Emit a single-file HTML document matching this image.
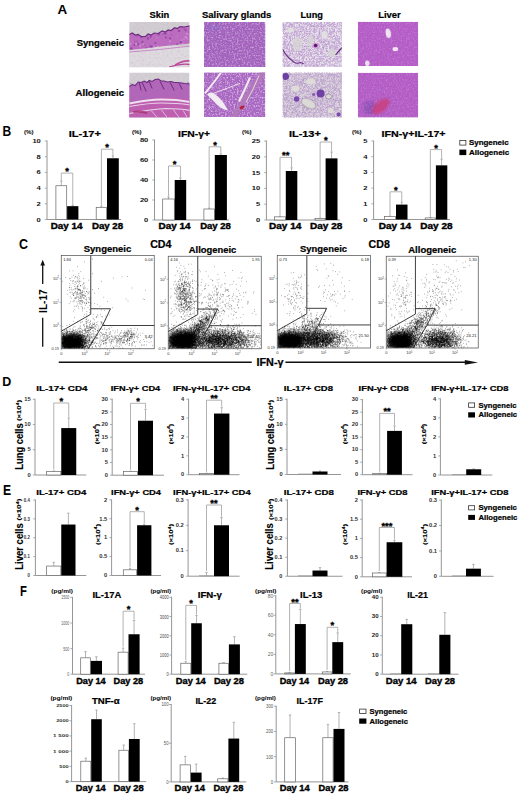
<!DOCTYPE html><html><head><meta charset="utf-8"><style>html,body{margin:0;padding:0;background:#fff;width:520px;height:796px;overflow:hidden}body{position:relative;font-family:"Liberation Sans",sans-serif}</style></head><body><svg width="520" height="796" viewBox="0 0 520 796" style="position:absolute;left:0;top:0">
<g font-family='"Liberation Sans", sans-serif' font-weight="bold">
<defs>
<filter id="blur2" x="-50%" y="-50%" width="200%" height="200%"><feGaussianBlur stdDeviation="2.2"/></filter>
<filter id="blur1" x="-50%" y="-50%" width="200%" height="200%"><feGaussianBlur stdDeviation="1"/></filter>
<filter id="blur05" x="-50%" y="-50%" width="200%" height="200%"><feGaussianBlur stdDeviation="0.5"/></filter>
<filter id="spD" x="0" y="0" width="100%" height="100%"><feTurbulence type="fractalNoise" baseFrequency="0.32" numOctaves="2" seed="4"/><feColorMatrix type="matrix" values="0 0 0 0 0.35  0 0 0 0 0.12  0 0 0 0 0.5  3 0 0 0 -1.2"/><feGaussianBlur stdDeviation="0.3"/></filter>
<filter id="spL" x="0" y="0" width="100%" height="100%"><feTurbulence type="fractalNoise" baseFrequency="0.32" numOctaves="2" seed="9"/><feColorMatrix type="matrix" values="0 0 0 0 0.9  0 0 0 0 0.75  0 0 0 0 0.92  3 0 0 0 -1.3"/><feGaussianBlur stdDeviation="0.3"/></filter>
<filter id="spG" x="0" y="0" width="100%" height="100%"><feTurbulence type="fractalNoise" baseFrequency="0.45" numOctaves="2" seed="21"/><feColorMatrix type="matrix" values="0 0 0 0 0.55  0 0 0 0 0.45  0 0 0 0 0.6  3.0 0 0 0 -1.4"/><feGaussianBlur stdDeviation="0.3"/></filter>
<filter id="net" x="0" y="0" width="100%" height="100%"><feTurbulence type="turbulence" baseFrequency="0.4" numOctaves="3" seed="8"/><feColorMatrix type="matrix" values="0 0 0 0 0.6  0 0 0 0 0.47  0 0 0 0 0.7  -4.5 0 0 0 1.75"/><feGaussianBlur stdDeviation="0.4"/></filter>
<filter id="net2" x="0" y="0" width="100%" height="100%"><feTurbulence type="turbulence" baseFrequency="0.42" numOctaves="3" seed="15"/><feColorMatrix type="matrix" values="0 0 0 0 0.55  0 0 0 0 0.45  0 0 0 0 0.64  -4.5 0 0 0 1.7"/><feGaussianBlur stdDeviation="0.4"/></filter>
<filter id="spL2" x="0" y="0" width="100%" height="100%"><feTurbulence type="fractalNoise" baseFrequency="0.6" numOctaves="2" seed="13"/><feColorMatrix type="matrix" values="0 0 0 0 0.88  0 0 0 0 0.72  0 0 0 0 0.92  3.2 0 0 0 -1.45"/><feGaussianBlur stdDeviation="0.3"/></filter>
<filter id="spD2" x="0" y="0" width="100%" height="100%"><feTurbulence type="fractalNoise" baseFrequency="0.55" numOctaves="2" seed="17"/><feColorMatrix type="matrix" values="0 0 0 0 0.38  0 0 0 0 0.14  0 0 0 0 0.52  3.2 0 0 0 -1.35"/><feGaussianBlur stdDeviation="0.3"/></filter>
</defs>
<text x="57.50" y="13.90" font-size="13.70" textLength="9.70" lengthAdjust="spacingAndGlyphs" stroke="#000" stroke-width="0.01">A</text>
<text x="149.50" y="17.50" font-size="9.80" textLength="19.80" lengthAdjust="spacingAndGlyphs" stroke="#000" stroke-width="0.22">Skin</text>
<text x="202.00" y="17.50" font-size="9.80" textLength="69.30" lengthAdjust="spacingAndGlyphs" stroke="#000" stroke-width="0.22">Salivary glands</text>
<text x="300.50" y="17.50" font-size="9.80" textLength="22.50" lengthAdjust="spacingAndGlyphs" stroke="#000" stroke-width="0.22">Lung</text>
<text x="378.20" y="17.50" font-size="9.80" textLength="22.60" lengthAdjust="spacingAndGlyphs" stroke="#000" stroke-width="0.22">Liver</text>
<text x="76.70" y="46.20" font-size="8.90" textLength="47.30" lengthAdjust="spacingAndGlyphs" stroke="#000" stroke-width="0.22">Syngeneic</text>
<text x="75.60" y="96.20" font-size="8.90" textLength="48.40" lengthAdjust="spacingAndGlyphs" stroke="#000" stroke-width="0.22">Allogeneic</text>
<clipPath id="c1"><rect x="129.2" y="22" width="60.3" height="45.3"/></clipPath>
<g clip-path="url(#c1)"><g transform="translate(129.2,22)">
<rect width="60.3" height="45.3" fill="#d1cdd1"/>
<rect y="24" width="60.3" height="45.3" fill="#dedade"/>
<rect width="60.3" height="45.3" filter="url(#spG)" opacity="0.35"/>
<polygon points="0,12.5 3,11 6,13 9,12.5 12,14.5 16,14.6 19,12 22,13 25,11 29,11.5 33,9 36,10 39,8 42,8.5 45.4,5.7 48,6.5 51,4.5 55,5 61,3.8 61,21.5 50,22.5 40,23.5 29,24.8 20,26 10,27 0,28" fill="#bb6cbf"/>
<clipPath id="skb"><polygon points="0,12.5 3,11 6,13 9,12.5 12,14.5 16,14.6 19,12 22,13 25,11 29,11.5 33,9 36,10 39,8 42,8.5 45.4,5.7 48,6.5 51,4.5 55,5 61,3.8 61,21.5 50,22.5 40,23.5 29,24.8 20,26 10,27 0,28"/></clipPath>
<g clip-path="url(#skb)"><g fill="#7a3290" opacity="0.6"><circle cx="7.8" cy="3.7" r="0.58"/><circle cx="30.5" cy="25.7" r="0.64"/><circle cx="36.7" cy="15.6" r="0.98"/><circle cx="1.8" cy="6.4" r="1.04"/><circle cx="9.0" cy="23.0" r="0.80"/><circle cx="56.6" cy="8.3" r="1.05"/><circle cx="4.3" cy="4.7" r="0.82"/><circle cx="7.9" cy="19.2" r="0.65"/><circle cx="57.8" cy="27.2" r="0.79"/><circle cx="37.9" cy="3.7" r="0.85"/><circle cx="22.5" cy="24.7" r="1.25"/><circle cx="31.2" cy="8.1" r="0.64"/><circle cx="40.4" cy="5.5" r="0.62"/><circle cx="16.8" cy="3.5" r="0.98"/><circle cx="8.4" cy="10.9" r="1.29"/><circle cx="48.1" cy="22.6" r="1.25"/><circle cx="40.9" cy="16.3" r="1.09"/><circle cx="31.3" cy="26.0" r="0.60"/><circle cx="49.8" cy="8.9" r="1.17"/><circle cx="33.5" cy="11.5" r="1.08"/><circle cx="59.8" cy="10.0" r="0.66"/><circle cx="12.5" cy="29.4" r="0.91"/><circle cx="33.8" cy="28.4" r="0.59"/><circle cx="29.5" cy="12.2" r="1.17"/><circle cx="21.5" cy="14.8" r="1.10"/><circle cx="36.1" cy="11.5" r="1.17"/><circle cx="14.4" cy="23.2" r="1.14"/><circle cx="48.9" cy="4.1" r="0.76"/><circle cx="52.9" cy="4.8" r="1.16"/><circle cx="7.9" cy="13.9" r="0.74"/><circle cx="28.5" cy="9.6" r="0.66"/><circle cx="16.9" cy="25.8" r="0.85"/><circle cx="5.1" cy="23.0" r="0.93"/><circle cx="54.7" cy="17.7" r="0.77"/><circle cx="26.2" cy="20.9" r="1.02"/><circle cx="9.0" cy="21.7" r="1.01"/><circle cx="41.1" cy="24.1" r="0.73"/><circle cx="12.3" cy="28.0" r="1.03"/><circle cx="55.0" cy="7.0" r="0.83"/><circle cx="13.2" cy="19.9" r="1.12"/><circle cx="2.0" cy="6.9" r="0.77"/><circle cx="12.2" cy="15.0" r="1.17"/><circle cx="21.1" cy="24.2" r="0.87"/><circle cx="28.6" cy="27.2" r="0.98"/><circle cx="55.3" cy="23.5" r="1.07"/><circle cx="42.5" cy="4.0" r="0.95"/><circle cx="20.7" cy="12.7" r="0.75"/><circle cx="1.0" cy="7.4" r="1.30"/><circle cx="9.7" cy="30.0" r="0.62"/><circle cx="60.8" cy="6.9" r="0.80"/><circle cx="28.0" cy="9.6" r="0.97"/><circle cx="42.2" cy="12.6" r="0.57"/><circle cx="3.3" cy="4.6" r="0.67"/><circle cx="2.1" cy="26.5" r="1.17"/><circle cx="51.6" cy="20.2" r="1.15"/><circle cx="35.9" cy="7.3" r="1.04"/><circle cx="18.8" cy="16.5" r="1.24"/><circle cx="19.4" cy="5.1" r="1.13"/><circle cx="5.4" cy="19.5" r="0.78"/><circle cx="10.5" cy="9.3" r="1.05"/></g><g fill="#d9a0d9" opacity="0.7"><circle cx="15.3" cy="14.3" r="0.55"/><circle cx="57.8" cy="11.7" r="0.98"/><circle cx="11.5" cy="7.6" r="0.72"/><circle cx="10.9" cy="24.1" r="0.98"/><circle cx="21.3" cy="27.7" r="0.56"/><circle cx="14.1" cy="22.7" r="1.11"/><circle cx="40.9" cy="19.2" r="0.99"/><circle cx="7.0" cy="22.2" r="1.05"/><circle cx="54.7" cy="17.5" r="0.92"/><circle cx="52.3" cy="18.1" r="0.82"/><circle cx="0.2" cy="27.5" r="0.64"/><circle cx="33.0" cy="10.6" r="1.16"/><circle cx="6.5" cy="9.0" r="0.60"/><circle cx="15.7" cy="28.6" r="0.86"/><circle cx="25.4" cy="28.5" r="0.59"/><circle cx="27.7" cy="15.9" r="0.58"/><circle cx="28.6" cy="24.6" r="0.99"/><circle cx="56.6" cy="23.1" r="1.12"/><circle cx="15.8" cy="28.6" r="0.82"/><circle cx="11.5" cy="5.2" r="1.06"/><circle cx="40.9" cy="27.3" r="1.10"/><circle cx="57.7" cy="16.5" r="0.87"/><circle cx="56.3" cy="15.1" r="1.04"/><circle cx="53.7" cy="21.5" r="0.71"/><circle cx="3.9" cy="19.6" r="0.61"/><circle cx="57.1" cy="14.8" r="0.63"/><circle cx="39.6" cy="10.9" r="0.50"/><circle cx="53.2" cy="27.8" r="0.55"/><circle cx="24.9" cy="25.1" r="1.03"/><circle cx="13.4" cy="5.8" r="1.13"/><circle cx="48.4" cy="13.9" r="0.54"/><circle cx="40.4" cy="23.6" r="1.00"/><circle cx="47.5" cy="26.7" r="1.04"/><circle cx="12.3" cy="29.0" r="0.98"/><circle cx="8.2" cy="9.5" r="0.85"/><circle cx="46.6" cy="27.1" r="0.84"/><circle cx="1.2" cy="21.8" r="0.99"/><circle cx="57.7" cy="4.8" r="0.67"/><circle cx="8.2" cy="8.7" r="1.03"/><circle cx="36.6" cy="8.1" r="0.63"/></g></g>
<polyline points="0,12.5 3,11 6,13 9,12.5 12,14.5 16,14.6 19,12 22,13 25,11 29,11.5 33,9 36,10 39,8 42,8.5 45.4,5.7 48,6.5 51,4.5 55,5 61,3.8" fill="none" stroke="#6e2c80" stroke-width="1.2"/>
<path d="M46 43 Q54 38 61 39" stroke="#c34c9d" stroke-width="1.6" fill="none"/>
<path d="M40 45 Q52 41 61 42.5" stroke="#b9459a" stroke-width="1.3" fill="none"/>
<path d="M0 30 Q30 28 61 24" stroke="#c88ac8" stroke-width="1" fill="none"/>
</g></g>
<clipPath id="c2"><rect x="129.2" y="72.5" width="60.3" height="45"/></clipPath>
<g clip-path="url(#c2)"><g transform="translate(129.2,72.5)">
<rect width="60.3" height="45" fill="#d3cfd3"/>
<rect width="60.3" height="45" filter="url(#spG)" opacity="0.3"/>
<polygon points="0,14 3,12 6,13 9,9.5 12,10 15,8.5 18,10 20,8 23,9 26,7 29,6.5 32,8.5 35,8.5 38,9.5 42,9 45,10 48,10 52,10.5 55,11 61,11.4 61,45 0,45" fill="#b466b8"/>
<path d="M0 30 Q25 25 40 25 Q52 25 61 28 L61 45 L0 45Z" fill="#c35fae"/>
<rect y="10" width="60.3" height="45" filter="url(#spD2)" opacity="0.5"/>
<polyline points="0,14 3,12 6,13 9,9.5 12,10 15,8.5 18,10 20,8 23,9 26,7 29,6.5 32,8.5 35,8.5 38,9.5 42,9 45,10 48,10 52,10.5 55,11 61,11.4" fill="none" stroke="#6b2a80" stroke-width="1.1"/>
<path d="M10 10 L12 18 M13 10 L17 19 M20 9 L23 16 M31 9 L35 17 M41 10 L45 18 M50 11 L53 17" stroke="#5c2275" stroke-width="1" fill="none" opacity="0.85"/>
<path d="M0 31 Q20 27 32 27 Q48 27 61 29.5" stroke="#efe0ef" stroke-width="1.8" fill="none"/>
<path d="M0 34 Q20 30.5 32 30.5 Q48 30.5 61 32.5" stroke="#e8d4e8" stroke-width="1.1" fill="none"/>
<path d="M0 41 Q20 37 36 36 Q50 36 61 38" stroke="#ead6ea" stroke-width="1.2" fill="none"/>
<path d="M4 39.5 Q10 38.5 18 40.5" stroke="#a8306e" stroke-width="2.2" fill="none" opacity="0.8"/>
<path d="M22 38 L28 45 M32 37 L38 45 M44 37 L50 45 M54 38 L58 45" stroke="#e6cce6" stroke-width="0.8" fill="none"/>
</g></g>
<clipPath id="c3"><rect x="204" y="22" width="61.4" height="45"/></clipPath>
<g clip-path="url(#c3)"><g transform="translate(204,22)">
<rect width="61.4" height="45" fill="#a160bc"/>
<rect x="3" y="3" width="14" height="5" fill="#8062c6" opacity="0.6" filter="url(#blur1)"/>
<rect width="61.4" height="45" filter="url(#spD2)" opacity="0.9"/>
<rect width="61.4" height="45" filter="url(#spL2)" opacity="0.45"/>
</g></g>
<clipPath id="c4"><rect x="204" y="72.4" width="61.3" height="44.7"/></clipPath>
<g clip-path="url(#c4)"><g transform="translate(204,72.4)">
<rect width="61.3" height="44.7" fill="#a866c2"/>
<rect width="61.3" height="44.7" filter="url(#spD2)" opacity="0.7"/>
<rect width="61.3" height="44.7" filter="url(#spL2)" opacity="0.6"/>
<path d="M60 -2 L28 47" stroke="#b27ab8" stroke-width="6" fill="none" opacity="0.8"/>
<path d="M18 -1 Q10 10 1 21" stroke="#f4eef4" stroke-width="1.8" fill="none"/>
<path d="M3 22 Q6 19 10 21 Q16 25 20 31 Q23 36 24 38 Q18 37 13 32 Q8 27 3 22Z" fill="#f2ecf2"/>
<path d="M8 21.5 L36 11" stroke="#eee4ee" stroke-width="0.9" fill="none"/>
<path d="M46 5 Q42 15 35 29" stroke="#f0e6f0" stroke-width="2.2" fill="none"/>
<path d="M55 3 Q50 16 42 30" stroke="#e4d4e4" stroke-width="1" fill="none"/>
<ellipse cx="38" cy="35" rx="2.6" ry="1.6" transform="rotate(-30 38 35)" fill="#b8203c"/>
</g></g>
<clipPath id="c5"><rect x="282.6" y="22" width="59.2" height="44.8"/></clipPath>
<g clip-path="url(#c5)"><g transform="translate(282.6,22)">
<rect width="59.2" height="44.8" fill="#e8e4ec"/>
<rect width="59.2" height="44.8" filter="url(#net)"/>
<rect width="59.2" height="44.8" filter="url(#spD2)" opacity="0.4"/>
<ellipse cx="15" cy="22" rx="5" ry="7" fill="#d8d6d6" opacity="0.8" filter="url(#blur05)"/>
<ellipse cx="28" cy="19" rx="3.5" ry="6" fill="#d8d6d6" opacity="0.8" filter="url(#blur05)"/>
<ellipse cx="50" cy="31" rx="5" ry="4" fill="#d8d6d6" opacity="0.8" filter="url(#blur05)"/>
<ellipse cx="42" cy="13" rx="3" ry="4" fill="#e2dfe2" filter="url(#blur05)"/>
<ellipse cx="8" cy="8" rx="3" ry="2.5" fill="#e2dfe2" filter="url(#blur05)"/>
<circle cx="33" cy="23.5" r="3" fill="#d07ad0" opacity="0.6"/>
<circle cx="33" cy="23.5" r="1.8" fill="#5a1a70"/>
<path d="M0 27 Q4 35 9 38 Q12 42 16 41 Q19 40 21 42" stroke="#6a2e88" stroke-width="1.1" fill="none"/>
<path d="M53 33 Q56 29 60 25" stroke="#5e2680" stroke-width="1.2" fill="none"/>
</g></g>
<clipPath id="c6"><rect x="282.6" y="72.5" width="59.2" height="45"/></clipPath>
<g clip-path="url(#c6)"><g transform="translate(282.6,72.5)">
<rect width="59.2" height="45" fill="#dcd6de"/>
<rect width="59.2" height="45" filter="url(#net2)"/>
<rect width="59.2" height="45" filter="url(#spD2)" opacity="0.35"/>
<ellipse cx="26" cy="31" rx="8" ry="4.4" transform="rotate(28 26 31)" fill="#dcdad8" stroke="#6a4a7a" stroke-width="0.4" filter="url(#blur05)"/>
<ellipse cx="46" cy="24" rx="3" ry="2.6" fill="#dcdad8" stroke="#6a4a7a" stroke-width="0.4"/>
<ellipse cx="48" cy="38" rx="3" ry="2.6" fill="#dedbd9" filter="url(#blur05)"/>
<ellipse cx="28" cy="9" rx="5" ry="3" fill="#dedbd9" filter="url(#blur05)"/>
<ellipse cx="13" cy="16" rx="4" ry="3" fill="#dedbd9" filter="url(#blur05)"/>
<circle cx="3" cy="4" r="3.4" fill="#6a40a0" filter="url(#blur05)"/>
<circle cx="38" cy="21" r="4" fill="#7040a4" filter="url(#blur05)"/>
<circle cx="14" cy="26.5" r="2.8" fill="#7a4aaa" filter="url(#blur05)"/>
<circle cx="31" cy="22" r="1.5" fill="#8456b0"/>
<circle cx="56" cy="42" r="2" fill="#7a4aaa" filter="url(#blur05)"/>
</g></g>
<clipPath id="c7"><rect x="357.8" y="21.8" width="60.4" height="44.2"/></clipPath>
<g clip-path="url(#c7)"><g transform="translate(357.8,21.8)">
<rect width="60.4" height="44.2" fill="#b65bc8"/>
<rect width="60.4" height="44.2" filter="url(#spD2)" opacity="0.4"/>
<rect width="60.4" height="44.2" filter="url(#spL2)" opacity="0.2"/>
<ellipse cx="30.5" cy="11.5" rx="2.6" ry="4.8" transform="rotate(-10 30.5 11.5)" fill="#f0e4f2" filter="url(#blur05)"/>
<ellipse cx="37.5" cy="27.3" rx="2.8" ry="2.2" fill="#f0e4f2" filter="url(#blur05)"/>
<ellipse cx="9.5" cy="41.5" rx="2.2" ry="2.8" fill="#ecdeee" filter="url(#blur05)"/>
</g></g>
<clipPath id="c8"><rect x="357.8" y="72.8" width="60.4" height="44.8"/></clipPath>
<g clip-path="url(#c8)"><g transform="translate(357.8,72.8)">
<rect width="60.4" height="44.8" fill="#b55bc6"/>
<ellipse cx="12" cy="35" rx="7" ry="7" fill="#8a4cb4" opacity="0.8" filter="url(#blur1)"/>
<rect width="60.4" height="44.8" filter="url(#spD2)" opacity="0.4"/>
<rect width="60.4" height="44.8" filter="url(#spL2)" opacity="0.2"/>
<ellipse cx="23" cy="33.5" rx="10.5" ry="5.4" transform="rotate(-40 23 33.5)" fill="#c9417f" opacity="0.85" filter="url(#blur1)"/>
</g></g>
<text x="2.60" y="135.60" font-size="14.00" textLength="8.70" lengthAdjust="spacingAndGlyphs" stroke="#000" stroke-width="0.01">B</text>
<line x1="47.00" y1="140.50" x2="47.00" y2="219.50" stroke="#8a8a8a" stroke-width="0.9"/>
<line x1="47.00" y1="219.50" x2="121.00" y2="219.50" stroke="#8a8a8a" stroke-width="0.9"/>
<line x1="44.80" y1="219.50" x2="47.00" y2="219.50" stroke="#8a8a8a" stroke-width="0.7"/>
<text x="36.60" y="221.55" font-size="5.70" fill="#111" textLength="4.20" lengthAdjust="spacingAndGlyphs">0</text>
<line x1="44.80" y1="203.80" x2="47.00" y2="203.80" stroke="#8a8a8a" stroke-width="0.7"/>
<text x="36.60" y="205.85" font-size="5.70" fill="#111" textLength="4.20" lengthAdjust="spacingAndGlyphs">2</text>
<line x1="44.80" y1="188.10" x2="47.00" y2="188.10" stroke="#8a8a8a" stroke-width="0.7"/>
<text x="36.60" y="190.15" font-size="5.70" fill="#111" textLength="4.20" lengthAdjust="spacingAndGlyphs">4</text>
<line x1="44.80" y1="172.40" x2="47.00" y2="172.40" stroke="#8a8a8a" stroke-width="0.7"/>
<text x="36.60" y="174.45" font-size="5.70" fill="#111" textLength="4.20" lengthAdjust="spacingAndGlyphs">6</text>
<line x1="44.80" y1="156.70" x2="47.00" y2="156.70" stroke="#8a8a8a" stroke-width="0.7"/>
<text x="36.60" y="158.75" font-size="5.70" fill="#111" textLength="4.20" lengthAdjust="spacingAndGlyphs">8</text>
<line x1="44.80" y1="141.00" x2="47.00" y2="141.00" stroke="#8a8a8a" stroke-width="0.7"/>
<text x="32.40" y="143.05" font-size="5.70" fill="#111" textLength="8.40" lengthAdjust="spacingAndGlyphs">10</text>
<line x1="61.30" y1="181.03" x2="61.30" y2="185.75" stroke="#999" stroke-width="0.75"/>
<line x1="60.10" y1="181.03" x2="62.50" y2="181.03" stroke="#999" stroke-width="0.75"/>
<rect x="55.90" y="185.75" width="10.80" height="33.75" fill="#fff" stroke="#666" stroke-width="0.7"/>
<line x1="72.75" y1="205.37" x2="72.75" y2="206.16" stroke="#999" stroke-width="0.75"/>
<line x1="71.55" y1="205.37" x2="73.95" y2="205.37" stroke="#999" stroke-width="0.75"/>
<rect x="67.10" y="206.16" width="11.30" height="13.34" fill="#000"/>
<line x1="101.40" y1="206.16" x2="101.40" y2="207.33" stroke="#999" stroke-width="0.75"/>
<line x1="100.20" y1="206.16" x2="102.60" y2="206.16" stroke="#999" stroke-width="0.75"/>
<rect x="96.20" y="207.33" width="10.40" height="12.17" fill="#fff" stroke="#666" stroke-width="0.7"/>
<line x1="112.90" y1="155.92" x2="112.90" y2="158.27" stroke="#999" stroke-width="0.75"/>
<line x1="111.70" y1="155.92" x2="114.10" y2="155.92" stroke="#999" stroke-width="0.75"/>
<rect x="107.00" y="158.27" width="11.80" height="61.23" fill="#000"/>
<polyline points="61.30,180.44 61.30,173.10 72.75,173.10 72.75,204.77" fill="none" stroke="#999" stroke-width="0.75"/>
<text x="67.03" y="174.10" font-size="9.40" text-anchor="middle" stroke="#000" stroke-width="0.35">*</text>
<polyline points="101.40,205.56 101.40,149.20 112.90,149.20 112.90,155.32" fill="none" stroke="#999" stroke-width="0.75"/>
<text x="107.15" y="150.20" font-size="9.40" text-anchor="middle" stroke="#000" stroke-width="0.35">*</text>
<text x="68.70" y="136.60" font-size="8.80" textLength="32.30" lengthAdjust="spacingAndGlyphs" stroke="#000" stroke-width="0.22">IL-17+</text>
<text x="24.00" y="134.20" font-size="4.80" textLength="9.60" lengthAdjust="spacingAndGlyphs">(%)</text>
<text x="50.70" y="228.60" font-size="8.20" textLength="31.70" lengthAdjust="spacingAndGlyphs" stroke="#000" stroke-width="0.35">Day 14</text>
<text x="91.90" y="228.60" font-size="8.20" textLength="31.20" lengthAdjust="spacingAndGlyphs" stroke="#000" stroke-width="0.35">Day 28</text>
<line x1="154.50" y1="139.50" x2="154.50" y2="220.00" stroke="#8a8a8a" stroke-width="0.9"/>
<line x1="154.50" y1="220.00" x2="229.00" y2="220.00" stroke="#8a8a8a" stroke-width="0.9"/>
<line x1="152.30" y1="220.00" x2="154.50" y2="220.00" stroke="#8a8a8a" stroke-width="0.7"/>
<text x="144.10" y="222.05" font-size="5.70" fill="#111" textLength="4.20" lengthAdjust="spacingAndGlyphs">0</text>
<line x1="152.30" y1="200.00" x2="154.50" y2="200.00" stroke="#8a8a8a" stroke-width="0.7"/>
<text x="139.90" y="202.05" font-size="5.70" fill="#111" textLength="8.40" lengthAdjust="spacingAndGlyphs">20</text>
<line x1="152.30" y1="180.00" x2="154.50" y2="180.00" stroke="#8a8a8a" stroke-width="0.7"/>
<text x="139.90" y="182.05" font-size="5.70" fill="#111" textLength="8.40" lengthAdjust="spacingAndGlyphs">40</text>
<line x1="152.30" y1="160.00" x2="154.50" y2="160.00" stroke="#8a8a8a" stroke-width="0.7"/>
<text x="139.90" y="162.05" font-size="5.70" fill="#111" textLength="8.40" lengthAdjust="spacingAndGlyphs">60</text>
<line x1="152.30" y1="140.00" x2="154.50" y2="140.00" stroke="#8a8a8a" stroke-width="0.7"/>
<text x="139.90" y="142.05" font-size="5.70" fill="#111" textLength="8.40" lengthAdjust="spacingAndGlyphs">80</text>
<line x1="168.50" y1="197.00" x2="168.50" y2="199.00" stroke="#999" stroke-width="0.75"/>
<line x1="167.30" y1="197.00" x2="169.70" y2="197.00" stroke="#999" stroke-width="0.75"/>
<rect x="162.70" y="199.00" width="11.60" height="21.00" fill="#fff" stroke="#666" stroke-width="0.7"/>
<line x1="180.45" y1="178.00" x2="180.45" y2="180.00" stroke="#999" stroke-width="0.75"/>
<line x1="179.25" y1="178.00" x2="181.65" y2="178.00" stroke="#999" stroke-width="0.75"/>
<rect x="174.70" y="180.00" width="11.50" height="40.00" fill="#000"/>
<line x1="209.15" y1="208.00" x2="209.15" y2="209.00" stroke="#999" stroke-width="0.75"/>
<line x1="207.95" y1="208.00" x2="210.35" y2="208.00" stroke="#999" stroke-width="0.75"/>
<rect x="203.90" y="209.00" width="10.50" height="11.00" fill="#fff" stroke="#666" stroke-width="0.7"/>
<line x1="220.85" y1="154.00" x2="220.85" y2="155.00" stroke="#999" stroke-width="0.75"/>
<line x1="219.65" y1="154.00" x2="222.05" y2="154.00" stroke="#999" stroke-width="0.75"/>
<rect x="214.80" y="155.00" width="12.10" height="65.00" fill="#000"/>
<polyline points="168.50,196.40 168.50,166.00 180.45,166.00 180.45,177.40" fill="none" stroke="#999" stroke-width="0.75"/>
<text x="174.47" y="167.00" font-size="9.40" text-anchor="middle" stroke="#000" stroke-width="0.35">*</text>
<polyline points="209.15,207.40 209.15,146.80 220.85,146.80 220.85,153.40" fill="none" stroke="#999" stroke-width="0.75"/>
<text x="215.00" y="147.80" font-size="9.40" text-anchor="middle" stroke="#000" stroke-width="0.35">*</text>
<text x="178.00" y="136.60" font-size="8.80" textLength="32.00" lengthAdjust="spacingAndGlyphs" stroke="#000" stroke-width="0.22">IFN-&#947;+</text>
<text x="132.00" y="134.20" font-size="4.80" textLength="9.60" lengthAdjust="spacingAndGlyphs">(%)</text>
<text x="158.50" y="228.60" font-size="8.20" textLength="32.00" lengthAdjust="spacingAndGlyphs" stroke="#000" stroke-width="0.35">Day 14</text>
<text x="200.20" y="228.60" font-size="8.20" textLength="30.70" lengthAdjust="spacingAndGlyphs" stroke="#000" stroke-width="0.35">Day 28</text>
<line x1="266.40" y1="140.50" x2="266.40" y2="220.00" stroke="#8a8a8a" stroke-width="0.9"/>
<line x1="266.40" y1="220.00" x2="340.00" y2="220.00" stroke="#8a8a8a" stroke-width="0.9"/>
<line x1="264.20" y1="220.00" x2="266.40" y2="220.00" stroke="#8a8a8a" stroke-width="0.7"/>
<text x="256.00" y="222.05" font-size="5.70" fill="#111" textLength="4.20" lengthAdjust="spacingAndGlyphs">0</text>
<line x1="264.20" y1="204.20" x2="266.40" y2="204.20" stroke="#8a8a8a" stroke-width="0.7"/>
<text x="256.00" y="206.25" font-size="5.70" fill="#111" textLength="4.20" lengthAdjust="spacingAndGlyphs">5</text>
<line x1="264.20" y1="188.40" x2="266.40" y2="188.40" stroke="#8a8a8a" stroke-width="0.7"/>
<text x="251.80" y="190.45" font-size="5.70" fill="#111" textLength="8.40" lengthAdjust="spacingAndGlyphs">10</text>
<line x1="264.20" y1="172.60" x2="266.40" y2="172.60" stroke="#8a8a8a" stroke-width="0.7"/>
<text x="251.80" y="174.65" font-size="5.70" fill="#111" textLength="8.40" lengthAdjust="spacingAndGlyphs">15</text>
<line x1="264.20" y1="156.80" x2="266.40" y2="156.80" stroke="#8a8a8a" stroke-width="0.7"/>
<text x="251.80" y="158.85" font-size="5.70" fill="#111" textLength="8.40" lengthAdjust="spacingAndGlyphs">20</text>
<line x1="264.20" y1="141.00" x2="266.40" y2="141.00" stroke="#8a8a8a" stroke-width="0.7"/>
<text x="251.80" y="143.05" font-size="5.70" fill="#111" textLength="8.40" lengthAdjust="spacingAndGlyphs">25</text>
<line x1="280.00" y1="216.37" x2="280.00" y2="216.84" stroke="#999" stroke-width="0.75"/>
<line x1="278.80" y1="216.37" x2="281.20" y2="216.37" stroke="#999" stroke-width="0.75"/>
<rect x="274.60" y="216.84" width="10.80" height="3.16" fill="#fff" stroke="#666" stroke-width="0.7"/>
<line x1="291.55" y1="167.86" x2="291.55" y2="171.02" stroke="#999" stroke-width="0.75"/>
<line x1="290.35" y1="167.86" x2="292.75" y2="167.86" stroke="#999" stroke-width="0.75"/>
<rect x="285.80" y="171.02" width="11.50" height="48.98" fill="#000"/>
<line x1="320.10" y1="218.10" x2="320.10" y2="218.42" stroke="#999" stroke-width="0.75"/>
<line x1="318.90" y1="218.10" x2="321.30" y2="218.10" stroke="#999" stroke-width="0.75"/>
<rect x="315.00" y="218.42" width="10.20" height="1.58" fill="#fff" stroke="#666" stroke-width="0.7"/>
<line x1="331.55" y1="152.06" x2="331.55" y2="158.38" stroke="#999" stroke-width="0.75"/>
<line x1="330.35" y1="152.06" x2="332.75" y2="152.06" stroke="#999" stroke-width="0.75"/>
<rect x="325.60" y="158.38" width="11.90" height="61.62" fill="#000"/>
<polyline points="280.00,215.77 280.00,157.30 291.55,157.30 291.55,167.26" fill="none" stroke="#999" stroke-width="0.75"/>
<text x="285.77" y="158.30" font-size="9.40" text-anchor="middle" stroke="#000" stroke-width="0.35">**</text>
<polyline points="320.10,217.50 320.10,142.00 331.55,142.00 331.55,151.46" fill="none" stroke="#999" stroke-width="0.75"/>
<text x="325.83" y="143.00" font-size="9.40" text-anchor="middle" stroke="#000" stroke-width="0.35">*</text>
<text x="289.00" y="136.60" font-size="8.80" textLength="31.80" lengthAdjust="spacingAndGlyphs" stroke="#000" stroke-width="0.22">IL-13+</text>
<text x="242.00" y="134.20" font-size="4.80" textLength="9.60" lengthAdjust="spacingAndGlyphs">(%)</text>
<text x="269.00" y="228.60" font-size="8.20" textLength="32.40" lengthAdjust="spacingAndGlyphs" stroke="#000" stroke-width="0.35">Day 14</text>
<text x="310.00" y="228.60" font-size="8.20" textLength="32.30" lengthAdjust="spacingAndGlyphs" stroke="#000" stroke-width="0.35">Day 28</text>
<line x1="373.60" y1="140.50" x2="373.60" y2="219.50" stroke="#8a8a8a" stroke-width="0.9"/>
<line x1="373.60" y1="219.50" x2="450.00" y2="219.50" stroke="#8a8a8a" stroke-width="0.9"/>
<line x1="371.40" y1="219.50" x2="373.60" y2="219.50" stroke="#8a8a8a" stroke-width="0.7"/>
<text x="363.20" y="221.55" font-size="5.70" fill="#111" textLength="4.20" lengthAdjust="spacingAndGlyphs">0</text>
<line x1="371.40" y1="203.80" x2="373.60" y2="203.80" stroke="#8a8a8a" stroke-width="0.7"/>
<text x="363.20" y="205.85" font-size="5.70" fill="#111" textLength="4.20" lengthAdjust="spacingAndGlyphs">1</text>
<line x1="371.40" y1="188.10" x2="373.60" y2="188.10" stroke="#8a8a8a" stroke-width="0.7"/>
<text x="363.20" y="190.15" font-size="5.70" fill="#111" textLength="4.20" lengthAdjust="spacingAndGlyphs">2</text>
<line x1="371.40" y1="172.40" x2="373.60" y2="172.40" stroke="#8a8a8a" stroke-width="0.7"/>
<text x="363.20" y="174.45" font-size="5.70" fill="#111" textLength="4.20" lengthAdjust="spacingAndGlyphs">3</text>
<line x1="371.40" y1="156.70" x2="373.60" y2="156.70" stroke="#8a8a8a" stroke-width="0.7"/>
<text x="363.20" y="158.75" font-size="5.70" fill="#111" textLength="4.20" lengthAdjust="spacingAndGlyphs">4</text>
<line x1="371.40" y1="141.00" x2="373.60" y2="141.00" stroke="#8a8a8a" stroke-width="0.7"/>
<text x="363.20" y="143.05" font-size="5.70" fill="#111" textLength="4.20" lengthAdjust="spacingAndGlyphs">5</text>
<line x1="390.00" y1="216.05" x2="390.00" y2="216.36" stroke="#999" stroke-width="0.75"/>
<line x1="388.80" y1="216.05" x2="391.20" y2="216.05" stroke="#999" stroke-width="0.75"/>
<rect x="384.40" y="216.36" width="11.20" height="3.14" fill="#fff" stroke="#666" stroke-width="0.7"/>
<line x1="401.75" y1="202.23" x2="401.75" y2="204.59" stroke="#999" stroke-width="0.75"/>
<line x1="400.55" y1="202.23" x2="402.95" y2="202.23" stroke="#999" stroke-width="0.75"/>
<rect x="396.00" y="204.59" width="11.50" height="14.91" fill="#000"/>
<line x1="430.35" y1="217.62" x2="430.35" y2="217.93" stroke="#999" stroke-width="0.75"/>
<line x1="429.15" y1="217.62" x2="431.55" y2="217.62" stroke="#999" stroke-width="0.75"/>
<rect x="425.20" y="217.93" width="10.30" height="1.57" fill="#fff" stroke="#666" stroke-width="0.7"/>
<line x1="441.60" y1="159.06" x2="441.60" y2="165.34" stroke="#999" stroke-width="0.75"/>
<line x1="440.40" y1="159.06" x2="442.80" y2="159.06" stroke="#999" stroke-width="0.75"/>
<rect x="435.90" y="165.34" width="11.40" height="54.16" fill="#000"/>
<polyline points="390.00,215.45 390.00,191.80 401.75,191.80 401.75,201.63" fill="none" stroke="#999" stroke-width="0.75"/>
<text x="395.88" y="192.80" font-size="9.40" text-anchor="middle" stroke="#000" stroke-width="0.35">*</text>
<polyline points="430.35,217.02 430.35,149.60 441.60,149.60 441.60,158.46" fill="none" stroke="#999" stroke-width="0.75"/>
<text x="435.98" y="150.60" font-size="9.40" text-anchor="middle" stroke="#000" stroke-width="0.35">*</text>
<text x="381.50" y="136.60" font-size="8.80" textLength="64.10" lengthAdjust="spacingAndGlyphs" stroke="#000" stroke-width="0.22">IFN-&#947;+IL-17+</text>
<text x="352.00" y="134.20" font-size="4.80" textLength="9.60" lengthAdjust="spacingAndGlyphs">(%)</text>
<text x="378.80" y="228.60" font-size="8.20" textLength="32.20" lengthAdjust="spacingAndGlyphs" stroke="#000" stroke-width="0.35">Day 14</text>
<text x="420.30" y="228.60" font-size="8.20" textLength="32.20" lengthAdjust="spacingAndGlyphs" stroke="#000" stroke-width="0.35">Day 28</text>
<rect x="459.80" y="140.40" width="6.10" height="4.70" fill="#fff" stroke="#333" stroke-width="0.8"/>
<rect x="459.40" y="149.60" width="6.90" height="5.50" fill="#000"/>
<text x="469.00" y="145.40" font-size="7.20" textLength="39.60" lengthAdjust="spacingAndGlyphs" stroke="#000" stroke-width="0.22">Syngeneic</text>
<text x="469.00" y="155.00" font-size="7.20" textLength="40.20" lengthAdjust="spacingAndGlyphs" stroke="#000" stroke-width="0.22">Allogeneic</text>
<text x="18.90" y="249.20" font-size="13.80" textLength="9.00" lengthAdjust="spacingAndGlyphs" stroke="#000" stroke-width="0.01">C</text>
<g transform="translate(61.25,255.50)">
<clipPath id="fc61"><rect x="0" y="0" width="93" height="93.25"/></clipPath><g clip-path="url(#fc61)">
<rect x="0" y="79.5" width="22" height="14" rx="4.2" fill="#000" opacity="0.9" filter="url(#blur2)"/>
</g>
<path transform="scale(0.1)" d="M110 896h7M135 897h7M87 804h7M34 849h7M71 872h7M26 905h7M115 833h7M224 807h7M68 915h7M57 920h7M152 884h7M140 835h7M119 885h7M31 870h7M108 907h7M169 803h7M71 857h7M90 844h7M133 794h7M123 862h7M94 887h7M64 919h7M106 805h7M120 790h7M69 888h7M41 896h7M200 821h7M41 905h7M107 823h7M185 791h7M101 881h7M119 901h7M115 893h7M116 879h7M225 926h7M183 795h7M280 891h7M175 876h7M8 873h7M116 831h7M94 898h7M168 890h7M104 884h7M167 917h7M232 890h7M53 902h7M127 807h7M71 891h7M9 839h7M61 859h7M93 910h7M186 913h7M207 896h7M42 890h7M165 806h7M71 892h7M102 850h7M217 905h7M82 904h7M79 901h7M89 820h7M239 833h7M74 812h7M84 838h7M140 810h7M100 832h7M93 855h7M15 815h7M109 794h7M72 797h7M209 888h7M166 868h7M108 916h7M167 917h7M81 848h7M199 899h7M110 793h7M139 854h7M84 771h7M34 826h7M124 902h7M301 869h7M39 840h7M57 913h7M127 813h7M152 879h7M95 840h7M92 823h7M170 888h7M154 815h7M103 836h7M20 810h7M132 895h7M37 805h7M193 798h7M126 873h7M118 899h7M60 801h7M100 924h7M14 872h7M141 884h7M182 775h7M174 893h7M38 844h7M176 814h7M121 780h7M216 892h7M233 848h7M104 808h7M87 839h7M27 848h7M203 836h7M106 888h7M43 867h7M57 835h7M217 806h7M97 841h7M192 854h7M111 883h7M51 893h7M82 876h7M62 876h7M111 815h7M78 757h7M85 839h7M41 832h7M251 851h7M53 803h7M20 809h7M139 860h7M230 871h7M92 890h7M56 854h7M172 867h7M116 831h7M46 923h7M98 824h7M7 871h7M224 852h7M67 853h7M135 895h7M107 868h7M73 856h7M67 929h7M164 829h7M84 813h7M97 905h7M112 900h7M210 920h7M168 811h7M143 919h7M62 889h7M191 803h7M192 876h7M98 851h7M156 786h7M176 829h7M181 921h7M188 842h7M71 829h7M239 908h7M4 914h7M183 914h7M152 826h7M184 862h7M270 917h7M236 832h7M13 828h7M24 807h7M109 735h7M181 792h7M132 896h7M114 858h7M89 830h7M113 873h7M37 817h7M96 833h7M153 823h7M105 815h7M145 843h7M26 783h7M54 828h7M25 828h7M35 909h7M127 844h7M43 825h7M140 798h7M139 806h7M282 862h7M185 922h7M102 834h7M109 918h7M71 865h7M173 765h7M103 800h7M117 902h7M208 875h7M108 903h7M51 846h7M65 882h7M223 853h7M114 849h7M10 893h7M30 881h7M206 823h7M114 878h7M105 866h7M178 916h7M157 861h7M128 892h7M21 812h7M153 833h7M52 752h7M203 926h7M98 899h7M109 823h7M256 855h7M234 878h7M71 896h7M142 883h7M131 835h7M105 901h7M117 873h7M18 842h7M87 860h7M95 862h7M211 875h7M138 885h7M110 840h7M240 828h7M63 902h7M77 780h7M192 730h7M188 830h7M167 899h7M119 782h7M89 736h7M239 911h7M157 854h7M105 883h7M61 820h7M56 905h7M246 809h7M153 851h7M116 915h7M81 809h7M16 847h7M104 873h7M184 798h7M77 923h7M91 882h7M91 789h7M119 863h7M90 832h7M37 869h7M185 830h7M44 913h7M159 830h7M240 914h7M83 863h7M59 908h7M126 838h7M110 840h7M26 807h7M149 894h7M281 912h7M21 877h7M137 854h7M4 884h7M16 864h7M33 912h7M202 823h7M240 831h7M157 880h7M276 853h7M93 924h7M60 846h7M114 842h7M236 767h7M192 908h7M30 805h7M37 837h7M67 828h7M135 901h7M93 862h7M128 866h7M135 781h7M85 861h7M107 791h7M128 880h7M103 883h7M153 864h7M160 891h7M115 895h7M143 855h7M183 800h7M170 918h7M97 891h7M78 888h7M52 803h7M164 806h7M128 878h7M44 794h7M11 882h7M105 847h7M95 773h7M12 750h7M120 785h7M12 879h7M205 863h7M200 853h7M202 879h7M70 895h7M154 760h7M99 850h7M77 824h7M81 803h7M178 852h7M94 792h7M128 841h7M43 781h7M125 879h7M143 895h7M78 888h7M197 809h7M128 915h7M7 826h7M31 808h7M178 835h7M149 860h7M225 896h7M161 864h7M224 912h7M77 869h7M85 910h7M14 795h7M326 786h7M95 904h7M245 795h7M55 850h7M124 860h7M77 842h7M4 739h7M201 909h7M21 866h7M67 864h7M71 901h7M64 806h7M40 869h7M84 856h7M23 893h7M106 898h7M185 844h7M110 831h7M55 832h7M27 858h7M183 858h7M66 806h7M44 858h7M143 796h7M91 920h7M46 828h7M160 890h7M97 864h7M161 878h7M106 874h7M18 836h7M101 867h7M191 753h7M33 868h7M107 887h7M165 796h7M204 892h7M18 889h7M47 897h7M14 924h7M142 887h7M41 872h7M49 874h7M46 906h7M147 815h7M27 833h7M7 882h7M268 846h7M83 817h7M131 852h7M107 886h7M124 915h7M114 865h7M22 861h7M24 915h7M173 840h7M180 724h7M28 857h7M228 796h7M155 852h7M19 901h7M198 738h7M18 872h7M86 848h7M27 870h7M228 808h7M180 912h7M76 900h7M36 895h7M77 920h7M107 864h7M103 797h7M102 796h7M104 901h7M107 870h7M220 843h7M269 867h7M98 866h7M45 848h7M104 830h7M47 876h7M105 835h7M21 800h7M162 829h7M101 901h7M131 903h7M94 854h7M48 868h7M29 850h7M90 810h7M130 884h7M116 858h7M58 853h7M85 796h7M118 870h7M123 882h7M97 860h7M74 915h7M78 915h7M27 881h7M87 866h7M63 852h7M118 893h7M8 911h7M130 868h7M122 887h7M98 849h7M73 794h7M157 815h7M149 887h7M134 868h7M143 908h7M88 915h7M164 835h7M147 856h7M128 871h7M156 889h7M209 916h7M196 841h7M190 855h7M97 853h7M142 886h7M56 895h7M218 892h7M78 854h7M133 794h7M259 861h7M245 822h7M101 913h7M89 863h7M51 902h7M146 907h7M144 877h7M119 875h7M195 898h7M44 911h7M105 829h7M172 890h7M201 861h7M144 852h7M84 830h7M141 793h7M25 924h7M159 880h7M79 918h7M59 896h7M37 885h7M82 864h7M142 896h7M59 882h7M109 927h7M174 910h7M99 881h7M168 891h7M255 861h7M206 822h7M137 848h7M136 813h7M177 871h7M64 878h7M107 763h7M187 866h7M276 898h7M96 873h7M106 817h7M127 929h7M224 830h7M107 804h7M235 811h7M28 864h7M94 914h7M93 923h7M177 876h7M199 805h7M32 820h7M139 856h7M54 776h7M198 897h7M152 858h7M152 888h7M70 818h7M197 792h7M90 833h7M203 923h7M33 917h7M37 842h7M127 925h7M50 849h7M132 889h7M32 842h7M116 905h7M80 826h7M188 818h7M56 792h7M73 878h7M213 862h7M300 861h7M280 845h7M129 844h7M240 829h7M99 927h7M120 882h7M148 778h7M40 835h7M46 797h7M98 899h7M128 834h7M82 861h7M152 917h7M34 833h7M79 795h7M23 809h7M206 835h7M108 814h7M47 925h7M91 879h7M170 813h7M22 831h7M325 881h7M191 889h7M101 845h7M171 764h7M285 826h7M90 809h7M79 884h7M213 870h7M152 825h7M167 846h7M274 817h7M255 819h7M158 854h7M168 830h7M164 892h7M147 776h7M168 864h7M81 867h7M141 856h7M47 848h7M82 915h7M59 842h7M81 859h7M213 870h7M132 856h7M204 915h7M278 865h7M112 874h7M34 815h7M7 824h7M67 812h7M117 875h7M139 812h7M135 891h7M101 777h7M104 867h7M64 860h7M58 918h7M107 835h7M278 811h7M222 860h7M170 907h7M52 812h7M233 860h7M105 884h7M85 820h7M118 863h7M73 898h7M103 869h7M18 805h7M78 885h7M304 870h7M104 887h7M90 922h7M155 916h7M170 885h7M15 881h7M92 810h7M188 858h7M133 876h7M120 845h7M242 870h7M52 824h7M237 846h7M53 853h7M65 928h7M166 887h7M162 869h7M229 854h7M174 815h7M85 899h7M53 829h7M156 892h7M32 871h7M79 864h7M55 819h7M142 895h7M137 854h7M245 875h7M93 869h7M46 764h7M32 881h7M6 790h7M147 925h7M55 766h7M169 781h7M140 801h7M119 871h7M164 838h7M113 775h7M215 848h7M146 898h7M143 856h7M145 912h7M96 865h7M88 846h7M128 882h7M249 883h7M119 875h7M7 834h7M102 809h7M49 819h7M118 860h7M56 844h7M48 747h7M107 883h7M193 901h7M329 809h7M24 833h7M71 887h7M177 819h7M12 786h7M69 914h7M27 848h7M29 754h7M75 863h7M123 846h7M94 842h7M178 758h7M157 818h7M35 847h7M164 797h7M61 865h7M11 860h7M42 860h7M233 841h7M129 849h7M209 842h7M69 882h7M190 824h7M59 851h7M97 858h7M175 884h7M67 860h7M103 892h7M138 885h7M213 919h7M68 890h7M111 863h7M119 844h7M222 909h7M137 891h7M179 860h7M16 791h7M184 773h7M288 882h7M176 904h7M132 905h7M123 801h7M262 917h7M31 838h7M101 884h7M149 886h7M173 825h7M73 835h7M136 761h7M86 819h7M120 775h7M99 887h7M13 868h7M108 911h7M185 883h7M28 833h7M90 882h7M167 845h7M19 895h7M126 881h7M20 816h7M206 865h7M307 868h7M282 850h7M91 910h7M120 847h7M119 847h7M242 753h7M200 843h7M106 757h7M230 879h7M126 895h7M53 828h7M134 846h7M173 817h7M113 903h7M151 789h7M66 849h7M187 868h7M169 888h7M123 858h7M116 806h7M198 863h7M71 885h7M50 814h7M94 882h7M211 927h7M211 786h7M56 816h7M16 784h7M217 919h7M102 896h7M80 821h7M189 807h7M211 869h7M74 870h7M145 822h7M171 872h7M55 897h7M140 876h7M107 813h7M64 759h7M68 852h7M116 873h7M113 852h7M62 844h7M74 830h7M205 901h7M128 862h7M185 871h7M212 816h7M160 834h7M303 873h7M40 815h7M179 802h7M83 849h7M268 925h7M255 875h7M28 858h7M166 849h7M177 795h7M173 836h7M149 881h7M166 902h7M103 900h7M197 865h7M164 871h7M22 899h7M191 888h7M91 890h7M34 873h7M142 827h7M33 852h7M32 818h7M108 760h7M152 854h7M98 848h7M199 808h7M112 864h7M102 929h7M159 857h7M200 896h7M81 870h7M89 846h7M117 869h7M33 838h7M197 841h7M76 884h7M149 885h7M40 904h7M140 872h7M143 793h7M74 892h7M282 850h7M142 851h7M261 791h7M192 836h7M54 829h7M78 863h7M147 792h7M115 868h7M114 871h7M86 809h7M91 822h7M142 739h7M48 848h7M49 782h7M91 843h7M133 907h7M19 823h7M28 911h7M245 921h7M20 799h7M165 810h7M135 855h7M83 852h7M105 882h7M158 802h7M259 904h7M127 866h7M121 889h7M27 831h7M160 891h7M89 830h7M181 913h7M106 921h7M258 911h7M85 897h7M185 730h7M80 907h7M43 851h7M87 870h7M120 795h7M317 838h7M207 898h7M36 834h7M76 820h7M40 821h7M185 868h7M183 821h7M78 914h7M56 846h7M151 786h7M269 890h7M210 911h7M208 900h7M47 853h7M29 839h7M101 850h7M235 851h7M16 874h7M87 864h7M124 903h7M133 841h7M92 893h7M207 804h7M110 772h7M121 895h7M129 806h7M32 862h7M56 912h7M177 890h7M140 884h7M52 822h7M283 833h7M306 870h7M136 824h7M323 809h7M177 922h7M129 818h7M92 919h7M64 877h7M92 909h7M173 899h7M76 904h7M73 819h7M8 830h7M106 897h7M141 881h7M153 875h7M140 915h7M115 866h7M99 862h7M84 813h7M175 915h7M18 811h7M224 891h7M113 794h7M46 920h7M68 814h7M52 907h7M124 786h7M49 843h7M207 924h7M44 825h7M48 841h7M107 880h7M200 887h7M165 810h7M45 825h7M261 815h7M137 865h7M110 831h7M318 787h7M220 902h7M122 914h7M140 766h7M162 778h7M58 893h7M20 841h7M114 884h7M29 922h7M105 846h7M118 812h7M309 729h7M38 875h7M100 819h7M96 881h7M147 877h7M199 796h7M40 919h7M31 806h7M156 845h7M114 838h7M24 844h7M78 809h7M113 887h7M153 876h7M60 883h7M89 840h7M12 874h7M248 728h7M81 862h7M129 913h7M78 850h7M41 852h7M105 832h7M110 898h7M103 843h7M97 828h7M37 893h7M63 838h7M129 781h7M164 896h7M186 830h7M68 883h7M189 884h7M210 925h7M207 917h7M228 836h7M98 857h7M95 800h7M65 849h7M79 763h7M34 870h7M108 872h7M186 868h7M194 897h7M103 892h7M94 785h7M39 919h7M144 839h7M89 842h7M259 911h7M107 848h7M37 873h7M8 861h7M221 803h7M129 825h7M166 876h7M217 906h7M79 916h7M53 828h7M81 877h7M134 893h7M164 839h7M210 858h7M211 875h7M226 909h7M166 843h7M99 779h7M137 864h7M77 925h7M79 925h7M31 899h7M233 868h7M167 835h7M129 857h7M189 896h7M200 826h7M139 912h7M53 776h7M71 814h7M26 782h7M127 796h7M211 922h7M69 855h7M14 876h7M282 923h7M72 928h7M5 840h7M146 884h7M50 865h7M177 887h7M69 794h7M32 826h7M125 860h7M176 895h7M56 846h7M138 859h7M102 913h7M50 903h7M228 928h7M106 845h7M99 850h7M171 881h7M186 850h7M218 840h7M59 855h7M64 817h7M153 889h7M229 869h7M146 927h7M200 843h7M239 840h7M124 831h7M38 815h7M215 853h7M160 907h7M256 897h7M195 879h7M101 783h7M93 883h7M117 814h7M65 854h7M107 874h7M247 808h7M132 800h7M33 914h7M126 852h7M181 893h7M105 831h7M176 840h7M204 816h7M59 775h7M163 885h7M126 808h7M46 911h7M129 824h7M242 909h7M134 831h7M232 841h7M264 854h7M112 823h7M91 875h7M185 793h7M340 911h7M171 799h7M217 822h7M156 776h7M224 868h7M5 877h7M92 831h7M134 918h7M185 760h7M145 866h7M45 846h7M115 899h7M50 824h7M68 875h7M125 868h7M281 901h7M52 743h7M188 901h7M92 903h7M82 819h7M255 765h7M81 808h7M12 911h7M139 842h7M136 876h7M26 864h7M155 860h7M159 838h7M163 918h7M159 860h7M83 825h7M145 894h7M61 829h7M86 883h7M174 880h7M244 898h7M332 822h7M14 849h7M215 805h7M194 841h7M123 918h7M11 857h7M163 824h7M49 799h7M350 916h7M265 868h7M33 917h7M235 813h7M245 873h7M242 831h7M108 874h7M8 903h7M95 918h7M118 841h7M26 814h7M96 856h7M101 792h7M274 865h7M220 879h7M106 855h7M213 892h7M44 849h7M81 865h7M187 793h7M4 867h7M86 822h7M120 860h7M249 875h7M46 783h7M129 787h7M34 850h7M12 889h7M5 883h7M234 910h7M151 890h7M49 864h7M170 813h7M82 818h7M178 842h7M135 878h7M134 876h7M162 865h7M61 857h7M76 897h7M72 880h7M98 838h7M29 813h7M119 890h7M149 886h7M41 844h7M173 827h7M255 854h7M182 878h7M80 807h7M235 871h7M237 912h7M54 897h7M335 871h7M244 913h7M22 857h7M124 844h7M92 870h7M119 910h7M52 899h7M150 764h7M129 925h7M310 849h7M49 823h7M132 879h7M3 901h7M223 839h7M30 913h7M105 763h7M21 880h7M80 830h7M66 795h7M69 834h7M174 854h7M165 917h7M61 789h7M33 918h7M101 895h7M197 892h7M336 864h7M182 806h7M107 892h7M95 884h7M37 902h7M25 901h7M76 886h7M173 798h7M76 808h7M93 846h7M6 832h7M250 900h7M153 849h7M237 904h7M89 846h7M171 896h7M340 906h7M6 812h7M210 882h7M254 900h7M146 876h7M219 926h7M53 824h7M145 871h7M35 823h7M51 894h7M56 822h7M98 911h7M123 884h7M149 914h7M282 792h7M173 856h7M102 887h7M158 899h7M364 791h7M197 853h7M142 858h7M100 865h7M230 882h7M124 772h7M238 867h7M93 829h7M74 923h7M120 844h7M71 888h7M245 845h7M31 898h7M186 916h7M168 867h7M101 794h7M109 908h7M17 837h7M71 921h7M244 761h7M12 772h7M17 796h7M236 841h7M120 866h7M245 861h7M138 862h7M33 901h7M104 841h7M217 802h7M192 803h7M114 747h7M100 856h7M279 889h7M111 824h7M11 865h7M68 908h7M173 925h7M166 820h7M98 903h7M52 878h7M112 920h7M180 793h7M68 885h7M216 899h7M167 877h7M296 813h7M168 910h7M79 836h7M174 867h7M146 869h7M116 818h7M96 838h7M95 889h7M85 842h7M72 886h7M79 847h7M107 917h7M119 856h7M11 896h7M165 891h7M4 847h7M90 787h7M224 914h7M50 874h7M65 914h7M204 764h7M76 782h7M84 758h7M129 821h7M202 917h7M38 863h7M22 872h7M15 903h7M35 850h7M37 885h7M136 872h7M32 756h7M121 846h7M46 845h7M121 858h7M253 835h7M138 841h7M54 921h7M104 852h7M30 814h7M134 709h7M185 836h7M39 767h7M92 774h7M207 905h7M67 900h7M126 769h7M21 908h7M39 888h7M66 826h7M295 902h7M75 784h7M65 805h7M62 793h7M96 809h7M166 909h7M126 798h7M285 807h7M128 817h7M233 875h7M134 848h7M161 908h7M99 801h7M104 840h7M89 867h7M185 879h7M73 836h7M88 867h7M145 832h7M31 810h7M135 884h7M122 890h7M78 857h7M61 866h7M39 928h7M105 907h7M210 794h7M20 864h7M239 869h7M182 900h7M71 853h7M177 832h7M75 834h7M82 887h7M66 812h7M118 842h7M152 810h7M54 840h7M75 886h7M12 807h7M24 779h7M109 839h7M160 838h7M158 892h7M25 872h7M43 854h7M32 905h7M148 872h7M215 901h7M69 860h7M43 848h7M139 879h7M198 842h7M139 882h7M199 918h7M121 905h7M215 844h7M216 799h7M102 860h7M232 856h7M124 918h7M117 844h7M32 852h7M85 899h7M176 839h7M134 894h7M101 814h7M165 891h7M45 866h7M118 874h7M167 862h7M54 853h7M184 878h7M169 881h7M90 780h7M179 814h7M31 784h7M57 823h7M301 891h7M39 883h7M50 833h7M86 876h7M23 825h7M211 792h7M257 792h7M50 820h7M210 796h7M204 925h7M180 929h7M208 853h7M36 860h7M96 832h7M193 863h7M53 912h7M304 922h7M116 880h7M56 879h7M178 859h7M263 880h7M151 807h7M7 883h7M142 873h7M227 819h7M44 814h7M196 819h7M122 876h7M16 766h7M78 823h7M46 786h7M135 814h7M119 856h7M208 878h7M170 917h7M145 921h7M186 892h7M149 839h7M198 918h7M63 838h7M29 832h7M19 902h7M197 900h7M48 906h7M84 794h7M12 868h7M79 829h7M174 822h7M10 861h7M19 802h7M168 864h7M104 890h7M267 766h7M37 845h7M131 888h7M127 877h7M230 920h7M71 798h7M196 888h7M47 830h7M205 872h7M45 882h7M79 896h7M271 833h7M137 871h7M119 804h7M301 792h7M141 890h7M41 859h7M172 781h7M10 820h7M206 863h7M61 914h7M57 902h7M125 773h7M111 857h7M27 886h7M158 882h7M73 850h7M136 857h7M6 813h7M95 834h7M55 922h7M9 815h7M141 877h7M28 845h7M115 888h7M200 878h7M243 892h7M85 862h7M18 918h7M197 848h7M136 844h7M111 821h7M212 838h7M182 864h7M171 809h7M153 757h7M144 915h7M130 823h7M129 835h7M194 843h7M66 813h7M258 808h7M101 870h7M102 899h7M89 899h7M283 787h7M84 861h7M49 901h7M83 851h7M293 864h7M128 858h7M189 833h7M25 786h7M140 891h7M167 793h7M263 803h7M51 847h7M161 827h7M136 875h7M23 913h7M108 874h7M88 872h7M161 905h7M156 770h7M73 880h7M236 800h7M133 862h7M196 843h7M230 891h7M66 917h7M179 746h7M90 858h7M103 905h7M205 867h7M121 790h7M97 806h7M86 898h7M139 910h7M34 825h7M67 849h7M106 875h7M62 775h7M100 845h7M223 857h7M105 836h7M296 822h7M137 750h7M103 910h7M136 843h7M230 879h7M108 871h7M288 772h7M169 844h7M25 854h7M264 752h7M82 908h7M105 912h7M189 832h7M217 867h7M15 882h7M81 910h7M101 850h7M80 832h7M52 839h7M77 735h7M47 822h7M155 913h7M239 875h7M100 880h7M74 761h7M152 848h7M29 888h7M98 897h7M22 824h7M169 908h7M96 841h7M141 899h7M89 784h7M161 893h7M135 864h7M97 872h7M194 833h7M214 848h7M17 903h7M242 852h7M231 780h7M47 926h7M10 893h7M56 897h7M68 872h7M113 866h7M7 770h7M188 833h7M52 828h7M104 861h7M163 880h7M179 825h7M114 809h7M40 840h7M259 874h7M165 800h7M16 891h7M110 894h7M171 848h7M265 867h7M227 877h7M64 814h7M102 779h7M131 846h7M123 840h7M340 901h7M118 743h7M53 771h7M3 834h7M36 837h7M79 807h7M139 907h7M96 842h7M34 874h7M177 761h7M64 921h7M68 882h7M43 924h7M165 853h7M104 898h7M171 884h7M78 850h7M130 865h7M15 837h7M221 898h7M204 909h7M130 863h7M21 786h7M193 851h7M135 841h7M216 782h7M94 890h7M110 803h7M146 901h7M190 795h7M222 855h7M12 839h7M140 844h7M54 812h7M179 861h7M123 900h7M69 840h7M290 796h7M122 796h7M46 850h7M22 905h7M45 830h7M143 910h7M63 804h7M72 913h7M252 843h7M183 901h7M178 894h7M155 849h7M151 879h7M234 809h7M108 859h7M268 917h7M88 898h7M81 812h7M154 916h7M233 780h7M54 822h7M110 881h7M79 802h7M9 917h7M115 834h7M119 797h7M112 792h7M54 885h7M24 894h7M269 876h7M242 881h7M161 789h7M79 863h7M199 929h7M257 839h7M31 846h7M139 788h7M280 841h7M62 874h7M156 924h7M4 821h7M288 895h7M48 848h7M99 884h7M98 856h7M273 846h7M81 916h7M109 897h7M160 808h7M245 874h7M105 796h7M198 825h7M154 798h7M85 796h7M117 828h7M112 814h7M32 889h7M213 903h7M210 807h7M191 903h7M102 761h7M45 766h7M91 899h7M150 896h7M173 912h7M134 852h7M194 799h7M63 837h7M130 891h7M175 828h7M123 793h7M75 804h7M209 905h7M169 886h7M113 809h7M201 890h7M322 804h7M66 854h7M116 755h7M89 800h7M140 884h7M165 908h7M219 805h7M26 824h7M244 903h7M31 843h7M134 836h7M208 889h7M171 873h7M30 919h7M50 903h7M71 834h7M106 857h7M207 860h7M150 814h7M162 912h7M157 783h7M150 913h7M239 877h7M151 856h7M183 890h7M158 887h7M262 924h7M219 851h7M88 851h7M28 910h7M78 846h7M52 827h7M152 864h7M133 771h7M89 915h7M50 885h7M43 828h7M14 855h7M64 838h7M111 866h7M95 914h7M87 929h7M34 844h7M268 884h7M163 925h7M83 891h7M172 897h7M45 899h7M57 763h7M118 853h7M229 916h7M52 800h7M81 852h7M23 819h7M150 882h7M328 875h7M25 820h7M191 838h7M131 900h7M16 870h7M90 847h7M51 743h7M274 847h7M142 883h7M138 867h7M61 822h7M185 830h7M123 899h7M145 849h7M169 804h7M236 738h7M304 821h7M193 885h7M196 846h7M100 859h7M41 841h7M192 853h7M42 856h7M99 810h7M97 896h7M118 892h7M50 864h7M49 829h7M270 898h7M7 779h7M21 847h7M41 851h7M212 822h7M289 872h7M138 831h7M49 824h7M201 901h7M33 924h7M234 867h7M230 913h7M116 903h7M165 925h7M242 853h7M21 877h7M210 862h7M78 689h7M45 795h7M119 865h7M92 896h7M26 836h7M30 929h7M233 844h7M211 888h7M66 816h7M134 857h7M18 846h7M26 871h7M118 838h7M83 919h7M20 904h7M143 926h7M88 894h7M197 825h7M110 857h7M84 909h7M121 845h7M53 853h7M76 836h7M174 922h7M165 902h7M219 864h7M77 886h7M75 907h7M125 903h7M72 850h7M66 887h7M177 907h7M125 903h7M11 711h7M223 820h7M195 826h7M61 853h7M181 874h7M48 911h7M206 896h7M91 859h7M42 866h7M45 834h7M126 880h7M113 882h7M63 763h7M118 846h7M131 918h7M206 888h7M133 852h7M77 910h7M95 887h7M99 870h7M63 880h7M60 878h7M31 848h7M211 842h7M109 866h7M191 817h7M89 802h7M96 853h7M149 864h7M180 858h7M130 866h7M53 866h7M44 868h7M251 825h7M86 912h7M85 830h7M235 917h7M202 769h7M155 812h7M76 915h7M310 858h7M143 831h7M156 884h7M95 813h7M145 842h7M143 833h7M90 892h7M10 909h7M186 762h7M208 746h7M185 861h7M60 833h7M36 828h7M95 861h7M162 855h7M160 747h7M128 907h7M166 847h7M233 853h7M71 852h7M248 865h7M220 827h7M174 890h7M8 835h7M125 926h7M90 913h7M117 868h7M94 895h7M154 893h7M76 851h7M183 910h7M131 854h7M85 896h7M100 817h7M73 870h7M179 886h7M87 826h7M135 844h7M77 838h7M187 829h7M20 887h7M146 883h7M30 872h7M66 917h7M40 851h7M10 921h7M173 896h7M90 886h7M143 852h7M73 840h7M136 853h7M46 869h7M108 892h7M159 886h7M114 850h7M71 869h7M18 885h7M124 784h7M139 827h7M88 826h7M45 855h7M156 852h7M321 853h7M84 822h7M139 899h7M142 880h7M121 866h7M50 809h7M88 843h7M44 846h7M91 870h7M124 856h7M62 863h7M91 908h7M176 922h7M277 817h7M133 900h7M211 914h7M197 823h7M251 907h7M202 887h7M100 839h7M125 894h7M136 854h7M127 876h7M43 911h7M53 895h7M110 804h7M168 819h7M184 871h7M252 899h7M269 814h7M7 851h7M198 917h7M147 839h7M146 861h7M189 881h7M49 775h7M60 905h7M40 883h7M46 894h7M102 817h7M21 836h7M159 879h7M104 870h7M143 872h7M63 830h7M113 833h7M189 850h7M111 839h7M170 853h7M70 870h7M205 823h7M149 817h7M123 846h7M114 909h7M154 844h7M196 856h7M190 843h7M142 798h7M120 749h7M216 833h7M108 894h7M224 896h7M119 929h7M10 823h7M93 876h7M35 810h7M289 891h7M152 870h7M76 890h7M21 898h7M116 879h7M80 890h7M75 794h7M146 869h7M252 884h7M210 870h7M62 881h7M310 850h7M147 870h7M94 760h7M155 810h7M60 757h7M170 818h7M67 824h7M283 820h7M80 880h7M58 818h7M68 815h7M66 899h7M116 818h7M205 895h7M70 900h7M152 786h7M161 809h7M18 808h7M129 791h7M30 829h7M200 818h7M149 794h7M111 871h7M120 800h7M45 838h7M170 866h7M100 854h7M41 831h7M189 906h7M171 908h7M60 900h7M209 855h7M121 846h7M46 860h7M72 925h7M96 826h7M240 885h7M237 868h7M88 830h7M247 854h7M106 787h7M142 838h7M185 766h7M131 927h7M8 881h7M221 915h7M75 929h7M84 916h7M195 820h7M180 887h7M178 839h7M193 806h7M254 808h7M106 887h7M190 918h7M47 797h7M143 846h7M141 862h7M94 914h7M40 846h7M147 810h7M76 882h7M16 872h7M260 923h7M129 904h7M207 470h7M220 274h7M188 344h7M134 290h7M168 342h7M176 451h7M249 360h7M269 472h7M203 451h7M139 213h7M140 260h7M170 342h7M256 367h7M198 415h7M177 213h7M138 421h7M229 468h7M196 373h7M177 260h7M186 383h7M273 379h7M171 424h7M273 418h7M248 476h7M183 344h7M229 528h7M173 179h7M134 270h7M165 415h7M130 226h7M208 457h7M181 276h7M211 403h7M225 324h7M8 258h7M197 403h7M81 322h7M189 352h7M132 541h7M186 384h7M255 334h7M86 414h7M190 456h7M176 483h7M76 482h7M216 317h7M182 472h7M152 464h7M140 361h7M357 488h7M158 112h7M81 282h7M129 508h7M160 217h7M159 324h7M176 403h7M122 401h7M210 535h7M153 216h7M105 347h7M135 432h7M159 257h7M227 400h7M207 555h7M161 484h7M181 427h7M192 161h7M292 424h7M146 397h7M206 366h7M220 394h7M128 619h7M190 367h7M189 301h7M154 388h7M211 368h7M237 381h7M242 403h7M169 441h7M190 406h7M309 340h7M119 339h7M192 427h7M229 364h7M188 483h7M216 464h7M189 300h7M221 428h7M251 585h7M168 508h7M191 381h7M177 456h7M158 311h7M179 255h7M118 397h7M221 421h7M274 470h7M274 424h7M250 442h7M127 310h7M264 462h7M141 432h7M177 374h7M282 500h7M121 199h7M226 335h7M195 512h7M172 527h7M132 378h7M203 383h7M154 259h7M237 439h7M247 480h7M104 216h7M152 414h7M162 414h7M115 386h7M119 253h7M185 429h7M169 246h7M89 463h7M150 377h7M209 294h7M114 463h7M129 454h7M267 367h7M252 605h7M91 250h7M106 370h7M201 492h7M114 153h7M166 459h7M155 362h7M211 394h7M41 219h7M59 349h7M113 252h7M236 324h7M172 337h7M86 229h7M207 528h7M219 285h7M166 309h7M162 344h7M204 392h7M247 481h7M188 454h7M209 368h7M177 346h7M159 373h7M130 426h7M194 447h7M163 328h7M167 197h7M231 589h7M207 475h7M228 426h7M93 367h7M211 350h7M148 278h7M136 330h7M133 338h7M247 359h7M226 277h7M141 334h7M117 399h7M181 338h7M155 369h7M271 247h7M100 323h7M79 320h7M166 268h7M181 232h7M187 419h7M221 331h7M294 478h7M161 335h7M150 419h7M83 303h7M193 257h7M227 396h7M166 345h7M245 468h7M182 342h7M263 387h7M198 463h7M122 452h7M145 428h7M96 428h7M84 372h7M195 453h7M228 479h7M287 467h7M177 384h7M167 386h7M119 557h7M234 408h7M201 370h7M147 333h7M218 396h7M211 416h7M77 232h7M221 230h7M187 409h7M158 232h7M157 391h7M276 439h7M264 520h7M280 573h7M117 381h7M144 315h7M230 304h7M114 279h7M140 364h7M81 154h7M282 436h7M238 408h7M205 448h7M192 357h7M157 377h7M158 306h7M214 357h7M141 209h7M248 424h7M153 500h7M132 370h7M251 446h7M172 292h7M211 518h7M157 303h7M56 388h7M210 404h7M106 261h7M240 497h7M95 339h7M77 345h7M197 427h7M203 390h7M186 350h7M113 387h7M252 560h7M285 738h7M233 796h7M176 866h7M233 740h7M245 639h7M281 754h7M363 661h7M162 664h7M289 685h7M125 833h7M207 813h7M245 774h7M122 718h7M150 905h7M291 654h7M285 716h7M272 645h7M224 814h7M431 695h7M269 775h7M220 748h7M397 678h7M323 717h7M254 627h7M363 748h7M291 769h7M325 685h7M296 716h7M208 763h7M348 785h7M291 742h7M209 749h7M227 713h7M347 617h7M254 698h7M283 725h7M326 693h7M289 723h7M173 800h7M325 731h7M346 715h7M341 738h7M393 694h7M305 712h7M334 730h7M391 589h7M260 798h7M402 610h7M401 727h7M335 704h7M409 739h7M340 704h7M218 692h7M360 754h7M303 725h7M309 719h7M291 723h7M375 745h7M319 754h7M231 752h7M314 626h7M331 683h7M229 746h7M250 832h7M253 753h7M237 732h7M304 780h7M351 692h7M412 676h7M364 703h7M352 616h7M360 748h7M373 714h7M254 716h7M329 644h7M303 727h7M271 803h7M248 699h7M245 677h7M261 753h7M194 665h7M317 588h7M278 699h7M287 683h7M304 700h7M331 675h7M239 756h7M273 714h7M167 729h7M125 751h7M144 804h7M388 739h7M152 817h7M313 750h7M383 506h7M248 679h7M394 667h7M409 690h7M346 612h7M446 744h7M324 725h7M229 707h7M317 720h7M249 715h7M189 713h7M191 782h7M442 643h7M242 659h7M279 689h7M234 733h7M290 660h7M264 798h7M252 673h7M196 849h7M182 806h7M229 689h7M301 723h7M426 738h7M355 687h7M409 614h7M315 718h7M275 835h7M188 673h7M281 754h7M131 775h7M260 724h7M395 663h7M304 698h7M360 753h7M255 765h7M185 701h7M248 820h7M254 661h7M366 731h7M420 686h7M230 807h7M256 751h7M271 785h7M257 730h7M195 807h7M288 740h7M307 833h7M309 676h7M197 818h7M274 752h7M160 775h7M346 670h7M210 772h7M263 649h7M250 659h7M241 776h7M208 663h7M158 845h7M403 667h7M300 731h7M301 721h7M429 696h7M275 710h7M321 690h7M284 716h7M365 753h7M317 774h7M304 786h7M264 750h7M302 706h7M364 603h7M137 809h7M273 773h7M253 711h7M261 775h7M144 842h7M333 711h7M223 802h7M266 746h7M247 640h7M165 738h7M251 712h7M153 797h7M216 699h7M260 707h7M282 671h7M286 720h7M273 731h7M432 726h7M313 757h7M197 762h7M239 751h7M236 745h7M270 734h7M240 823h7M222 607h7M398 674h7M285 740h7M259 794h7M265 669h7M267 748h7M380 737h7M316 687h7M361 592h7M508 814h7M381 914h7M659 873h7M434 924h7M829 895h7M583 876h7M441 844h7M486 784h7M398 873h7M620 841h7M785 871h7M529 837h7M700 803h7M420 788h7M608 873h7M907 902h7M351 823h7M746 860h7M738 907h7M280 796h7M346 821h7M415 782h7M707 896h7M497 851h7M536 815h7M668 756h7M579 829h7M595 887h7M513 823h7M730 817h7M445 870h7M813 777h7M511 841h7M442 868h7M658 799h7M629 797h7M264 850h7M594 833h7M359 826h7M437 848h7M679 849h7M432 792h7M614 805h7M504 860h7M851 894h7M547 905h7M385 796h7M395 892h7M425 876h7M580 837h7M560 862h7M706 879h7M586 927h7M580 786h7M609 868h7M541 831h7M604 828h7M678 895h7M678 879h7M478 788h7M295 824h7M439 850h7M602 768h7M186 881h7M488 835h7M627 846h7M475 855h7M392 928h7M822 840h7M767 821h7M521 925h7M758 814h7M754 812h7M390 770h7M418 852h7M519 862h7M394 847h7M570 832h7M361 800h7M558 800h7M721 860h7M590 845h7M519 919h7M790 801h7M424 814h7M703 788h7M513 907h7M590 778h7M563 877h7M577 910h7M550 832h7M440 874h7M472 733h7M624 819h7M541 757h7M383 847h7M451 839h7M453 801h7M549 885h7M584 856h7M570 813h7M459 813h7M559 766h7M351 830h7M548 804h7M308 859h7M414 812h7M375 878h7M650 860h7M374 827h7M597 751h7M482 813h7M370 898h7M319 827h7M624 870h7M612 815h7M670 747h7M829 860h7M595 855h7M596 810h7M535 820h7M569 853h7M501 809h7M419 856h7M852 829h7M274 722h7M591 832h7M619 809h7M575 797h7M408 859h7M523 815h7M483 865h7M391 893h7M545 846h7M490 762h7M468 803h7M654 884h7M392 826h7M617 799h7M459 834h7M615 864h7M561 852h7M586 871h7M403 798h7M434 825h7M422 826h7M576 838h7M662 735h7M711 827h7M474 773h7M562 908h7M307 916h7M217 922h7M419 879h7M449 815h7M316 886h7M282 829h7M628 869h7M428 794h7M297 810h7M896 862h7M574 927h7M500 838h7M785 776h7M317 838h7M352 792h7M527 832h7M433 813h7M758 836h7M307 887h7M437 886h7M582 852h7M630 839h7M696 845h7M597 845h7M875 868h7M475 839h7M572 864h7M674 774h7M498 878h7M501 926h7M476 848h7M449 769h7M376 906h7M462 823h7M313 691h7M601 828h7M306 869h7M853 858h7M798 901h7M709 870h7M512 845h7M456 742h7M727 784h7M571 848h7M627 873h7M436 789h7M703 809h7M424 863h7M559 745h7M285 743h7M445 828h7M618 852h7M476 816h7M476 726h7M661 841h7M532 774h7M728 872h7M181 834h7M627 852h7M618 871h7M312 813h7M348 880h7M674 901h7M383 859h7M447 905h7M632 808h7M493 885h7M613 853h7M413 791h7M587 836h7M704 813h7M591 812h7M214 844h7M639 892h7M551 824h7M407 846h7M750 767h7M282 845h7M822 897h7M447 880h7M777 863h7M535 813h7M343 791h7M556 835h7M591 773h7M623 778h7M700 886h7M408 794h7M615 928h7M652 769h7M501 861h7M402 781h7M399 848h7M654 788h7M661 841h7M418 832h7M342 817h7M727 865h7M310 914h7M566 810h7M421 883h7M280 844h7M560 838h7M757 732h7M881 806h7M514 750h7M695 824h7M698 828h7M412 857h7M782 928h7M487 904h7M538 818h7M498 863h7M522 922h7M451 848h7M653 850h7M729 864h7M486 765h7M336 799h7M549 856h7M320 866h7M446 794h7M725 823h7M888 833h7M598 832h7M383 874h7M658 845h7M206 848h7M438 769h7M769 787h7M653 855h7M336 760h7M293 853h7M669 807h7M534 799h7M453 871h7M603 806h7M456 797h7M255 806h7M662 842h7M392 734h7M343 838h7M579 827h7M421 886h7M635 821h7M502 716h7M703 905h7M484 785h7M444 836h7M248 771h7M378 785h7M649 814h7M355 881h7M387 809h7M592 864h7M613 820h7M441 844h7M553 846h7M302 870h7M497 808h7M676 832h7M786 850h7M517 843h7M503 799h7M609 924h7M707 816h7M614 876h7M430 849h7M595 899h7M686 730h7M342 828h7M618 777h7M596 845h7M555 864h7M446 777h7M477 816h7M388 905h7M401 769h7M458 830h7M470 824h7M359 824h7M535 904h7M454 805h7M764 799h7M581 888h7M487 869h7M664 753h7M552 870h7M701 767h7M658 772h7M687 808h7M688 790h7M662 789h7M659 810h7M656 807h7M669 850h7M633 792h7M677 764h7M627 798h7M681 849h7M676 780h7M643 800h7M708 786h7M746 813h7M725 808h7M631 771h7M723 791h7M686 831h7M677 837h7M658 831h7M679 829h7M727 787h7M698 786h7M664 831h7M656 758h7M664 797h7M699 735h7M744 786h7M642 775h7M679 757h7M665 819h7M653 774h7M693 786h7M698 790h7M630 774h7M643 848h7M720 782h7M690 806h7M697 754h7M661 783h7M666 788h7M695 788h7M662 779h7M640 804h7M679 852h7M710 794h7M643 794h7M715 785h7M703 886h7M649 854h7M679 818h7M677 823h7M701 774h7M702 794h7M634 806h7M632 803h7M714 769h7M683 772h7M693 817h7M690 810h7M732 727h7M637 802h7M717 843h7M650 777h7M704 807h7M725 749h7M631 827h7M693 761h7M669 756h7M669 788h7M680 880h7M642 778h7M645 756h7M702 815h7M708 807h7M659 856h7M628 755h7M759 744h7M717 788h7M691 812h7M643 811h7M659 836h7M687 748h7M646 771h7M734 794h7M684 828h7M692 815h7M643 784h7M192 306h7M659 210h7M399 544h7M840 348h7M146 510h7M309 182h7M277 364h7M329 376h7M228 64h7M309 36h7M429 551h7M332 479h7M604 214h7M422 418h7M442 605h7M804 891h7M520 225h7M481 594h7M458 459h7M583 802h7M723 798h7M828 440h7M322 634h7M53 700h7M336 739h7M480 737h7M645 435h7M398 259h7M368 330h7M815 434h7M279 542h7M704 325h7M664 455h7M117 658h7M511 522h7" stroke="#000" stroke-width="7" fill="none" opacity="0.6"/>
<rect x="0" y="0" width="93" height="93.25" fill="none" stroke="#555" stroke-width="0.75"/>
<line x1="29.50" y1="0.00" x2="29.50" y2="58.75" stroke="#1e1e1e" stroke-width="0.85"/>
<line x1="29.50" y1="53.25" x2="49.25" y2="53.25" stroke="#1e1e1e" stroke-width="0.85"/>
<line x1="49.25" y1="53.25" x2="41.25" y2="70.00" stroke="#1e1e1e" stroke-width="0.85"/>
<line x1="29.50" y1="58.75" x2="0.00" y2="75.75" stroke="#1e1e1e" stroke-width="0.85"/>
<line x1="41.25" y1="70.00" x2="93.00" y2="70.00" stroke="#1e1e1e" stroke-width="0.85"/>
<line x1="41.25" y1="70.00" x2="27.00" y2="93.25" stroke="#1e1e1e" stroke-width="0.85"/>
<text x="2.00" y="5.00" font-size="4.00" font-weight="normal" fill="#222">1.84</text>
<text x="91.40" y="5.00" font-size="4.00" font-weight="normal" fill="#222" text-anchor="end">0.04</text>
<text x="91.40" y="82.20" font-size="4.20" font-weight="normal" fill="#222" text-anchor="end">3.42</text>
<text x="-2.3" y="24.45" font-size="4.0" font-weight="normal" fill="#333" text-anchor="end">10<tspan font-size="2.6" dy="-1.6">2</tspan></text>
<line x1="-1.6" y1="23.25" x2="0" y2="23.25" stroke="#777" stroke-width="0.5"/>
<text x="-2.3" y="48.20" font-size="4.0" font-weight="normal" fill="#333" text-anchor="end">10<tspan font-size="2.6" dy="-1.6">1</tspan></text>
<line x1="-1.6" y1="47.00" x2="0" y2="47.00" stroke="#777" stroke-width="0.5"/>
<text x="-2.3" y="71.45" font-size="4.0" font-weight="normal" fill="#333" text-anchor="end">10<tspan font-size="2.6" dy="-1.6">0</tspan></text>
<line x1="-1.6" y1="70.25" x2="0" y2="70.25" stroke="#777" stroke-width="0.5"/>
<text x="-2.3" y="94.45" font-size="3.8" font-weight="normal" fill="#333" text-anchor="end">0.19</text>
<text x="0.00" y="99.45" font-size="4.0" font-weight="normal" fill="#333" text-anchor="middle">0</text>
<line x1="0.00" y1="93.25" x2="0.00" y2="94.85" stroke="#777" stroke-width="0.5"/>
<text x="23.25" y="99.45" font-size="4.0" font-weight="normal" fill="#333" text-anchor="middle">10<tspan font-size="2.6" dy="-1.6">0</tspan></text>
<line x1="23.25" y1="93.25" x2="23.25" y2="94.85" stroke="#777" stroke-width="0.5"/>
<text x="46.25" y="99.45" font-size="4.0" font-weight="normal" fill="#333" text-anchor="middle">10<tspan font-size="2.6" dy="-1.6">1</tspan></text>
<line x1="46.25" y1="93.25" x2="46.25" y2="94.85" stroke="#777" stroke-width="0.5"/>
<text x="69.50" y="99.45" font-size="4.0" font-weight="normal" fill="#333" text-anchor="middle">10<tspan font-size="2.6" dy="-1.6">2</tspan></text>
<line x1="69.50" y1="93.25" x2="69.50" y2="94.85" stroke="#777" stroke-width="0.5"/>
</g>
<g transform="translate(168.25,256.25)">
<clipPath id="fc168"><rect x="0" y="0" width="93" height="92.5"/></clipPath><g clip-path="url(#fc168)">
<rect x="1" y="76.5" width="26" height="16" rx="4.8" fill="#000" opacity="0.9" filter="url(#blur2)"/>
</g>
<path transform="scale(0.1)" d="M339 799h7M327 873h7M52 841h7M100 855h7M38 812h7M50 878h7M193 850h7M65 723h7M60 833h7M125 865h7M214 914h7M118 813h7M118 800h7M224 912h7M187 811h7M186 852h7M227 873h7M63 888h7M165 847h7M95 783h7M233 904h7M216 821h7M60 816h7M50 896h7M245 786h7M165 819h7M75 832h7M54 803h7M122 737h7M145 892h7M88 891h7M195 860h7M30 823h7M147 858h7M148 883h7M173 827h7M42 814h7M96 861h7M128 772h7M223 811h7M271 791h7M268 855h7M239 810h7M258 917h7M177 842h7M101 821h7M202 779h7M228 832h7M167 893h7M127 884h7M16 770h7M177 832h7M38 786h7M156 853h7M208 810h7M138 813h7M213 810h7M211 841h7M24 817h7M122 748h7M188 876h7M224 816h7M266 914h7M142 881h7M207 856h7M250 919h7M289 827h7M69 789h7M116 865h7M59 691h7M216 825h7M36 858h7M247 822h7M226 917h7M188 885h7M91 823h7M210 908h7M28 807h7M127 822h7M139 888h7M222 879h7M170 833h7M110 739h7M148 883h7M136 917h7M209 836h7M5 808h7M248 818h7M133 774h7M242 876h7M154 886h7M219 880h7M273 775h7M101 802h7M154 764h7M133 754h7M165 769h7M11 756h7M133 835h7M126 869h7M81 881h7M131 844h7M18 807h7M265 845h7M185 878h7M305 828h7M74 848h7M49 828h7M171 815h7M7 847h7M166 782h7M88 905h7M119 757h7M168 871h7M151 768h7M200 894h7M39 799h7M229 820h7M35 781h7M154 842h7M42 868h7M257 768h7M100 915h7M93 812h7M100 861h7M121 895h7M268 876h7M48 869h7M43 834h7M196 845h7M13 854h7M116 913h7M242 762h7M147 817h7M106 774h7M87 790h7M70 800h7M97 907h7M251 922h7M228 778h7M99 849h7M85 781h7M205 870h7M109 878h7M119 894h7M53 837h7M62 734h7M175 733h7M7 839h7M69 877h7M91 917h7M153 825h7M30 849h7M237 859h7M120 905h7M124 841h7M115 783h7M89 906h7M63 868h7M241 867h7M162 773h7M136 845h7M228 748h7M85 732h7M198 832h7M147 820h7M70 877h7M19 843h7M70 812h7M179 888h7M260 773h7M192 852h7M94 827h7M142 833h7M113 878h7M46 738h7M51 852h7M147 799h7M189 852h7M138 824h7M186 824h7M153 780h7M59 876h7M230 807h7M41 870h7M197 764h7M164 910h7M169 820h7M162 876h7M79 837h7M117 883h7M26 845h7M154 917h7M187 883h7M87 883h7M103 806h7M142 918h7M147 849h7M134 762h7M148 872h7M33 833h7M194 817h7M261 848h7M24 858h7M86 737h7M167 874h7M222 789h7M137 845h7M176 756h7M176 855h7M106 855h7M242 886h7M194 828h7M223 778h7M109 837h7M228 793h7M175 805h7M58 842h7M203 775h7M104 820h7M156 837h7M7 817h7M270 831h7M191 915h7M139 869h7M176 770h7M169 821h7M259 887h7M159 808h7M19 850h7M120 843h7M248 875h7M189 835h7M107 837h7M192 797h7M151 865h7M192 793h7M67 844h7M197 832h7M123 889h7M171 840h7M304 850h7M116 842h7M162 804h7M95 793h7M90 806h7M135 909h7M21 810h7M255 820h7M133 884h7M152 793h7M154 876h7M197 852h7M201 828h7M42 873h7M242 773h7M61 892h7M158 857h7M354 789h7M280 893h7M113 910h7M193 763h7M146 830h7M176 816h7M71 880h7M65 921h7M169 738h7M12 846h7M72 838h7M195 901h7M91 843h7M68 773h7M50 834h7M154 787h7M111 801h7M154 847h7M126 818h7M295 861h7M105 760h7M151 916h7M142 885h7M155 772h7M8 724h7M236 796h7M139 832h7M10 918h7M181 815h7M136 913h7M254 914h7M107 846h7M39 913h7M152 864h7M66 808h7M176 779h7M52 838h7M131 901h7M123 769h7M139 754h7M99 876h7M75 692h7M94 820h7M154 886h7M137 786h7M167 829h7M191 838h7M179 858h7M103 904h7M32 920h7M208 851h7M229 826h7M188 843h7M177 862h7M174 919h7M139 853h7M143 797h7M169 875h7M90 917h7M188 864h7M114 795h7M152 836h7M299 831h7M201 763h7M197 803h7M87 874h7M49 892h7M124 766h7M144 825h7M79 751h7M155 813h7M191 849h7M57 826h7M142 777h7M88 740h7M179 843h7M276 829h7M166 753h7M233 869h7M276 920h7M146 735h7M165 882h7M212 754h7M140 874h7M81 845h7M143 861h7M92 806h7M208 861h7M116 909h7M262 835h7M241 837h7M42 867h7M231 891h7M110 753h7M254 848h7M185 806h7M139 873h7M198 903h7M98 863h7M170 918h7M175 789h7M132 822h7M175 789h7M62 848h7M189 850h7M45 834h7M194 777h7M182 841h7M201 820h7M99 879h7M390 830h7M126 910h7M156 858h7M83 741h7M260 835h7M106 765h7M225 900h7M170 844h7M115 870h7M220 764h7M121 719h7M75 814h7M182 831h7M49 760h7M68 850h7M207 863h7M113 891h7M72 824h7M165 851h7M197 879h7M99 786h7M132 920h7M210 896h7M207 832h7M142 809h7M70 892h7M98 898h7M193 900h7M171 857h7M258 885h7M122 794h7M116 885h7M116 759h7M300 869h7M170 757h7M152 781h7M335 904h7M241 816h7M209 863h7M75 808h7M118 904h7M164 890h7M109 885h7M198 854h7M278 832h7M231 880h7M165 855h7M235 768h7M234 829h7M133 880h7M110 820h7M201 866h7M84 838h7M212 788h7M62 795h7M75 804h7M150 830h7M32 831h7M149 909h7M191 785h7M44 731h7M223 885h7M104 821h7M193 840h7M107 880h7M13 900h7M94 853h7M88 900h7M280 812h7M230 806h7M40 820h7M119 812h7M186 912h7M212 838h7M104 907h7M128 829h7M163 901h7M71 840h7M164 831h7M143 845h7M95 856h7M83 814h7M174 770h7M176 825h7M82 744h7M209 719h7M163 689h7M197 812h7M78 755h7M139 829h7M102 743h7M80 909h7M309 868h7M224 865h7M106 905h7M241 814h7M156 772h7M136 788h7M161 748h7M152 836h7M132 854h7M139 858h7M60 815h7M150 914h7M140 864h7M111 839h7M208 739h7M47 899h7M121 805h7M82 821h7M193 860h7M113 853h7M154 911h7M180 809h7M23 857h7M186 863h7M91 849h7M130 886h7M141 833h7M214 916h7M209 807h7M290 766h7M164 845h7M112 914h7M110 818h7M202 812h7M277 828h7M177 857h7M104 837h7M172 865h7M170 750h7M91 880h7M234 873h7M3 850h7M308 731h7M165 890h7M54 830h7M213 790h7M88 835h7M195 737h7M152 880h7M56 835h7M203 832h7M256 849h7M155 810h7M68 793h7M6 844h7M278 908h7M265 814h7M50 789h7M281 900h7M163 851h7M132 846h7M129 779h7M264 859h7M162 747h7M4 830h7M316 881h7M220 911h7M64 775h7M122 895h7M78 892h7M154 840h7M169 847h7M103 797h7M86 871h7M217 742h7M329 903h7M86 825h7M213 882h7M154 878h7M258 812h7M160 774h7M79 732h7M125 831h7M231 758h7M53 837h7M259 871h7M204 822h7M128 794h7M258 915h7M289 836h7M198 860h7M164 901h7M297 773h7M269 795h7M134 838h7M133 788h7M117 833h7M31 815h7M222 778h7M157 824h7M158 846h7M262 846h7M105 878h7M145 749h7M172 763h7M116 892h7M141 822h7M211 916h7M149 864h7M256 767h7M90 878h7M166 790h7M36 862h7M141 917h7M259 843h7M209 887h7M191 864h7M297 892h7M265 703h7M207 825h7M95 864h7M34 874h7M148 805h7M122 894h7M98 910h7M127 851h7M18 834h7M269 827h7M59 855h7M96 914h7M20 821h7M224 795h7M225 802h7M125 903h7M64 860h7M112 864h7M261 869h7M154 840h7M91 789h7M77 812h7M196 854h7M271 869h7M48 826h7M104 824h7M204 821h7M163 860h7M331 829h7M140 799h7M115 762h7M93 817h7M219 801h7M19 895h7M210 783h7M170 824h7M109 884h7M77 841h7M235 875h7M300 894h7M114 754h7M193 824h7M290 793h7M130 841h7M52 875h7M143 827h7M116 851h7M90 870h7M22 832h7M42 918h7M71 893h7M202 904h7M109 850h7M81 828h7M203 827h7M195 827h7M89 755h7M99 868h7M203 893h7M179 847h7M82 819h7M169 849h7M148 860h7M240 866h7M221 799h7M185 868h7M68 886h7M235 852h7M224 834h7M43 790h7M311 814h7M57 887h7M124 810h7M212 874h7M197 876h7M142 903h7M261 861h7M183 872h7M263 897h7M379 782h7M166 850h7M113 737h7M62 801h7M158 761h7M158 875h7M50 902h7M56 830h7M128 839h7M134 834h7M229 855h7M153 867h7M149 821h7M174 803h7M66 818h7M146 892h7M235 824h7M188 834h7M83 781h7M258 808h7M193 873h7M115 874h7M253 863h7M166 815h7M127 894h7M365 870h7M251 756h7M39 867h7M139 821h7M48 869h7M7 897h7M164 805h7M350 859h7M280 895h7M154 856h7M119 829h7M167 788h7M236 810h7M28 777h7M307 853h7M173 780h7M284 847h7M170 775h7M273 665h7M99 914h7M192 912h7M280 765h7M235 807h7M111 858h7M225 826h7M94 800h7M30 818h7M194 833h7M267 816h7M221 858h7M44 834h7M223 805h7M207 848h7M111 755h7M235 751h7M225 842h7M192 865h7M4 869h7M25 861h7M235 916h7M218 785h7M192 843h7M129 855h7M183 819h7M104 814h7M124 917h7M77 807h7M172 820h7M115 831h7M230 835h7M211 855h7M81 835h7M305 867h7M55 854h7M188 873h7M242 922h7M258 800h7M235 822h7M253 883h7M272 855h7M93 739h7M112 805h7M264 803h7M92 905h7M254 850h7M66 885h7M110 860h7M158 888h7M234 774h7M134 856h7M227 854h7M16 820h7M121 766h7M189 896h7M119 917h7M64 775h7M186 854h7M141 869h7M88 790h7M78 792h7M317 893h7M202 787h7M254 848h7M242 804h7M72 831h7M231 863h7M222 844h7M192 809h7M102 837h7M144 836h7M105 907h7M214 847h7M94 835h7M183 898h7M57 790h7M140 887h7M119 902h7M140 882h7M161 836h7M134 846h7M131 752h7M244 862h7M97 893h7M129 854h7M80 825h7M235 800h7M73 844h7M193 853h7M250 912h7M290 847h7M251 819h7M203 840h7M48 820h7M260 833h7M251 726h7M221 759h7M218 781h7M157 871h7M107 842h7M242 854h7M258 909h7M62 789h7M228 908h7M171 867h7M226 807h7M245 768h7M238 785h7M226 835h7M34 868h7M221 836h7M155 730h7M56 830h7M211 841h7M227 921h7M295 853h7M109 787h7M229 865h7M190 783h7M206 857h7M37 866h7M203 824h7M163 859h7M214 828h7M152 815h7M175 877h7M209 829h7M267 804h7M167 856h7M236 877h7M171 892h7M108 871h7M218 785h7M145 909h7M219 891h7M188 918h7M60 765h7M182 826h7M263 818h7M112 910h7M3 782h7M170 828h7M312 881h7M149 825h7M100 774h7M174 870h7M106 833h7M77 873h7M148 831h7M85 800h7M263 857h7M55 774h7M147 875h7M95 828h7M38 896h7M292 821h7M274 867h7M35 913h7M161 733h7M342 852h7M39 769h7M262 798h7M167 881h7M107 801h7M150 811h7M163 795h7M278 799h7M121 720h7M165 786h7M253 779h7M104 912h7M178 777h7M99 887h7M120 836h7M100 889h7M9 866h7M92 750h7M164 796h7M254 845h7M109 826h7M139 805h7M208 898h7M215 788h7M143 894h7M149 819h7M309 851h7M125 785h7M112 845h7M18 803h7M189 751h7M131 844h7M312 843h7M125 890h7M221 861h7M231 790h7M290 812h7M44 711h7M283 785h7M154 916h7M127 887h7M120 862h7M124 877h7M195 751h7M158 798h7M74 910h7M148 909h7M344 858h7M185 829h7M121 824h7M295 816h7M87 795h7M140 741h7M107 853h7M133 821h7M214 834h7M92 877h7M142 807h7M160 877h7M119 764h7M150 902h7M93 860h7M92 835h7M157 876h7M187 820h7M137 792h7M102 846h7M139 809h7M162 866h7M135 810h7M81 880h7M271 830h7M228 809h7M231 864h7M180 735h7M131 832h7M160 795h7M373 779h7M235 813h7M239 819h7M120 847h7M202 802h7M339 744h7M188 816h7M241 893h7M256 771h7M206 879h7M283 870h7M172 821h7M194 862h7M101 804h7M370 823h7M178 789h7M162 871h7M267 920h7M112 808h7M152 910h7M88 729h7M154 797h7M120 790h7M142 813h7M103 888h7M128 733h7M143 851h7M110 876h7M230 843h7M208 696h7M164 855h7M54 889h7M195 917h7M47 867h7M168 753h7M156 834h7M104 895h7M84 800h7M95 876h7M321 819h7M130 850h7M135 887h7M231 806h7M239 853h7M52 864h7M63 804h7M426 848h7M149 830h7M129 765h7M165 761h7M234 861h7M55 840h7M176 701h7M150 727h7M207 828h7M166 841h7M109 878h7M81 777h7M233 828h7M32 817h7M119 837h7M288 899h7M118 876h7M202 894h7M135 807h7M209 829h7M155 781h7M111 815h7M263 823h7M130 819h7M43 884h7M125 868h7M196 887h7M61 852h7M217 904h7M215 851h7M326 898h7M100 873h7M206 885h7M16 841h7M118 777h7M161 766h7M148 866h7M145 869h7M102 836h7M116 820h7M198 783h7M204 842h7M233 842h7M249 783h7M5 775h7M110 806h7M139 826h7M100 818h7M238 890h7M213 780h7M143 867h7M255 894h7M124 782h7M127 683h7M226 891h7M190 872h7M268 813h7M182 915h7M213 823h7M108 851h7M76 788h7M151 863h7M185 817h7M231 904h7M158 857h7M134 763h7M241 883h7M149 891h7M232 799h7M331 823h7M211 848h7M229 831h7M192 852h7M173 881h7M175 818h7M240 806h7M21 815h7M84 847h7M144 835h7M96 786h7M188 908h7M223 855h7M270 798h7M193 867h7M94 920h7M173 883h7M267 909h7M182 843h7M4 875h7M210 912h7M188 892h7M193 903h7M224 857h7M184 887h7M100 912h7M181 836h7M250 774h7M155 877h7M54 821h7M246 858h7M111 831h7M92 751h7M116 835h7M82 767h7M132 856h7M256 839h7M217 907h7M268 838h7M273 866h7M80 829h7M191 824h7M274 768h7M339 899h7M37 854h7M37 813h7M190 856h7M125 822h7M72 805h7M183 859h7M88 912h7M150 767h7M162 811h7M228 800h7M167 910h7M133 832h7M98 886h7M18 839h7M116 758h7M233 822h7M318 838h7M140 876h7M7 827h7M219 838h7M236 863h7M57 871h7M164 844h7M210 835h7M61 809h7M124 773h7M89 757h7M56 882h7M45 743h7M121 892h7M97 829h7M293 847h7M75 846h7M140 907h7M59 804h7M182 824h7M29 842h7M159 830h7M136 811h7M226 751h7M62 755h7M99 808h7M132 833h7M321 900h7M98 867h7M204 839h7M163 816h7M174 787h7M103 822h7M133 831h7M122 813h7M89 888h7M130 823h7M211 778h7M182 858h7M189 854h7M240 782h7M186 802h7M149 898h7M143 871h7M45 858h7M195 872h7M244 819h7M234 872h7M144 812h7M202 772h7M225 807h7M298 857h7M250 850h7M162 903h7M158 752h7M164 833h7M169 867h7M110 792h7M213 859h7M94 823h7M85 783h7M179 907h7M104 769h7M131 900h7M215 794h7M150 797h7M140 805h7M188 799h7M167 860h7M94 743h7M313 914h7M114 891h7M229 922h7M299 791h7M100 718h7M158 811h7M84 836h7M235 862h7M123 817h7M61 841h7M257 854h7M225 760h7M246 784h7M166 860h7M370 905h7M289 802h7M105 846h7M79 830h7M161 903h7M154 862h7M210 858h7M157 885h7M31 833h7M84 834h7M265 898h7M244 860h7M137 873h7M139 780h7M136 847h7M152 912h7M14 895h7M223 865h7M97 817h7M162 812h7M259 848h7M273 829h7M188 912h7M91 791h7M21 856h7M244 787h7M171 882h7M198 877h7M128 794h7M85 805h7M221 822h7M73 764h7M223 795h7M14 798h7M75 889h7M32 922h7M256 821h7M8 830h7M57 858h7M204 817h7M169 831h7M328 892h7M300 858h7M200 841h7M206 814h7M78 812h7M123 852h7M136 789h7M38 813h7M74 851h7M81 824h7M236 875h7M185 850h7M123 770h7M128 719h7M174 901h7M93 814h7M10 847h7M204 804h7M228 876h7M179 831h7M189 846h7M180 795h7M316 881h7M167 906h7M42 817h7M208 815h7M237 859h7M213 756h7M218 740h7M92 909h7M118 858h7M39 869h7M158 850h7M136 862h7M209 837h7M212 783h7M36 827h7M161 866h7M208 803h7M126 830h7M219 822h7M165 847h7M237 896h7M165 859h7M136 867h7M191 767h7M213 826h7M170 891h7M113 798h7M85 822h7M119 792h7M102 919h7M166 821h7M163 806h7M142 880h7M149 906h7M163 873h7M277 899h7M247 857h7M102 838h7M183 821h7M122 818h7M141 813h7M129 866h7M98 839h7M37 850h7M165 842h7M246 770h7M75 802h7M190 784h7M117 741h7M171 851h7M83 780h7M130 775h7M139 786h7M166 828h7M137 900h7M202 821h7M146 876h7M165 878h7M178 852h7M114 788h7M60 820h7M112 780h7M113 831h7M330 850h7M114 882h7M175 898h7M194 858h7M235 866h7M20 868h7M80 856h7M166 862h7M193 791h7M120 897h7M15 853h7M166 890h7M197 833h7M148 748h7M107 873h7M195 909h7M143 775h7M55 792h7M155 829h7M41 831h7M227 752h7M65 901h7M165 811h7M251 745h7M284 891h7M19 909h7M134 793h7M30 858h7M142 763h7M13 876h7M103 729h7M159 743h7M179 871h7M183 853h7M243 828h7M205 879h7M66 865h7M134 746h7M412 836h7M336 773h7M216 801h7M209 863h7M230 836h7M114 786h7M310 843h7M116 800h7M141 874h7M329 831h7M178 830h7M4 886h7M93 837h7M140 844h7M118 814h7M162 852h7M83 747h7M48 807h7M115 850h7M32 818h7M202 818h7M39 867h7M205 816h7M113 821h7M122 769h7M246 794h7M157 780h7M189 771h7M170 855h7M30 751h7M154 759h7M122 851h7M316 863h7M111 766h7M311 745h7M264 791h7M96 885h7M79 842h7M258 885h7M136 838h7M161 842h7M126 878h7M46 838h7M116 857h7M67 794h7M19 811h7M123 870h7M298 831h7M284 803h7M142 880h7M159 874h7M191 844h7M262 802h7M174 893h7M114 799h7M243 759h7M367 801h7M95 793h7M216 779h7M141 890h7M159 891h7M153 885h7M35 817h7M143 810h7M50 825h7M172 779h7M40 911h7M118 899h7M23 818h7M117 827h7M110 846h7M198 855h7M261 890h7M132 847h7M75 866h7M313 761h7M178 827h7M199 745h7M271 920h7M233 883h7M205 905h7M75 895h7M96 756h7M139 832h7M156 714h7M149 799h7M174 775h7M150 843h7M112 865h7M10 792h7M219 828h7M198 859h7M73 835h7M190 833h7M181 711h7M154 819h7M46 857h7M97 762h7M285 828h7M75 858h7M118 790h7M54 880h7M106 799h7M177 825h7M204 825h7M151 812h7M96 882h7M230 817h7M230 854h7M134 859h7M242 842h7M91 772h7M121 918h7M229 830h7M125 832h7M46 771h7M90 754h7M35 812h7M195 759h7M233 891h7M8 808h7M152 754h7M23 821h7M121 785h7M235 852h7M243 853h7M259 819h7M140 847h7M157 900h7M200 814h7M114 883h7M241 830h7M175 785h7M245 913h7M188 864h7M205 851h7M86 862h7M112 834h7M38 785h7M133 892h7M219 857h7M41 896h7M423 913h7M137 832h7M255 875h7M236 825h7M125 829h7M213 871h7M70 868h7M108 824h7M167 894h7M164 820h7M93 843h7M84 801h7M207 909h7M446 877h7M177 897h7M195 768h7M143 858h7M86 800h7M170 847h7M277 913h7M164 857h7M223 833h7M128 904h7M362 898h7M197 740h7M194 861h7M170 820h7M53 795h7M51 849h7M127 779h7M156 720h7M44 793h7M57 828h7M235 803h7M100 778h7M88 734h7M85 823h7M358 830h7M189 851h7M141 763h7M233 801h7M342 718h7M247 852h7M26 756h7M140 692h7M113 907h7M118 871h7M43 862h7M114 862h7M55 786h7M176 902h7M151 785h7M106 741h7M202 891h7M141 829h7M105 831h7M84 808h7M118 701h7M43 911h7M110 818h7M90 864h7M378 780h7M207 793h7M130 904h7M143 822h7M136 821h7M163 773h7M112 854h7M145 886h7M234 818h7M217 833h7M173 776h7M260 920h7M166 809h7M63 834h7M87 830h7M141 757h7M181 792h7M238 823h7M78 855h7M212 831h7M247 889h7M106 915h7M175 801h7M174 891h7M142 868h7M260 854h7M201 920h7M157 828h7M40 847h7M138 787h7M137 876h7M240 860h7M43 889h7M269 831h7M150 915h7M248 813h7M64 851h7M176 774h7M251 799h7M156 855h7M21 807h7M118 819h7M192 832h7M27 858h7M24 886h7M167 886h7M66 900h7M205 855h7M46 813h7M80 824h7M274 799h7M73 743h7M168 742h7M66 863h7M240 875h7M162 831h7M3 845h7M131 799h7M127 764h7M208 788h7M273 808h7M125 846h7M124 863h7M185 759h7M277 863h7M200 804h7M126 836h7M118 883h7M216 911h7M80 807h7M56 790h7M203 788h7M145 905h7M124 894h7M136 723h7M189 724h7M115 775h7M212 760h7M182 867h7M273 856h7M220 888h7M130 851h7M157 910h7M97 794h7M390 766h7M128 846h7M194 896h7M263 753h7M31 894h7M77 892h7M113 816h7M62 853h7M39 828h7M103 848h7M257 889h7M209 799h7M150 902h7M150 892h7M6 894h7M206 734h7M183 740h7M55 882h7M165 811h7M131 805h7M103 801h7M63 769h7M90 828h7M67 803h7M187 807h7M178 871h7M175 778h7M132 907h7M113 720h7M249 876h7M177 895h7M153 844h7M104 885h7M129 838h7M47 745h7M29 863h7M138 908h7M7 813h7M219 749h7M242 810h7M15 861h7M171 906h7M166 875h7M157 872h7M183 732h7M221 847h7M300 892h7M150 824h7M221 835h7M10 847h7M266 878h7M194 822h7M37 873h7M138 818h7M150 917h7M165 846h7M240 899h7M106 862h7M100 826h7M268 737h7M125 827h7M31 715h7M35 849h7M153 835h7M276 826h7M133 904h7M108 910h7M109 830h7M272 887h7M168 759h7M168 782h7M128 829h7M173 843h7M109 776h7M90 821h7M137 884h7M93 819h7M174 836h7M155 794h7M129 856h7M296 838h7M98 872h7M123 807h7M204 769h7M131 811h7M126 811h7M181 845h7M186 832h7M9 919h7M57 831h7M216 786h7M242 775h7M258 803h7M160 857h7M246 807h7M145 734h7M138 872h7M17 835h7M81 829h7M98 810h7M226 718h7M108 818h7M180 875h7M82 909h7M84 845h7M26 862h7M121 896h7M136 878h7M133 820h7M134 870h7M189 866h7M69 884h7M223 856h7M153 856h7M181 895h7M81 847h7M12 812h7M202 792h7M91 836h7M214 875h7M213 916h7M147 840h7M148 816h7M231 816h7M180 918h7M69 851h7M162 817h7M195 887h7M165 770h7M164 852h7M135 843h7M138 837h7M68 780h7M26 900h7M94 770h7M166 852h7M21 881h7M78 821h7M399 791h7M61 845h7M227 849h7M244 860h7M169 725h7M222 723h7M44 896h7M205 889h7M103 767h7M63 874h7M118 847h7M109 857h7M30 800h7M337 819h7M109 796h7M84 848h7M220 832h7M260 880h7M125 756h7M177 868h7M162 861h7M130 906h7M139 843h7M289 885h7M90 792h7M101 889h7M119 767h7M196 918h7M181 760h7M226 726h7M34 875h7M169 835h7M133 851h7M123 869h7M161 843h7M171 857h7M160 865h7M27 873h7M278 804h7M115 849h7M198 877h7M129 820h7M79 777h7M70 813h7M114 905h7M257 830h7M216 880h7M88 804h7M232 870h7M137 807h7M89 797h7M184 851h7M71 848h7M257 753h7M19 922h7M145 823h7M131 807h7M111 817h7M138 856h7M145 865h7M72 879h7M142 785h7M231 781h7M87 776h7M169 769h7M51 839h7M180 863h7M356 875h7M224 846h7M266 804h7M64 864h7M238 900h7M102 889h7M96 868h7M240 825h7M168 775h7M259 836h7M26 811h7M171 884h7M104 837h7M125 877h7M227 900h7M166 797h7M66 757h7M35 767h7M75 810h7M265 908h7M140 885h7M120 779h7M190 850h7M149 839h7M168 757h7M211 789h7M176 730h7M222 796h7M49 696h7M154 800h7M119 792h7M158 800h7M145 799h7M96 910h7M120 825h7M228 859h7M103 888h7M45 896h7M199 883h7M230 814h7M127 783h7M160 801h7M79 818h7M132 845h7M242 840h7M216 907h7M162 839h7M14 903h7M176 818h7M188 893h7M237 683h7M181 868h7M229 867h7M57 750h7M222 831h7M263 837h7M206 908h7M188 834h7M273 797h7M95 882h7M204 788h7M240 887h7M85 853h7M54 908h7M186 777h7M161 915h7M201 862h7M87 808h7M244 885h7M121 889h7M127 804h7M57 876h7M219 883h7M313 798h7M37 780h7M214 802h7M105 854h7M120 898h7M64 861h7M86 852h7M165 857h7M205 822h7M161 914h7M222 855h7M168 858h7M54 767h7M272 862h7M250 807h7M93 817h7M298 903h7M190 784h7M162 834h7M310 880h7M19 816h7M211 863h7M131 861h7M73 782h7M277 725h7M192 737h7M46 879h7M97 851h7M222 770h7M300 809h7M173 825h7M120 843h7M138 801h7M19 853h7M108 802h7M286 810h7M195 795h7M217 832h7M202 814h7M182 865h7M233 857h7M56 795h7M223 779h7M92 865h7M253 805h7M280 919h7M85 864h7M201 741h7M97 850h7M203 814h7M199 917h7M160 804h7M397 905h7M266 814h7M221 875h7M238 784h7M399 823h7M244 793h7M94 805h7M180 855h7M159 835h7M106 856h7M175 917h7M174 839h7M149 740h7M113 829h7M222 849h7M21 902h7M222 903h7M154 898h7M176 832h7M293 764h7M10 918h7M82 870h7M207 873h7M103 824h7M120 848h7M117 877h7M171 770h7M210 900h7M130 876h7M190 843h7M98 840h7M91 856h7M317 847h7M83 839h7M256 783h7M160 783h7M276 813h7M101 829h7M197 778h7M181 780h7M135 829h7M180 887h7M90 834h7M147 883h7M121 900h7M217 888h7M146 821h7M38 822h7M123 740h7M146 807h7M79 871h7M265 784h7M188 921h7M90 824h7M121 897h7M238 765h7M34 786h7M184 824h7M161 845h7M112 835h7M161 797h7M173 861h7M52 861h7M47 883h7M270 855h7M95 832h7M235 753h7M149 752h7M231 800h7M183 755h7M143 866h7M168 877h7M282 877h7M196 804h7M167 840h7M122 847h7M46 806h7M219 916h7M92 888h7M184 839h7M70 751h7M312 883h7M56 895h7M165 841h7M374 774h7M172 869h7M81 904h7M205 737h7M237 877h7M227 743h7M313 872h7M160 827h7M115 845h7M195 920h7M55 827h7M290 824h7M134 846h7M271 857h7M283 907h7M259 825h7M200 774h7M79 919h7M233 841h7M310 801h7M223 806h7M289 807h7M89 811h7M240 759h7M233 912h7M29 866h7M18 900h7M94 826h7M161 864h7M192 854h7M135 911h7M149 891h7M145 865h7M162 809h7M204 778h7M196 800h7M150 810h7M176 815h7M116 776h7M112 860h7M293 732h7M152 784h7M178 770h7M90 858h7M125 905h7M168 790h7M156 880h7M102 830h7M57 909h7M158 921h7M167 862h7M201 885h7M260 845h7M128 824h7M142 863h7M46 824h7M242 841h7M202 835h7M100 787h7M101 816h7M147 909h7M6 832h7M125 781h7M310 769h7M65 852h7M239 888h7M97 808h7M241 880h7M72 897h7M217 905h7M117 839h7M85 842h7M142 753h7M195 846h7M189 861h7M224 774h7M121 789h7M122 704h7M208 785h7M55 882h7M167 771h7M130 842h7M289 892h7M182 876h7M200 833h7M303 801h7M112 891h7M155 845h7M71 890h7M177 867h7M243 819h7M152 817h7M95 869h7M90 810h7M37 832h7M165 831h7M270 808h7M183 835h7M221 868h7M170 775h7M160 812h7M203 909h7M310 819h7M249 896h7M100 829h7M87 741h7M135 791h7M136 832h7M162 846h7M104 721h7M211 779h7M159 804h7M186 833h7M156 857h7M208 799h7M54 761h7M290 862h7M185 827h7M194 894h7M208 816h7M248 881h7M218 796h7M176 860h7M141 850h7M16 870h7M174 793h7M130 838h7M130 798h7M360 836h7M259 847h7M238 885h7M262 851h7M49 908h7M75 871h7M209 903h7M131 865h7M176 921h7M173 751h7M194 862h7M134 849h7M167 723h7M99 797h7M154 820h7M116 804h7M179 852h7M37 746h7M30 886h7M196 888h7M176 865h7M75 827h7M138 845h7M68 819h7M331 909h7M24 873h7M87 825h7M135 813h7M125 836h7M237 788h7M227 874h7M133 842h7M80 880h7M277 842h7M169 866h7M132 895h7M182 842h7M164 815h7M259 865h7M75 873h7M159 888h7M91 891h7M269 808h7M311 870h7M150 913h7M203 820h7M277 865h7M132 811h7M78 855h7M201 855h7M140 792h7M282 864h7M178 857h7M6 907h7M187 770h7M153 795h7M318 841h7M156 760h7M140 908h7M195 734h7M179 800h7M38 764h7M168 809h7M130 890h7M277 879h7M362 896h7M63 879h7M76 733h7M86 862h7M102 744h7M99 818h7M162 824h7M250 815h7M47 873h7M27 801h7M252 878h7M271 911h7M27 887h7M19 895h7M169 843h7M244 787h7M174 871h7M216 846h7M186 833h7M111 863h7M320 804h7M158 893h7M63 889h7M118 851h7M27 886h7M159 788h7M251 746h7M50 813h7M254 832h7M190 833h7M60 902h7M86 892h7M49 852h7M52 882h7M136 835h7M143 798h7M210 790h7M56 802h7M248 861h7M234 837h7M103 846h7M306 814h7M129 844h7M312 843h7M249 881h7M82 896h7M119 755h7M317 858h7M243 921h7M145 789h7M175 832h7M175 855h7M92 906h7M141 878h7M102 833h7M122 873h7M198 903h7M77 867h7M167 869h7M223 788h7M234 802h7M264 838h7M212 834h7M218 880h7M143 865h7M81 890h7M222 804h7M154 822h7M196 883h7M68 851h7M275 880h7M109 859h7M192 812h7M238 909h7M126 760h7M73 812h7M132 883h7M56 842h7M204 771h7M281 892h7M48 912h7M184 863h7M263 901h7M184 892h7M186 895h7M201 818h7M207 903h7M298 857h7M210 777h7M52 824h7M118 827h7M176 872h7M89 884h7M136 785h7M113 886h7M98 843h7M217 788h7M125 892h7M65 804h7M97 781h7M161 888h7M338 896h7M180 810h7M285 904h7M200 901h7M85 843h7M42 859h7M66 715h7M311 881h7M23 812h7M105 871h7M257 753h7M215 910h7M114 684h7M141 879h7M222 865h7M109 681h7M131 806h7M283 842h7M126 801h7M198 858h7M51 844h7M104 867h7M45 825h7M171 896h7M104 900h7M225 772h7M245 909h7M162 806h7M125 832h7M180 909h7M163 853h7M54 879h7M249 891h7M177 880h7M225 818h7M41 795h7M233 885h7M338 889h7M210 867h7M33 837h7M161 895h7M153 846h7M176 772h7M138 863h7M200 875h7M118 890h7M177 799h7M99 807h7M166 866h7M243 823h7M115 844h7M215 899h7M81 870h7M137 864h7M92 907h7M32 849h7M144 844h7M236 920h7M217 820h7M71 823h7M52 862h7M233 870h7M49 772h7M207 863h7M113 832h7M156 848h7M356 859h7M290 839h7M229 908h7M39 876h7M185 839h7M162 854h7M149 907h7M272 893h7M10 919h7M184 842h7M168 858h7M305 848h7M159 896h7M164 827h7M34 885h7M74 812h7M225 812h7M238 756h7M208 915h7M178 856h7M175 872h7M113 864h7M258 856h7M273 879h7M349 836h7M218 710h7M227 891h7M68 874h7M164 852h7M234 774h7M54 693h7M86 873h7M116 761h7M196 828h7M108 885h7M176 784h7M70 881h7M244 849h7M341 868h7M71 858h7M139 833h7M257 796h7M115 777h7M93 855h7M205 795h7M52 828h7M313 861h7M171 899h7M79 832h7M347 787h7M247 797h7M254 851h7M120 809h7M210 780h7M200 838h7M13 902h7M207 888h7M140 838h7M269 808h7M100 847h7M104 776h7M173 893h7M213 844h7M120 759h7M146 805h7M193 890h7M257 857h7M177 898h7M79 763h7M226 778h7M127 805h7M126 830h7M131 879h7M19 905h7M122 904h7M121 823h7M78 849h7M316 878h7M195 805h7M137 835h7M170 873h7M219 802h7M90 876h7M136 917h7M125 789h7M372 725h7M162 855h7M225 860h7M381 826h7M72 867h7M459 912h7M150 895h7M243 830h7M106 786h7M132 714h7M48 731h7M63 806h7M255 813h7M55 817h7M188 762h7M184 759h7M99 755h7M160 883h7M147 741h7M112 885h7M160 799h7M160 877h7M66 861h7M42 889h7M81 912h7M166 805h7M276 794h7M284 823h7M183 805h7M238 883h7M166 840h7M252 847h7M166 869h7M190 820h7M130 906h7M155 745h7M321 859h7M50 873h7M155 804h7M103 808h7M239 895h7M314 828h7M128 740h7M209 900h7M209 797h7M7 917h7M134 920h7M149 834h7M214 800h7M193 823h7M176 807h7M62 877h7M92 775h7M99 838h7M197 848h7M68 873h7M283 729h7M188 747h7M303 833h7M168 852h7M106 855h7M171 877h7M64 887h7M274 882h7M266 881h7M124 838h7M69 879h7M150 801h7M173 726h7M209 889h7M59 884h7M224 832h7M15 819h7M98 778h7M95 818h7M218 872h7M220 811h7M186 823h7M202 861h7M195 821h7M147 851h7M149 781h7M133 895h7M141 793h7M173 831h7M133 745h7M65 820h7M20 776h7M261 837h7M234 872h7M33 748h7M129 776h7M192 835h7M295 770h7M100 906h7M169 822h7M256 852h7M88 836h7M149 886h7M89 807h7M340 864h7M230 909h7M170 855h7M68 851h7M230 826h7M209 847h7M107 880h7M114 830h7M23 752h7M146 853h7M230 836h7M242 869h7M204 846h7M100 778h7M111 791h7M259 879h7M193 788h7M82 861h7M197 843h7M226 737h7M215 880h7M162 918h7M107 855h7M188 768h7M303 886h7M165 787h7M93 837h7M182 866h7M43 801h7M173 752h7M126 836h7M237 841h7M161 797h7M245 801h7M356 883h7M133 838h7M256 812h7M245 684h7M312 736h7M306 749h7M282 709h7M175 877h7M264 793h7M242 711h7M303 742h7M399 658h7M381 618h7M354 702h7M307 749h7M269 714h7M327 607h7M255 777h7M267 715h7M223 707h7M292 710h7M290 620h7M459 570h7M345 751h7M264 620h7M365 687h7M255 716h7M385 629h7M365 624h7M550 537h7M202 804h7M290 693h7M287 672h7M323 682h7M359 724h7M212 740h7M233 797h7M323 717h7M382 559h7M199 858h7M161 837h7M397 741h7M370 741h7M392 631h7M212 788h7M279 692h7M317 643h7M335 728h7M287 721h7M293 709h7M385 641h7M259 787h7M249 807h7M259 755h7M253 752h7M308 719h7M279 835h7M259 660h7M420 565h7M323 723h7M268 755h7M407 687h7M249 825h7M297 815h7M289 693h7M247 794h7M264 741h7M304 762h7M173 838h7M263 793h7M319 671h7M321 711h7M323 678h7M499 540h7M354 654h7M285 686h7M286 784h7M297 738h7M334 742h7M271 699h7M427 523h7M202 775h7M351 671h7M340 724h7M199 856h7M351 735h7M345 755h7M242 804h7M496 560h7M358 636h7M269 780h7M256 735h7M233 741h7M319 732h7M302 730h7M176 867h7M208 766h7M235 830h7M262 770h7M266 742h7M240 737h7M352 627h7M378 591h7M303 784h7M109 818h7M283 765h7M345 672h7M290 703h7M320 682h7M305 712h7M169 875h7M350 679h7M252 698h7M332 611h7M271 833h7M282 690h7M414 552h7M194 863h7M296 655h7M203 838h7M303 762h7M337 701h7M352 722h7M309 648h7M179 767h7M317 697h7M373 659h7M382 648h7M480 590h7M345 649h7M209 699h7M252 781h7M304 707h7M386 686h7M199 904h7M375 661h7M352 704h7M222 746h7M348 722h7M231 795h7M296 736h7M271 789h7M317 654h7M196 836h7M341 707h7M262 669h7M248 761h7M431 712h7M342 666h7M255 739h7M220 872h7M299 838h7M243 775h7M487 528h7M60 898h7M302 701h7M87 863h7M385 611h7M228 790h7M434 609h7M250 786h7M389 647h7M314 653h7M398 672h7M299 734h7M43 913h7M235 764h7M163 852h7M377 659h7M343 679h7M297 759h7M335 740h7M313 695h7M248 764h7M464 530h7M317 699h7M280 760h7M171 871h7M244 777h7M298 719h7M281 703h7M256 768h7M292 677h7M201 811h7M297 724h7M164 794h7M223 802h7M234 767h7M371 689h7M338 666h7M303 741h7M198 880h7M262 761h7M365 702h7M404 603h7M171 814h7M260 667h7M306 709h7M327 646h7M297 728h7M354 579h7M173 789h7M430 614h7M199 825h7M302 642h7M342 666h7M397 758h7M374 694h7M372 667h7M406 502h7M284 692h7M361 693h7M429 622h7M232 799h7M177 869h7M211 801h7M418 660h7M404 549h7M267 865h7M318 691h7M338 658h7M388 716h7M136 888h7M250 809h7M275 713h7M325 712h7M304 750h7M271 693h7M323 691h7M77 899h7M562 485h7M369 630h7M374 599h7M242 790h7M334 703h7M474 626h7M454 586h7M305 685h7M192 745h7M312 714h7M272 730h7M372 753h7M188 922h7M282 809h7M322 660h7M258 691h7M389 634h7M201 763h7M192 878h7M268 753h7M370 642h7M272 743h7M248 823h7M368 619h7M318 728h7M253 699h7M309 703h7M278 709h7M351 692h7M311 718h7M230 836h7M257 789h7M263 724h7M330 633h7M331 656h7M227 763h7M282 725h7M325 664h7M393 691h7M320 747h7M466 566h7M301 697h7M362 657h7M270 744h7M213 793h7M308 639h7M340 666h7M326 611h7M311 713h7M270 777h7M228 732h7M272 751h7M339 659h7M381 619h7M351 718h7M392 665h7M407 609h7M331 713h7M356 664h7M260 775h7M291 686h7M344 680h7M204 784h7M230 714h7M315 786h7M183 857h7M303 681h7M170 762h7M315 674h7M301 681h7M250 735h7M217 721h7M255 720h7M105 889h7M264 770h7M309 621h7M402 633h7M254 713h7M283 686h7M418 605h7M448 562h7M256 790h7M389 677h7M400 621h7M343 654h7M213 877h7M217 878h7M348 697h7M500 543h7M283 782h7M434 674h7M462 558h7M191 897h7M247 758h7M429 662h7M383 626h7M346 684h7M297 701h7M353 677h7M244 815h7M514 496h7M199 792h7M143 879h7M311 689h7M423 711h7M256 689h7M294 844h7M210 766h7M292 773h7M210 872h7M212 820h7M171 764h7M251 746h7M459 588h7M293 752h7M315 753h7M491 610h7M244 837h7M212 750h7M343 730h7M192 730h7M327 704h7M398 586h7M205 717h7M253 803h7M445 595h7M207 846h7M239 697h7M319 647h7M271 740h7M225 753h7M437 607h7M248 735h7M327 681h7M263 698h7M278 799h7M179 808h7M378 598h7M261 785h7M409 650h7M197 817h7M256 768h7M340 668h7M308 707h7M241 666h7M286 658h7M186 759h7M303 731h7M313 701h7M416 609h7M376 709h7M372 642h7M262 783h7M341 706h7M263 689h7M290 743h7M290 739h7M7 915h7M378 605h7M338 628h7M371 724h7M216 891h7M358 704h7M340 760h7M105 822h7M145 918h7M303 811h7M241 847h7M297 679h7M243 820h7M428 606h7M134 912h7M180 792h7M214 794h7M180 795h7M248 787h7M296 719h7M182 873h7M330 734h7M412 645h7M393 639h7M472 560h7M397 638h7M296 759h7M453 596h7M360 683h7M461 582h7M282 732h7M116 845h7M197 719h7M314 735h7M346 707h7M281 691h7M386 738h7M199 751h7M238 820h7M385 660h7M304 732h7M307 768h7M421 661h7M394 641h7M230 729h7M317 648h7M152 855h7M298 796h7M333 733h7M149 847h7M435 621h7M473 606h7M342 765h7M380 617h7M430 644h7M285 746h7M390 608h7M333 644h7M167 893h7M222 802h7M251 752h7M393 646h7M308 759h7M385 652h7M259 831h7M189 802h7M479 531h7M536 514h7M333 648h7M283 718h7M403 691h7M204 882h7M282 765h7M176 835h7M342 642h7M322 654h7M265 767h7M244 776h7M169 805h7M229 760h7M407 703h7M270 793h7M409 630h7M225 795h7M293 786h7M260 771h7M278 751h7M367 589h7M122 792h7M364 575h7M360 562h7M300 719h7M307 730h7M281 695h7M360 690h7M305 737h7M227 779h7M313 639h7M383 718h7M332 758h7M303 691h7M318 797h7M257 759h7M260 717h7M137 839h7M284 646h7M385 631h7M267 673h7M222 840h7M378 669h7M314 642h7M312 737h7M341 604h7M361 676h7M297 746h7M228 784h7M451 539h7M305 711h7M234 768h7M316 709h7M403 703h7M178 904h7M413 699h7M289 700h7M472 538h7M358 672h7M291 748h7M408 531h7M410 598h7M270 830h7M320 644h7M256 723h7M379 619h7M179 846h7M285 730h7M117 860h7M351 605h7M109 912h7M209 797h7M323 669h7M270 747h7M262 790h7M217 720h7M260 680h7M150 799h7M328 655h7M370 516h7M366 635h7M297 775h7M405 615h7M340 734h7M383 513h7M334 686h7M303 783h7M235 850h7M74 888h7M356 634h7M291 746h7M471 517h7M130 847h7M373 579h7M219 793h7M300 720h7M224 861h7M330 711h7M298 691h7M376 651h7M313 648h7M341 686h7M410 616h7M345 702h7M289 774h7M407 534h7M291 743h7M335 725h7M273 686h7M244 858h7M43 904h7M360 786h7M202 841h7M363 712h7M455 601h7M188 863h7M376 606h7M292 688h7M340 593h7M198 832h7M303 684h7M314 744h7M423 644h7M484 500h7M328 730h7M269 758h7M491 567h7M292 749h7M296 722h7M310 712h7M341 736h7M362 620h7M252 704h7M292 691h7M462 632h7M438 587h7M339 778h7M324 553h7M281 702h7M389 623h7M257 769h7M312 774h7M262 743h7M248 716h7M305 756h7M302 792h7M252 640h7M296 751h7M307 728h7M261 713h7M245 744h7M290 743h7M361 669h7M396 626h7M317 650h7M278 752h7M299 689h7M465 584h7M380 624h7M220 797h7M297 758h7M256 768h7M270 776h7M157 775h7M304 739h7M185 831h7M251 732h7M431 601h7M387 513h7M227 786h7M213 774h7M224 677h7M140 880h7M218 760h7M278 751h7M212 783h7M366 686h7M297 726h7M256 744h7M451 615h7M362 706h7M308 606h7M460 585h7M414 595h7M241 717h7M329 757h7M264 796h7M179 774h7M464 527h7M430 648h7M193 781h7M344 667h7M161 744h7M394 634h7M297 776h7M277 718h7M410 621h7M302 800h7M279 779h7M380 719h7M276 770h7M377 711h7M302 639h7M373 619h7M356 594h7M370 766h7M215 800h7M464 575h7M288 694h7M453 541h7M250 629h7M278 845h7M279 733h7M401 636h7M265 683h7M338 685h7M167 851h7M260 749h7M321 731h7M292 686h7M140 871h7M345 724h7M218 816h7M469 594h7M285 727h7M497 505h7M359 696h7M342 666h7M260 709h7M292 763h7M341 609h7M133 835h7M388 682h7M200 849h7M279 719h7M341 710h7M366 660h7M326 661h7M330 715h7M269 753h7M315 712h7M407 682h7M265 764h7M345 659h7M365 672h7M281 828h7M322 667h7M321 690h7M259 717h7M513 555h7M264 690h7M450 613h7M395 675h7M125 832h7M324 659h7M391 571h7M373 660h7M223 732h7M324 669h7M197 787h7M211 762h7M281 776h7M318 780h7M441 498h7M333 653h7M394 652h7M197 757h7M201 779h7M259 764h7M454 654h7M185 873h7M164 822h7M295 730h7M405 613h7M159 831h7M279 682h7M183 735h7M428 594h7M362 713h7M325 734h7M297 634h7M281 727h7M313 679h7M245 780h7M224 732h7M204 844h7M302 708h7M232 805h7M378 695h7M117 783h7M351 666h7M348 751h7M408 629h7M279 787h7M170 850h7M220 764h7M400 648h7M274 791h7M265 811h7M250 831h7M295 671h7M281 775h7M165 770h7M249 757h7M389 634h7M428 641h7M290 743h7M256 817h7M420 589h7M285 772h7M198 825h7M290 728h7M362 610h7M437 630h7M258 770h7M348 716h7M272 742h7M401 622h7M324 718h7M324 721h7M215 825h7M273 833h7M273 714h7M376 515h7M300 765h7M283 696h7M269 841h7M303 675h7M322 751h7M186 770h7M312 656h7M311 749h7M303 758h7M171 797h7M289 843h7M188 800h7M331 767h7M416 573h7M377 609h7M271 749h7M253 712h7M251 783h7M331 592h7M242 777h7M254 732h7M81 860h7M226 793h7M232 767h7M253 738h7M407 667h7M182 834h7M184 836h7M353 737h7M215 789h7M286 771h7M316 687h7M302 747h7M233 802h7M381 625h7M432 536h7M213 734h7M277 695h7M383 676h7M282 729h7M213 780h7M263 774h7M373 692h7M213 859h7M323 672h7M334 717h7M243 801h7M350 632h7M359 676h7M388 602h7M382 639h7M170 850h7M379 573h7M351 635h7M386 609h7M226 787h7M380 617h7M333 709h7M199 765h7M412 600h7M232 806h7M212 810h7M335 697h7M248 762h7M332 740h7M279 802h7M325 681h7M372 625h7M298 673h7M377 737h7M375 614h7M228 719h7M375 668h7M355 723h7M312 651h7M398 630h7M445 529h7M367 630h7M173 905h7M340 694h7M289 717h7M277 742h7M331 707h7M272 738h7M443 542h7M325 643h7M303 812h7M369 625h7M371 716h7M404 597h7M356 733h7M298 754h7M313 699h7M173 784h7M392 631h7M273 703h7M459 548h7M459 568h7M192 767h7M328 680h7M553 579h7M233 695h7M336 630h7M281 691h7M280 715h7M277 787h7M300 754h7M368 685h7M231 788h7M345 794h7M240 718h7M347 626h7M329 694h7M234 786h7M314 697h7M237 734h7M228 720h7M476 823h7M407 803h7M443 848h7M348 851h7M733 916h7M592 834h7M814 859h7M529 857h7M480 864h7M479 844h7M494 861h7M206 881h7M477 833h7M630 778h7M210 759h7M464 828h7M611 901h7M721 894h7M592 889h7M799 804h7M726 759h7M448 811h7M424 825h7M682 798h7M555 890h7M434 796h7M483 871h7M570 882h7M488 743h7M479 816h7M482 908h7M283 886h7M796 846h7M714 778h7M760 801h7M499 844h7M540 908h7M611 866h7M650 834h7M229 852h7M576 882h7M361 743h7M508 785h7M415 841h7M791 906h7M605 898h7M515 796h7M741 840h7M509 798h7M405 818h7M490 847h7M462 819h7M527 808h7M653 775h7M501 752h7M510 828h7M681 850h7M566 873h7M671 794h7M541 799h7M313 908h7M342 862h7M257 888h7M701 808h7M586 800h7M445 776h7M363 893h7M577 777h7M499 744h7M571 798h7M386 908h7M344 840h7M769 852h7M369 845h7M516 836h7M732 830h7M229 762h7M531 831h7M497 905h7M563 753h7M332 869h7M167 774h7M820 768h7M475 854h7M661 895h7M696 914h7M566 912h7M592 824h7M633 882h7M770 806h7M598 809h7M720 852h7M474 832h7M453 885h7M533 738h7M584 901h7M605 807h7M829 920h7M653 902h7M530 776h7M835 836h7M572 876h7M577 796h7M598 798h7M468 822h7M348 880h7M541 889h7M471 816h7M383 884h7M539 920h7M489 889h7M427 799h7M239 793h7M494 855h7M799 884h7M661 863h7M692 818h7M517 788h7M687 909h7M414 831h7M602 776h7M295 821h7M529 804h7M787 907h7M410 812h7M587 734h7M417 902h7M434 847h7M94 778h7M372 757h7M703 861h7M602 828h7M545 847h7M911 861h7M606 819h7M325 825h7M488 876h7M511 834h7M775 824h7M378 875h7M588 731h7M675 908h7M393 864h7M535 798h7M203 830h7M536 907h7M172 870h7M460 743h7M793 784h7M586 850h7M545 882h7M862 829h7M608 871h7M685 841h7M452 823h7M452 861h7M356 723h7M493 895h7M410 869h7M677 816h7M622 793h7M502 774h7M435 855h7M63 848h7M427 850h7M625 720h7M33 801h7M141 798h7M546 892h7M358 826h7M486 789h7M446 851h7M614 862h7M431 854h7M670 816h7M554 813h7M390 796h7M593 867h7M566 885h7M380 828h7M630 833h7M628 915h7M500 846h7M670 867h7M336 781h7M642 807h7M490 723h7M373 765h7M427 860h7M705 908h7M433 825h7M466 775h7M417 845h7M396 902h7M673 831h7M871 890h7M733 837h7M601 773h7M640 791h7M466 826h7M335 872h7M749 827h7M467 856h7M408 852h7M420 816h7M551 834h7M434 826h7M524 881h7M733 913h7M325 823h7M568 870h7M411 801h7M453 780h7M777 844h7M620 873h7M460 837h7M599 885h7M518 885h7M697 881h7M444 832h7M598 766h7M523 814h7M497 880h7M423 867h7M538 821h7M426 877h7M460 839h7M580 817h7M402 787h7M659 771h7M633 871h7M159 816h7M418 815h7M351 868h7M652 821h7M670 876h7M332 805h7M413 812h7M509 890h7M463 803h7M635 873h7M676 868h7M615 841h7M694 750h7M669 769h7M510 781h7M453 770h7M405 887h7M651 793h7M662 773h7M682 813h7M470 835h7M460 749h7M564 873h7M719 879h7M578 808h7M557 884h7M392 756h7M592 810h7M607 831h7M372 844h7M799 902h7M377 822h7M669 785h7M490 852h7M547 848h7M398 864h7M433 822h7M633 849h7M491 809h7M468 870h7M662 804h7M634 806h7M548 903h7M559 799h7M794 840h7M496 871h7M584 823h7M589 889h7M302 808h7M218 895h7M542 756h7M659 767h7M554 844h7M438 917h7M650 793h7M475 838h7M269 813h7M630 724h7M560 879h7M582 820h7M686 914h7M731 855h7M611 811h7M495 802h7M189 830h7M569 864h7M499 813h7M723 851h7M597 778h7M738 844h7M510 902h7M515 863h7M389 822h7M473 804h7M556 797h7M689 776h7M407 812h7M648 854h7M891 809h7M481 860h7M525 816h7M680 838h7M835 919h7M716 748h7M516 853h7M513 894h7M516 791h7M560 847h7M381 827h7M408 804h7M629 825h7M556 822h7M349 763h7M532 661h7M525 827h7M492 868h7M649 816h7M447 867h7M923 881h7M700 878h7M378 748h7M129 922h7M720 886h7M561 883h7M535 840h7M368 840h7M294 811h7M228 863h7M927 890h7M775 809h7M434 884h7M818 815h7M229 872h7M632 832h7M633 886h7M449 852h7M356 813h7M528 817h7M729 874h7M679 813h7M587 893h7M698 856h7M239 889h7M841 810h7M513 788h7M313 800h7M460 862h7M418 797h7M536 878h7M570 729h7M151 804h7M721 831h7M795 741h7M356 807h7M755 759h7M720 836h7M682 827h7M780 880h7M300 794h7M636 752h7M360 811h7M897 847h7M366 845h7M326 849h7M699 906h7M619 821h7M525 829h7M542 794h7M618 808h7M796 897h7M407 860h7M431 699h7M429 906h7M509 732h7M522 818h7M315 893h7M569 847h7M319 871h7M471 887h7M481 856h7M482 772h7M757 860h7M782 803h7M692 709h7M773 824h7M475 870h7M745 847h7M512 841h7M564 855h7M307 890h7M423 858h7M579 820h7M500 904h7M335 820h7M522 897h7M331 767h7M332 858h7M504 880h7M549 796h7M388 743h7M235 843h7M566 823h7M651 851h7M455 857h7M460 886h7M664 864h7M345 758h7M635 877h7M426 862h7M497 849h7M232 855h7M270 866h7M538 754h7M390 893h7M482 845h7M222 878h7M497 862h7M599 852h7M539 777h7M584 837h7M400 858h7M258 895h7M310 865h7M455 879h7M639 879h7M533 813h7M777 858h7M536 830h7M551 774h7M552 760h7M243 887h7M612 920h7M342 919h7M459 796h7M539 801h7M567 868h7M521 847h7M431 906h7M839 808h7M199 824h7M356 890h7M757 833h7M608 849h7M398 847h7M376 787h7M599 824h7M355 818h7M558 846h7M420 792h7M760 889h7M567 824h7M722 885h7M546 795h7M846 787h7M586 792h7M565 854h7M357 770h7M453 888h7M582 824h7M441 891h7M918 821h7M518 886h7M398 786h7M678 782h7M435 874h7M585 812h7M505 899h7M405 804h7M742 869h7M535 797h7M694 747h7M466 919h7M292 830h7M321 894h7M437 851h7M491 749h7M529 863h7M602 900h7M321 912h7M325 863h7M411 836h7M724 778h7M462 881h7M807 881h7M747 860h7M662 800h7M755 876h7M480 812h7M500 909h7M382 808h7M613 813h7M319 824h7M439 785h7M593 793h7M439 826h7M576 708h7M362 861h7M745 857h7M411 793h7M371 852h7M556 841h7M685 846h7M406 761h7M403 835h7M450 738h7M405 830h7M550 793h7M406 808h7M479 823h7M577 887h7M453 907h7M705 842h7M412 782h7M397 922h7M846 764h7M761 811h7M531 829h7M653 801h7M574 913h7M438 863h7M628 899h7M569 824h7M725 888h7M225 832h7M649 833h7M547 857h7M410 862h7M451 872h7M455 829h7M308 759h7M428 823h7M645 694h7M277 825h7M460 796h7M142 885h7M428 693h7M512 822h7M527 753h7M341 863h7M611 867h7M375 863h7M554 795h7M459 856h7M758 848h7M457 803h7M684 856h7M537 909h7M520 794h7M680 865h7M590 895h7M519 876h7M501 753h7M554 855h7M534 819h7M468 907h7M354 833h7M502 773h7M481 867h7M714 792h7M798 790h7M503 881h7M386 838h7M651 752h7M425 783h7M479 845h7M750 868h7M609 820h7M696 856h7M304 857h7M526 856h7M699 776h7M315 848h7M552 869h7M585 759h7M776 920h7M406 849h7M789 796h7M234 789h7M595 806h7M449 801h7M389 843h7M739 837h7M341 860h7M607 849h7M506 820h7M477 855h7M478 909h7M684 829h7M593 917h7M507 857h7M346 831h7M546 867h7M515 827h7M751 915h7M215 871h7M920 849h7M491 843h7M338 885h7M241 874h7M659 861h7M612 876h7M486 793h7M513 805h7M548 786h7M453 822h7M705 829h7M621 820h7M501 869h7M258 789h7M740 827h7M444 887h7M727 843h7M601 906h7M198 915h7M255 785h7M457 853h7M320 783h7M496 819h7M514 869h7M649 833h7M664 827h7M502 869h7M285 796h7M693 748h7M493 842h7M594 801h7M635 829h7M392 781h7M791 789h7M533 784h7M557 771h7M452 796h7M635 798h7M684 841h7M615 806h7M452 754h7M324 871h7M469 773h7M619 792h7M610 821h7M695 842h7M414 843h7M473 853h7M533 833h7M621 899h7M503 885h7M369 810h7M273 828h7M711 766h7M693 875h7M415 828h7M512 803h7M595 921h7M724 790h7M445 749h7M398 793h7M243 858h7M571 894h7M594 792h7M661 891h7M619 811h7M539 812h7M707 823h7M585 849h7M605 856h7M503 758h7M800 848h7M593 854h7M666 792h7M494 801h7M833 790h7M701 804h7M526 875h7M503 796h7M356 908h7M498 841h7M485 790h7M556 804h7M455 765h7M614 761h7M509 901h7M269 886h7M441 786h7M378 814h7M482 800h7M670 851h7M343 866h7M201 828h7M497 828h7M428 845h7M567 754h7M457 841h7M661 848h7M754 767h7M497 863h7M713 788h7M349 697h7M557 734h7M319 843h7M553 868h7M425 815h7M562 760h7M343 829h7M560 887h7M541 836h7M432 759h7M394 863h7M333 827h7M460 829h7M588 841h7M502 868h7M549 832h7M727 786h7M472 832h7M571 845h7M657 901h7M606 772h7M586 830h7M537 791h7M834 852h7M512 808h7M462 672h7M619 889h7M787 802h7M751 779h7M529 757h7M658 780h7M604 768h7M536 830h7M629 845h7M624 833h7M547 857h7M801 793h7M464 870h7M748 832h7M861 862h7M864 871h7M568 818h7M495 904h7M268 881h7M515 816h7M276 755h7M659 717h7M623 804h7M231 863h7M515 888h7M579 874h7M281 837h7M678 890h7M311 876h7M706 814h7M557 848h7M412 895h7M266 804h7M469 804h7M509 793h7M503 917h7M429 874h7M490 884h7M664 818h7M378 837h7M490 904h7M598 823h7M520 902h7M663 837h7M773 837h7M467 868h7M558 885h7M468 820h7M344 798h7M737 793h7M221 719h7M740 884h7M441 918h7M360 774h7M445 821h7M481 825h7M360 755h7M302 843h7M439 855h7M675 812h7M588 784h7M739 846h7M425 871h7M466 763h7M469 833h7M546 869h7M597 689h7M805 856h7M549 770h7M740 909h7M397 823h7M312 871h7M630 830h7M549 778h7M542 747h7M469 767h7M504 824h7M583 916h7M627 855h7M680 848h7M541 731h7M565 806h7M134 768h7M719 743h7M270 859h7M515 884h7M470 804h7M268 862h7M781 886h7M433 782h7M496 902h7M495 890h7M640 839h7M647 779h7M502 870h7M700 876h7M630 807h7M634 820h7M414 868h7M451 833h7M758 844h7M341 918h7M333 802h7M613 884h7M478 825h7M452 837h7M499 801h7M861 850h7M355 732h7M478 825h7M548 894h7M370 885h7M515 752h7M599 779h7M375 817h7M338 816h7M498 839h7M575 826h7M241 790h7M566 853h7M925 865h7M425 896h7M695 792h7M555 888h7M584 882h7M378 877h7M534 707h7M280 912h7M134 906h7M493 867h7M727 885h7M465 801h7M483 818h7M452 899h7M512 723h7M518 852h7M403 859h7M444 789h7M618 860h7M423 853h7M391 742h7M432 868h7M442 778h7M489 768h7M400 843h7M718 855h7M535 767h7M470 799h7M567 914h7M513 853h7M269 896h7M491 838h7M784 896h7M601 811h7M708 811h7M413 788h7M282 735h7M408 818h7M736 766h7M360 814h7M393 847h7M697 849h7M480 861h7M488 818h7M581 836h7M534 903h7M471 831h7M560 841h7M406 706h7M513 779h7M625 899h7M350 792h7M486 781h7M337 892h7M639 772h7M618 893h7M671 834h7M685 805h7M684 727h7M635 912h7M396 740h7M670 772h7M374 882h7M893 771h7M566 867h7M615 837h7M323 824h7M692 781h7M708 803h7M269 854h7M431 785h7M445 873h7M416 852h7M741 869h7M866 852h7M349 870h7M688 860h7M478 884h7M739 860h7M128 857h7M450 789h7M715 744h7M398 842h7M710 891h7M438 788h7M702 752h7M613 809h7M452 859h7M398 886h7M493 821h7M705 774h7M519 835h7M413 876h7M267 894h7M483 811h7M606 886h7M518 784h7M452 791h7M282 874h7M337 867h7M399 837h7M717 910h7M340 833h7M616 750h7M709 787h7M678 913h7M594 747h7M482 761h7M295 884h7M542 847h7M590 905h7M437 781h7M361 799h7M658 820h7M350 771h7M590 826h7M442 829h7M249 886h7M777 834h7M616 817h7M605 866h7M292 899h7M498 896h7M563 854h7M398 818h7M782 813h7M194 767h7M630 843h7M214 837h7M312 851h7M608 880h7M402 910h7M408 736h7M370 803h7M278 826h7M371 845h7M357 777h7M463 886h7M453 888h7M129 866h7M410 876h7M707 779h7M437 901h7M500 805h7M396 735h7M401 846h7M499 862h7M294 801h7M483 748h7M242 776h7M562 831h7M256 700h7M613 895h7M670 894h7M247 829h7M615 897h7M441 830h7M693 777h7M421 873h7M460 870h7M459 788h7M707 761h7M195 785h7M628 903h7M520 822h7M466 803h7M654 872h7M636 856h7M776 827h7M401 885h7M201 792h7M415 836h7M473 774h7M434 719h7M699 843h7M869 776h7M564 767h7M218 871h7M670 830h7M400 860h7M638 849h7M562 864h7M492 773h7M549 885h7M625 886h7M604 781h7M835 875h7M24 856h7M378 827h7M409 844h7M538 803h7M639 821h7M275 844h7M468 829h7M606 739h7M495 875h7M439 890h7M767 808h7M165 770h7M757 875h7M547 783h7M366 839h7M608 817h7M509 849h7M696 814h7M374 877h7M658 788h7M554 882h7M614 805h7M490 786h7M605 829h7M407 813h7M673 794h7M422 916h7M390 892h7M484 780h7M495 870h7M369 840h7M630 881h7M483 803h7M264 843h7M460 813h7M344 913h7M482 833h7M681 829h7M738 781h7M629 780h7M390 804h7M591 873h7M419 860h7M590 846h7M334 898h7M569 784h7M457 895h7M548 805h7M419 808h7M543 862h7M389 852h7M416 810h7M603 836h7M301 890h7M472 795h7M566 746h7M479 779h7M433 849h7M850 796h7M369 793h7M561 879h7M425 824h7M488 819h7M138 851h7M646 919h7M470 857h7M349 878h7M770 844h7M406 772h7M368 778h7M674 812h7M292 779h7M359 815h7M559 870h7M500 844h7M182 889h7M364 813h7M540 749h7M383 909h7M148 755h7M626 737h7M427 815h7M292 737h7M594 864h7M467 776h7M350 881h7M294 821h7M484 847h7M518 876h7M219 829h7M661 784h7M301 890h7M728 759h7M557 917h7M474 806h7M558 811h7M409 862h7M493 863h7M767 868h7M412 759h7M635 792h7M360 859h7M501 860h7M658 835h7M312 911h7M558 830h7M160 892h7M320 900h7M437 859h7M645 829h7M619 881h7M358 865h7M483 874h7M534 793h7M254 866h7M720 825h7M703 848h7M409 827h7M439 889h7M354 727h7M464 868h7M613 828h7M517 855h7M355 902h7M635 861h7M645 877h7M406 906h7M464 850h7M488 881h7M241 921h7M526 871h7M612 807h7M816 883h7M458 823h7M480 866h7M602 864h7M632 889h7M367 818h7M535 840h7M183 879h7M724 807h7M470 884h7M644 844h7M465 753h7M492 846h7M551 895h7M644 772h7M462 800h7M325 867h7M393 843h7M349 824h7M626 858h7M352 765h7M748 795h7M491 806h7M714 865h7M447 838h7M458 888h7M630 859h7M624 863h7M346 905h7M899 859h7M597 748h7M305 805h7M478 919h7M654 899h7M541 828h7M643 754h7M885 802h7M828 906h7M615 908h7M400 753h7M749 767h7M395 809h7M660 767h7M612 847h7M372 782h7M395 867h7M480 829h7M573 810h7M722 876h7M521 865h7M814 848h7M650 821h7M408 838h7M411 736h7M524 734h7M428 804h7M497 848h7M554 862h7M668 787h7M402 814h7M374 772h7M289 838h7M228 836h7M441 839h7M524 855h7M481 897h7M515 878h7M841 778h7M339 887h7M471 786h7M436 861h7M369 846h7M509 835h7M715 836h7M334 826h7M815 887h7M877 858h7M376 826h7M514 886h7M590 812h7M632 836h7M420 850h7M154 749h7M453 763h7M638 863h7M417 774h7M332 848h7M615 886h7M576 869h7M634 795h7M524 806h7M686 892h7M599 838h7M231 848h7M548 892h7M640 705h7M523 855h7M751 910h7M629 878h7M320 802h7M517 894h7M357 807h7M308 802h7M553 833h7M586 819h7M416 731h7M319 714h7M377 771h7M639 807h7M325 865h7M699 813h7M250 851h7M562 915h7M713 889h7M449 789h7M395 895h7M290 841h7M663 860h7M497 893h7M444 883h7M451 770h7M558 780h7M523 856h7M706 879h7M653 874h7M433 821h7M505 815h7M468 803h7M504 771h7M639 771h7M554 811h7M287 846h7M507 800h7M503 842h7M578 826h7M525 829h7M506 817h7M683 857h7M344 842h7M867 698h7M428 855h7M353 847h7M644 808h7M691 850h7M719 803h7M752 847h7M595 794h7M529 878h7M579 860h7M519 763h7M432 803h7M776 879h7M810 863h7M521 848h7M483 780h7M441 804h7M250 850h7M411 857h7M437 840h7M517 796h7M360 828h7M215 814h7M624 778h7M795 781h7M179 797h7M498 760h7M657 866h7M333 882h7M290 888h7M526 799h7M483 800h7M418 854h7M783 815h7M760 824h7M626 824h7M510 754h7M469 909h7M663 763h7M484 756h7M760 884h7M721 781h7M425 898h7M644 859h7M773 859h7M628 820h7M372 764h7M481 776h7M469 846h7M543 834h7M529 775h7M468 779h7M662 794h7M742 837h7M435 864h7M290 889h7M585 820h7M527 917h7M594 879h7M417 919h7M574 793h7M382 871h7M702 898h7M797 745h7M379 889h7M113 862h7M450 889h7M445 849h7M560 901h7M533 817h7M609 812h7M441 879h7M470 768h7M600 904h7M234 903h7M657 895h7M431 801h7M301 907h7M396 868h7M612 890h7M666 837h7M731 817h7M602 802h7M416 807h7M621 888h7M520 799h7M907 807h7M203 858h7M791 826h7M656 731h7M599 805h7M519 821h7M379 876h7M284 787h7M860 781h7M684 816h7M642 852h7M593 799h7M228 863h7M490 765h7M555 858h7M721 903h7M375 698h7M579 838h7M498 854h7M541 864h7M411 845h7M594 837h7M549 855h7M237 846h7M731 845h7M396 895h7M721 889h7M380 806h7M452 814h7M819 896h7M569 784h7M780 894h7M585 768h7M512 906h7M768 811h7M825 815h7M647 731h7M448 837h7M480 903h7M388 872h7M636 826h7M428 869h7M687 862h7M448 824h7M831 871h7M795 864h7M426 751h7M381 852h7M644 903h7M361 813h7M756 859h7M564 762h7M664 874h7M336 793h7M447 812h7M571 810h7M660 802h7M597 919h7M410 825h7M672 845h7M495 825h7M612 816h7M727 795h7M738 849h7M383 840h7M588 818h7M364 792h7M576 891h7M397 799h7M548 812h7M642 750h7M388 781h7M262 812h7M514 814h7M625 759h7M579 807h7M397 832h7M675 700h7M496 871h7M664 825h7M401 768h7M612 825h7M729 863h7M436 839h7M495 842h7M640 840h7M625 874h7M598 767h7M522 808h7M292 860h7M540 841h7M335 783h7M554 824h7M168 802h7M769 840h7M843 751h7M611 753h7M405 762h7M492 832h7M645 891h7M429 904h7M731 840h7M625 858h7M484 843h7M539 897h7M427 774h7M569 722h7M435 776h7M726 914h7M546 887h7M573 849h7M592 826h7M590 830h7M313 860h7M743 793h7M555 880h7M452 787h7M385 911h7M431 821h7M442 790h7M541 824h7M402 789h7M556 832h7M562 743h7M429 813h7M889 843h7M520 859h7M592 818h7M556 903h7M513 749h7M645 827h7M757 813h7M526 838h7M402 825h7M624 912h7M196 838h7M562 789h7M588 841h7M297 830h7M467 886h7M374 807h7M450 827h7M629 885h7M504 775h7M440 814h7M722 889h7M214 834h7M369 833h7M598 897h7M602 760h7M568 801h7M574 796h7M390 729h7M517 683h7M344 817h7M399 887h7M387 874h7M398 906h7M476 692h7M494 831h7M402 910h7M699 792h7M456 769h7M771 857h7M686 839h7M336 873h7M667 838h7M306 905h7M755 876h7M578 852h7M369 818h7M179 876h7M462 803h7M311 890h7M697 900h7M327 889h7M487 770h7M600 862h7M524 859h7M563 886h7M483 755h7M635 807h7M374 835h7M611 914h7M331 807h7M549 887h7M341 847h7M613 856h7M715 752h7M236 824h7M399 853h7M366 907h7M711 875h7M383 824h7M631 771h7M438 841h7M292 833h7M537 911h7M339 889h7M634 764h7M650 714h7M729 817h7M359 854h7M767 787h7M671 811h7M236 903h7M868 879h7M784 746h7M355 858h7M570 848h7M307 828h7M497 870h7M548 871h7M388 852h7M514 800h7M371 812h7M579 878h7M530 872h7M700 868h7M637 854h7M577 815h7M702 843h7M322 774h7M512 880h7M238 865h7M515 849h7M444 793h7M649 825h7M448 809h7M417 856h7M503 824h7M497 859h7M599 890h7M380 908h7M281 784h7M266 822h7M700 781h7M319 907h7M445 794h7M343 912h7M657 813h7M429 895h7M712 810h7M407 828h7M565 846h7M638 845h7M671 832h7M330 876h7M460 904h7M506 886h7M229 814h7M631 740h7M580 846h7M599 687h7M298 876h7M548 873h7M588 774h7M682 871h7M436 804h7M626 908h7M830 799h7M450 795h7M454 805h7M468 853h7M283 784h7M776 820h7M489 824h7M709 823h7M609 802h7M555 799h7M466 863h7M501 904h7M521 846h7M628 792h7M532 851h7M668 797h7M224 696h7M649 847h7M436 746h7M522 806h7M453 843h7M621 818h7M501 826h7M393 891h7M550 922h7M714 851h7M696 852h7M543 806h7M462 858h7M501 847h7M523 856h7M712 872h7M612 846h7M751 883h7M763 794h7M320 867h7M569 784h7M450 898h7M265 892h7M350 829h7M441 812h7M784 838h7M534 869h7M491 758h7M516 786h7M402 890h7M548 828h7M506 770h7M264 720h7M437 816h7M620 846h7M505 835h7M368 772h7M535 873h7M659 775h7M268 784h7M405 828h7M458 793h7M440 836h7M564 798h7M575 796h7M682 818h7M685 827h7M427 797h7M564 871h7M462 902h7M624 769h7M466 812h7M492 818h7M788 763h7M493 767h7M277 818h7M540 789h7M568 854h7M442 881h7M532 847h7M681 853h7M440 788h7M492 805h7M411 858h7M573 868h7M502 833h7M377 866h7M497 824h7M808 775h7M255 854h7M305 815h7M575 746h7M305 882h7M827 858h7M289 876h7M318 812h7M442 916h7M691 863h7M647 889h7M611 802h7M569 821h7M725 905h7M238 836h7M565 838h7M746 916h7M355 899h7M572 849h7M718 758h7M501 834h7M813 808h7M601 915h7M690 921h7M355 812h7M404 845h7M404 887h7M798 865h7M158 852h7M236 890h7M545 844h7M60 779h7M460 832h7M475 836h7M711 818h7M224 875h7M440 877h7M688 886h7M641 863h7M379 852h7M478 784h7M292 820h7M735 793h7M456 855h7M721 832h7M647 836h7M385 866h7M500 823h7M624 894h7M592 893h7M760 788h7M697 907h7M574 820h7M631 800h7M413 821h7M431 771h7M617 856h7M576 901h7M351 758h7M511 860h7M400 869h7M437 873h7M725 872h7M377 861h7M422 814h7M612 885h7M536 855h7M550 880h7M300 854h7M520 824h7M467 836h7M399 870h7M437 892h7M479 738h7M655 771h7M816 753h7M542 810h7M755 803h7M543 848h7M295 822h7M534 908h7M724 806h7M742 801h7M389 795h7M872 822h7M411 846h7M412 812h7M445 789h7M750 766h7M588 847h7M667 809h7M182 786h7M518 824h7M509 855h7M711 791h7M420 814h7M310 735h7M272 735h7M722 741h7M644 885h7M405 829h7M697 761h7M500 802h7M508 811h7M300 803h7M442 914h7M544 736h7M558 813h7M440 850h7M681 862h7M750 723h7M402 847h7M589 771h7M291 807h7M591 754h7M378 878h7M554 890h7M490 822h7M689 745h7M407 883h7M455 900h7M578 780h7M522 887h7M567 743h7M495 770h7M403 845h7M630 764h7M540 877h7M667 912h7M734 841h7M474 863h7M414 922h7M458 865h7M428 906h7M221 913h7M782 783h7M888 900h7M442 847h7M620 882h7M571 855h7M518 851h7M680 787h7M529 818h7M517 822h7M554 896h7M184 864h7M418 861h7M415 833h7M783 905h7M619 711h7M650 792h7M626 889h7M499 818h7M784 873h7M311 881h7M626 762h7M711 828h7M545 779h7M585 864h7M677 894h7M765 827h7M619 866h7M789 829h7M852 847h7M317 852h7M675 869h7M574 895h7M548 876h7M333 838h7M695 843h7M500 866h7M377 871h7M433 820h7M494 810h7M546 828h7M390 864h7M388 817h7M594 783h7M519 822h7M833 814h7M465 872h7M644 813h7M798 819h7M682 863h7M576 792h7M538 903h7M777 821h7M377 798h7M437 874h7M257 766h7M511 837h7M681 869h7M491 879h7M656 813h7M413 814h7M706 836h7M512 903h7M456 746h7M782 883h7M528 856h7M618 912h7M548 782h7M638 900h7M548 795h7M345 856h7M573 820h7M603 712h7M589 837h7M495 861h7M808 885h7M418 807h7M549 779h7M562 877h7M363 822h7M347 895h7M632 915h7M633 828h7M551 831h7M283 803h7M485 735h7M566 840h7M625 878h7M712 896h7M599 839h7M785 813h7M171 839h7M682 812h7M462 818h7M603 826h7M562 805h7M373 819h7M391 855h7M596 846h7M502 786h7M641 867h7M470 798h7M859 865h7M490 844h7M847 740h7M413 787h7M615 890h7M702 807h7M328 806h7M381 818h7M591 847h7M705 871h7M738 825h7M690 811h7M350 817h7M464 831h7M750 850h7M444 917h7M262 823h7M499 832h7M285 874h7M584 835h7M754 886h7M576 785h7M554 886h7M467 727h7M613 868h7M358 876h7M859 793h7M328 877h7M441 875h7M314 791h7M716 854h7M491 796h7M333 780h7M335 761h7M697 829h7M631 785h7M649 732h7M517 856h7M665 750h7M728 877h7M629 853h7M281 797h7M225 757h7M302 792h7M567 769h7M297 820h7M360 821h7M391 730h7M329 809h7M672 870h7M600 895h7M645 911h7M666 788h7M746 883h7M518 687h7M495 828h7M254 885h7M486 878h7M431 765h7M683 796h7M626 725h7M749 800h7M690 767h7M704 855h7M603 800h7M543 872h7M463 834h7M519 822h7M581 902h7M509 769h7M209 914h7M106 881h7M409 911h7M449 864h7M474 744h7M719 820h7M424 710h7M325 765h7M579 803h7M674 908h7M773 842h7M364 851h7M481 879h7M454 791h7M751 899h7M627 852h7M523 788h7M631 809h7M465 827h7M488 872h7M514 916h7M442 823h7M480 828h7M651 850h7M507 820h7M183 876h7M292 856h7M441 797h7M459 913h7M460 794h7M535 797h7M421 812h7M496 772h7M503 883h7M410 762h7M385 875h7M497 861h7M558 880h7M357 760h7M204 848h7M370 854h7M594 887h7M270 860h7M658 808h7M426 901h7M535 914h7M398 913h7M605 800h7M523 868h7M572 790h7M218 831h7M626 880h7M259 762h7M594 906h7M486 798h7M591 809h7M541 836h7M529 832h7M392 774h7M668 832h7M686 756h7M433 806h7M546 836h7M400 819h7M639 857h7M616 874h7M739 809h7M585 899h7M356 822h7M385 887h7M596 875h7M461 894h7M376 839h7M726 782h7M495 823h7M620 802h7M365 816h7M460 715h7M430 861h7M594 884h7M613 790h7M439 879h7M599 768h7M244 853h7M567 831h7M566 857h7M514 863h7M295 803h7M499 884h7M352 812h7M733 846h7M470 917h7M483 790h7M497 844h7M526 908h7M595 803h7M374 806h7M680 870h7M440 804h7M628 844h7M550 765h7M675 874h7M503 752h7M292 847h7M341 878h7M480 803h7M722 754h7M451 770h7M522 735h7M429 734h7M560 769h7M556 858h7M424 842h7M549 896h7M671 912h7M672 864h7M463 836h7M566 830h7M472 891h7M405 873h7M366 874h7M637 748h7M81 798h7M491 802h7M307 810h7M488 782h7M509 877h7M317 898h7M705 811h7M431 834h7M513 845h7M467 839h7M639 794h7M697 884h7M652 729h7M597 813h7M598 735h7M336 874h7M710 763h7M430 776h7M380 839h7M457 782h7M395 853h7M576 818h7M706 773h7M500 795h7M424 871h7M472 846h7M338 864h7M403 824h7M814 892h7M398 859h7M445 912h7M608 765h7M552 854h7M629 828h7M384 862h7M354 788h7M712 884h7M412 766h7M499 889h7M546 870h7M236 741h7M485 862h7M416 733h7M593 871h7M467 752h7M176 836h7M632 825h7M130 750h7M452 738h7M410 867h7M422 813h7M512 900h7M657 837h7M422 850h7M590 859h7M621 845h7M564 870h7M477 799h7M440 805h7M650 830h7M738 777h7M812 869h7M357 794h7M478 845h7M515 903h7M489 912h7M842 906h7M741 877h7M489 871h7M446 858h7M513 839h7M463 837h7M763 835h7M648 909h7M709 685h7M355 850h7M26 807h7M502 808h7M766 838h7M369 894h7M370 859h7M402 848h7M758 897h7M657 771h7M765 868h7M516 684h7M579 793h7M397 839h7M580 844h7M714 761h7M363 920h7M620 866h7M528 844h7M480 903h7M391 824h7M408 839h7M337 901h7M414 870h7M510 899h7M603 825h7M357 767h7M421 770h7M265 874h7M470 829h7M474 857h7M485 848h7M577 838h7M657 788h7M636 863h7M556 919h7M604 800h7M612 800h7M600 891h7M848 786h7M480 840h7M364 787h7M558 817h7M446 745h7M378 838h7M722 789h7M807 798h7M571 738h7M415 849h7M506 827h7M303 839h7M641 784h7M567 821h7M705 800h7M430 761h7M512 798h7M497 818h7M252 864h7M897 828h7M196 862h7M340 918h7M460 897h7M276 823h7M579 749h7M444 836h7M526 851h7M551 901h7M527 854h7M492 828h7M581 882h7M639 795h7M477 790h7M448 829h7M455 857h7M563 883h7M460 672h7M458 907h7M811 920h7M328 892h7M774 838h7M639 876h7M674 916h7M557 792h7M593 882h7M562 873h7M608 837h7M751 807h7M366 791h7M593 842h7M766 810h7M733 918h7M361 753h7M567 772h7M562 862h7M557 886h7M173 779h7M652 916h7M272 739h7M856 901h7M621 795h7M505 818h7M542 841h7M438 808h7M506 857h7M397 847h7M631 801h7M693 855h7M687 775h7M703 806h7M722 812h7M631 879h7M724 817h7M532 870h7M585 907h7M822 750h7M468 840h7M298 780h7M854 878h7M702 857h7M805 842h7M663 814h7M560 790h7M424 750h7M374 896h7M748 832h7M676 845h7M572 861h7M350 886h7M427 833h7M476 879h7M76 753h7M558 821h7M766 804h7M439 808h7M527 906h7M566 849h7M368 846h7M590 847h7M397 831h7M455 831h7M563 807h7M515 813h7M538 819h7M380 833h7M637 740h7M354 846h7M655 841h7M448 866h7M339 782h7M510 792h7M359 887h7M441 803h7M500 869h7M645 806h7M647 777h7M598 763h7M479 809h7M286 817h7M488 776h7M473 920h7M503 844h7M441 794h7M649 888h7M315 801h7M525 787h7M720 833h7M403 882h7M369 766h7M488 905h7M470 822h7M564 888h7M735 835h7M504 869h7M610 878h7M433 913h7M447 804h7M419 774h7M711 860h7M460 880h7M498 844h7M360 891h7M455 755h7M367 841h7M447 897h7M245 844h7M521 783h7M796 852h7M230 854h7M795 790h7M504 915h7M662 814h7M365 788h7M841 849h7M354 808h7M511 833h7M767 856h7M323 821h7M156 876h7M511 859h7M402 909h7M370 789h7M379 847h7M292 858h7M743 859h7M714 730h7M308 786h7M506 861h7M450 875h7M696 845h7M390 854h7M778 910h7M523 825h7M398 802h7M430 877h7M878 835h7M545 805h7M537 829h7M755 800h7M370 913h7M256 764h7M729 836h7M619 878h7M451 828h7M509 816h7M697 868h7M90 778h7M723 832h7M494 883h7M629 784h7M513 919h7M423 840h7M696 818h7M108 875h7M528 818h7M646 856h7M276 912h7M198 912h7M536 762h7M682 917h7M710 817h7M412 860h7M576 849h7M296 859h7M799 811h7M430 875h7M724 899h7M478 813h7M468 843h7M779 888h7M382 902h7M727 862h7M464 858h7M381 870h7M387 826h7M701 862h7M508 829h7M464 825h7M280 716h7M708 746h7M688 864h7M572 884h7M645 868h7M435 827h7M546 874h7M537 822h7M429 843h7M403 768h7M415 811h7M321 830h7M542 739h7M405 779h7M440 901h7M742 871h7M513 836h7M514 914h7M274 790h7M677 839h7M608 810h7M529 902h7M492 871h7M531 854h7M584 836h7M468 745h7M122 730h7M834 843h7M702 895h7M495 800h7M746 847h7M311 758h7M726 761h7M551 839h7M662 880h7M465 882h7M544 907h7M613 799h7M688 833h7M602 885h7M591 787h7M425 825h7M795 842h7M553 841h7M484 890h7M468 865h7M327 818h7M402 716h7M276 885h7M553 896h7M507 869h7M555 861h7M320 866h7M452 907h7M417 814h7M678 838h7M281 788h7M277 830h7M725 797h7M578 797h7M269 734h7M736 836h7M759 896h7M703 679h7M190 910h7M539 839h7M381 804h7M477 858h7M267 828h7M797 837h7M409 918h7M564 850h7M648 861h7M618 826h7M586 831h7M457 791h7M555 834h7M484 799h7M156 903h7M680 828h7M419 881h7M436 911h7M454 896h7M297 804h7M231 738h7M595 918h7M709 704h7M531 791h7M336 836h7M729 802h7M468 726h7M264 759h7M218 854h7M548 748h7M750 875h7M458 902h7M418 913h7M475 854h7M383 838h7M432 819h7M403 905h7M668 875h7M363 858h7M633 899h7M574 737h7M457 887h7M471 809h7M467 715h7M788 900h7M389 799h7M709 864h7M681 800h7M465 819h7M138 858h7M558 862h7M540 755h7M522 889h7M653 805h7M455 866h7M489 785h7M703 860h7M500 870h7M354 761h7M610 857h7M506 792h7M429 908h7M607 860h7M396 843h7M477 886h7M488 820h7M527 888h7M326 856h7M794 914h7M627 786h7M556 813h7M119 820h7M667 801h7M355 824h7M328 851h7M677 783h7M433 832h7M485 854h7M763 893h7M677 823h7M299 851h7M550 833h7M481 847h7M648 776h7M409 892h7M219 816h7M489 906h7M607 885h7M638 813h7M718 822h7M557 820h7M486 845h7M636 822h7M503 812h7M444 846h7M444 839h7M667 820h7M757 890h7M729 898h7M263 811h7M340 862h7M464 907h7M305 764h7M323 868h7M399 891h7M789 906h7M691 884h7M375 896h7M541 759h7M541 789h7M569 872h7M405 730h7M750 811h7M458 831h7M650 861h7M250 890h7M582 854h7M542 796h7M736 789h7M103 863h7M608 873h7M649 861h7M477 849h7M730 847h7M856 765h7M660 840h7M649 882h7M735 780h7M589 864h7M716 879h7M410 838h7M351 827h7M707 775h7M615 782h7M412 753h7M524 744h7M754 879h7M245 841h7M375 858h7M631 754h7M651 731h7M332 744h7M546 902h7M744 768h7M521 847h7M148 850h7M684 788h7M516 806h7M446 893h7M333 880h7M711 890h7M562 859h7M584 848h7M575 869h7M589 833h7M794 854h7M349 871h7M507 837h7M447 805h7M789 839h7M473 824h7M261 798h7M515 886h7M401 858h7M448 836h7M310 803h7M210 762h7M832 875h7M499 873h7M369 799h7M619 847h7M733 796h7M239 919h7M448 849h7M564 866h7M591 721h7M321 865h7M412 857h7M500 827h7M588 844h7M525 910h7M410 807h7M460 808h7M861 898h7M454 869h7M472 887h7M562 848h7M611 827h7M574 835h7M410 861h7M253 818h7M491 757h7M391 835h7M430 859h7M519 836h7M557 880h7M726 860h7M495 896h7M242 851h7M613 835h7M667 875h7M255 892h7M616 820h7M549 797h7M432 916h7M546 816h7M581 864h7M613 819h7M703 856h7M517 919h7M906 773h7M347 766h7M475 663h7M462 876h7M696 858h7M307 828h7M716 888h7M328 793h7M411 917h7M696 911h7M476 882h7M632 817h7M399 826h7M540 794h7M534 911h7M646 840h7M448 840h7M467 857h7M308 808h7M497 872h7M440 871h7M660 867h7M626 846h7M403 708h7M590 833h7M729 768h7M485 753h7M913 817h7M608 833h7M632 827h7M920 797h7M568 743h7M215 869h7M598 811h7M582 911h7M394 888h7M382 847h7M491 762h7M482 885h7M773 895h7M480 878h7M494 827h7M491 877h7M263 801h7M441 856h7M302 862h7M539 830h7M167 789h7M339 830h7M560 795h7M182 778h7M269 899h7M678 834h7M305 814h7M517 814h7M568 866h7M349 825h7M248 804h7M763 857h7M429 850h7M601 793h7M397 784h7M577 912h7M308 827h7M298 907h7M351 874h7M418 838h7M418 829h7M588 807h7M433 821h7M668 797h7M412 833h7M625 791h7M729 848h7M797 774h7M200 870h7M795 860h7M236 853h7M746 809h7M517 911h7M367 835h7M669 800h7M629 877h7M430 830h7M420 849h7M656 877h7M684 768h7M642 881h7M458 785h7M519 774h7M669 821h7M653 921h7M700 807h7M542 867h7M406 791h7M565 875h7M592 859h7M434 904h7M591 851h7M385 842h7M560 740h7M422 859h7M858 884h7M710 852h7M561 851h7M309 872h7M322 889h7M631 793h7M495 837h7M568 865h7M267 855h7M278 789h7M537 734h7M486 859h7M306 880h7M645 864h7M449 794h7M611 865h7M783 835h7M573 804h7M540 763h7M424 742h7M714 803h7M288 819h7M343 845h7M516 842h7M283 854h7M419 838h7M604 915h7M469 799h7M479 802h7M521 813h7M205 744h7M443 855h7M874 880h7M635 866h7M662 713h7M718 910h7M639 857h7M303 900h7M347 843h7M477 803h7M363 735h7M602 699h7M517 845h7M584 876h7M643 807h7M413 826h7M412 808h7M710 854h7M464 837h7M385 771h7M564 761h7M462 903h7M538 771h7M508 779h7M665 795h7M386 768h7M324 787h7M774 882h7M409 799h7M270 833h7M215 714h7M512 806h7M415 842h7M225 843h7M367 920h7M349 867h7M677 682h7M556 751h7M516 791h7M315 823h7M489 842h7M624 874h7M543 747h7M687 717h7M530 882h7M628 784h7M591 710h7M427 786h7M732 814h7M575 772h7M649 774h7M347 894h7M344 778h7M489 855h7M389 850h7M617 819h7M714 764h7M337 786h7M669 824h7M414 855h7M400 899h7M527 877h7M516 819h7M683 819h7M750 809h7M484 906h7M571 870h7M435 853h7M450 778h7M732 770h7M590 863h7M589 686h7M389 812h7M791 862h7M489 747h7M625 781h7M637 833h7M752 832h7M348 809h7M449 812h7M767 866h7M417 844h7M502 845h7M271 847h7M386 802h7M377 874h7M501 812h7M328 785h7M666 875h7M509 737h7M477 812h7M665 818h7M475 832h7M320 755h7M522 788h7M865 832h7M534 873h7M602 833h7M487 828h7M483 794h7M599 841h7M96 687h7M320 875h7M423 893h7M475 839h7M750 786h7M910 913h7M619 803h7M582 914h7M627 825h7M758 798h7M361 828h7M439 802h7M543 831h7M566 867h7M215 826h7M587 815h7M264 839h7M640 861h7M653 840h7M157 870h7M598 872h7M549 856h7M419 879h7M670 841h7M837 902h7M597 862h7M343 886h7M288 829h7M331 763h7M355 816h7M697 842h7M564 860h7M513 838h7M657 920h7M521 769h7M523 744h7M383 830h7M418 803h7M522 842h7M331 876h7M537 769h7M430 782h7M673 837h7M349 760h7M686 799h7M531 910h7M818 837h7M430 839h7M454 900h7M383 747h7M319 847h7M557 837h7M349 855h7M568 786h7M415 817h7M686 835h7M110 880h7M584 801h7M525 873h7M517 725h7M416 863h7M796 882h7M452 791h7M585 824h7M475 840h7M460 856h7M531 905h7M625 850h7M339 828h7M442 829h7M292 855h7M581 882h7M381 854h7M398 811h7M621 822h7M515 798h7M581 793h7M494 814h7M582 809h7M531 881h7M339 776h7M551 844h7M462 777h7M479 883h7M561 856h7M429 908h7M348 869h7M705 785h7M810 842h7M462 806h7M700 812h7M578 785h7M414 824h7M383 845h7M472 851h7M464 831h7M497 845h7M336 835h7M655 827h7M336 824h7M346 843h7M664 830h7M638 879h7M749 863h7M538 793h7M414 840h7M700 856h7M502 826h7M497 828h7M381 835h7M581 873h7M139 850h7M601 811h7M197 838h7M656 906h7M268 790h7M625 875h7M911 827h7M330 873h7M827 843h7M446 834h7M339 760h7M717 813h7M280 859h7M307 825h7M406 840h7M193 843h7M648 790h7M680 846h7M508 867h7M451 762h7M267 828h7M592 696h7M405 751h7M615 884h7M680 905h7M179 772h7M367 836h7M735 823h7M561 896h7M744 857h7M159 845h7M499 872h7M489 816h7M257 891h7M414 823h7M673 898h7M604 850h7M431 853h7M569 781h7M708 759h7M344 758h7M564 866h7M684 728h7M407 912h7M725 823h7M503 770h7M695 858h7M665 775h7M560 842h7M146 479h7M223 422h7M207 393h7M209 287h7M136 363h7M226 464h7M157 525h7M166 500h7M183 561h7M175 447h7M90 299h7M194 378h7M77 527h7M185 422h7M157 546h7M164 238h7M103 327h7M212 339h7M152 425h7M205 337h7M122 248h7M123 378h7M164 164h7M214 361h7M91 418h7M130 269h7M134 385h7M146 303h7M136 355h7M216 448h7M197 464h7M161 447h7M204 340h7M214 582h7M128 422h7M122 318h7M196 555h7M271 404h7M36 556h7M128 477h7M201 407h7M118 334h7M206 333h7M172 324h7M95 346h7M136 534h7M180 429h7M113 375h7M191 459h7M177 376h7M144 264h7M181 255h7M141 544h7M172 378h7M108 550h7M234 632h7M146 427h7M221 508h7M272 410h7M243 422h7M159 411h7M168 406h7M158 561h7M177 400h7M117 481h7M65 378h7M177 476h7M163 598h7M241 272h7M255 565h7M89 309h7M112 405h7M201 383h7M222 378h7M167 262h7M163 122h7M63 591h7M280 543h7M124 363h7M190 218h7M178 482h7M113 552h7M205 468h7M237 252h7M158 347h7M168 435h7M195 410h7M212 542h7M206 318h7M114 316h7M111 118h7M131 512h7M19 415h7M91 329h7M150 207h7M125 482h7M116 234h7M207 285h7M178 203h7M203 267h7M151 297h7M138 276h7M115 501h7M173 483h7M65 372h7M114 322h7M191 409h7M205 277h7M157 443h7M100 276h7M190 358h7M122 422h7M154 304h7M109 231h7M256 549h7M239 246h7M116 245h7M99 250h7M157 321h7M193 398h7M226 79h7M157 345h7M95 526h7M176 535h7M174 501h7M77 358h7M146 418h7M145 334h7M109 198h7M172 444h7M215 539h7M213 454h7M113 378h7M129 482h7M196 449h7M143 515h7M142 347h7M276 251h7M25 399h7M126 483h7M116 298h7M157 425h7M250 514h7M153 100h7M145 661h7M168 488h7M144 372h7M180 282h7M294 281h7M124 749h7M149 360h7M156 475h7M50 284h7M192 377h7M157 470h7M57 256h7M146 386h7M169 381h7M113 433h7M217 516h7M129 368h7M82 521h7M202 365h7M153 355h7M167 412h7M75 338h7M87 456h7M107 67h7M152 203h7M153 159h7M232 583h7M241 522h7M167 327h7M155 440h7M260 246h7M163 367h7M213 583h7M134 461h7M155 632h7M145 340h7M124 512h7M180 420h7M117 418h7M154 426h7M182 494h7M271 590h7M60 368h7M164 444h7M194 403h7M142 425h7M206 331h7M188 522h7M186 489h7M138 428h7M149 395h7M148 324h7M108 277h7M169 283h7M105 293h7M111 483h7M87 419h7M218 268h7M130 284h7M113 530h7M202 602h7M138 486h7M178 641h7M151 323h7M179 458h7M170 337h7M46 601h7M237 482h7M213 471h7M83 414h7M207 348h7M148 394h7M166 157h7M227 383h7M212 316h7M211 512h7M265 595h7M217 459h7M128 281h7M93 259h7M204 505h7M70 341h7M142 371h7M141 281h7M123 419h7M231 458h7M177 502h7M148 300h7M207 423h7M139 244h7M223 458h7M267 451h7M153 364h7M151 503h7M220 293h7M57 538h7M94 427h7M106 450h7M75 405h7M160 331h7M175 353h7M158 513h7M158 406h7M208 463h7M216 393h7M225 527h7M152 477h7M161 267h7M237 654h7M181 532h7M229 528h7M135 435h7M158 402h7M126 490h7M159 692h7M182 408h7M136 280h7M263 447h7M82 386h7M205 532h7M103 252h7M175 367h7M120 358h7M164 517h7M164 532h7M118 414h7M96 500h7M123 405h7M161 420h7M202 176h7M244 344h7M70 249h7M184 466h7M135 406h7M160 289h7M176 418h7M201 409h7M181 457h7M159 345h7M241 360h7M174 544h7M159 376h7M219 540h7M100 285h7M111 361h7M236 400h7M149 295h7M66 445h7M201 275h7M223 455h7M119 156h7M91 452h7M157 407h7M178 534h7M128 611h7M112 310h7M187 416h7M187 275h7M77 321h7M101 387h7M142 401h7M127 476h7M170 462h7M186 520h7M256 368h7M178 426h7M207 309h7M78 352h7M123 92h7M214 413h7M83 378h7M229 380h7M188 370h7M166 220h7M153 329h7M98 313h7M103 403h7M131 440h7M137 345h7M223 412h7M106 419h7M126 292h7M68 475h7M167 625h7M159 443h7M216 372h7M259 465h7M187 539h7M114 521h7M171 261h7M174 442h7M156 322h7M103 331h7M177 438h7M96 434h7M154 369h7M143 304h7M24 326h7M190 303h7M270 633h7M140 226h7M127 453h7M207 432h7M91 375h7M160 289h7M171 353h7M130 353h7M155 341h7M115 357h7M129 400h7M193 367h7M113 430h7M129 467h7M123 328h7M185 490h7M139 399h7M114 322h7M176 457h7M54 478h7M60 326h7M174 210h7M256 522h7M133 497h7M176 287h7M87 356h7M165 452h7M169 149h7M189 495h7M120 462h7M259 527h7M109 540h7M238 318h7M103 478h7M200 660h7M229 184h7M272 404h7M153 472h7M73 287h7M203 219h7M122 417h7M103 394h7M128 308h7M112 405h7M199 512h7M169 510h7M195 457h7M204 282h7M139 356h7M196 167h7M222 308h7M256 453h7M168 459h7M146 389h7M111 376h7M139 178h7M160 259h7M172 278h7M89 304h7M138 323h7M149 627h7M129 492h7M128 273h7M178 331h7M109 316h7M184 342h7M103 317h7M171 180h7M102 498h7M221 493h7M198 480h7M229 434h7M116 428h7M91 329h7M91 154h7M148 403h7M215 420h7M196 267h7M195 167h7M95 492h7M216 307h7M198 388h7M131 308h7M27 523h7M118 217h7M153 505h7M242 154h7M171 498h7M156 339h7M242 184h7M241 433h7M179 394h7M192 232h7M225 458h7M122 376h7M181 454h7M137 233h7M109 292h7M186 299h7M217 430h7M257 375h7M200 301h7M219 567h7M150 332h7M81 481h7M126 471h7M181 324h7M129 182h7M260 456h7M224 493h7M150 517h7M251 472h7M194 455h7M246 360h7M151 312h7M201 759h7M148 513h7M161 250h7M220 451h7M260 484h7M167 203h7M176 370h7M114 437h7M149 570h7M186 581h7M95 330h7M138 351h7M102 321h7M171 424h7M207 507h7M178 289h7M146 370h7M107 310h7M76 277h7M161 340h7M240 626h7M146 579h7M157 553h7M137 206h7M101 405h7M216 679h7M198 456h7M83 287h7M95 434h7M231 396h7M114 333h7M158 422h7M106 426h7M177 384h7M119 377h7M129 272h7M102 367h7M260 513h7M297 460h7M172 381h7M196 253h7M190 530h7M161 269h7M156 468h7M141 349h7M202 500h7M96 484h7M116 344h7M198 80h7M87 144h7M246 324h7M146 290h7M170 432h7M230 640h7M158 467h7M167 384h7M130 531h7M188 386h7M197 504h7M114 418h7M195 200h7M212 522h7M185 598h7M121 343h7M210 500h7M233 482h7M135 357h7M64 317h7M123 490h7M161 327h7M229 366h7M224 514h7M197 512h7M127 553h7M201 350h7M160 252h7M106 494h7M66 192h7M213 374h7M75 339h7M227 611h7M280 448h7M162 267h7M116 377h7M127 529h7M125 187h7M181 262h7M213 530h7M121 395h7M143 280h7M126 361h7M221 430h7M212 293h7M116 317h7M144 549h7M169 436h7M66 481h7M132 382h7M168 340h7M86 401h7M172 303h7M163 438h7M131 352h7M215 388h7M111 348h7M183 303h7M147 541h7M218 257h7M119 405h7M192 273h7M193 509h7M221 398h7M246 452h7M80 417h7M157 435h7M103 395h7M212 458h7M233 464h7M145 341h7M173 371h7M230 399h7M171 324h7M153 336h7M73 506h7M123 227h7M213 602h7M83 310h7M176 471h7M172 403h7M160 378h7M203 475h7M121 566h7M234 414h7M137 385h7M214 361h7M130 605h7M174 530h7M143 512h7M249 437h7M105 171h7M127 436h7M238 236h7M396 474h7M652 388h7M403 525h7M387 401h7M156 264h7M611 393h7M563 554h7M418 493h7M555 543h7M238 377h7M347 525h7M528 648h7M638 401h7M491 378h7M299 620h7M418 462h7M675 283h7M401 389h7M537 632h7M566 499h7M408 710h7M500 538h7M209 485h7M403 596h7M501 363h7M597 598h7M704 437h7M419 414h7M571 504h7M476 384h7M370 291h7M371 323h7M486 522h7M497 491h7M376 461h7M491 325h7M601 392h7M453 677h7M138 629h7M439 412h7M525 523h7M686 483h7M487 414h7M337 466h7M746 584h7M601 352h7M454 317h7M455 570h7M455 395h7M520 426h7M221 424h7M516 391h7M397 198h7M572 437h7M547 386h7M327 262h7M710 372h7M615 483h7M350 692h7M326 375h7M385 637h7M549 387h7M696 515h7M350 415h7M370 555h7M577 470h7M486 396h7M485 235h7M475 588h7M442 241h7M772 366h7M649 697h7M441 484h7M694 463h7M794 468h7M569 485h7M543 403h7M416 498h7M513 428h7M529 405h7M701 516h7M343 539h7M234 500h7M413 583h7M552 711h7M174 691h7M461 466h7M364 300h7M314 611h7M515 468h7M678 560h7M277 403h7M529 571h7M466 298h7M596 476h7M494 266h7M392 733h7M634 418h7M561 163h7M329 631h7M174 589h7M379 644h7M524 298h7M615 507h7M401 637h7M430 429h7M204 509h7M419 425h7M509 412h7M398 646h7M475 348h7M335 460h7M347 535h7M535 462h7M244 572h7M493 182h7M680 614h7M400 292h7M412 426h7M358 408h7M283 521h7M397 430h7M287 397h7M453 551h7M401 741h7M309 372h7M493 365h7M647 375h7M613 287h7M443 288h7M483 390h7M321 554h7M448 385h7M591 342h7M607 440h7M700 345h7M246 828h7M733 667h7M546 459h7M731 222h7M486 377h7M680 329h7M481 333h7M317 155h7M535 382h7M405 372h7M479 361h7M567 276h7M608 504h7M588 335h7M638 142h7M239 311h7M668 563h7M353 617h7M499 296h7M420 429h7M301 528h7M625 578h7M323 388h7M397 492h7M715 392h7M127 203h7M217 577h7M636 442h7M419 509h7M609 422h7M483 330h7M408 384h7M595 497h7M373 276h7M397 662h7M521 764h7M311 138h7M257 577h7M222 391h7M633 535h7M790 477h7M672 426h7M384 575h7M403 464h7M328 655h7M485 496h7M650 254h7M473 429h7M482 452h7M534 284h7M295 721h7M445 442h7M543 448h7M505 229h7M604 529h7M730 436h7M124 603h7M239 685h7M750 364h7M564 354h7M373 612h7M445 601h7M489 496h7M656 553h7M437 410h7M488 450h7M275 453h7M723 161h7M561 555h7M414 560h7M276 327h7M486 379h7M630 494h7M858 552h7M796 455h7M430 391h7M424 511h7M335 470h7M565 317h7M370 409h7M584 403h7M543 544h7M559 274h7M336 343h7M676 400h7M461 457h7M298 778h7M487 429h7M521 597h7M503 560h7M644 630h7M686 690h7M858 532h7M478 321h7M688 405h7M79 658h7M795 747h7M490 628h7M698 782h7M457 548h7M581 340h7M595 467h7M397 494h7M403 580h7M31 571h7M584 333h7M470 615h7M459 377h7M691 492h7M551 543h7M533 550h7M192 525h7M520 379h7M448 435h7M653 582h7M416 391h7M299 293h7M458 105h7M792 455h7M356 330h7M702 453h7M468 306h7M170 393h7M595 402h7M874 583h7M569 332h7M324 289h7M461 467h7M354 565h7M585 522h7M115 454h7M628 521h7M568 196h7M331 465h7M397 417h7M484 480h7M773 358h7M411 435h7M374 151h7M650 449h7M393 639h7M328 478h7M474 461h7M628 498h7M519 645h7M436 358h7M727 249h7M720 298h7M238 358h7M309 464h7M347 564h7M461 349h7M523 311h7M483 573h7M507 598h7M568 344h7M289 555h7M145 425h7M543 383h7M696 432h7M537 822h7M565 790h7M703 217h7M214 889h7M20 576h7M156 603h7M752 404h7M407 505h7M649 592h7M307 396h7M836 571h7M742 511h7M546 839h7M137 433h7M333 235h7M439 246h7M10 718h7M655 521h7M737 210h7M155 736h7M372 888h7M28 680h7M749 844h7M181 728h7M108 727h7M635 280h7M79 110h7M179 482h7M423 232h7M478 447h7M128 176h7M849 369h7M636 897h7M661 679h7M512 435h7M361 324h7M99 538h7M597 335h7M291 737h7M854 355h7M778 256h7M722 612h7" stroke="#000" stroke-width="7" fill="none" opacity="0.6"/>
<rect x="0" y="0" width="93" height="92.5" fill="none" stroke="#555" stroke-width="0.75"/>
<line x1="29.50" y1="0.00" x2="29.50" y2="58.28" stroke="#1e1e1e" stroke-width="0.85"/>
<line x1="29.50" y1="52.82" x2="49.25" y2="52.82" stroke="#1e1e1e" stroke-width="0.85"/>
<line x1="49.25" y1="52.82" x2="41.25" y2="69.44" stroke="#1e1e1e" stroke-width="0.85"/>
<line x1="29.50" y1="58.28" x2="0.00" y2="75.14" stroke="#1e1e1e" stroke-width="0.85"/>
<line x1="41.25" y1="69.44" x2="93.00" y2="69.44" stroke="#1e1e1e" stroke-width="0.85"/>
<line x1="41.25" y1="69.44" x2="27.00" y2="92.50" stroke="#1e1e1e" stroke-width="0.85"/>
<text x="2.00" y="5.00" font-size="4.00" font-weight="normal" fill="#222">4.16</text>
<text x="91.40" y="5.00" font-size="4.00" font-weight="normal" fill="#222" text-anchor="end">1.95</text>
<text x="91.40" y="81.54" font-size="4.20" font-weight="normal" fill="#222" text-anchor="end">24.42</text>
<text x="-2.3" y="24.26" font-size="4.0" font-weight="normal" fill="#333" text-anchor="end">10<tspan font-size="2.6" dy="-1.6">2</tspan></text>
<line x1="-1.6" y1="23.06" x2="0" y2="23.06" stroke="#777" stroke-width="0.5"/>
<text x="-2.3" y="47.82" font-size="4.0" font-weight="normal" fill="#333" text-anchor="end">10<tspan font-size="2.6" dy="-1.6">1</tspan></text>
<line x1="-1.6" y1="46.62" x2="0" y2="46.62" stroke="#777" stroke-width="0.5"/>
<text x="-2.3" y="70.88" font-size="4.0" font-weight="normal" fill="#333" text-anchor="end">10<tspan font-size="2.6" dy="-1.6">0</tspan></text>
<line x1="-1.6" y1="69.68" x2="0" y2="69.68" stroke="#777" stroke-width="0.5"/>
<text x="-2.3" y="93.70" font-size="3.8" font-weight="normal" fill="#333" text-anchor="end">0.19</text>
<text x="0.00" y="98.70" font-size="4.0" font-weight="normal" fill="#333" text-anchor="middle">0</text>
<line x1="0.00" y1="92.50" x2="0.00" y2="94.10" stroke="#777" stroke-width="0.5"/>
<text x="23.25" y="98.70" font-size="4.0" font-weight="normal" fill="#333" text-anchor="middle">10<tspan font-size="2.6" dy="-1.6">0</tspan></text>
<line x1="23.25" y1="92.50" x2="23.25" y2="94.10" stroke="#777" stroke-width="0.5"/>
<text x="46.25" y="98.70" font-size="4.0" font-weight="normal" fill="#333" text-anchor="middle">10<tspan font-size="2.6" dy="-1.6">1</tspan></text>
<line x1="46.25" y1="92.50" x2="46.25" y2="94.10" stroke="#777" stroke-width="0.5"/>
<text x="69.50" y="98.70" font-size="4.0" font-weight="normal" fill="#333" text-anchor="middle">10<tspan font-size="2.6" dy="-1.6">2</tspan></text>
<line x1="69.50" y1="92.50" x2="69.50" y2="94.10" stroke="#777" stroke-width="0.5"/>
</g>
<g transform="translate(277.25,255.50)">
<clipPath id="fc277"><rect x="0" y="0" width="93.25" height="92.5"/></clipPath><g clip-path="url(#fc277)">
<rect x="0" y="78.0" width="24" height="15.0" rx="4.5" fill="#000" opacity="0.9" filter="url(#blur2)"/>
</g>
<path transform="scale(0.1)" d="M50 817h7M166 829h7M18 808h7M72 829h7M134 860h7M59 875h7M203 803h7M111 846h7M137 816h7M126 866h7M140 843h7M147 881h7M58 846h7M25 793h7M121 888h7M100 857h7M291 881h7M132 834h7M144 866h7M198 749h7M42 839h7M297 886h7M70 875h7M131 851h7M86 795h7M85 870h7M191 885h7M224 860h7M23 912h7M73 882h7M35 883h7M11 808h7M102 797h7M153 882h7M252 851h7M112 899h7M169 900h7M194 819h7M52 857h7M125 901h7M278 831h7M150 860h7M299 920h7M15 857h7M57 871h7M121 921h7M31 882h7M174 786h7M22 866h7M147 861h7M140 917h7M169 867h7M36 827h7M166 869h7M152 876h7M229 910h7M174 820h7M224 863h7M214 819h7M68 879h7M82 841h7M241 841h7M146 825h7M155 855h7M212 778h7M165 905h7M360 880h7M238 888h7M130 873h7M94 844h7M18 840h7M196 867h7M70 751h7M204 858h7M157 892h7M145 885h7M94 907h7M119 831h7M66 830h7M235 869h7M238 818h7M117 838h7M122 861h7M146 758h7M199 778h7M141 878h7M82 822h7M101 895h7M146 833h7M109 805h7M88 888h7M227 844h7M158 875h7M200 823h7M46 817h7M193 840h7M124 817h7M100 847h7M64 806h7M68 873h7M82 895h7M132 879h7M115 793h7M294 917h7M164 769h7M143 866h7M115 861h7M55 894h7M53 822h7M153 831h7M261 912h7M257 805h7M226 817h7M217 726h7M220 912h7M181 823h7M263 859h7M54 868h7M84 791h7M175 901h7M128 822h7M193 872h7M211 864h7M105 829h7M156 853h7M76 856h7M49 838h7M17 834h7M15 758h7M142 917h7M279 831h7M18 747h7M261 786h7M205 788h7M209 746h7M236 818h7M87 826h7M55 826h7M152 847h7M189 865h7M6 905h7M159 758h7M149 782h7M183 855h7M12 831h7M220 910h7M190 828h7M138 827h7M310 843h7M253 832h7M112 859h7M25 902h7M104 900h7M186 837h7M100 849h7M201 870h7M156 843h7M39 800h7M173 809h7M121 828h7M201 758h7M107 899h7M264 828h7M116 819h7M176 918h7M140 786h7M67 805h7M136 908h7M86 852h7M173 895h7M34 862h7M42 856h7M199 824h7M170 880h7M173 868h7M173 868h7M214 835h7M165 916h7M203 860h7M59 886h7M169 798h7M62 773h7M19 893h7M106 824h7M180 814h7M127 875h7M183 842h7M162 842h7M135 878h7M11 884h7M130 860h7M127 766h7M274 895h7M58 818h7M64 822h7M138 867h7M151 866h7M141 844h7M350 908h7M118 857h7M167 839h7M124 895h7M218 874h7M317 847h7M270 808h7M154 878h7M162 850h7M50 828h7M30 785h7M125 827h7M94 763h7M62 891h7M157 865h7M62 878h7M235 856h7M163 916h7M67 722h7M71 811h7M212 862h7M164 719h7M24 825h7M73 818h7M106 922h7M194 884h7M57 815h7M134 753h7M177 915h7M273 742h7M116 801h7M185 793h7M168 819h7M128 879h7M94 899h7M155 872h7M183 797h7M9 921h7M91 916h7M153 895h7M152 802h7M265 817h7M214 817h7M15 825h7M260 888h7M62 866h7M51 835h7M217 914h7M95 852h7M177 824h7M162 790h7M170 844h7M192 850h7M69 874h7M201 878h7M15 832h7M55 891h7M215 856h7M143 869h7M73 821h7M241 816h7M140 887h7M189 768h7M152 862h7M113 781h7M134 763h7M160 858h7M221 826h7M199 766h7M26 862h7M150 863h7M135 831h7M160 773h7M35 892h7M134 892h7M30 874h7M129 869h7M115 915h7M107 904h7M149 890h7M78 823h7M120 906h7M182 811h7M253 874h7M157 805h7M193 847h7M172 895h7M266 839h7M304 903h7M66 831h7M148 847h7M66 853h7M241 834h7M180 792h7M158 776h7M146 870h7M158 918h7M86 836h7M150 844h7M117 844h7M73 911h7M235 848h7M57 814h7M30 795h7M179 768h7M249 851h7M9 777h7M36 891h7M30 843h7M155 819h7M244 767h7M117 900h7M100 860h7M69 868h7M219 854h7M69 798h7M49 885h7M101 915h7M119 753h7M156 860h7M67 849h7M273 840h7M288 875h7M23 844h7M133 834h7M34 914h7M97 806h7M14 834h7M96 833h7M144 814h7M136 828h7M227 774h7M105 732h7M127 819h7M247 790h7M34 916h7M157 877h7M62 800h7M137 843h7M114 861h7M130 867h7M99 865h7M197 853h7M113 810h7M195 858h7M178 864h7M142 786h7M89 857h7M127 790h7M40 769h7M178 850h7M149 879h7M224 901h7M316 825h7M194 779h7M170 808h7M137 840h7M195 847h7M241 877h7M96 844h7M11 906h7M207 877h7M161 886h7M167 873h7M72 798h7M21 827h7M71 844h7M61 802h7M258 872h7M10 831h7M67 819h7M55 888h7M127 815h7M184 872h7M51 863h7M83 856h7M155 792h7M26 861h7M205 872h7M81 898h7M287 903h7M188 724h7M151 827h7M32 799h7M23 885h7M59 881h7M260 882h7M234 884h7M133 873h7M59 849h7M81 890h7M166 855h7M169 908h7M154 832h7M59 841h7M165 815h7M106 888h7M197 813h7M142 735h7M188 814h7M149 819h7M79 854h7M223 836h7M30 918h7M179 871h7M82 904h7M144 908h7M75 901h7M32 831h7M40 877h7M23 850h7M123 894h7M148 826h7M113 888h7M132 893h7M203 917h7M22 917h7M42 835h7M106 769h7M214 864h7M91 784h7M117 796h7M116 853h7M146 820h7M47 920h7M297 899h7M72 908h7M258 880h7M23 852h7M140 845h7M153 797h7M196 816h7M120 896h7M65 835h7M130 876h7M256 852h7M280 883h7M163 912h7M35 834h7M49 894h7M39 899h7M27 908h7M55 864h7M157 876h7M58 769h7M230 862h7M263 914h7M115 846h7M215 840h7M138 805h7M105 887h7M231 849h7M177 888h7M105 825h7M77 885h7M121 863h7M201 870h7M180 905h7M70 819h7M107 849h7M135 913h7M85 919h7M113 893h7M37 801h7M51 867h7M145 837h7M141 841h7M94 780h7M307 752h7M106 907h7M181 898h7M145 784h7M80 839h7M179 860h7M215 828h7M122 882h7M164 837h7M364 787h7M45 836h7M103 879h7M170 811h7M121 894h7M51 909h7M80 887h7M101 885h7M98 852h7M126 884h7M257 820h7M141 739h7M89 821h7M177 908h7M30 803h7M69 845h7M28 820h7M150 797h7M195 839h7M103 895h7M227 858h7M73 843h7M94 747h7M137 797h7M263 857h7M27 896h7M170 864h7M128 897h7M222 739h7M8 811h7M23 821h7M267 788h7M229 776h7M214 899h7M111 791h7M212 910h7M123 900h7M29 838h7M110 785h7M99 825h7M33 819h7M73 822h7M63 816h7M166 857h7M205 840h7M217 852h7M215 853h7M31 916h7M191 856h7M157 851h7M42 847h7M135 889h7M51 860h7M198 848h7M168 907h7M85 833h7M9 876h7M83 765h7M109 822h7M192 879h7M189 776h7M227 780h7M186 867h7M82 757h7M84 839h7M92 872h7M186 817h7M131 845h7M289 874h7M78 910h7M134 894h7M163 872h7M127 803h7M215 907h7M165 826h7M81 904h7M112 922h7M101 783h7M140 846h7M85 909h7M72 902h7M153 897h7M28 846h7M119 890h7M158 863h7M205 820h7M161 793h7M201 860h7M193 850h7M180 831h7M110 886h7M128 892h7M6 756h7M207 822h7M209 824h7M51 887h7M219 800h7M150 828h7M229 897h7M293 877h7M191 814h7M73 795h7M91 907h7M215 855h7M169 871h7M85 862h7M230 732h7M73 901h7M202 860h7M211 867h7M145 843h7M69 765h7M177 838h7M79 856h7M173 909h7M128 807h7M185 841h7M39 857h7M62 880h7M146 888h7M104 889h7M43 797h7M140 770h7M116 900h7M98 862h7M120 884h7M224 833h7M101 710h7M142 861h7M68 726h7M122 841h7M82 899h7M64 799h7M238 807h7M129 748h7M56 834h7M61 865h7M255 844h7M189 807h7M171 884h7M77 871h7M70 758h7M215 831h7M181 811h7M47 717h7M118 886h7M174 872h7M109 804h7M155 882h7M60 868h7M230 832h7M243 871h7M63 845h7M79 908h7M194 777h7M115 868h7M135 835h7M116 809h7M111 835h7M187 880h7M64 848h7M65 848h7M179 902h7M174 902h7M126 840h7M139 915h7M153 855h7M148 854h7M36 894h7M191 819h7M292 778h7M153 849h7M97 900h7M220 841h7M173 900h7M56 917h7M112 839h7M71 857h7M207 849h7M8 889h7M227 881h7M62 866h7M83 876h7M153 871h7M219 820h7M174 860h7M98 892h7M131 863h7M281 852h7M76 810h7M86 821h7M54 908h7M115 858h7M176 862h7M35 921h7M240 836h7M228 833h7M173 889h7M329 778h7M30 857h7M73 818h7M304 832h7M15 846h7M147 776h7M105 821h7M39 847h7M102 834h7M143 905h7M162 789h7M171 846h7M126 922h7M123 858h7M172 874h7M66 847h7M6 875h7M192 893h7M168 863h7M229 870h7M13 763h7M146 899h7M37 870h7M208 840h7M175 876h7M139 824h7M233 826h7M187 851h7M248 890h7M395 908h7M44 874h7M254 790h7M164 864h7M223 892h7M23 755h7M82 847h7M71 761h7M129 880h7M92 831h7M20 875h7M139 909h7M60 849h7M147 890h7M118 835h7M176 888h7M247 835h7M223 901h7M196 820h7M162 889h7M12 786h7M46 869h7M73 803h7M108 831h7M37 905h7M82 805h7M215 744h7M81 778h7M95 914h7M107 864h7M88 863h7M303 914h7M199 858h7M184 844h7M111 895h7M47 854h7M137 859h7M201 798h7M358 781h7M246 918h7M135 874h7M54 911h7M66 778h7M95 794h7M219 832h7M181 842h7M46 867h7M166 836h7M132 856h7M293 850h7M108 913h7M37 903h7M38 836h7M108 765h7M67 775h7M42 899h7M107 883h7M69 861h7M38 843h7M97 797h7M120 749h7M145 829h7M82 730h7M128 880h7M222 843h7M140 907h7M74 904h7M72 874h7M45 814h7M120 871h7M249 825h7M279 847h7M143 863h7M128 905h7M106 846h7M143 845h7M100 837h7M54 837h7M128 882h7M65 782h7M198 860h7M271 798h7M174 830h7M135 895h7M167 867h7M79 889h7M259 867h7M268 836h7M204 862h7M188 907h7M85 868h7M274 839h7M58 882h7M299 841h7M85 905h7M51 787h7M208 817h7M221 854h7M113 832h7M54 839h7M197 903h7M245 905h7M158 857h7M157 896h7M252 837h7M265 720h7M21 913h7M160 833h7M23 888h7M57 849h7M218 844h7M28 813h7M108 897h7M227 900h7M161 922h7M114 880h7M103 832h7M47 861h7M295 880h7M128 733h7M128 800h7M210 849h7M137 899h7M160 820h7M138 862h7M213 832h7M198 817h7M168 840h7M111 864h7M128 899h7M288 783h7M220 808h7M125 834h7M177 822h7M8 889h7M140 906h7M174 808h7M51 836h7M137 871h7M243 804h7M54 860h7M209 919h7M109 789h7M118 821h7M108 827h7M64 850h7M273 785h7M184 818h7M251 887h7M26 855h7M177 863h7M181 906h7M31 880h7M53 908h7M58 858h7M212 812h7M67 771h7M185 788h7M71 799h7M120 861h7M55 911h7M206 778h7M131 801h7M111 834h7M252 863h7M202 862h7M146 861h7M24 868h7M125 847h7M31 873h7M159 810h7M150 871h7M81 848h7M129 853h7M217 914h7M180 841h7M47 823h7M155 843h7M136 901h7M160 686h7M90 860h7M207 918h7M186 860h7M255 874h7M215 846h7M13 774h7M79 905h7M162 843h7M210 882h7M68 859h7M152 882h7M117 880h7M210 853h7M43 817h7M169 878h7M60 912h7M162 858h7M49 749h7M102 819h7M46 830h7M132 867h7M180 762h7M117 829h7M103 815h7M127 898h7M52 889h7M189 885h7M186 909h7M271 834h7M217 846h7M85 904h7M50 832h7M146 877h7M100 852h7M206 864h7M112 854h7M101 859h7M181 893h7M67 791h7M91 821h7M231 833h7M74 789h7M94 875h7M221 835h7M160 789h7M155 813h7M148 880h7M8 904h7M57 889h7M55 872h7M182 773h7M89 819h7M244 910h7M124 839h7M177 819h7M71 821h7M77 877h7M162 765h7M199 909h7M71 869h7M233 806h7M106 888h7M256 721h7M24 796h7M97 873h7M120 798h7M78 786h7M180 854h7M205 862h7M93 819h7M190 817h7M61 810h7M233 776h7M80 836h7M189 891h7M45 855h7M48 792h7M105 852h7M203 887h7M111 909h7M72 777h7M20 836h7M99 829h7M218 842h7M106 914h7M162 761h7M259 827h7M138 826h7M74 833h7M259 831h7M251 796h7M123 841h7M214 883h7M155 835h7M72 830h7M100 895h7M116 869h7M23 811h7M169 879h7M252 784h7M150 897h7M171 875h7M23 873h7M59 856h7M76 867h7M288 812h7M90 859h7M148 886h7M83 809h7M135 885h7M113 796h7M100 819h7M161 813h7M165 825h7M24 850h7M13 890h7M171 909h7M192 878h7M11 819h7M181 893h7M8 905h7M110 817h7M230 796h7M106 840h7M29 847h7M187 891h7M45 796h7M68 801h7M32 850h7M160 898h7M170 840h7M237 823h7M103 771h7M248 792h7M72 921h7M180 819h7M258 913h7M35 885h7M57 892h7M193 918h7M57 840h7M187 917h7M141 861h7M136 805h7M121 906h7M59 919h7M237 855h7M133 849h7M248 894h7M239 909h7M131 811h7M90 884h7M108 858h7M93 873h7M29 918h7M20 775h7M139 830h7M61 786h7M265 839h7M238 803h7M80 832h7M187 825h7M70 875h7M41 839h7M100 816h7M103 817h7M338 847h7M8 793h7M65 734h7M180 914h7M106 862h7M132 825h7M185 847h7M108 892h7M59 812h7M5 857h7M114 828h7M165 917h7M137 733h7M218 785h7M143 795h7M49 815h7M168 738h7M79 850h7M173 889h7M67 870h7M42 828h7M61 845h7M95 808h7M165 899h7M117 840h7M158 760h7M105 812h7M60 901h7M35 846h7M167 887h7M211 815h7M34 779h7M38 854h7M46 823h7M146 854h7M126 818h7M98 817h7M113 783h7M101 792h7M158 913h7M57 889h7M73 822h7M135 804h7M343 882h7M67 837h7M289 840h7M40 832h7M39 774h7M233 877h7M135 863h7M228 855h7M63 864h7M139 895h7M77 819h7M216 857h7M302 822h7M99 879h7M142 797h7M48 849h7M121 876h7M129 819h7M209 907h7M152 827h7M216 868h7M9 824h7M182 850h7M187 880h7M73 848h7M132 834h7M79 916h7M251 903h7M99 825h7M178 884h7M135 833h7M128 846h7M112 897h7M110 747h7M123 890h7M179 899h7M127 867h7M151 906h7M75 913h7M191 843h7M192 849h7M174 859h7M51 846h7M212 816h7M127 793h7M133 852h7M63 811h7M78 839h7M66 793h7M150 789h7M61 836h7M117 845h7M11 853h7M124 910h7M130 882h7M125 872h7M206 890h7M118 884h7M38 787h7M280 891h7M121 847h7M181 777h7M130 818h7M220 904h7M23 851h7M210 919h7M108 897h7M47 779h7M79 875h7M34 812h7M122 826h7M26 872h7M179 842h7M74 822h7M81 786h7M185 787h7M64 835h7M150 912h7M56 809h7M104 799h7M56 915h7M34 896h7M172 758h7M68 787h7M51 889h7M63 829h7M185 905h7M143 776h7M230 793h7M209 882h7M94 867h7M35 893h7M120 767h7M161 836h7M224 869h7M67 854h7M142 813h7M83 868h7M22 920h7M278 816h7M103 817h7M176 864h7M53 860h7M79 809h7M112 883h7M255 916h7M232 838h7M291 831h7M245 831h7M242 883h7M100 850h7M60 878h7M227 912h7M58 840h7M163 842h7M67 841h7M123 850h7M44 859h7M93 840h7M191 901h7M102 876h7M201 797h7M81 904h7M147 876h7M34 917h7M228 882h7M142 804h7M164 906h7M111 879h7M96 849h7M90 875h7M169 836h7M307 823h7M33 917h7M148 769h7M121 888h7M208 815h7M28 863h7M27 824h7M138 869h7M78 783h7M55 848h7M54 812h7M52 836h7M219 895h7M305 762h7M159 804h7M236 795h7M291 774h7M102 833h7M149 811h7M134 851h7M222 869h7M163 748h7M96 798h7M60 800h7M226 816h7M101 787h7M184 802h7M124 774h7M204 869h7M252 898h7M131 805h7M68 913h7M19 863h7M264 812h7M149 883h7M67 920h7M109 920h7M23 882h7M142 855h7M87 871h7M293 849h7M127 814h7M69 829h7M114 760h7M129 807h7M26 797h7M213 846h7M165 785h7M120 849h7M62 855h7M79 908h7M18 842h7M141 785h7M183 895h7M77 876h7M83 833h7M115 897h7M235 875h7M75 866h7M329 809h7M263 794h7M159 804h7M222 908h7M87 846h7M124 793h7M162 904h7M116 915h7M112 773h7M236 889h7M104 907h7M67 881h7M91 895h7M178 862h7M160 893h7M121 893h7M115 825h7M78 853h7M83 793h7M204 826h7M112 823h7M221 812h7M41 835h7M146 853h7M71 885h7M211 888h7M88 798h7M75 783h7M90 915h7M71 844h7M273 865h7M99 856h7M105 781h7M8 799h7M17 836h7M160 882h7M69 805h7M106 861h7M42 776h7M13 831h7M62 873h7M134 907h7M109 838h7M47 890h7M249 871h7M148 867h7M173 835h7M244 875h7M42 912h7M197 856h7M139 839h7M51 889h7M118 782h7M114 911h7M245 775h7M87 916h7M138 873h7M92 831h7M10 821h7M89 864h7M126 836h7M261 769h7M220 910h7M74 779h7M44 847h7M116 831h7M321 778h7M188 906h7M114 879h7M74 709h7M30 784h7M111 820h7M87 866h7M81 884h7M244 908h7M193 882h7M91 843h7M183 881h7M58 852h7M152 854h7M188 838h7M329 881h7M53 861h7M108 806h7M110 750h7M70 906h7M111 894h7M121 851h7M91 915h7M141 849h7M112 920h7M14 845h7M108 824h7M135 910h7M115 901h7M81 888h7M121 783h7M175 871h7M36 866h7M106 841h7M178 879h7M70 848h7M21 876h7M182 856h7M176 842h7M118 854h7M66 887h7M244 904h7M221 809h7M185 847h7M79 813h7M129 848h7M47 797h7M34 900h7M127 857h7M146 794h7M166 880h7M128 806h7M287 784h7M40 878h7M227 859h7M87 820h7M197 892h7M45 879h7M300 865h7M238 908h7M227 919h7M136 874h7M195 874h7M121 715h7M110 839h7M83 828h7M119 850h7M41 766h7M122 887h7M236 845h7M79 812h7M173 829h7M229 882h7M58 837h7M217 896h7M111 871h7M53 795h7M254 799h7M257 899h7M97 899h7M211 857h7M121 854h7M303 842h7M114 855h7M69 884h7M126 742h7M115 864h7M88 864h7M101 814h7M14 814h7M174 919h7M12 833h7M215 842h7M181 903h7M92 795h7M70 819h7M125 825h7M268 784h7M151 826h7M89 808h7M269 833h7M92 801h7M95 736h7M301 915h7M180 894h7M223 889h7M176 883h7M169 886h7M181 821h7M307 826h7M29 795h7M102 836h7M138 805h7M27 843h7M128 880h7M216 872h7M83 795h7M64 894h7M190 817h7M63 777h7M118 901h7M113 872h7M19 844h7M202 817h7M35 894h7M199 842h7M156 821h7M37 884h7M96 870h7M195 795h7M101 919h7M306 772h7M43 815h7M223 874h7M103 896h7M207 885h7M33 831h7M15 856h7M63 818h7M79 802h7M83 888h7M74 880h7M52 869h7M298 875h7M161 886h7M100 860h7M42 871h7M146 914h7M147 909h7M49 912h7M108 862h7M185 863h7M147 798h7M119 847h7M133 828h7M63 815h7M118 857h7M129 860h7M62 821h7M113 771h7M198 843h7M209 857h7M4 812h7M206 791h7M158 764h7M159 855h7M7 826h7M129 885h7M171 784h7M158 922h7M63 846h7M75 845h7M149 863h7M138 891h7M231 895h7M74 827h7M225 878h7M28 884h7M132 866h7M242 811h7M39 876h7M150 846h7M282 856h7M17 917h7M210 878h7M118 906h7M129 793h7M225 802h7M99 756h7M205 908h7M186 847h7M122 828h7M210 851h7M148 797h7M115 884h7M374 811h7M26 868h7M37 852h7M87 883h7M137 843h7M104 854h7M311 916h7M32 883h7M86 777h7M81 863h7M199 855h7M148 832h7M216 883h7M173 882h7M123 912h7M115 860h7M25 826h7M182 914h7M160 900h7M161 834h7M227 816h7M171 854h7M139 792h7M139 850h7M80 854h7M198 829h7M10 795h7M173 745h7M137 898h7M198 903h7M89 900h7M76 837h7M186 880h7M135 841h7M200 799h7M30 872h7M195 834h7M137 892h7M169 861h7M206 769h7M36 841h7M176 809h7M116 880h7M100 900h7M121 798h7M79 878h7M124 807h7M141 832h7M67 865h7M212 917h7M129 880h7M29 889h7M159 833h7M164 850h7M145 865h7M89 865h7M142 877h7M127 820h7M167 800h7M181 865h7M224 809h7M149 762h7M231 843h7M81 859h7M63 865h7M228 855h7M180 866h7M33 871h7M218 897h7M134 871h7M158 860h7M204 894h7M176 802h7M117 761h7M104 834h7M76 857h7M78 888h7M144 822h7M332 867h7M338 856h7M107 894h7M113 889h7M97 895h7M100 845h7M115 836h7M66 823h7M125 827h7M124 893h7M19 878h7M51 852h7M66 863h7M75 860h7M73 901h7M69 842h7M62 892h7M72 777h7M91 834h7M279 820h7M198 873h7M70 831h7M6 819h7M216 822h7M119 787h7M150 793h7M218 809h7M69 870h7M136 894h7M114 902h7M127 768h7M118 826h7M133 865h7M73 875h7M61 867h7M89 789h7M173 877h7M219 849h7M132 808h7M98 875h7M168 848h7M183 794h7M110 850h7M86 813h7M162 738h7M108 832h7M219 875h7M47 810h7M148 851h7M122 849h7M36 834h7M91 836h7M33 840h7M91 842h7M98 849h7M343 881h7M34 832h7M175 815h7M82 879h7M151 823h7M54 843h7M215 868h7M109 899h7M91 876h7M135 839h7M163 811h7M125 809h7M160 897h7M269 738h7M226 901h7M304 840h7M235 910h7M150 737h7M70 757h7M241 887h7M196 797h7M190 834h7M106 873h7M138 838h7M23 854h7M167 771h7M135 852h7M43 810h7M93 904h7M241 821h7M250 875h7M164 846h7M97 812h7M79 860h7M143 846h7M249 891h7M168 807h7M42 796h7M127 886h7M160 864h7M215 910h7M117 918h7M134 762h7M142 864h7M177 859h7M239 898h7M123 843h7M31 845h7M145 884h7M288 888h7M73 846h7M159 918h7M125 826h7M119 913h7M158 914h7M176 808h7M136 784h7M187 836h7M47 848h7M130 832h7M303 838h7M153 826h7M312 831h7M151 857h7M104 822h7M57 857h7M242 797h7M11 784h7M71 887h7M88 811h7M148 854h7M127 800h7M24 783h7M267 806h7M130 912h7M123 814h7M94 860h7M147 830h7M60 854h7M217 790h7M195 902h7M122 859h7M200 826h7M109 888h7M87 774h7M206 814h7M115 866h7M257 824h7M161 907h7M250 806h7M16 874h7M97 905h7M205 802h7M86 773h7M111 917h7M98 906h7M157 891h7M131 864h7M269 772h7M264 882h7M135 892h7M270 822h7M113 741h7M227 874h7M138 807h7M260 849h7M58 878h7M85 787h7M157 873h7M43 813h7M247 822h7M109 888h7M169 778h7M211 822h7M175 838h7M62 900h7M12 846h7M48 796h7M61 776h7M57 842h7M10 875h7M139 819h7M274 916h7M46 881h7M114 779h7M119 753h7M196 858h7M86 851h7M201 868h7M129 846h7M191 843h7M276 847h7M4 834h7M10 827h7M19 903h7M132 898h7M133 831h7M269 844h7M242 854h7M112 903h7M179 817h7M159 921h7M83 804h7M181 906h7M80 855h7M115 792h7M110 829h7M73 841h7M68 903h7M128 915h7M112 764h7M19 826h7M262 903h7M265 875h7M260 876h7M221 882h7M114 888h7M43 914h7M37 831h7M94 874h7M131 768h7M144 852h7M76 813h7M76 847h7M116 749h7M169 876h7M93 847h7M263 859h7M47 814h7M69 810h7M81 897h7M104 881h7M139 837h7M166 790h7M93 874h7M253 825h7M143 815h7M124 858h7M7 867h7M129 876h7M215 782h7M153 914h7M113 829h7M93 829h7M78 840h7M86 832h7M172 815h7M208 859h7M164 819h7M62 835h7M166 857h7M204 839h7M145 888h7M128 820h7M13 892h7M31 815h7M109 836h7M73 796h7M77 821h7M45 812h7M154 844h7M206 833h7M139 807h7M81 880h7M139 890h7M210 764h7M139 766h7M108 892h7M31 793h7M210 834h7M253 721h7M165 838h7M103 905h7M260 820h7M161 921h7M290 851h7M52 839h7M79 840h7M123 777h7M91 796h7M212 868h7M197 788h7M180 797h7M107 835h7M13 901h7M157 876h7M112 910h7M51 917h7M26 838h7M217 826h7M48 876h7M167 747h7M137 902h7M207 837h7M108 812h7M206 814h7M104 855h7M65 879h7M139 889h7M129 851h7M52 842h7M152 814h7M135 850h7M29 845h7M182 822h7M133 837h7M102 913h7M146 891h7M50 866h7M51 911h7M108 858h7M39 909h7M242 852h7M177 879h7M265 837h7M237 794h7M291 859h7M47 859h7M254 799h7M84 842h7M101 823h7M136 866h7M126 790h7M117 852h7M245 900h7M12 834h7M144 893h7M129 867h7M152 832h7M276 877h7M155 809h7M284 821h7M115 847h7M133 830h7M147 816h7M169 876h7M108 804h7M81 802h7M249 840h7M247 879h7M72 851h7M69 898h7M25 920h7M18 876h7M97 894h7M60 843h7M143 774h7M78 891h7M44 797h7M88 880h7M150 795h7M100 847h7M233 791h7M83 857h7M107 843h7M44 842h7M143 893h7M221 841h7M92 893h7M168 872h7M42 837h7M69 787h7M95 817h7M180 855h7M189 880h7M44 817h7M71 906h7M116 728h7M173 802h7M15 746h7M97 852h7M204 854h7M127 817h7M110 821h7M91 873h7M176 879h7M202 809h7M151 862h7M88 837h7M41 844h7M269 838h7M172 767h7M28 871h7M33 863h7M132 880h7M158 833h7M8 863h7M131 920h7M152 835h7M62 910h7M147 829h7M171 831h7M151 800h7M61 846h7M133 858h7M121 879h7M115 910h7M201 833h7M155 844h7M126 761h7M166 814h7M81 822h7M103 837h7M157 842h7M54 874h7M66 828h7M90 875h7M71 881h7M51 843h7M180 768h7M152 849h7M199 855h7M237 847h7M246 878h7M77 861h7M66 835h7M87 807h7M175 827h7M158 872h7M60 735h7M81 788h7M99 922h7M134 831h7M136 829h7M156 808h7M56 799h7M233 856h7M179 814h7M181 878h7M128 817h7M5 879h7M223 820h7M23 842h7M177 861h7M349 859h7M120 882h7M238 797h7M79 855h7M21 914h7M145 838h7M222 827h7M71 833h7M202 909h7M165 877h7M117 871h7M134 815h7M128 764h7M66 904h7M129 830h7M151 894h7M56 877h7M170 797h7M60 897h7M163 746h7M46 736h7M98 810h7M90 860h7M112 904h7M220 842h7M201 896h7M144 851h7M187 898h7M117 766h7M253 900h7M79 849h7M101 851h7M198 816h7M84 903h7M102 863h7M38 880h7M136 832h7M145 837h7M254 853h7M196 828h7M6 920h7M182 793h7M126 816h7M22 806h7M272 849h7M263 786h7M23 922h7M191 913h7M212 884h7M103 815h7M147 893h7M181 837h7M317 828h7M179 805h7M104 879h7M149 905h7M129 797h7M121 869h7M126 873h7M35 845h7M144 841h7M5 910h7M212 916h7M87 887h7M21 886h7M173 889h7M175 822h7M127 847h7M10 805h7M163 890h7M143 840h7M167 827h7M46 811h7M211 885h7M66 847h7M122 908h7M51 797h7M18 859h7M55 821h7M41 864h7M85 840h7M247 759h7M143 892h7M72 854h7M153 859h7M71 847h7M213 804h7M185 852h7M89 890h7M125 862h7M35 824h7M23 909h7M108 841h7M44 839h7M117 851h7M190 881h7M101 791h7M168 857h7M266 849h7M84 830h7M51 773h7M24 850h7M135 861h7M106 861h7M227 748h7M191 835h7M39 808h7M103 781h7M113 822h7M17 871h7M147 837h7M240 868h7M68 866h7M57 857h7M101 883h7M60 840h7M298 877h7M158 840h7M190 828h7M194 807h7M297 832h7M185 829h7M135 888h7M127 844h7M217 853h7M172 917h7M141 849h7M106 898h7M213 881h7M132 832h7M175 860h7M178 882h7M117 884h7M54 871h7M199 876h7M116 814h7M258 863h7M210 850h7M27 874h7M185 864h7M118 905h7M205 906h7M53 878h7M156 893h7M147 818h7M15 784h7M14 787h7M116 894h7M26 840h7M212 843h7M28 862h7M254 896h7M188 838h7M128 817h7M173 833h7M137 894h7M317 848h7M162 886h7M71 906h7M152 844h7M92 817h7M114 797h7M71 830h7M76 806h7M191 866h7M117 792h7M184 864h7M95 835h7M113 894h7M81 802h7M228 860h7M257 890h7M113 777h7M195 872h7M15 810h7M182 781h7M354 825h7M205 836h7M266 890h7M114 706h7M8 897h7M48 850h7M192 834h7M34 848h7M53 897h7M19 813h7M68 705h7M236 868h7M331 849h7M63 747h7M139 868h7M118 818h7M75 867h7M13 829h7M193 809h7M78 764h7M66 921h7M125 849h7M244 870h7M340 877h7M95 865h7M174 740h7M67 896h7M120 798h7M63 778h7M443 822h7M372 866h7M577 823h7M226 880h7M385 764h7M451 834h7M236 804h7M212 814h7M335 807h7M665 760h7M291 784h7M335 850h7M504 881h7M451 780h7M568 860h7M307 820h7M498 872h7M364 879h7M392 858h7M264 865h7M295 830h7M294 801h7M303 912h7M353 895h7M349 789h7M530 840h7M618 876h7M351 846h7M591 752h7M455 839h7M109 774h7M428 785h7M211 868h7M532 682h7M327 897h7M593 788h7M573 816h7M331 831h7M270 820h7M530 827h7M283 801h7M383 846h7M519 785h7M378 835h7M485 840h7M639 827h7M438 900h7M484 831h7M321 812h7M415 912h7M398 869h7M464 826h7M401 917h7M318 857h7M320 833h7M405 834h7M282 887h7M221 856h7M428 810h7M392 733h7M467 878h7M327 844h7M378 883h7M279 852h7M345 890h7M502 866h7M612 839h7M360 832h7M452 746h7M303 763h7M324 797h7M365 806h7M294 854h7M418 740h7M539 712h7M328 754h7M447 818h7M468 881h7M522 861h7M479 813h7M521 881h7M406 768h7M236 821h7M260 895h7M274 805h7M301 787h7M372 850h7M393 852h7M345 878h7M440 869h7M328 875h7M251 791h7M539 828h7M507 850h7M230 830h7M457 902h7M222 876h7M446 856h7M400 843h7M405 890h7M176 804h7M422 781h7M422 819h7M564 790h7M414 815h7M393 718h7M310 838h7M466 807h7M502 878h7M493 890h7M513 871h7M379 761h7M223 851h7M409 856h7M582 785h7M556 865h7M315 799h7M659 764h7M574 862h7M506 815h7M487 851h7M520 814h7M678 848h7M347 841h7M367 833h7M552 795h7M547 801h7M514 919h7M339 801h7M435 801h7M462 882h7M517 841h7M312 911h7M204 847h7M541 844h7M391 815h7M385 853h7M523 872h7M222 886h7M400 832h7M359 839h7M461 834h7M397 737h7M487 852h7M241 780h7M349 842h7M293 812h7M538 816h7M563 837h7M414 778h7M491 841h7M376 920h7M323 921h7M391 900h7M575 864h7M257 841h7M478 888h7M364 871h7M455 852h7M113 800h7M481 858h7M442 860h7M460 827h7M510 854h7M407 825h7M445 840h7M369 802h7M214 880h7M328 825h7M343 835h7M363 840h7M425 762h7M434 915h7M655 810h7M424 847h7M460 821h7M374 858h7M491 865h7M122 815h7M490 863h7M379 778h7M168 880h7M372 811h7M648 768h7M392 840h7M665 778h7M685 889h7M444 919h7M368 784h7M494 816h7M591 782h7M634 782h7M451 796h7M297 836h7M601 769h7M177 880h7M416 791h7M472 842h7M332 813h7M427 713h7M523 742h7M302 838h7M508 921h7M430 845h7M284 885h7M318 897h7M647 816h7M387 912h7M477 908h7M348 828h7M389 845h7M403 784h7M506 795h7M544 845h7M513 814h7M358 821h7M328 889h7M154 851h7M546 900h7M369 842h7M254 899h7M263 789h7M510 805h7M372 669h7M505 903h7M432 894h7M528 774h7M441 793h7M45 837h7M581 789h7M245 907h7M427 855h7M310 857h7M343 830h7M303 775h7M455 764h7M474 804h7M239 835h7M173 901h7M572 806h7M457 862h7M560 893h7M469 890h7M474 721h7M340 818h7M33 855h7M500 842h7M306 881h7M663 893h7M355 869h7M481 789h7M310 818h7M222 794h7M341 897h7M678 861h7M410 906h7M154 850h7M541 788h7M560 835h7M303 791h7M421 768h7M407 759h7M307 888h7M418 825h7M203 786h7M453 809h7M535 839h7M296 832h7M492 825h7M506 811h7M479 879h7M593 821h7M308 796h7M508 700h7M474 796h7M127 868h7M415 856h7M307 874h7M356 879h7M603 814h7M459 898h7M317 851h7M332 831h7M432 922h7M457 916h7M757 763h7M282 890h7M332 885h7M530 779h7M360 805h7M428 830h7M195 832h7M193 893h7M493 902h7M273 775h7M504 706h7M342 799h7M445 860h7M559 859h7M301 912h7M303 908h7M553 902h7M407 787h7M385 912h7M520 797h7M400 893h7M241 872h7M232 882h7M489 874h7M561 836h7M428 776h7M215 889h7M387 873h7M446 874h7M400 830h7M554 893h7M297 813h7M444 777h7M358 899h7M392 831h7M359 811h7M467 821h7M247 922h7M364 861h7M448 821h7M515 792h7M542 800h7M427 836h7M551 768h7M568 825h7M387 826h7M658 781h7M601 822h7M366 796h7M388 846h7M343 920h7M449 790h7M438 835h7M352 870h7M466 824h7M559 766h7M520 806h7M488 793h7M360 785h7M364 849h7M618 838h7M409 797h7M306 920h7M520 829h7M210 824h7M616 852h7M277 821h7M514 828h7M413 790h7M325 775h7M281 791h7M272 876h7M243 881h7M355 882h7M533 774h7M370 913h7M652 861h7M371 791h7M314 826h7M402 834h7M615 850h7M308 738h7M402 763h7M532 870h7M338 866h7M468 791h7M381 835h7M377 885h7M385 841h7M370 824h7M499 753h7M200 783h7M238 861h7M341 841h7M205 859h7M279 785h7M245 717h7M384 807h7M182 816h7M361 823h7M315 908h7M530 905h7M193 855h7M186 842h7M195 854h7M252 830h7M279 894h7M471 758h7M290 879h7M367 856h7M376 825h7M463 760h7M213 854h7M287 783h7M389 778h7M565 831h7M305 827h7M296 837h7M484 800h7M402 835h7M624 837h7M298 791h7M488 797h7M635 806h7M335 911h7M684 863h7M487 910h7M437 858h7M581 922h7M424 748h7M76 758h7M430 848h7M375 863h7M210 780h7M488 818h7M327 814h7M285 871h7M677 795h7M545 784h7M594 808h7M626 795h7M233 843h7M637 834h7M267 879h7M266 809h7M443 818h7M355 794h7M354 798h7M483 869h7M398 865h7M304 787h7M365 877h7M345 860h7M421 800h7M381 761h7M509 818h7M364 812h7M437 787h7M609 793h7M463 861h7M756 798h7M416 783h7M442 844h7M479 905h7M550 785h7M501 779h7M398 905h7M377 733h7M352 822h7M402 902h7M208 831h7M246 807h7M255 839h7M583 871h7M435 801h7M533 836h7M372 812h7M444 860h7M296 852h7M153 804h7M369 833h7M337 847h7M322 900h7M223 836h7M475 798h7M500 843h7M538 903h7M295 908h7M476 770h7M339 864h7M403 855h7M279 843h7M358 866h7M398 740h7M175 889h7M591 770h7M501 854h7M619 806h7M486 789h7M477 826h7M610 916h7M340 838h7M231 845h7M520 798h7M370 917h7M532 825h7M484 806h7M312 856h7M393 808h7M261 827h7M407 755h7M379 757h7M504 865h7M641 798h7M436 864h7M366 860h7M416 873h7M390 871h7M344 892h7M432 831h7M259 821h7M295 892h7M433 782h7M522 792h7M467 775h7M366 798h7M544 900h7M442 906h7M622 816h7M466 765h7M401 800h7M249 848h7M564 917h7M527 828h7M576 886h7M332 878h7M265 766h7M576 896h7M402 904h7M91 867h7M484 835h7M240 900h7M581 868h7M540 848h7M150 862h7M444 913h7M400 791h7M480 829h7M247 816h7M220 853h7M516 848h7M150 821h7M388 853h7M456 834h7M495 904h7M445 895h7M693 838h7M554 845h7M381 824h7M383 797h7M308 862h7M426 889h7M671 745h7M492 790h7M389 894h7M249 910h7M83 793h7M391 783h7M303 768h7M449 892h7M258 847h7M496 833h7M371 798h7M322 876h7M440 816h7M340 908h7M395 829h7M306 881h7M460 866h7M185 846h7M387 824h7M511 903h7M470 790h7M432 775h7M730 868h7M334 874h7M142 840h7M121 790h7M158 794h7M396 884h7M180 801h7M211 840h7M487 850h7M169 807h7M407 786h7M510 777h7M549 819h7M428 891h7M220 834h7M271 826h7M602 909h7M343 882h7M510 861h7M495 868h7M354 890h7M533 854h7M284 888h7M474 852h7M476 890h7M379 772h7M326 787h7M597 914h7M296 905h7M284 799h7M219 787h7M370 892h7M375 828h7M294 844h7M543 908h7M415 868h7M474 845h7M221 905h7M358 757h7M601 809h7M461 878h7M549 919h7M496 798h7M455 776h7M465 870h7M352 857h7M630 795h7M716 869h7M426 687h7M401 880h7M709 839h7M465 807h7M482 767h7M468 773h7M420 782h7M365 787h7M511 838h7M220 764h7M545 802h7M603 748h7M361 863h7M663 707h7M388 871h7M531 853h7M268 863h7M142 865h7M309 854h7M315 739h7M330 834h7M371 755h7M115 767h7M510 890h7M366 829h7M361 820h7M369 865h7M515 880h7M448 797h7M696 915h7M129 796h7M515 874h7M534 825h7M33 832h7M481 823h7M392 891h7M390 883h7M406 841h7M458 899h7M357 771h7M313 862h7M532 772h7M407 700h7M515 757h7M752 881h7M230 833h7M290 845h7M314 795h7M392 802h7M623 779h7M464 832h7M548 848h7M651 838h7M147 836h7M359 828h7M317 844h7M460 873h7M271 797h7M616 864h7M340 894h7M305 771h7M268 800h7M234 821h7M398 786h7M327 815h7M445 808h7M341 920h7M463 854h7M431 917h7M545 831h7M498 839h7M334 832h7M564 828h7M286 902h7M517 848h7M240 735h7M314 817h7M205 888h7M208 856h7M440 825h7M282 881h7M619 854h7M590 802h7M447 850h7M315 877h7M398 878h7M368 831h7M547 811h7M154 836h7M379 870h7M411 855h7M453 897h7M491 822h7M349 838h7M480 831h7M247 860h7M546 785h7M449 905h7M384 826h7M545 911h7M308 913h7M181 772h7M465 853h7M412 869h7M356 838h7M311 870h7M460 797h7M514 889h7M281 854h7M219 829h7M488 715h7M260 880h7M564 768h7M584 912h7M326 893h7M700 774h7M367 765h7M389 861h7M387 905h7M458 852h7M509 855h7M446 848h7M359 867h7M200 779h7M268 910h7M423 892h7M401 840h7M327 832h7M430 914h7M304 872h7M395 830h7M408 903h7M528 824h7M532 831h7M270 753h7M350 822h7M658 759h7M125 774h7M390 890h7M198 802h7M405 887h7M478 824h7M319 812h7M490 896h7M309 870h7M276 917h7M295 831h7M298 865h7M616 809h7M514 784h7M480 789h7M137 792h7M386 922h7M481 887h7M170 846h7M524 835h7M258 833h7M396 904h7M430 840h7M383 755h7M396 833h7M459 748h7M549 816h7M596 798h7M575 750h7M417 752h7M139 839h7M255 865h7M336 863h7M481 794h7M552 792h7M349 846h7M312 888h7M411 888h7M425 843h7M489 791h7M498 873h7M372 855h7M78 811h7M345 785h7M14 812h7M377 898h7M748 905h7M559 823h7M447 849h7M688 919h7M264 770h7M452 814h7M469 828h7M310 857h7M325 755h7M490 861h7M433 764h7M326 884h7M384 835h7M487 814h7M374 882h7M305 841h7M451 791h7M384 885h7M417 825h7M248 854h7M394 905h7M352 767h7M212 875h7M600 883h7M433 745h7M513 880h7M533 858h7M312 841h7M430 821h7M323 753h7M371 906h7M451 775h7M556 746h7M262 878h7M501 891h7M451 882h7M268 881h7M779 790h7M387 835h7M558 821h7M395 795h7M450 857h7M518 785h7M409 830h7M404 912h7M565 833h7M546 830h7M724 878h7M442 776h7M172 855h7M216 897h7M472 868h7M272 800h7M216 881h7M553 817h7M191 878h7M190 788h7M425 782h7M559 916h7M508 828h7M253 829h7M502 773h7M270 812h7M442 912h7M236 836h7M449 743h7M381 879h7M454 859h7M583 816h7M515 865h7M675 808h7M329 764h7M524 740h7M481 874h7M376 819h7M469 832h7M415 755h7M492 922h7M379 807h7M414 746h7M304 768h7M348 805h7M430 885h7M444 859h7M453 861h7M520 801h7M306 878h7M303 834h7M185 889h7M572 796h7M657 804h7M452 792h7M487 803h7M303 793h7M421 862h7M590 813h7M445 757h7M218 812h7M443 801h7M405 750h7M519 843h7M621 843h7M412 834h7M471 910h7M535 758h7M292 868h7M377 849h7M188 786h7M439 901h7M500 776h7M453 844h7M465 866h7M307 818h7M297 801h7M575 881h7M493 894h7M359 810h7M486 902h7M307 853h7M277 777h7M452 876h7M395 831h7M446 814h7M717 856h7M462 855h7M430 798h7M676 809h7M303 869h7M388 875h7M396 835h7M706 846h7M153 798h7M233 851h7M198 862h7M387 903h7M394 875h7M367 800h7M261 822h7M495 897h7M238 855h7M489 814h7M778 827h7M235 893h7M442 778h7M424 831h7M206 895h7M410 891h7M537 786h7M532 833h7M499 857h7M333 852h7M393 827h7M293 810h7M563 825h7M312 846h7M267 840h7M633 858h7M198 876h7M526 870h7M510 823h7M338 882h7M437 811h7M213 892h7M461 872h7M471 814h7M310 881h7M434 817h7M414 880h7M486 788h7M503 850h7M553 906h7M397 811h7M488 741h7M529 799h7M631 864h7M426 834h7M350 759h7M325 812h7M399 814h7M184 738h7M271 816h7M501 830h7M678 814h7M593 814h7M331 903h7M573 766h7M459 809h7M345 894h7M588 845h7M534 768h7M532 859h7M490 713h7M543 812h7M375 865h7M375 770h7M336 872h7M533 841h7M477 836h7M372 877h7M378 844h7M413 753h7M417 760h7M385 817h7M603 840h7M440 869h7M71 789h7M334 814h7M448 863h7M436 762h7M423 833h7M387 885h7M616 819h7M310 847h7M516 843h7M539 861h7M545 860h7M706 830h7M301 818h7M333 822h7M468 867h7M488 794h7M493 905h7M330 710h7M368 866h7M507 844h7M507 871h7M530 857h7M400 887h7M461 915h7M211 812h7M374 844h7M461 817h7M503 822h7M324 807h7M241 846h7M308 794h7M143 880h7M278 846h7M399 873h7M479 805h7M609 861h7M316 887h7M444 872h7M367 885h7M554 905h7M556 910h7M198 815h7M380 822h7M687 856h7M574 917h7M389 888h7M10 820h7M505 872h7M466 869h7M395 822h7M521 811h7M451 750h7M490 769h7M381 792h7M464 850h7M370 894h7M256 854h7M248 833h7M448 920h7M301 835h7M296 882h7M321 855h7M499 809h7M132 817h7M84 872h7M433 822h7M380 904h7M602 824h7M367 874h7M214 844h7M442 836h7M447 865h7M451 826h7M452 808h7M689 810h7M359 851h7M457 850h7M399 900h7M179 858h7M246 883h7M284 887h7M361 833h7M243 895h7M587 813h7M389 749h7M274 691h7M305 831h7M408 895h7M318 819h7M260 615h7M239 909h7M396 908h7M627 800h7M37 861h7M348 909h7M403 805h7M290 805h7M687 855h7M419 881h7M174 837h7M431 861h7M241 858h7M500 863h7M398 861h7M551 795h7M271 745h7M446 816h7M609 800h7M363 736h7M262 908h7M349 804h7M425 885h7M347 800h7M454 854h7M545 855h7M286 856h7M192 830h7M277 826h7M185 837h7M360 908h7M170 802h7M397 831h7M383 780h7M332 881h7M173 830h7M463 783h7M347 790h7M445 819h7M564 816h7M469 822h7M381 829h7M420 779h7M320 849h7M376 836h7M607 871h7M305 772h7M365 877h7M409 892h7M426 857h7M475 798h7M230 798h7M313 834h7M367 855h7M415 863h7M459 842h7M431 756h7M387 824h7M260 837h7M230 812h7M225 859h7M484 894h7M579 780h7M269 864h7M199 797h7M330 792h7M405 824h7M346 868h7M462 828h7M422 897h7M317 843h7M210 861h7M357 786h7M514 788h7M159 764h7M572 884h7M398 768h7M570 908h7M292 769h7M274 837h7M204 848h7M406 779h7M393 737h7M350 811h7M388 918h7M434 909h7M275 772h7M495 839h7M174 826h7M316 895h7M421 856h7M343 793h7M175 878h7M336 798h7M369 899h7M194 881h7M448 901h7M216 781h7M268 848h7M208 805h7M399 830h7M274 828h7M450 860h7M481 788h7M329 891h7M443 817h7M599 859h7M161 834h7M153 854h7M600 877h7M261 821h7M742 883h7M486 818h7M80 859h7M488 833h7M359 804h7M389 726h7M484 797h7M299 805h7M336 814h7M396 903h7M157 789h7M340 869h7M382 793h7M396 861h7M378 876h7M127 841h7M265 848h7M129 873h7M503 805h7M400 865h7M120 849h7M483 917h7M479 869h7M487 860h7M244 843h7M413 822h7M422 801h7M252 858h7M308 879h7M367 856h7M633 762h7M518 867h7M392 837h7M179 787h7M390 906h7M514 790h7M333 847h7M454 855h7M563 813h7M346 794h7M188 855h7M373 783h7M366 859h7M733 865h7M374 784h7M372 877h7M516 777h7M290 852h7M342 803h7M366 780h7M362 815h7M434 848h7M407 876h7M85 871h7M529 797h7M327 835h7M475 708h7M397 881h7M463 840h7M556 832h7M361 826h7M329 744h7M436 855h7M374 847h7M616 836h7M358 891h7M312 832h7M643 813h7M300 896h7M489 828h7M311 797h7M474 730h7M593 817h7M568 819h7M339 785h7M463 862h7M545 757h7M408 834h7M632 842h7M594 889h7M614 839h7M397 825h7M446 890h7M238 909h7M280 852h7M469 797h7M302 864h7M400 782h7M257 904h7M304 852h7M238 794h7M300 769h7M413 892h7M471 822h7M349 814h7M398 763h7M692 743h7M467 851h7M601 790h7M590 892h7M509 837h7M465 857h7M460 756h7M268 846h7M223 818h7M387 873h7M544 831h7M473 813h7M491 799h7M498 828h7M497 767h7M261 871h7M255 700h7M408 865h7M532 864h7M392 843h7M300 823h7M327 886h7M335 877h7M312 879h7M256 818h7M604 861h7M420 834h7M183 814h7M420 893h7M465 772h7M506 826h7M264 775h7M155 747h7M694 901h7M228 873h7M213 853h7M420 780h7M540 838h7M525 875h7M289 741h7M399 873h7M300 859h7M307 792h7M550 843h7M371 858h7M378 882h7M306 890h7M335 843h7M399 875h7M617 884h7M312 773h7M234 852h7M249 851h7M314 869h7M214 921h7M233 874h7M285 855h7M460 846h7M428 844h7M348 772h7M443 829h7M400 796h7M380 772h7M279 890h7M499 793h7M391 788h7M368 757h7M347 897h7M414 910h7M383 859h7M235 824h7M316 866h7M239 866h7M14 844h7M225 853h7M728 756h7M163 847h7M380 818h7M492 829h7M371 834h7M380 770h7M261 852h7M299 871h7M301 731h7M241 763h7M374 911h7M476 765h7M512 875h7M618 883h7M823 824h7M419 801h7M252 804h7M208 802h7M431 756h7M508 783h7M520 812h7M403 816h7M573 876h7M407 875h7M349 841h7M379 749h7M412 867h7M481 824h7M240 745h7M262 811h7M553 799h7M353 838h7M554 855h7M485 919h7M441 804h7M559 845h7M381 785h7M487 809h7M508 771h7M539 834h7M277 865h7M398 821h7M600 907h7M496 835h7M581 881h7M605 823h7M326 836h7M593 792h7M474 872h7M288 756h7M463 826h7M456 883h7M353 881h7M524 849h7M497 825h7M259 822h7M283 842h7M362 843h7M405 902h7M393 797h7M293 794h7M444 893h7M136 871h7M290 818h7M404 829h7M400 866h7M386 826h7M447 804h7M424 846h7M359 875h7M610 792h7M387 817h7M743 867h7M182 751h7M517 825h7M235 883h7M177 795h7M272 870h7M332 872h7M387 792h7M338 879h7M459 891h7M316 858h7M522 801h7M303 834h7M644 829h7M224 901h7M493 825h7M431 853h7M203 869h7M656 903h7M342 885h7M475 783h7M755 899h7M310 781h7M305 816h7M461 764h7M87 821h7M544 876h7M286 842h7M589 893h7M563 890h7M253 829h7M227 813h7M567 905h7M239 875h7M405 891h7M463 901h7M516 825h7M408 806h7M296 850h7M512 815h7M464 807h7M547 795h7M265 833h7M608 824h7M472 861h7M360 869h7M484 902h7M390 855h7M158 851h7M315 864h7M447 848h7M439 858h7M432 812h7M300 846h7M264 775h7M343 893h7M425 850h7M386 863h7M445 771h7M310 792h7M322 809h7M319 739h7M361 890h7M320 870h7M391 840h7M338 892h7M576 749h7M305 788h7M275 892h7M455 875h7M618 833h7M379 861h7M240 845h7M500 816h7M261 813h7M391 791h7M363 837h7M243 828h7M506 882h7M444 758h7M378 836h7M435 816h7M243 802h7M358 822h7M441 913h7M155 732h7M459 888h7M258 758h7M118 782h7M504 791h7M543 772h7M261 894h7M505 918h7M406 750h7M503 868h7M648 858h7M562 814h7M421 817h7M247 826h7M304 820h7M356 789h7M317 828h7M447 843h7M479 844h7M643 781h7M553 872h7M230 770h7M728 802h7M398 777h7M344 743h7M165 843h7M418 796h7M705 899h7M400 822h7M474 879h7M458 793h7M540 805h7M305 861h7M295 812h7M488 790h7M530 838h7M314 894h7M456 857h7M536 862h7M347 875h7M684 813h7M598 846h7M489 778h7M384 821h7M235 911h7M344 862h7M408 780h7M274 802h7M541 764h7M621 815h7M350 777h7M299 914h7M365 842h7M470 788h7M542 792h7M256 781h7M489 827h7M342 828h7M223 858h7M248 793h7M562 809h7M220 857h7M317 900h7M601 896h7M116 776h7M420 821h7M422 870h7M177 792h7M340 773h7M355 756h7M474 834h7M356 802h7M326 817h7M426 775h7M543 855h7M223 797h7M405 775h7M368 781h7M390 772h7M521 862h7M317 873h7M198 801h7M368 797h7M616 877h7M583 909h7M254 864h7M397 843h7M179 849h7M373 915h7M651 858h7M463 845h7M429 888h7M548 877h7M344 833h7M489 809h7M306 805h7M318 918h7M658 820h7M21 824h7M480 822h7M298 779h7M524 865h7M295 838h7M420 862h7M217 910h7M545 830h7M298 845h7M204 805h7M151 862h7M493 894h7M226 920h7M218 775h7M398 919h7M373 778h7M413 788h7M355 742h7M643 917h7M239 814h7M304 869h7M361 808h7M596 777h7M400 838h7M505 783h7M452 826h7M798 909h7M308 854h7M584 855h7M393 878h7M431 814h7M490 777h7M567 784h7M307 815h7M379 899h7M270 840h7M33 815h7M683 843h7M418 803h7M389 882h7M286 878h7M364 800h7M562 778h7M436 861h7M416 824h7M251 881h7M313 883h7M398 843h7M143 853h7M327 769h7M401 765h7M613 840h7M163 854h7M213 813h7M503 870h7M66 894h7M697 753h7M425 858h7M476 836h7M169 838h7M477 841h7M267 864h7M367 716h7M397 862h7M426 821h7M503 871h7M402 809h7M549 835h7M438 857h7M322 889h7M457 832h7M338 858h7M506 789h7M346 836h7M351 858h7M152 797h7M459 846h7M329 814h7M491 869h7M481 799h7M269 881h7M459 787h7M344 844h7M499 828h7M721 845h7M140 853h7M367 858h7M646 892h7M375 843h7M378 809h7M257 771h7M28 815h7M498 791h7M483 887h7M569 784h7M474 816h7M260 853h7M138 914h7M430 762h7M592 834h7M451 887h7M468 760h7M631 876h7M328 732h7M372 835h7M524 792h7M339 818h7M296 857h7M339 916h7M485 799h7M293 920h7M435 767h7M279 843h7M321 870h7M422 915h7M428 876h7M291 820h7M320 817h7M518 877h7M332 802h7M391 854h7M377 843h7M306 800h7M357 848h7M613 895h7M361 893h7M413 809h7M435 813h7M336 844h7M248 834h7M268 780h7M350 870h7M457 849h7M81 827h7M259 789h7M407 861h7M242 839h7M490 870h7M364 888h7M257 839h7M367 852h7M193 828h7M514 857h7M433 790h7M350 921h7M246 867h7M449 776h7M278 841h7M527 900h7M482 873h7M296 810h7M363 872h7M627 857h7M475 810h7M521 857h7M321 782h7M493 821h7M219 778h7M478 887h7M519 892h7M361 818h7M450 849h7M342 913h7M355 762h7M424 837h7M450 868h7M412 869h7M454 817h7M257 742h7M197 805h7M451 891h7M73 809h7M172 850h7M213 831h7M490 885h7M478 807h7M797 856h7M352 851h7M346 787h7M375 856h7M208 888h7M523 859h7M270 805h7M286 808h7M416 773h7M323 783h7M457 736h7M488 856h7M494 840h7M388 837h7M389 842h7M245 877h7M189 774h7M182 821h7M523 807h7M205 847h7M542 785h7M381 804h7M344 804h7M398 851h7M602 775h7M202 847h7M450 863h7M327 844h7M250 897h7M113 843h7M262 849h7M262 850h7M393 884h7M504 862h7M444 841h7M356 874h7M617 800h7M309 880h7M397 780h7M347 905h7M480 809h7M455 828h7M390 827h7M474 865h7M430 744h7M305 816h7M519 871h7M327 857h7M309 781h7M489 901h7M399 796h7M734 818h7M510 778h7M326 808h7M325 828h7M443 773h7M483 837h7M184 820h7M567 815h7M564 869h7M614 820h7M226 828h7M479 830h7M659 841h7M455 852h7M375 824h7M573 799h7M211 871h7M386 845h7M456 841h7M338 742h7M406 835h7M519 800h7M507 787h7M391 814h7M241 792h7M198 741h7M278 777h7M329 883h7M298 828h7M769 795h7M372 836h7M380 739h7M481 909h7M227 892h7M321 831h7M476 855h7M304 805h7M530 814h7M314 824h7M428 811h7M589 864h7M542 780h7M417 864h7M417 790h7M495 844h7M345 900h7M529 765h7M548 870h7M436 910h7M369 839h7M251 906h7M318 798h7M354 839h7M509 876h7M407 885h7M451 831h7M231 829h7M415 884h7M551 843h7M311 922h7M153 801h7M488 795h7M594 861h7M494 766h7M335 869h7M477 910h7M408 779h7M302 820h7M546 880h7M270 818h7M665 862h7M713 757h7M653 834h7M528 869h7M303 807h7M361 863h7M527 844h7M450 824h7M317 792h7M369 829h7M292 856h7M450 827h7M390 872h7M567 863h7M493 782h7M352 842h7M579 891h7M100 869h7M212 825h7M321 773h7M469 846h7M646 850h7M503 896h7M437 836h7M398 841h7M168 857h7M321 907h7M540 888h7M322 815h7M395 891h7M313 852h7M149 915h7M370 817h7M315 877h7M237 874h7M373 797h7M357 841h7M419 830h7M400 817h7M421 806h7M367 771h7M301 860h7M384 844h7M396 847h7M522 834h7M403 856h7M307 807h7M503 794h7M393 859h7M504 857h7M677 866h7M502 860h7M231 780h7M276 783h7M464 805h7M335 869h7M424 785h7M331 888h7M284 877h7M389 817h7M346 874h7M327 848h7M463 840h7M310 854h7M364 898h7M557 873h7M509 755h7M399 810h7M370 907h7M426 786h7M228 897h7M295 768h7M540 902h7M271 829h7M611 897h7M486 870h7M393 802h7M335 793h7M413 779h7M501 751h7M458 681h7M572 788h7M460 844h7M315 822h7M472 865h7M497 817h7M387 872h7M282 862h7M299 820h7M473 781h7M285 746h7M631 873h7M498 838h7M166 749h7M259 801h7M409 821h7M236 918h7M380 892h7M516 830h7M483 874h7M258 766h7M498 817h7M529 820h7M307 773h7M482 901h7M319 821h7M227 904h7M554 761h7M548 886h7M278 880h7M57 788h7M531 855h7M320 853h7M447 873h7M227 819h7M464 795h7M539 789h7M417 849h7M503 810h7M439 839h7M525 721h7M328 826h7M324 752h7M143 847h7M340 906h7M358 856h7M248 826h7M530 885h7M362 738h7M786 814h7M475 892h7M291 815h7M397 747h7M493 789h7M538 865h7M593 867h7M339 848h7M528 887h7M392 846h7M522 852h7M382 891h7M393 750h7M315 860h7M449 851h7M161 906h7M331 869h7M337 864h7M530 848h7M417 833h7M397 916h7M303 885h7M359 770h7M525 750h7M363 868h7M477 785h7M459 789h7M197 797h7M425 835h7M392 895h7M157 837h7M240 856h7M522 762h7M443 747h7M338 856h7M521 857h7M173 807h7M578 853h7M324 848h7M593 873h7M346 812h7M332 841h7M365 800h7M532 821h7M504 814h7M354 879h7M375 796h7M399 774h7M624 803h7M395 769h7M534 854h7M291 873h7M186 868h7M430 864h7M462 824h7M431 763h7M566 789h7M494 886h7M638 769h7M281 784h7M546 820h7M262 797h7M381 780h7M231 817h7M519 830h7M585 827h7M221 861h7M282 847h7M306 906h7M150 820h7M380 795h7M360 806h7M213 835h7M96 898h7M198 849h7M424 821h7M191 850h7M390 781h7M420 820h7M481 807h7M380 789h7M419 870h7M582 798h7M312 808h7M392 784h7M556 855h7M238 786h7M51 789h7M180 883h7M182 867h7M364 884h7M388 849h7M89 790h7M666 851h7M557 786h7M367 905h7M456 838h7M302 806h7M320 873h7M294 845h7M434 871h7M326 840h7M334 892h7M627 863h7M351 823h7M475 842h7M447 894h7M337 841h7M341 806h7M545 848h7M328 869h7M484 865h7M341 775h7M348 786h7M590 827h7M170 882h7M304 851h7M318 917h7M451 919h7M307 881h7M410 850h7M483 834h7M652 799h7M522 851h7M214 786h7M621 885h7M396 758h7M268 900h7M425 832h7M267 805h7M344 848h7M277 848h7M331 844h7M70 777h7M560 702h7M401 888h7M502 842h7M444 877h7M381 722h7M569 822h7M564 793h7M346 847h7M499 889h7M347 783h7M329 865h7M451 866h7M403 738h7M378 836h7M128 840h7M282 826h7M405 865h7M483 902h7M478 877h7M320 899h7M454 885h7M230 835h7M450 810h7M635 781h7M362 746h7M259 811h7M529 856h7M376 833h7M393 837h7M463 882h7M349 886h7M486 829h7M300 835h7M294 766h7M430 895h7M450 831h7M421 710h7M479 840h7M385 830h7M308 876h7M454 840h7M188 864h7M392 813h7M517 882h7M466 784h7M541 833h7M361 850h7M362 824h7M331 884h7M329 859h7M421 852h7M521 850h7M389 864h7M598 869h7M455 794h7M130 839h7M480 827h7M334 824h7M407 844h7M301 841h7M326 776h7M663 828h7M531 889h7M350 872h7M298 748h7M347 811h7M315 858h7M477 775h7M546 848h7M196 915h7M456 862h7M389 794h7M363 857h7M500 753h7M300 835h7M288 741h7M386 813h7M304 745h7M331 804h7M504 819h7M231 890h7M561 858h7M357 903h7M486 843h7M264 872h7M366 791h7M344 841h7M295 816h7M527 791h7M451 889h7M529 808h7M202 857h7M389 824h7M349 886h7M206 862h7M545 763h7M417 857h7M603 876h7M337 895h7M613 869h7M169 918h7M589 813h7M513 808h7M256 819h7M242 772h7M742 792h7M331 897h7M566 807h7M463 805h7M427 904h7M391 867h7M248 816h7M258 807h7M303 830h7M530 845h7M158 893h7M269 859h7M463 796h7M394 832h7M344 774h7M277 813h7M304 775h7M253 816h7M337 882h7M278 851h7M203 827h7M578 804h7M130 799h7M504 875h7M344 835h7M324 856h7M239 873h7M274 769h7M340 755h7M126 861h7M530 887h7M417 840h7M393 879h7M390 765h7M540 824h7M394 814h7M495 814h7M310 864h7M623 709h7M309 815h7M257 890h7M308 822h7M515 784h7M602 855h7M444 774h7M674 881h7M261 802h7M299 906h7M333 856h7M567 779h7M273 832h7M395 833h7M241 868h7M420 770h7M283 882h7M789 792h7M498 748h7M327 828h7M505 800h7M387 842h7M313 915h7M462 832h7M201 922h7M248 851h7M377 906h7M146 905h7M467 903h7M435 840h7M425 905h7M324 890h7M387 855h7M305 796h7M364 872h7M305 862h7M309 771h7M304 784h7M59 901h7M289 829h7M508 879h7M583 825h7M318 776h7M401 806h7M563 726h7M182 866h7M444 769h7M446 799h7M364 849h7M378 788h7M362 766h7M647 837h7M44 804h7M423 826h7M426 721h7M296 840h7M439 795h7M392 815h7M407 800h7M545 791h7M278 756h7M421 850h7M515 840h7M321 836h7M557 822h7M280 919h7M174 804h7M248 814h7M404 921h7M528 855h7M342 812h7M385 798h7M388 815h7M475 825h7M261 834h7M375 914h7M270 771h7M452 845h7M503 873h7M91 874h7M420 827h7M366 802h7M487 858h7M294 873h7M395 834h7M230 820h7M496 907h7M695 827h7M425 835h7M597 908h7M598 840h7M358 840h7M404 828h7M415 917h7M532 838h7M304 911h7M491 880h7M280 843h7M480 889h7M390 811h7M341 803h7M458 858h7M372 887h7M426 857h7M691 902h7M222 913h7M297 784h7M291 825h7M394 867h7M330 849h7M364 830h7M284 862h7M293 800h7M647 813h7M727 900h7M372 856h7M405 911h7M172 732h7M340 783h7M493 776h7M449 853h7M366 920h7M636 770h7M787 835h7M369 907h7M257 786h7M510 781h7M280 797h7M387 750h7M540 865h7M448 755h7M281 843h7M514 841h7M285 809h7M599 817h7M395 819h7M145 858h7M280 802h7M501 797h7M636 781h7M444 891h7M357 908h7M701 866h7M221 760h7M533 841h7M192 865h7M163 887h7M251 838h7M504 798h7M369 840h7M452 801h7M301 860h7M597 897h7M409 822h7M467 867h7M222 851h7M386 829h7M234 824h7M486 855h7M179 692h7M493 833h7M535 778h7M471 784h7M564 857h7M600 821h7M356 824h7M331 834h7M333 742h7M394 757h7M367 911h7M365 788h7M624 818h7M405 864h7M337 824h7M593 833h7M245 741h7M386 778h7M468 850h7M482 847h7M227 891h7M213 873h7M233 814h7M284 843h7M550 805h7M382 870h7M439 802h7M281 861h7M324 859h7M479 908h7M440 793h7M355 838h7M522 769h7M316 887h7M320 828h7M336 806h7M314 784h7M500 800h7M198 823h7M450 822h7M148 908h7M163 826h7M392 839h7M431 738h7M373 808h7M537 727h7M281 919h7M565 827h7M313 773h7M398 869h7M290 877h7M258 875h7M191 862h7M355 916h7M480 835h7M344 868h7M505 846h7M591 763h7M528 913h7M399 847h7M428 782h7M283 895h7M236 834h7M618 853h7M278 750h7M468 847h7M588 730h7M423 777h7M322 917h7M446 850h7M600 748h7M271 805h7M278 879h7M329 827h7M497 843h7M501 828h7M321 777h7M406 904h7M513 750h7M241 822h7M378 768h7M452 826h7M487 836h7M485 827h7M211 847h7M387 873h7M320 739h7M426 839h7M453 899h7M383 918h7M427 883h7M682 770h7M638 801h7M521 881h7M404 896h7M664 816h7M313 823h7M165 874h7M371 892h7M274 815h7M92 786h7M253 753h7M342 803h7M336 758h7M443 798h7M476 894h7M475 858h7M244 812h7M490 887h7M605 765h7M363 862h7M365 809h7M456 858h7M474 896h7M398 780h7M448 868h7M271 831h7M161 824h7M316 755h7M340 832h7M383 831h7M322 840h7M270 827h7M419 781h7M457 910h7M357 826h7M342 895h7M401 821h7M320 795h7M455 899h7M322 894h7M138 816h7M630 844h7M444 860h7M511 767h7M369 811h7M374 735h7M404 884h7M411 740h7M377 826h7M283 770h7M473 831h7M402 824h7M649 810h7M291 860h7M347 819h7M388 878h7M145 850h7M283 780h7M136 820h7M310 838h7M414 876h7M412 897h7M531 825h7M425 851h7M527 835h7M465 851h7M107 786h7M415 804h7M196 876h7M480 899h7M562 850h7M574 823h7M440 860h7M399 804h7M218 921h7M493 769h7M426 849h7M361 895h7M225 818h7M218 791h7M332 810h7M503 847h7M392 892h7M281 836h7M498 860h7M536 874h7M427 852h7M365 867h7M431 863h7M378 870h7M468 798h7M254 808h7M556 803h7M697 829h7M123 817h7M283 895h7M200 863h7M400 820h7M448 893h7M319 794h7M419 785h7M422 797h7M292 904h7M390 838h7M244 896h7M337 782h7M319 750h7M303 851h7M253 823h7M437 744h7M389 849h7M118 850h7M379 770h7M404 803h7M465 799h7M426 741h7M697 787h7M296 783h7M181 814h7M467 812h7M284 844h7M413 861h7M355 858h7M664 838h7M265 793h7M602 843h7M452 848h7M409 820h7M260 853h7M399 872h7M412 875h7M348 738h7M232 827h7M324 764h7M363 881h7M371 762h7M208 742h7M414 791h7M374 885h7M582 888h7M431 807h7M336 854h7M263 790h7M236 827h7M301 893h7M370 891h7M254 832h7M359 794h7M622 813h7M141 757h7M428 754h7M414 817h7M443 858h7M437 896h7M393 921h7M350 834h7M365 872h7M278 744h7M303 866h7M405 872h7M417 914h7M301 880h7M239 882h7M670 896h7M460 781h7M511 817h7M427 909h7M492 805h7M528 902h7M575 803h7M390 826h7M467 801h7M508 887h7M196 856h7M399 732h7M446 781h7M280 783h7M320 864h7M545 857h7M455 747h7M391 865h7M329 897h7M421 845h7M834 868h7M269 837h7M185 819h7M538 865h7M464 835h7M278 782h7M581 823h7M566 781h7M305 780h7M396 805h7M464 769h7M540 824h7M322 921h7M436 846h7M230 919h7M482 882h7M539 856h7M38 807h7M242 882h7M443 846h7M189 813h7M403 835h7M474 874h7M414 855h7M489 902h7M538 872h7M359 880h7M336 876h7M276 867h7M166 834h7M380 809h7M401 817h7M371 794h7M269 876h7M342 774h7M524 834h7M422 797h7M555 799h7M454 875h7M341 849h7M685 887h7M278 795h7M181 813h7M315 846h7M428 874h7M500 867h7M432 907h7M325 777h7M582 831h7M447 806h7M337 763h7M622 794h7M565 891h7M289 793h7M558 749h7M436 910h7M368 879h7M553 810h7M320 790h7M415 828h7M565 800h7M429 805h7M224 876h7M317 798h7M434 827h7M310 803h7M405 877h7M494 831h7M329 895h7M240 776h7M447 806h7M619 825h7M386 843h7M461 816h7M449 809h7M244 820h7M465 771h7M478 818h7M460 853h7M302 793h7M265 888h7M293 821h7M549 866h7M523 779h7M426 808h7M620 912h7M308 842h7M521 849h7M346 861h7M134 885h7M512 808h7M442 785h7M218 831h7M234 325h7M156 645h7M242 580h7M80 413h7M137 492h7M115 305h7M58 495h7M305 378h7M172 503h7M303 460h7M209 299h7M113 460h7M258 429h7M216 374h7M301 433h7M226 532h7M167 445h7M207 372h7M166 363h7M114 386h7M156 226h7M242 338h7M118 350h7M239 196h7M256 659h7M188 408h7M157 581h7M227 401h7M147 411h7M227 419h7M215 225h7M174 284h7M149 472h7M122 360h7M170 455h7M110 435h7M171 257h7M189 283h7M157 298h7M207 215h7M238 286h7M98 398h7M175 545h7M125 562h7M136 481h7M163 337h7M241 311h7M249 619h7M141 439h7M175 319h7M164 289h7M163 680h7M277 516h7M234 458h7M67 412h7M202 397h7M219 535h7M108 486h7M268 609h7M230 220h7M278 520h7M100 430h7M159 520h7M132 477h7M135 173h7M136 408h7M96 581h7M182 506h7M85 290h7M238 213h7M221 570h7M39 402h7M127 465h7M193 322h7M333 576h7M156 386h7M263 409h7M306 299h7M185 434h7M106 443h7M103 286h7M71 331h7M189 476h7M189 270h7M133 451h7M268 543h7M141 410h7M187 252h7M236 418h7M231 562h7M214 430h7M212 267h7M198 518h7M251 475h7M241 596h7M122 580h7M209 512h7M181 389h7M162 170h7M268 193h7M189 399h7M198 343h7M249 427h7M121 284h7M146 290h7M162 533h7M118 434h7M195 425h7M122 598h7M196 333h7M182 469h7M182 302h7M210 369h7M160 422h7M223 397h7M158 324h7M181 377h7M175 526h7M227 325h7M193 263h7M419 713h7M188 838h7M271 637h7M194 743h7M221 628h7M377 735h7M353 723h7M271 592h7M416 694h7M257 799h7M382 628h7M327 690h7M380 761h7M296 641h7M329 728h7M289 781h7M95 841h7M473 608h7M342 709h7M302 745h7M288 770h7M243 841h7M247 664h7M299 717h7M368 676h7M319 799h7M312 647h7M359 786h7M240 704h7M377 633h7M264 660h7M344 685h7M247 720h7M371 688h7M206 758h7M442 683h7M260 764h7M261 602h7M236 818h7M213 765h7M275 729h7M178 754h7M374 730h7M285 706h7M129 870h7M298 655h7M337 791h7M312 785h7M250 676h7M282 773h7M93 797h7M188 710h7M118 786h7M183 787h7M347 657h7M390 699h7M411 728h7M244 668h7M326 594h7M267 731h7M323 716h7M308 719h7M227 798h7M383 707h7M256 632h7M245 746h7M271 684h7M242 738h7M156 714h7M283 754h7M326 696h7M352 654h7M269 653h7M425 742h7M246 796h7M249 778h7M106 779h7M426 599h7M385 756h7M402 636h7M171 832h7M351 802h7M165 695h7M390 595h7M284 749h7M263 645h7M299 699h7M276 701h7M421 704h7M386 598h7M179 791h7M366 718h7M101 759h7M444 585h7M255 797h7M273 777h7M291 634h7M478 540h7M353 785h7M293 731h7M342 662h7M266 741h7M373 674h7M248 772h7M264 825h7M270 814h7M389 633h7M309 685h7M277 711h7M175 877h7M371 744h7M265 630h7M318 686h7M274 705h7M320 774h7M314 780h7M163 762h7M157 738h7M276 740h7M160 821h7M348 707h7M298 656h7M384 660h7M352 723h7M345 715h7M243 782h7M317 662h7M367 660h7M375 685h7M316 544h7M285 711h7M240 780h7M268 759h7M256 716h7M383 666h7M388 712h7M280 722h7M248 662h7M356 715h7M396 573h7M346 647h7M198 890h7M168 806h7M423 702h7M368 716h7M258 785h7M292 730h7M288 771h7M300 725h7M219 714h7M366 705h7M242 757h7M206 820h7M387 739h7M302 799h7M391 623h7M320 727h7M370 781h7M427 623h7M318 672h7M381 652h7M251 713h7M330 659h7M105 913h7M286 698h7M229 764h7M160 736h7M347 814h7M297 664h7M332 630h7M183 835h7M318 674h7M466 640h7M347 785h7M195 706h7M351 789h7M310 686h7M243 595h7M231 763h7M311 686h7M127 733h7M379 816h7M354 665h7M338 595h7M355 687h7M396 727h7M184 828h7M311 700h7M342 674h7M353 675h7M264 670h7M291 748h7M353 710h7M345 773h7M439 590h7M158 889h7M301 785h7M277 783h7M320 697h7M302 758h7M246 731h7M318 767h7M194 774h7M213 722h7M214 753h7M313 660h7M358 731h7M393 658h7M191 730h7M276 871h7M386 677h7M298 793h7M406 631h7M414 687h7M257 713h7M261 779h7M304 738h7M240 882h7M295 596h7M275 737h7M441 737h7M298 617h7M250 797h7M298 725h7M316 735h7M129 776h7M208 742h7M184 677h7M281 703h7M334 686h7M226 715h7M168 877h7M350 700h7M260 810h7M290 746h7M337 642h7M370 674h7M255 734h7M217 738h7M201 824h7M221 798h7M306 699h7M509 638h7M333 655h7M249 720h7M282 803h7M266 800h7M182 834h7M294 814h7M324 711h7M308 702h7M234 772h7M294 781h7M241 832h7M269 739h7M153 796h7M354 759h7M272 768h7M87 845h7M277 693h7M348 688h7M532 607h7M226 773h7M420 660h7M220 823h7M376 689h7M354 681h7M281 713h7M208 790h7M215 796h7M382 710h7M416 691h7M277 705h7M280 801h7M245 689h7M305 602h7M258 783h7M382 717h7M367 643h7M335 676h7M220 815h7M183 836h7M255 712h7M404 630h7M357 721h7M286 802h7M370 804h7M344 703h7M227 783h7M418 611h7M386 664h7M204 632h7M273 627h7M364 753h7M429 671h7M403 627h7M222 823h7M258 733h7M398 640h7M242 706h7M321 699h7M272 822h7M345 671h7M191 890h7M195 812h7M221 827h7M456 640h7M455 568h7M443 701h7M251 686h7M224 823h7M330 755h7M273 729h7M208 722h7M340 659h7M215 800h7M389 626h7M318 548h7M270 657h7M192 834h7M294 747h7M297 671h7M348 672h7M305 698h7M295 856h7M192 709h7M249 693h7M300 718h7M333 725h7M276 705h7M181 829h7M208 770h7M258 707h7M343 662h7M271 724h7M209 762h7M286 749h7M283 798h7M406 652h7M295 767h7M251 792h7M293 694h7M334 580h7M146 805h7M264 754h7M212 838h7M246 631h7M265 773h7M405 654h7M354 714h7M319 777h7M212 787h7M319 745h7M340 718h7M170 724h7M160 811h7M398 647h7M379 699h7M301 621h7M377 721h7M370 698h7M486 615h7M77 817h7M324 764h7M390 693h7M323 751h7M243 777h7M190 752h7M403 685h7M460 685h7M140 780h7M209 796h7M347 705h7M363 760h7M251 747h7M182 778h7M384 638h7M404 635h7M146 825h7M299 787h7M335 611h7M290 698h7M404 683h7M321 739h7M338 658h7M317 659h7M184 771h7M475 659h7M251 774h7M296 697h7M401 690h7M353 675h7M283 713h7M124 861h7M299 721h7M388 713h7M284 759h7M181 761h7M396 638h7M474 641h7M517 302h7M672 553h7M561 293h7M535 409h7M418 307h7M486 135h7M583 385h7M385 109h7M393 137h7M579 465h7M568 396h7M469 300h7M518 427h7M474 460h7M512 362h7M617 164h7M601 188h7M746 441h7M669 306h7M564 457h7M506 202h7M626 387h7M558 98h7M555 392h7M602 357h7M529 446h7M467 84h7M580 161h7M493 227h7M461 364h7M586 504h7M431 450h7M398 149h7M716 251h7M603 477h7M499 393h7M554 153h7M529 384h7M458 384h7M458 412h7M408 318h7M571 360h7M654 431h7M669 353h7M545 440h7M673 415h7M545 398h7M638 273h7M675 398h7M490 426h7M549 248h7M513 208h7M469 369h7M547 393h7M646 223h7M671 359h7M481 558h7M532 79h7M718 362h7M478 343h7" stroke="#000" stroke-width="7" fill="none" opacity="0.6"/>
<rect x="0" y="0" width="93.25" height="92.5" fill="none" stroke="#555" stroke-width="0.75"/>
<line x1="29.58" y1="0.00" x2="29.58" y2="58.28" stroke="#1e1e1e" stroke-width="0.85"/>
<line x1="29.58" y1="52.82" x2="49.38" y2="52.82" stroke="#1e1e1e" stroke-width="0.85"/>
<line x1="49.38" y1="52.82" x2="41.36" y2="69.44" stroke="#1e1e1e" stroke-width="0.85"/>
<line x1="29.58" y1="58.28" x2="0.00" y2="75.14" stroke="#1e1e1e" stroke-width="0.85"/>
<line x1="41.36" y1="69.44" x2="93.25" y2="69.44" stroke="#1e1e1e" stroke-width="0.85"/>
<line x1="41.36" y1="69.44" x2="27.07" y2="92.50" stroke="#1e1e1e" stroke-width="0.85"/>
<text x="2.00" y="5.00" font-size="4.00" font-weight="normal" fill="#222">0.73</text>
<text x="91.65" y="5.00" font-size="4.00" font-weight="normal" fill="#222" text-anchor="end">0.18</text>
<text x="91.65" y="81.54" font-size="4.20" font-weight="normal" fill="#222" text-anchor="end">21.50</text>
<text x="-2.3" y="24.26" font-size="4.0" font-weight="normal" fill="#333" text-anchor="end">10<tspan font-size="2.6" dy="-1.6">2</tspan></text>
<line x1="-1.6" y1="23.06" x2="0" y2="23.06" stroke="#777" stroke-width="0.5"/>
<text x="-2.3" y="47.82" font-size="4.0" font-weight="normal" fill="#333" text-anchor="end">10<tspan font-size="2.6" dy="-1.6">1</tspan></text>
<line x1="-1.6" y1="46.62" x2="0" y2="46.62" stroke="#777" stroke-width="0.5"/>
<text x="-2.3" y="70.88" font-size="4.0" font-weight="normal" fill="#333" text-anchor="end">10<tspan font-size="2.6" dy="-1.6">0</tspan></text>
<line x1="-1.6" y1="69.68" x2="0" y2="69.68" stroke="#777" stroke-width="0.5"/>
<text x="-2.3" y="93.70" font-size="3.8" font-weight="normal" fill="#333" text-anchor="end">0.19</text>
<text x="0.00" y="98.70" font-size="4.0" font-weight="normal" fill="#333" text-anchor="middle">0</text>
<line x1="0.00" y1="92.50" x2="0.00" y2="94.10" stroke="#777" stroke-width="0.5"/>
<text x="23.31" y="98.70" font-size="4.0" font-weight="normal" fill="#333" text-anchor="middle">10<tspan font-size="2.6" dy="-1.6">0</tspan></text>
<line x1="23.31" y1="92.50" x2="23.31" y2="94.10" stroke="#777" stroke-width="0.5"/>
<text x="46.37" y="98.70" font-size="4.0" font-weight="normal" fill="#333" text-anchor="middle">10<tspan font-size="2.6" dy="-1.6">1</tspan></text>
<line x1="46.37" y1="92.50" x2="46.37" y2="94.10" stroke="#777" stroke-width="0.5"/>
<text x="69.69" y="98.70" font-size="4.0" font-weight="normal" fill="#333" text-anchor="middle">10<tspan font-size="2.6" dy="-1.6">2</tspan></text>
<line x1="69.69" y1="92.50" x2="69.69" y2="94.10" stroke="#777" stroke-width="0.5"/>
</g>
<g transform="translate(386.25,256.25)">
<clipPath id="fc386"><rect x="0" y="0" width="92" height="91.75"/></clipPath><g clip-path="url(#fc386)">
<rect x="2" y="77.5" width="24" height="15.0" rx="4.5" fill="#000" opacity="0.9" filter="url(#blur2)"/>
</g>
<path transform="scale(0.1)" d="M165 843h7M154 827h7M193 826h7M149 846h7M121 883h7M219 811h7M313 817h7M148 854h7M219 867h7M253 882h7M129 709h7M98 909h7M141 868h7M240 908h7M102 797h7M262 858h7M219 864h7M69 798h7M160 737h7M87 828h7M161 777h7M95 830h7M117 830h7M107 876h7M164 885h7M228 871h7M166 872h7M193 864h7M283 837h7M245 822h7M285 796h7M155 854h7M99 893h7M69 835h7M152 896h7M139 837h7M139 896h7M33 783h7M220 874h7M47 884h7M161 747h7M139 836h7M208 856h7M153 871h7M295 855h7M295 885h7M87 865h7M151 836h7M224 888h7M138 781h7M294 889h7M163 814h7M95 834h7M133 861h7M167 865h7M239 907h7M109 825h7M157 867h7M207 787h7M126 773h7M224 841h7M193 889h7M213 853h7M109 775h7M39 899h7M81 894h7M119 898h7M118 840h7M90 857h7M116 814h7M176 828h7M117 809h7M238 804h7M198 820h7M176 857h7M101 806h7M287 816h7M182 806h7M229 771h7M195 805h7M120 838h7M121 870h7M125 905h7M217 894h7M190 840h7M21 826h7M198 834h7M26 844h7M104 783h7M253 879h7M153 849h7M130 836h7M142 790h7M71 832h7M143 890h7M206 855h7M204 905h7M64 846h7M75 908h7M156 861h7M148 909h7M139 800h7M62 858h7M20 797h7M210 741h7M182 794h7M43 872h7M150 897h7M160 884h7M272 863h7M252 840h7M265 805h7M122 849h7M235 833h7M93 727h7M69 906h7M323 821h7M75 769h7M256 879h7M108 869h7M299 818h7M152 907h7M187 827h7M86 911h7M63 877h7M70 759h7M322 784h7M117 889h7M37 880h7M208 776h7M72 865h7M108 647h7M137 851h7M77 843h7M173 910h7M29 876h7M133 790h7M210 843h7M225 782h7M39 824h7M20 809h7M217 806h7M221 852h7M185 789h7M134 899h7M197 798h7M109 824h7M197 733h7M250 765h7M184 727h7M41 796h7M143 847h7M141 785h7M171 867h7M78 858h7M98 882h7M97 835h7M48 837h7M166 808h7M88 912h7M254 854h7M100 908h7M154 852h7M239 843h7M240 785h7M82 819h7M110 749h7M117 795h7M103 851h7M226 886h7M190 911h7M128 881h7M103 900h7M63 858h7M158 800h7M49 861h7M129 833h7M196 775h7M293 835h7M154 793h7M187 826h7M190 904h7M95 836h7M150 893h7M266 851h7M200 815h7M328 908h7M173 890h7M353 894h7M298 850h7M206 839h7M293 662h7M111 830h7M53 832h7M188 902h7M205 852h7M155 843h7M103 913h7M210 747h7M256 785h7M291 841h7M183 810h7M41 780h7M116 826h7M206 781h7M195 909h7M208 875h7M171 892h7M91 876h7M179 898h7M121 892h7M200 789h7M142 763h7M157 907h7M15 878h7M108 853h7M168 838h7M118 796h7M298 739h7M255 866h7M104 840h7M190 895h7M138 896h7M92 757h7M194 865h7M91 785h7M333 860h7M140 882h7M207 833h7M118 845h7M137 912h7M262 793h7M238 827h7M190 806h7M106 788h7M158 877h7M201 814h7M81 914h7M9 842h7M103 788h7M109 853h7M128 847h7M293 811h7M165 840h7M110 787h7M64 883h7M96 764h7M34 911h7M173 836h7M52 853h7M166 763h7M145 811h7M132 818h7M90 835h7M67 877h7M50 763h7M57 784h7M194 885h7M63 838h7M208 788h7M115 816h7M160 816h7M93 868h7M109 875h7M153 865h7M113 884h7M186 793h7M46 782h7M81 760h7M29 891h7M268 856h7M267 791h7M147 884h7M175 821h7M113 815h7M126 791h7M305 854h7M172 864h7M144 857h7M115 831h7M179 833h7M195 839h7M101 824h7M129 696h7M201 817h7M157 817h7M108 859h7M167 821h7M153 830h7M132 820h7M109 794h7M178 751h7M107 808h7M55 848h7M82 856h7M137 908h7M46 846h7M224 855h7M28 819h7M80 847h7M226 790h7M90 818h7M110 849h7M25 881h7M144 809h7M207 896h7M105 832h7M190 861h7M104 896h7M38 851h7M86 825h7M162 826h7M129 863h7M242 795h7M116 819h7M71 826h7M176 831h7M115 770h7M256 782h7M193 849h7M164 895h7M125 808h7M97 842h7M36 894h7M68 841h7M129 852h7M173 839h7M312 825h7M175 888h7M271 739h7M93 859h7M176 782h7M89 871h7M214 851h7M216 907h7M134 894h7M109 840h7M125 880h7M149 874h7M270 851h7M71 807h7M300 871h7M112 886h7M138 859h7M196 738h7M236 827h7M266 815h7M158 853h7M69 837h7M272 843h7M136 836h7M56 890h7M45 800h7M115 858h7M124 884h7M105 866h7M264 858h7M211 897h7M133 880h7M55 773h7M109 851h7M197 809h7M118 875h7M28 833h7M257 899h7M109 841h7M66 857h7M155 834h7M84 909h7M105 852h7M98 806h7M96 855h7M274 799h7M148 897h7M95 842h7M270 793h7M186 892h7M254 898h7M98 848h7M135 813h7M185 866h7M116 799h7M306 757h7M59 847h7M194 776h7M128 759h7M128 864h7M137 873h7M333 894h7M94 870h7M236 855h7M183 832h7M205 814h7M88 886h7M122 846h7M210 858h7M127 820h7M165 805h7M46 753h7M102 755h7M211 876h7M178 810h7M338 883h7M275 847h7M278 798h7M77 819h7M153 835h7M75 886h7M192 856h7M126 890h7M188 778h7M108 868h7M80 872h7M104 833h7M86 868h7M127 903h7M185 867h7M237 907h7M78 766h7M212 866h7M80 864h7M264 872h7M146 849h7M80 844h7M136 870h7M212 784h7M150 820h7M188 837h7M146 869h7M326 847h7M231 812h7M171 898h7M182 865h7M331 856h7M179 875h7M168 859h7M228 842h7M102 796h7M136 872h7M331 878h7M82 894h7M232 882h7M112 845h7M95 818h7M99 815h7M137 887h7M119 813h7M113 914h7M129 803h7M235 861h7M210 860h7M84 825h7M151 755h7M112 865h7M238 865h7M31 850h7M192 824h7M205 781h7M118 815h7M110 754h7M26 832h7M33 843h7M66 819h7M119 812h7M98 855h7M228 803h7M179 775h7M287 899h7M181 726h7M37 862h7M180 892h7M189 912h7M218 865h7M171 831h7M190 725h7M171 911h7M157 859h7M152 854h7M127 886h7M165 888h7M206 780h7M140 859h7M140 815h7M286 837h7M295 913h7M160 848h7M92 820h7M265 858h7M25 845h7M273 855h7M252 898h7M110 853h7M139 830h7M65 841h7M164 797h7M36 886h7M163 752h7M97 846h7M124 765h7M86 832h7M72 873h7M184 894h7M102 800h7M108 882h7M217 801h7M138 823h7M46 803h7M204 872h7M42 801h7M177 857h7M112 897h7M134 819h7M97 880h7M162 801h7M190 895h7M155 790h7M161 891h7M252 906h7M204 782h7M175 904h7M217 891h7M154 892h7M201 821h7M154 910h7M118 858h7M13 797h7M150 892h7M178 865h7M40 806h7M169 877h7M129 833h7M63 829h7M117 836h7M213 837h7M134 754h7M7 845h7M5 825h7M161 908h7M184 775h7M212 875h7M214 845h7M170 848h7M201 780h7M215 837h7M189 849h7M49 870h7M183 863h7M230 859h7M182 837h7M78 900h7M292 872h7M227 816h7M132 902h7M55 900h7M253 853h7M188 766h7M244 777h7M55 799h7M265 897h7M123 849h7M175 836h7M174 876h7M187 901h7M139 803h7M234 827h7M127 859h7M60 842h7M140 779h7M251 834h7M174 830h7M230 887h7M149 852h7M77 753h7M125 776h7M235 786h7M194 825h7M181 874h7M187 854h7M121 820h7M278 831h7M211 811h7M198 841h7M229 860h7M240 798h7M143 833h7M13 868h7M223 804h7M112 828h7M124 882h7M119 841h7M127 837h7M63 842h7M176 859h7M249 711h7M143 868h7M55 841h7M131 771h7M172 844h7M137 833h7M145 858h7M149 850h7M50 782h7M179 871h7M223 880h7M171 793h7M158 889h7M372 858h7M177 883h7M316 879h7M86 856h7M29 850h7M62 772h7M71 894h7M139 762h7M163 853h7M118 834h7M147 730h7M89 759h7M63 807h7M112 725h7M248 793h7M199 894h7M201 758h7M111 844h7M192 842h7M260 831h7M88 902h7M167 833h7M106 731h7M124 838h7M142 804h7M141 830h7M94 869h7M105 717h7M240 843h7M270 854h7M175 782h7M217 738h7M120 914h7M110 892h7M164 760h7M239 806h7M166 800h7M41 830h7M223 779h7M321 878h7M178 853h7M14 895h7M166 843h7M127 789h7M180 886h7M126 882h7M184 843h7M86 830h7M117 773h7M186 836h7M157 895h7M80 726h7M50 771h7M75 885h7M102 782h7M171 884h7M283 805h7M121 859h7M104 853h7M152 851h7M201 842h7M224 830h7M102 826h7M287 845h7M151 879h7M108 805h7M92 827h7M279 853h7M138 851h7M84 840h7M177 823h7M291 862h7M66 881h7M275 805h7M150 843h7M240 858h7M215 890h7M46 872h7M21 821h7M247 794h7M100 867h7M176 810h7M60 793h7M210 892h7M83 812h7M65 825h7M235 858h7M202 722h7M230 842h7M264 854h7M201 900h7M126 853h7M77 865h7M158 824h7M60 800h7M124 879h7M133 855h7M168 817h7M149 828h7M156 740h7M22 874h7M269 723h7M133 815h7M225 847h7M209 849h7M299 774h7M278 875h7M109 862h7M192 803h7M191 888h7M69 883h7M164 796h7M173 848h7M273 759h7M120 894h7M65 848h7M257 914h7M68 859h7M66 866h7M78 870h7M157 880h7M169 883h7M179 788h7M117 872h7M139 734h7M81 864h7M311 814h7M147 884h7M148 801h7M117 903h7M126 839h7M277 816h7M291 870h7M110 907h7M140 769h7M299 835h7M57 862h7M154 864h7M206 806h7M97 846h7M226 812h7M33 899h7M206 869h7M56 813h7M190 809h7M277 863h7M113 914h7M153 864h7M141 835h7M37 758h7M145 830h7M287 864h7M140 911h7M256 773h7M135 870h7M54 914h7M167 766h7M261 820h7M112 839h7M268 813h7M141 822h7M128 774h7M28 825h7M49 803h7M90 835h7M138 822h7M289 859h7M289 852h7M236 850h7M156 838h7M186 776h7M252 838h7M137 848h7M214 852h7M65 875h7M278 852h7M187 816h7M177 833h7M170 797h7M114 793h7M185 848h7M115 822h7M105 790h7M140 858h7M254 881h7M65 840h7M211 818h7M136 856h7M116 821h7M192 901h7M14 779h7M265 788h7M35 833h7M98 884h7M87 786h7M217 862h7M122 856h7M171 876h7M97 896h7M187 827h7M248 787h7M186 833h7M298 764h7M200 778h7M198 844h7M103 898h7M48 811h7M130 773h7M237 856h7M162 855h7M147 771h7M179 789h7M165 811h7M123 794h7M127 765h7M184 833h7M177 812h7M31 807h7M81 879h7M62 891h7M176 783h7M220 895h7M279 842h7M139 825h7M137 848h7M224 867h7M36 802h7M49 767h7M151 860h7M297 865h7M72 854h7M154 780h7M88 757h7M203 828h7M181 870h7M154 901h7M98 821h7M117 767h7M10 787h7M59 818h7M189 884h7M266 815h7M68 808h7M183 844h7M271 831h7M27 895h7M147 898h7M236 877h7M299 892h7M113 876h7M259 857h7M130 759h7M119 859h7M225 877h7M77 821h7M42 899h7M241 852h7M171 789h7M151 907h7M168 803h7M195 790h7M298 782h7M148 876h7M197 815h7M167 826h7M248 830h7M201 864h7M215 832h7M230 862h7M223 861h7M265 806h7M100 820h7M191 857h7M190 802h7M197 892h7M222 839h7M72 853h7M204 863h7M192 899h7M393 843h7M188 875h7M138 817h7M101 825h7M168 883h7M134 897h7M39 857h7M132 810h7M121 782h7M274 912h7M228 876h7M158 818h7M130 846h7M13 763h7M157 816h7M192 894h7M78 828h7M150 856h7M133 882h7M144 832h7M117 849h7M225 767h7M277 805h7M63 886h7M287 870h7M147 874h7M225 839h7M128 893h7M54 890h7M254 802h7M119 852h7M236 867h7M78 803h7M77 873h7M111 840h7M336 688h7M156 897h7M279 897h7M36 851h7M127 862h7M227 825h7M254 808h7M124 896h7M74 866h7M178 802h7M276 769h7M233 892h7M183 891h7M102 840h7M229 825h7M43 822h7M78 912h7M228 809h7M139 832h7M70 839h7M138 895h7M103 815h7M280 906h7M348 885h7M86 869h7M186 909h7M190 807h7M202 814h7M227 852h7M114 840h7M104 801h7M124 903h7M51 814h7M110 904h7M119 900h7M193 852h7M66 861h7M55 880h7M22 906h7M106 818h7M104 791h7M107 877h7M211 814h7M166 791h7M221 803h7M176 904h7M231 859h7M234 854h7M357 877h7M151 900h7M112 860h7M11 829h7M235 900h7M292 832h7M158 816h7M127 815h7M79 822h7M153 844h7M214 887h7M88 829h7M193 853h7M294 833h7M14 859h7M75 833h7M71 767h7M227 906h7M226 881h7M199 882h7M192 730h7M121 796h7M170 875h7M219 846h7M222 840h7M123 913h7M189 796h7M101 827h7M36 868h7M306 808h7M157 815h7M152 843h7M94 817h7M162 841h7M112 913h7M211 785h7M271 820h7M111 819h7M87 837h7M148 879h7M178 769h7M161 816h7M104 866h7M154 872h7M136 848h7M84 834h7M136 864h7M181 826h7M135 863h7M189 858h7M28 892h7M150 889h7M23 877h7M280 851h7M146 876h7M192 854h7M129 799h7M172 864h7M170 778h7M126 861h7M28 817h7M173 890h7M203 841h7M119 839h7M92 910h7M144 809h7M52 838h7M222 897h7M163 846h7M337 762h7M68 809h7M171 851h7M288 832h7M75 890h7M95 900h7M112 880h7M349 790h7M204 856h7M59 776h7M190 813h7M117 787h7M175 796h7M17 912h7M164 754h7M183 847h7M185 866h7M168 874h7M119 878h7M219 814h7M66 879h7M208 834h7M83 839h7M193 757h7M264 888h7M338 857h7M133 840h7M289 860h7M199 831h7M253 831h7M132 882h7M146 897h7M94 780h7M246 816h7M102 847h7M100 787h7M176 867h7M181 815h7M133 876h7M12 729h7M232 757h7M217 774h7M156 833h7M111 767h7M253 870h7M78 831h7M181 691h7M194 883h7M202 914h7M135 891h7M121 893h7M304 824h7M85 828h7M6 854h7M29 860h7M152 895h7M239 835h7M5 755h7M125 863h7M163 783h7M107 824h7M200 870h7M258 813h7M166 837h7M198 914h7M224 753h7M47 844h7M196 807h7M96 843h7M194 869h7M160 883h7M162 884h7M203 914h7M175 893h7M309 779h7M167 795h7M197 862h7M137 887h7M111 763h7M96 740h7M164 899h7M158 833h7M208 886h7M122 898h7M256 875h7M233 805h7M37 829h7M117 896h7M162 769h7M193 876h7M183 847h7M129 830h7M284 886h7M49 869h7M115 856h7M96 869h7M162 802h7M179 868h7M153 791h7M188 787h7M150 854h7M251 865h7M106 804h7M110 792h7M194 785h7M179 821h7M185 812h7M44 778h7M175 836h7M92 907h7M208 862h7M178 849h7M147 825h7M37 890h7M229 887h7M301 815h7M226 899h7M179 864h7M89 821h7M127 859h7M211 867h7M220 855h7M161 843h7M233 749h7M300 836h7M159 846h7M207 741h7M197 883h7M206 843h7M257 886h7M107 867h7M70 833h7M118 746h7M107 828h7M100 779h7M212 805h7M223 816h7M82 820h7M143 854h7M141 790h7M60 816h7M155 872h7M151 811h7M194 810h7M190 840h7M103 885h7M158 809h7M26 818h7M89 819h7M67 848h7M159 910h7M130 910h7M140 846h7M240 866h7M187 836h7M179 833h7M201 775h7M165 805h7M236 816h7M191 887h7M121 825h7M130 795h7M202 868h7M91 814h7M152 827h7M149 796h7M133 892h7M141 825h7M186 864h7M233 789h7M293 818h7M187 677h7M206 880h7M27 742h7M183 900h7M112 833h7M209 825h7M60 824h7M179 779h7M181 812h7M205 862h7M369 841h7M116 837h7M218 853h7M143 871h7M151 874h7M274 794h7M133 823h7M19 908h7M252 882h7M161 837h7M239 770h7M126 835h7M59 829h7M240 791h7M85 815h7M239 835h7M14 819h7M262 897h7M174 813h7M172 846h7M155 833h7M228 884h7M119 832h7M224 863h7M168 790h7M193 825h7M113 853h7M252 811h7M206 882h7M102 846h7M157 732h7M186 826h7M216 896h7M12 883h7M190 853h7M235 875h7M189 875h7M146 802h7M213 894h7M80 792h7M109 914h7M100 815h7M66 869h7M177 841h7M174 885h7M183 830h7M220 829h7M120 833h7M155 865h7M73 792h7M40 693h7M226 839h7M177 822h7M70 862h7M117 851h7M63 824h7M227 841h7M178 801h7M272 788h7M143 790h7M142 768h7M103 841h7M94 897h7M87 813h7M122 869h7M170 791h7M107 844h7M290 831h7M240 822h7M287 814h7M115 792h7M251 789h7M195 891h7M123 809h7M95 809h7M177 764h7M98 834h7M125 793h7M118 844h7M139 866h7M118 765h7M123 834h7M200 773h7M320 871h7M101 856h7M151 838h7M124 714h7M107 806h7M180 852h7M161 809h7M259 880h7M239 861h7M108 874h7M35 847h7M174 885h7M219 819h7M201 824h7M160 882h7M147 783h7M147 754h7M132 881h7M164 902h7M191 880h7M50 852h7M178 750h7M97 818h7M168 731h7M118 832h7M17 856h7M210 857h7M175 890h7M175 818h7M245 814h7M75 755h7M281 831h7M277 832h7M170 801h7M95 844h7M265 812h7M170 765h7M153 903h7M175 812h7M123 827h7M193 866h7M171 732h7M129 816h7M211 881h7M192 766h7M121 765h7M130 704h7M205 815h7M42 760h7M174 823h7M167 808h7M51 862h7M268 755h7M209 802h7M82 800h7M126 823h7M103 791h7M97 750h7M146 861h7M124 772h7M277 798h7M296 883h7M171 850h7M139 853h7M44 869h7M103 800h7M104 779h7M170 818h7M292 790h7M122 893h7M270 873h7M172 844h7M182 861h7M152 823h7M94 894h7M134 760h7M195 859h7M83 908h7M125 797h7M65 840h7M132 847h7M94 831h7M214 889h7M86 864h7M77 850h7M144 829h7M241 784h7M154 881h7M147 833h7M202 809h7M156 830h7M213 807h7M156 896h7M23 787h7M177 790h7M241 785h7M97 850h7M172 746h7M151 835h7M163 856h7M110 812h7M148 882h7M148 862h7M234 871h7M114 831h7M13 747h7M22 868h7M21 891h7M118 859h7M62 770h7M116 807h7M108 885h7M288 859h7M177 912h7M252 826h7M46 753h7M128 764h7M64 864h7M192 885h7M266 839h7M155 866h7M15 859h7M134 890h7M229 800h7M265 796h7M118 801h7M143 850h7M63 853h7M14 768h7M113 853h7M247 876h7M87 805h7M185 862h7M166 789h7M111 857h7M92 783h7M18 853h7M122 766h7M185 757h7M204 892h7M159 846h7M155 806h7M24 900h7M46 730h7M94 887h7M112 866h7M35 821h7M94 854h7M123 909h7M156 879h7M147 850h7M42 866h7M220 804h7M70 884h7M166 772h7M266 880h7M37 814h7M141 877h7M110 823h7M85 862h7M213 789h7M158 885h7M247 864h7M47 854h7M130 824h7M144 860h7M247 875h7M116 808h7M184 816h7M134 855h7M102 795h7M58 773h7M100 913h7M128 907h7M310 786h7M68 728h7M113 801h7M342 877h7M40 851h7M192 832h7M90 850h7M269 841h7M205 904h7M174 864h7M236 913h7M162 830h7M183 860h7M22 826h7M144 793h7M231 809h7M6 896h7M197 813h7M194 813h7M196 854h7M131 891h7M252 845h7M60 790h7M271 823h7M138 762h7M85 815h7M203 802h7M115 813h7M289 795h7M113 760h7M49 851h7M164 854h7M209 910h7M145 838h7M38 869h7M182 900h7M105 822h7M146 853h7M97 804h7M198 833h7M237 785h7M137 848h7M194 825h7M133 816h7M104 893h7M164 824h7M124 865h7M86 790h7M133 768h7M220 884h7M246 873h7M12 798h7M85 852h7M235 851h7M48 912h7M79 805h7M122 809h7M225 858h7M294 783h7M150 818h7M181 799h7M192 878h7M158 910h7M183 860h7M13 903h7M194 838h7M211 856h7M22 872h7M68 824h7M167 882h7M180 817h7M194 788h7M270 870h7M206 895h7M119 756h7M74 880h7M210 888h7M256 831h7M86 746h7M148 888h7M42 757h7M276 901h7M166 785h7M226 842h7M77 760h7M169 851h7M171 861h7M23 848h7M84 839h7M122 808h7M193 899h7M176 761h7M226 797h7M141 840h7M47 768h7M233 752h7M182 837h7M22 754h7M52 896h7M153 903h7M229 801h7M47 887h7M205 885h7M140 865h7M185 813h7M35 710h7M190 881h7M30 840h7M157 894h7M182 768h7M196 793h7M223 774h7M18 845h7M291 881h7M137 844h7M232 913h7M296 884h7M86 912h7M153 817h7M167 863h7M182 812h7M330 902h7M105 901h7M140 829h7M151 851h7M99 806h7M227 866h7M126 855h7M208 812h7M185 872h7M271 913h7M269 753h7M60 881h7M174 896h7M198 773h7M30 875h7M143 826h7M75 854h7M136 831h7M53 896h7M60 866h7M39 822h7M127 827h7M157 854h7M66 856h7M180 819h7M291 738h7M185 879h7M160 817h7M26 831h7M177 893h7M206 875h7M82 799h7M167 872h7M62 861h7M223 913h7M156 880h7M278 839h7M221 897h7M171 893h7M303 847h7M260 864h7M113 860h7M72 827h7M104 768h7M83 814h7M189 882h7M273 879h7M224 845h7M12 859h7M95 893h7M22 822h7M37 878h7M82 879h7M211 871h7M229 873h7M110 877h7M69 867h7M273 863h7M149 861h7M131 843h7M296 871h7M132 832h7M47 853h7M234 845h7M109 869h7M29 861h7M230 809h7M103 778h7M201 842h7M246 864h7M180 899h7M228 875h7M146 763h7M86 873h7M187 895h7M30 865h7M263 759h7M113 904h7M36 892h7M176 784h7M242 885h7M198 758h7M54 887h7M272 855h7M187 847h7M151 849h7M140 818h7M238 820h7M189 887h7M154 753h7M167 885h7M168 860h7M148 882h7M66 839h7M9 894h7M87 814h7M182 882h7M116 874h7M151 838h7M178 828h7M188 873h7M214 904h7M191 838h7M114 815h7M116 849h7M140 812h7M116 878h7M64 899h7M95 837h7M8 801h7M36 880h7M250 815h7M29 864h7M178 805h7M191 791h7M227 894h7M116 841h7M168 832h7M135 908h7M166 733h7M174 909h7M218 850h7M145 778h7M104 777h7M89 814h7M62 867h7M148 766h7M197 893h7M118 844h7M188 861h7M245 819h7M91 833h7M237 883h7M167 883h7M74 797h7M81 801h7M169 822h7M200 822h7M239 848h7M58 899h7M94 871h7M304 850h7M213 899h7M122 825h7M150 874h7M210 779h7M125 789h7M186 823h7M158 833h7M244 800h7M172 821h7M203 834h7M46 839h7M211 854h7M10 830h7M224 884h7M166 845h7M225 848h7M274 815h7M242 816h7M74 882h7M64 840h7M172 853h7M170 823h7M177 759h7M71 826h7M58 704h7M153 856h7M272 904h7M71 794h7M179 775h7M185 798h7M123 861h7M194 842h7M137 856h7M27 833h7M85 852h7M224 880h7M40 851h7M89 788h7M74 883h7M149 874h7M133 854h7M159 909h7M148 785h7M149 850h7M281 893h7M66 817h7M167 855h7M137 843h7M207 871h7M178 773h7M141 854h7M246 814h7M16 903h7M335 769h7M183 788h7M118 870h7M83 780h7M68 807h7M93 818h7M150 866h7M75 878h7M179 748h7M108 854h7M157 878h7M82 776h7M237 900h7M144 809h7M170 859h7M286 874h7M165 842h7M88 895h7M134 856h7M110 835h7M202 816h7M297 831h7M291 810h7M139 787h7M152 904h7M208 855h7M80 818h7M112 845h7M94 792h7M155 843h7M190 866h7M53 779h7M218 760h7M150 890h7M205 867h7M298 890h7M111 821h7M145 892h7M112 909h7M131 901h7M68 812h7M192 861h7M264 731h7M74 733h7M154 874h7M185 827h7M70 905h7M143 885h7M84 855h7M281 846h7M221 861h7M166 870h7M204 895h7M225 807h7M248 788h7M154 892h7M77 805h7M180 870h7M255 782h7M158 819h7M192 865h7M190 834h7M190 828h7M257 828h7M127 797h7M162 858h7M64 798h7M122 833h7M291 824h7M180 880h7M107 911h7M63 820h7M161 847h7M192 841h7M184 843h7M161 809h7M177 759h7M170 722h7M119 761h7M110 788h7M185 824h7M199 812h7M164 788h7M135 805h7M106 877h7M123 829h7M45 890h7M313 858h7M124 770h7M161 830h7M185 901h7M64 777h7M95 878h7M96 839h7M105 906h7M80 798h7M167 914h7M163 895h7M213 769h7M247 818h7M188 837h7M130 870h7M108 859h7M171 871h7M135 877h7M180 793h7M217 781h7M99 872h7M197 790h7M158 823h7M32 845h7M144 861h7M200 897h7M227 801h7M134 830h7M125 873h7M166 825h7M162 759h7M147 881h7M267 846h7M174 823h7M172 854h7M150 823h7M103 815h7M197 789h7M101 823h7M201 805h7M130 903h7M208 855h7M169 830h7M63 863h7M66 873h7M111 839h7M311 884h7M108 887h7M118 815h7M43 887h7M158 754h7M211 841h7M276 911h7M272 891h7M179 877h7M106 866h7M198 850h7M188 738h7M131 899h7M121 812h7M210 873h7M97 779h7M77 811h7M248 907h7M140 890h7M38 904h7M156 879h7M79 848h7M262 841h7M148 858h7M7 893h7M34 861h7M162 800h7M189 860h7M340 760h7M113 878h7M158 713h7M108 731h7M101 878h7M207 887h7M242 812h7M216 849h7M217 882h7M139 794h7M57 849h7M83 749h7M192 812h7M139 850h7M162 895h7M87 841h7M76 832h7M199 858h7M213 840h7M145 828h7M204 865h7M299 898h7M175 769h7M147 801h7M128 826h7M193 810h7M134 851h7M171 842h7M198 882h7M250 821h7M321 861h7M97 881h7M18 791h7M217 861h7M10 841h7M262 886h7M16 813h7M108 833h7M307 884h7M279 753h7M64 832h7M169 829h7M169 856h7M245 885h7M323 852h7M241 856h7M156 849h7M139 826h7M230 872h7M121 862h7M60 854h7M62 840h7M52 732h7M137 816h7M63 840h7M161 847h7M159 883h7M171 832h7M46 792h7M205 880h7M57 836h7M178 864h7M83 880h7M333 843h7M181 822h7M167 904h7M251 844h7M245 882h7M75 845h7M84 836h7M232 779h7M145 881h7M25 860h7M141 854h7M246 853h7M81 816h7M169 814h7M70 862h7M134 856h7M307 906h7M152 813h7M99 902h7M8 775h7M216 875h7M22 846h7M201 852h7M332 906h7M277 762h7M73 906h7M199 874h7M108 907h7M115 736h7M286 712h7M166 880h7M151 776h7M153 875h7M63 839h7M46 783h7M128 760h7M172 904h7M147 850h7M279 779h7M207 878h7M115 782h7M137 877h7M308 784h7M285 850h7M212 894h7M61 799h7M90 874h7M122 790h7M186 897h7M177 807h7M202 851h7M161 903h7M194 825h7M153 833h7M122 830h7M125 797h7M69 777h7M145 900h7M248 761h7M271 804h7M126 808h7M111 818h7M244 796h7M62 845h7M118 827h7M41 770h7M150 851h7M75 824h7M102 769h7M208 855h7M250 869h7M431 820h7M176 816h7M245 857h7M80 847h7M171 779h7M132 847h7M164 842h7M179 879h7M127 829h7M116 768h7M95 839h7M112 869h7M187 783h7M27 850h7M286 870h7M233 814h7M84 774h7M237 878h7M85 820h7M182 810h7M90 782h7M167 858h7M116 831h7M269 826h7M47 899h7M267 839h7M168 839h7M314 840h7M65 812h7M61 861h7M99 810h7M347 851h7M97 890h7M127 759h7M216 872h7M199 882h7M190 880h7M289 805h7M276 822h7M15 823h7M174 900h7M250 811h7M220 830h7M101 866h7M178 817h7M184 895h7M114 813h7M164 835h7M164 852h7M98 862h7M126 862h7M275 804h7M175 902h7M182 878h7M233 862h7M114 843h7M173 861h7M57 890h7M177 888h7M173 814h7M14 902h7M5 853h7M65 775h7M192 751h7M88 889h7M114 846h7M409 776h7M44 827h7M25 765h7M240 801h7M138 909h7M174 861h7M136 821h7M109 717h7M153 855h7M204 881h7M182 843h7M177 819h7M118 900h7M215 837h7M28 860h7M158 875h7M177 898h7M303 807h7M136 880h7M46 777h7M137 814h7M123 877h7M114 843h7M169 740h7M294 771h7M115 739h7M207 841h7M168 869h7M124 666h7M206 853h7M259 898h7M212 815h7M173 815h7M194 911h7M115 721h7M230 868h7M178 897h7M135 852h7M109 890h7M50 835h7M113 886h7M39 862h7M269 858h7M278 902h7M72 816h7M292 782h7M212 893h7M343 816h7M309 745h7M241 860h7M184 806h7M218 899h7M245 888h7M185 801h7M161 825h7M207 875h7M311 798h7M204 909h7M38 792h7M161 866h7M179 838h7M247 871h7M78 733h7M109 863h7M71 811h7M277 778h7M174 825h7M219 788h7M228 885h7M145 727h7M9 885h7M13 833h7M173 842h7M196 835h7M138 871h7M181 858h7M170 800h7M177 877h7M191 850h7M15 800h7M24 865h7M243 873h7M56 823h7M278 795h7M179 775h7M161 733h7M149 721h7M144 873h7M196 831h7M103 845h7M181 757h7M257 774h7M126 764h7M196 813h7M271 809h7M197 890h7M117 843h7M46 846h7M188 746h7M140 869h7M159 742h7M428 881h7M206 900h7M116 803h7M274 887h7M162 844h7M198 852h7M183 835h7M81 851h7M254 913h7M235 901h7M91 817h7M186 870h7M103 845h7M200 822h7M152 842h7M152 850h7M173 771h7M201 826h7M207 856h7M95 748h7M163 902h7M211 789h7M174 893h7M58 850h7M153 862h7M215 758h7M177 755h7M160 873h7M77 820h7M246 832h7M6 895h7M120 824h7M86 803h7M189 885h7M125 851h7M68 865h7M65 846h7M58 832h7M145 891h7M279 825h7M78 892h7M79 879h7M127 743h7M131 837h7M143 873h7M254 896h7M140 843h7M148 887h7M148 779h7M59 911h7M95 845h7M141 820h7M230 831h7M207 733h7M286 716h7M144 778h7M283 756h7M207 814h7M184 869h7M82 756h7M106 799h7M211 837h7M161 813h7M277 821h7M5 868h7M129 892h7M112 788h7M181 875h7M356 894h7M91 860h7M77 903h7M124 831h7M242 891h7M268 847h7M244 780h7M149 836h7M255 886h7M119 882h7M212 755h7M109 805h7M234 815h7M51 808h7M118 888h7M220 877h7M130 760h7M148 862h7M170 845h7M54 808h7M257 879h7M245 849h7M41 871h7M80 859h7M48 769h7M137 824h7M164 869h7M108 852h7M108 875h7M189 813h7M107 827h7M271 843h7M142 852h7M139 832h7M203 910h7M125 847h7M232 810h7M176 770h7M58 902h7M143 876h7M133 846h7M174 828h7M170 812h7M134 773h7M144 895h7M84 776h7M133 799h7M98 843h7M151 852h7M47 894h7M298 812h7M239 754h7M178 852h7M110 819h7M192 847h7M124 785h7M235 851h7M148 848h7M87 773h7M172 904h7M55 818h7M134 861h7M221 764h7M268 895h7M109 834h7M152 861h7M198 795h7M23 909h7M142 856h7M278 829h7M145 883h7M164 865h7M66 804h7M208 780h7M172 891h7M95 807h7M200 799h7M114 855h7M281 851h7M195 796h7M151 814h7M136 851h7M297 684h7M159 811h7M189 776h7M69 887h7M212 833h7M159 876h7M91 877h7M73 794h7M235 906h7M152 842h7M201 856h7M210 754h7M274 832h7M259 876h7M115 821h7M131 907h7M152 803h7M173 785h7M22 782h7M150 707h7M152 785h7M161 874h7M56 823h7M318 815h7M142 806h7M107 803h7M126 900h7M268 874h7M38 831h7M301 831h7M103 820h7M191 874h7M210 884h7M81 885h7M123 883h7M212 873h7M139 813h7M22 790h7M186 800h7M55 810h7M145 868h7M26 906h7M218 820h7M161 898h7M240 852h7M157 909h7M93 770h7M143 870h7M55 809h7M106 872h7M149 908h7M168 825h7M310 825h7M251 856h7M62 843h7M218 913h7M127 810h7M191 833h7M82 913h7M168 776h7M487 576h7M48 888h7M312 704h7M303 588h7M307 706h7M511 564h7M408 664h7M405 635h7M237 794h7M506 542h7M211 781h7M363 633h7M440 491h7M369 593h7M337 685h7M369 545h7M216 829h7M371 682h7M305 636h7M394 662h7M284 697h7M390 701h7M213 742h7M392 679h7M410 543h7M207 723h7M233 649h7M188 805h7M285 654h7M285 636h7M235 790h7M326 710h7M291 672h7M493 532h7M358 759h7M323 658h7M345 712h7M391 666h7M330 691h7M254 646h7M397 591h7M365 660h7M109 913h7M232 721h7M328 582h7M441 497h7M398 616h7M317 642h7M326 709h7M371 663h7M300 681h7M393 546h7M218 769h7M362 664h7M207 779h7M252 773h7M303 664h7M407 642h7M401 609h7M220 763h7M305 662h7M458 544h7M245 706h7M446 582h7M288 648h7M284 703h7M356 716h7M205 857h7M208 838h7M170 747h7M297 737h7M232 692h7M288 799h7M343 761h7M227 700h7M260 746h7M324 614h7M146 840h7M448 541h7M460 512h7M292 754h7M364 653h7M353 702h7M169 835h7M243 695h7M313 655h7M251 793h7M442 634h7M328 655h7M326 783h7M180 832h7M173 891h7M246 775h7M411 673h7M178 777h7M278 716h7M336 590h7M237 765h7M221 705h7M252 756h7M193 766h7M68 847h7M155 804h7M395 591h7M157 764h7M379 709h7M108 814h7M265 787h7M176 872h7M203 827h7M347 637h7M231 719h7M300 634h7M52 848h7M152 761h7M403 583h7M352 662h7M248 786h7M285 648h7M310 734h7M296 655h7M291 827h7M302 761h7M320 782h7M430 607h7M257 691h7M88 803h7M344 669h7M455 490h7M470 587h7M314 720h7M342 622h7M535 555h7M156 827h7M337 683h7M331 704h7M216 730h7M341 661h7M304 644h7M212 799h7M283 673h7M500 594h7M301 749h7M268 693h7M419 593h7M324 673h7M358 716h7M355 676h7M284 724h7M366 755h7M221 773h7M343 674h7M246 746h7M470 575h7M398 561h7M444 647h7M367 593h7M415 528h7M244 794h7M142 895h7M443 582h7M323 645h7M312 581h7M531 458h7M312 706h7M324 653h7M257 778h7M378 599h7M318 702h7M217 755h7M351 611h7M340 724h7M163 723h7M336 703h7M274 672h7M43 897h7M363 695h7M212 706h7M210 825h7M319 659h7M105 907h7M352 696h7M391 673h7M250 724h7M407 624h7M413 571h7M148 834h7M222 747h7M297 742h7M321 822h7M186 843h7M216 720h7M289 707h7M350 649h7M312 619h7M401 561h7M365 668h7M346 592h7M279 824h7M196 703h7M489 530h7M211 857h7M252 762h7M330 718h7M214 673h7M338 646h7M247 671h7M309 656h7M469 563h7M310 644h7M309 736h7M406 557h7M340 668h7M361 621h7M183 748h7M240 689h7M396 586h7M264 796h7M268 661h7M479 566h7M272 609h7M407 637h7M324 635h7M301 676h7M330 691h7M286 704h7M204 797h7M391 612h7M297 708h7M434 512h7M325 652h7M268 705h7M93 797h7M288 723h7M371 647h7M273 663h7M316 676h7M119 868h7M346 630h7M280 736h7M175 832h7M427 529h7M348 695h7M300 764h7M284 671h7M267 754h7M282 619h7M346 540h7M283 707h7M332 613h7M436 619h7M328 756h7M360 627h7M401 576h7M300 724h7M351 683h7M329 698h7M257 686h7M244 767h7M567 475h7M289 631h7M368 609h7M263 770h7M230 726h7M121 760h7M297 725h7M468 590h7M322 649h7M216 756h7M368 648h7M344 606h7M316 688h7M180 861h7M289 738h7M410 603h7M296 674h7M458 670h7M337 573h7M279 703h7M308 649h7M433 534h7M151 808h7M243 725h7M194 852h7M318 758h7M361 700h7M310 714h7M226 734h7M334 639h7M142 906h7M393 643h7M255 639h7M446 543h7M250 664h7M444 576h7M407 651h7M331 730h7M98 860h7M285 707h7M357 634h7M231 672h7M402 579h7M231 743h7M249 750h7M520 529h7M299 686h7M230 776h7M282 629h7M396 617h7M194 779h7M289 791h7M333 634h7M291 758h7M346 647h7M196 789h7M424 603h7M370 675h7M438 500h7M402 508h7M404 667h7M273 755h7M360 702h7M229 737h7M349 717h7M209 675h7M398 501h7M411 479h7M231 810h7M269 727h7M254 756h7M143 801h7M290 652h7M148 845h7M205 720h7M206 762h7M322 673h7M369 713h7M353 703h7M237 763h7M360 656h7M440 484h7M169 846h7M471 569h7M370 662h7M289 695h7M295 690h7M248 773h7M323 662h7M556 440h7M138 837h7M304 691h7M283 678h7M165 734h7M301 747h7M278 625h7M455 629h7M288 707h7M388 618h7M274 702h7M247 721h7M363 597h7M228 740h7M299 660h7M310 721h7M260 643h7M307 650h7M501 490h7M235 833h7M205 801h7M429 599h7M203 839h7M168 775h7M222 712h7M337 699h7M372 619h7M258 778h7M334 776h7M182 809h7M381 676h7M337 659h7M280 703h7M286 721h7M416 676h7M303 706h7M250 810h7M395 609h7M186 762h7M213 744h7M378 646h7M229 745h7M166 775h7M163 824h7M299 687h7M284 766h7M204 744h7M323 753h7M175 853h7M125 904h7M300 734h7M258 744h7M346 631h7M156 740h7M323 728h7M340 686h7M474 547h7M266 758h7M282 733h7M195 740h7M384 693h7M416 597h7M263 721h7M322 699h7M419 681h7M299 673h7M443 570h7M420 576h7M286 665h7M252 651h7M241 782h7M205 748h7M467 577h7M265 809h7M228 768h7M190 794h7M242 714h7M365 649h7M332 613h7M77 811h7M322 638h7M348 658h7M360 626h7M415 589h7M341 626h7M520 467h7M235 781h7M404 652h7M228 810h7M252 776h7M458 559h7M386 493h7M238 741h7M346 703h7M142 755h7M230 666h7M229 763h7M148 798h7M351 622h7M178 847h7M286 717h7M422 572h7M352 619h7M231 722h7M258 773h7M333 668h7M174 862h7M345 566h7M343 692h7M426 589h7M310 687h7M311 723h7M140 781h7M322 666h7M388 617h7M311 718h7M286 711h7M255 734h7M238 667h7M308 676h7M171 800h7M361 666h7M272 634h7M343 681h7M275 765h7M294 730h7M188 807h7M482 555h7M395 601h7M316 604h7M205 750h7M476 554h7M344 626h7M282 742h7M238 780h7M290 628h7M419 622h7M222 848h7M289 665h7M294 726h7M352 698h7M400 553h7M307 706h7M333 711h7M332 642h7M232 778h7M295 717h7M189 835h7M318 642h7M299 726h7M314 777h7M240 673h7M514 548h7M399 703h7M275 748h7M220 801h7M297 732h7M277 682h7M298 627h7M332 626h7M197 784h7M230 777h7M304 666h7M123 895h7M510 573h7M379 606h7M326 665h7M386 509h7M317 677h7M295 708h7M339 767h7M310 661h7M398 680h7M300 739h7M405 637h7M458 605h7M361 694h7M312 693h7M189 843h7M248 646h7M201 791h7M290 719h7M388 702h7M149 861h7M334 658h7M142 808h7M258 703h7M363 697h7M249 713h7M418 599h7M316 598h7M279 675h7M299 666h7M289 788h7M329 679h7M182 764h7M288 701h7M232 879h7M309 684h7M229 811h7M307 651h7M470 539h7M482 515h7M269 698h7M309 779h7M367 618h7M256 770h7M305 650h7M245 719h7M368 628h7M215 798h7M491 535h7M211 716h7M301 665h7M436 587h7M341 619h7M90 914h7M370 579h7M307 627h7M351 669h7M515 618h7M154 892h7M421 565h7M193 822h7M191 692h7M380 597h7M241 874h7M492 571h7M436 598h7M345 663h7M257 755h7M263 739h7M343 585h7M335 786h7M261 736h7M307 679h7M322 647h7M396 576h7M238 756h7M298 720h7M383 572h7M353 651h7M55 852h7M365 739h7M255 800h7M400 588h7M266 735h7M205 797h7M577 412h7M212 842h7M171 833h7M308 639h7M379 609h7M349 650h7M318 647h7M203 731h7M493 491h7M145 759h7M327 734h7M161 823h7M324 589h7M302 656h7M345 660h7M206 795h7M222 815h7M103 879h7M223 831h7M197 827h7M264 748h7M203 768h7M326 786h7M303 725h7M373 639h7M387 638h7M259 759h7M387 664h7M360 659h7M158 735h7M430 612h7M214 708h7M293 739h7M429 639h7M257 756h7M394 627h7M244 721h7M250 699h7M408 528h7M275 752h7M400 659h7M440 555h7M364 682h7M357 681h7M246 749h7M244 668h7M317 710h7M349 656h7M173 900h7M260 751h7M305 671h7M384 708h7M290 710h7M209 759h7M311 672h7M225 763h7M242 767h7M337 648h7M519 504h7M498 490h7M180 759h7M522 514h7M160 798h7M260 748h7M244 731h7M422 542h7M259 710h7M391 629h7M259 800h7M285 715h7M242 696h7M284 717h7M242 663h7M502 552h7M447 478h7M404 683h7M529 528h7M288 738h7M231 784h7M226 733h7M160 840h7M273 778h7M327 692h7M206 750h7M322 740h7M314 732h7M240 738h7M191 868h7M317 734h7M288 721h7M222 700h7M154 875h7M452 517h7M379 644h7M261 660h7M398 819h7M571 861h7M273 851h7M591 772h7M731 891h7M573 825h7M496 830h7M429 785h7M455 807h7M627 765h7M547 839h7M509 802h7M668 822h7M528 910h7M498 807h7M403 895h7M615 798h7M403 843h7M542 754h7M509 850h7M631 877h7M690 672h7M715 794h7M531 865h7M436 854h7M335 808h7M751 832h7M619 873h7M504 861h7M647 753h7M457 883h7M598 801h7M461 849h7M410 850h7M507 826h7M529 909h7M639 881h7M505 868h7M534 819h7M532 837h7M401 895h7M534 840h7M620 794h7M462 870h7M503 880h7M493 772h7M619 877h7M698 809h7M476 843h7M565 853h7M373 861h7M624 904h7M498 830h7M557 862h7M429 811h7M370 846h7M626 814h7M678 900h7M526 888h7M410 872h7M669 864h7M494 863h7M469 863h7M762 844h7M436 825h7M477 866h7M518 824h7M412 849h7M720 842h7M365 749h7M462 825h7M552 839h7M558 747h7M448 809h7M424 802h7M506 838h7M435 887h7M543 747h7M406 868h7M482 903h7M636 902h7M559 839h7M643 759h7M648 877h7M613 850h7M529 879h7M530 883h7M433 834h7M750 767h7M705 805h7M325 763h7M678 861h7M447 822h7M416 730h7M491 730h7M460 868h7M462 763h7M401 744h7M734 897h7M606 827h7M689 800h7M546 838h7M545 835h7M221 911h7M369 875h7M351 835h7M471 885h7M735 781h7M567 767h7M611 803h7M637 899h7M539 801h7M492 823h7M318 790h7M465 842h7M459 808h7M494 874h7M598 796h7M447 837h7M600 887h7M575 788h7M606 778h7M463 781h7M759 741h7M541 893h7M488 843h7M699 886h7M664 813h7M586 842h7M537 893h7M511 858h7M545 913h7M623 830h7M490 730h7M658 772h7M479 786h7M585 828h7M611 792h7M516 776h7M607 807h7M588 760h7M457 838h7M457 832h7M540 869h7M719 830h7M559 810h7M659 807h7M550 809h7M667 787h7M497 904h7M462 728h7M496 858h7M505 858h7M542 848h7M251 832h7M415 873h7M518 909h7M487 821h7M704 846h7M534 901h7M485 728h7M583 888h7M702 790h7M363 818h7M503 892h7M496 877h7M523 842h7M644 818h7M563 804h7M598 844h7M620 878h7M480 896h7M401 855h7M505 849h7M517 898h7M481 815h7M483 835h7M506 852h7M549 825h7M572 884h7M638 827h7M556 824h7M512 800h7M530 885h7M530 857h7M562 799h7M628 861h7M467 777h7M609 776h7M378 857h7M590 722h7M631 735h7M438 800h7M634 800h7M553 850h7M544 732h7M545 856h7M587 805h7M418 827h7M543 778h7M408 782h7M580 853h7M365 831h7M586 906h7M442 668h7M462 834h7M466 879h7M517 800h7M671 808h7M727 874h7M496 816h7M460 819h7M465 772h7M534 822h7M521 819h7M589 838h7M702 887h7M419 817h7M546 709h7M304 761h7M471 879h7M470 791h7M384 813h7M611 882h7M530 732h7M571 859h7M461 830h7M352 735h7M666 764h7M519 893h7M474 727h7M352 855h7M556 830h7M342 714h7M569 835h7M572 891h7M420 861h7M425 861h7M524 851h7M545 862h7M556 885h7M512 795h7M545 827h7M599 887h7M745 809h7M516 741h7M600 843h7M496 801h7M485 903h7M721 913h7M508 903h7M611 905h7M658 829h7M420 777h7M386 871h7M498 868h7M522 890h7M533 864h7M364 773h7M679 848h7M519 906h7M621 832h7M717 835h7M583 783h7M435 761h7M600 798h7M496 759h7M548 895h7M541 760h7M422 880h7M351 857h7M585 809h7M452 841h7M467 830h7M493 870h7M644 806h7M375 832h7M475 708h7M553 829h7M554 867h7M460 738h7M504 825h7M364 720h7M697 873h7M438 821h7M583 859h7M403 738h7M469 846h7M451 847h7M438 765h7M434 886h7M483 817h7M382 793h7M631 864h7M545 820h7M565 779h7M546 836h7M430 778h7M610 831h7M559 767h7M536 771h7M543 862h7M444 801h7M606 806h7M380 809h7M633 889h7M454 861h7M524 891h7M652 867h7M533 791h7M567 780h7M436 839h7M427 823h7M407 890h7M561 815h7M478 747h7M461 821h7M396 754h7M573 827h7M628 882h7M661 854h7M444 817h7M525 858h7M472 821h7M396 743h7M606 852h7M496 718h7M250 905h7M416 791h7M459 821h7M542 865h7M436 904h7M563 823h7M538 814h7M484 851h7M384 812h7M568 846h7M395 809h7M540 827h7M555 805h7M431 853h7M382 822h7M615 792h7M653 853h7M730 804h7M573 834h7M610 892h7M401 889h7M461 841h7M574 844h7M452 836h7M540 663h7M660 808h7M490 820h7M506 882h7M489 908h7M570 814h7M590 792h7M565 764h7M438 862h7M420 872h7M630 803h7M748 898h7M634 895h7M769 829h7M464 819h7M570 815h7M343 844h7M639 717h7M568 740h7M445 825h7M416 854h7M460 896h7M562 708h7M486 734h7M438 863h7M543 850h7M530 761h7M513 854h7M375 824h7M646 825h7M408 847h7M536 768h7M547 775h7M497 739h7M482 868h7M627 864h7M407 782h7M643 776h7M355 837h7M450 786h7M561 857h7M677 875h7M818 768h7M345 842h7M434 807h7M576 884h7M635 733h7M546 899h7M728 825h7M576 842h7M459 808h7M386 724h7M447 850h7M580 892h7M562 884h7M228 833h7M513 763h7M520 754h7M486 880h7M514 831h7M346 851h7M563 813h7M305 794h7M438 860h7M725 766h7M431 887h7M405 856h7M568 879h7M579 868h7M751 909h7M457 832h7M573 877h7M387 864h7M572 861h7M561 838h7M470 765h7M655 895h7M615 861h7M544 898h7M547 822h7M518 761h7M634 840h7M414 788h7M545 865h7M546 787h7M440 884h7M459 878h7M771 828h7M534 869h7M500 767h7M548 884h7M642 835h7M298 791h7M399 851h7M502 826h7M602 853h7M551 885h7M497 862h7M463 834h7M449 831h7M585 836h7M381 891h7M307 754h7M390 871h7M531 857h7M665 739h7M432 810h7M486 840h7M531 851h7M505 807h7M602 860h7M438 867h7M458 864h7M451 855h7M450 767h7M630 901h7M479 794h7M389 873h7M563 832h7M593 842h7M393 853h7M504 907h7M329 885h7M687 852h7M495 785h7M445 852h7M428 887h7M681 852h7M560 827h7M628 780h7M514 844h7M558 845h7M507 843h7M558 816h7M355 803h7M582 788h7M499 816h7M561 765h7M569 826h7M412 860h7M482 819h7M226 895h7M585 810h7M649 790h7M701 822h7M574 832h7M611 912h7M646 899h7M520 844h7M343 856h7M513 845h7M637 847h7M458 816h7M423 892h7M419 853h7M699 861h7M484 826h7M434 784h7M460 899h7M555 859h7M486 808h7M579 850h7M488 744h7M502 837h7M552 897h7M687 866h7M444 823h7M363 833h7M687 822h7M665 830h7M492 834h7M604 764h7M541 790h7M597 841h7M380 845h7M551 885h7M716 862h7M489 849h7M433 775h7M556 881h7M446 755h7M648 812h7M414 848h7M289 794h7M611 898h7M581 903h7M658 784h7M450 786h7M462 856h7M493 840h7M458 882h7M578 766h7M487 779h7M610 794h7M634 770h7M332 774h7M536 864h7M558 893h7M670 878h7M507 842h7M649 809h7M656 893h7M662 750h7M664 913h7M497 874h7M594 797h7M592 775h7M321 841h7M435 824h7M533 873h7M448 836h7M609 774h7M419 847h7M511 814h7M446 901h7M600 902h7M601 864h7M515 899h7M572 842h7M665 833h7M613 745h7M648 896h7M383 806h7M569 902h7M530 850h7M706 871h7M495 817h7M603 824h7M540 909h7M433 803h7M502 780h7M680 791h7M332 771h7M662 870h7M472 732h7M575 805h7M554 879h7M533 873h7M502 838h7M220 908h7M542 893h7M530 827h7M579 741h7M650 832h7M526 883h7M588 875h7M583 892h7M620 874h7M675 729h7M659 777h7M460 896h7M702 902h7M624 905h7M685 834h7M441 900h7M439 802h7M389 880h7M583 843h7M499 770h7M697 745h7M478 779h7M588 870h7M619 853h7M535 834h7M595 837h7M569 848h7M595 824h7M445 789h7M644 832h7M588 790h7M658 887h7M368 859h7M553 857h7M502 892h7M524 777h7M380 798h7M462 825h7M511 783h7M586 848h7M480 780h7M401 780h7M515 786h7M479 900h7M491 899h7M546 904h7M596 874h7M447 869h7M586 826h7M645 830h7M520 847h7M607 896h7M479 735h7M482 900h7M517 898h7M422 842h7M437 883h7M506 856h7M536 853h7M634 889h7M505 795h7M622 736h7M610 806h7M464 845h7M454 807h7M483 746h7M549 899h7M557 700h7M351 888h7M529 832h7M494 859h7M619 873h7M478 768h7M387 805h7M604 705h7M670 725h7M710 854h7M542 857h7M507 806h7M406 888h7M622 871h7M776 905h7M457 885h7M603 854h7M547 755h7M626 816h7M460 820h7M426 818h7M442 868h7M579 851h7M330 806h7M317 885h7M473 851h7M550 804h7M579 864h7M492 822h7M442 876h7M529 758h7M369 853h7M531 828h7M447 865h7M609 844h7M358 803h7M554 895h7M692 864h7M432 909h7M555 788h7M499 890h7M689 874h7M635 853h7M619 789h7M480 873h7M556 764h7M371 866h7M542 884h7M478 824h7M599 853h7M615 817h7M694 817h7M458 904h7M481 913h7M395 745h7M427 770h7M462 815h7M375 705h7M692 799h7M436 804h7M569 886h7M483 912h7M427 832h7M648 896h7M501 693h7M561 809h7M588 802h7M491 869h7M623 835h7M568 824h7M478 837h7M587 762h7M549 774h7M621 848h7M581 896h7M461 768h7M504 826h7M529 805h7M444 800h7M589 847h7M366 852h7M595 809h7M595 802h7M797 883h7M478 833h7M450 828h7M538 853h7M549 821h7M466 865h7M599 890h7M641 890h7M604 851h7M537 771h7M533 854h7M747 844h7M661 845h7M544 783h7M614 809h7M515 827h7M684 789h7M442 876h7M394 811h7M710 768h7M523 775h7M728 832h7M548 690h7M586 893h7M526 854h7M604 791h7M497 790h7M531 815h7M423 870h7M633 893h7M552 907h7M660 783h7M518 748h7M627 827h7M635 771h7M474 865h7M514 837h7M670 848h7M344 821h7M564 788h7M484 871h7M477 791h7M628 854h7M637 760h7M613 789h7M627 807h7M394 900h7M409 855h7M620 901h7M606 856h7M617 759h7M332 833h7M595 872h7M646 910h7M157 810h7M564 792h7M610 835h7M601 798h7M472 770h7M465 761h7M566 803h7M498 881h7M338 866h7M520 856h7M597 867h7M618 813h7M532 911h7M551 777h7M456 804h7M594 839h7M609 733h7M512 844h7M510 842h7M429 887h7M618 803h7M602 834h7M430 791h7M555 806h7M447 718h7M577 905h7M533 904h7M328 857h7M525 861h7M348 853h7M443 872h7M513 890h7M454 910h7M360 829h7M425 838h7M553 899h7M612 857h7M414 885h7M555 867h7M528 885h7M409 813h7M435 828h7M397 829h7M615 837h7M246 907h7M491 848h7M485 880h7M432 873h7M477 890h7M613 839h7M592 794h7M506 801h7M608 839h7M393 900h7M671 807h7M572 857h7M448 830h7M356 773h7M599 764h7M479 775h7M760 822h7M643 867h7M398 816h7M464 827h7M577 821h7M499 783h7M503 844h7M541 863h7M712 890h7M542 851h7M662 844h7M491 839h7M551 903h7M464 790h7M520 772h7M479 776h7M540 807h7M345 906h7M543 866h7M634 888h7M418 881h7M500 836h7M526 785h7M598 843h7M559 825h7M502 793h7M572 822h7M747 859h7M554 871h7M572 781h7M521 816h7M498 880h7M315 841h7M660 888h7M483 754h7M588 872h7M421 836h7M480 845h7M556 884h7M558 827h7M648 766h7M388 813h7M448 779h7M352 739h7M624 864h7M580 769h7M477 870h7M455 800h7M538 751h7M454 812h7M579 884h7M543 854h7M606 873h7M519 859h7M646 843h7M448 807h7M604 831h7M516 851h7M309 787h7M739 807h7M415 792h7M546 858h7M473 844h7M476 859h7M439 856h7M608 878h7M360 771h7M427 816h7M506 843h7M259 757h7M483 836h7M505 747h7M533 909h7M367 819h7M548 845h7M402 851h7M525 847h7M526 881h7M321 897h7M410 901h7M423 766h7M317 772h7M630 846h7M423 850h7M539 878h7M459 785h7M381 834h7M589 809h7M533 864h7M393 815h7M573 851h7M401 826h7M582 854h7M632 817h7M677 778h7M404 862h7M600 857h7M549 824h7M417 874h7M629 896h7M410 850h7M500 818h7M287 830h7M519 757h7M557 895h7M422 889h7M477 794h7M578 841h7M631 745h7M431 870h7M479 787h7M503 827h7M575 821h7M617 883h7M552 869h7M532 885h7M423 883h7M529 847h7M419 831h7M423 836h7M469 747h7M560 892h7M661 801h7M420 812h7M423 767h7M692 832h7M778 794h7M528 864h7M615 803h7M623 869h7M596 831h7M469 855h7M580 774h7M501 850h7M474 766h7M655 843h7M501 742h7M507 839h7M477 840h7M593 882h7M484 848h7M515 876h7M530 874h7M535 794h7M531 816h7M543 699h7M528 882h7M621 765h7M484 834h7M504 838h7M421 793h7M471 802h7M466 892h7M523 817h7M450 859h7M512 804h7M321 798h7M618 908h7M654 781h7M431 842h7M395 856h7M629 836h7M262 800h7M647 849h7M377 781h7M604 848h7M715 713h7M549 782h7M488 771h7M447 872h7M373 810h7M540 903h7M477 679h7M411 842h7M571 784h7M517 820h7M458 879h7M578 851h7M365 860h7M532 795h7M452 804h7M481 861h7M451 786h7M604 830h7M649 863h7M397 856h7M582 794h7M563 836h7M517 810h7M635 796h7M698 872h7M346 841h7M533 879h7M502 840h7M499 847h7M373 821h7M523 885h7M594 844h7M688 821h7M463 889h7M559 817h7M540 851h7M508 882h7M641 803h7M455 830h7M566 814h7M663 757h7M580 824h7M377 774h7M500 748h7M592 838h7M523 808h7M468 834h7M474 831h7M443 886h7M618 911h7M467 879h7M587 850h7M579 870h7M642 749h7M709 869h7M482 860h7M405 853h7M525 806h7M684 871h7M583 904h7M509 772h7M698 852h7M542 780h7M524 735h7M741 832h7M456 851h7M517 845h7M631 831h7M516 858h7M530 879h7M544 775h7M474 764h7M474 837h7M676 891h7M549 903h7M348 799h7M544 803h7M444 891h7M687 851h7M608 834h7M560 844h7M527 799h7M492 814h7M572 788h7M582 832h7M331 893h7M475 827h7M481 751h7M573 890h7M433 826h7M511 888h7M349 804h7M411 856h7M536 914h7M557 878h7M535 904h7M497 829h7M377 869h7M459 849h7M496 808h7M489 899h7M476 857h7M589 761h7M468 776h7M504 897h7M547 860h7M596 807h7M623 882h7M389 817h7M624 826h7M559 867h7M578 882h7M526 858h7M719 807h7M742 865h7M272 848h7M698 892h7M454 810h7M484 792h7M595 897h7M409 847h7M590 779h7M557 818h7M325 844h7M459 807h7M573 769h7M620 778h7M446 900h7M556 770h7M517 870h7M412 772h7M578 741h7M499 779h7M519 873h7M397 801h7M550 729h7M664 880h7M609 914h7M585 773h7M541 882h7M574 784h7M516 914h7M547 824h7M682 800h7M720 780h7M711 891h7M463 791h7M417 782h7M503 823h7M606 825h7M566 790h7M686 900h7M431 896h7M611 730h7M516 743h7M496 754h7M598 833h7M443 837h7M540 897h7M447 830h7M644 832h7M682 803h7M432 770h7M485 850h7M493 865h7M568 848h7M353 871h7M471 879h7M362 851h7M400 823h7M531 907h7M531 815h7M672 835h7M699 831h7M561 750h7M518 843h7M650 792h7M535 824h7M614 822h7M483 855h7M562 893h7M427 856h7M564 908h7M559 765h7M578 886h7M571 785h7M492 882h7M625 792h7M540 819h7M417 845h7M515 844h7M663 831h7M577 759h7M609 812h7M577 880h7M459 839h7M740 856h7M594 733h7M711 798h7M501 841h7M664 765h7M672 829h7M629 905h7M625 841h7M563 884h7M479 767h7M569 857h7M527 872h7M594 812h7M608 803h7M466 912h7M477 831h7M706 825h7M418 823h7M564 842h7M436 772h7M550 816h7M438 822h7M553 891h7M560 858h7M438 838h7M702 882h7M526 884h7M712 884h7M386 812h7M378 843h7M488 883h7M624 816h7M557 754h7M449 784h7M525 783h7M596 869h7M624 816h7M516 891h7M484 822h7M540 808h7M706 808h7M635 852h7M431 825h7M543 859h7M498 806h7M473 823h7M138 872h7M691 883h7M421 797h7M539 807h7M555 766h7M408 867h7M474 796h7M451 877h7M450 802h7M383 870h7M390 782h7M607 866h7M575 867h7M305 846h7M441 879h7M503 854h7M405 865h7M571 839h7M553 696h7M700 762h7M452 854h7M572 865h7M784 844h7M551 827h7M665 812h7M696 817h7M520 906h7M626 882h7M514 891h7M622 803h7M605 824h7M547 860h7M505 850h7M517 858h7M546 841h7M353 832h7M594 800h7M741 844h7M480 913h7M417 887h7M684 805h7M588 835h7M441 756h7M414 784h7M621 731h7M642 883h7M491 846h7M619 820h7M621 853h7M555 846h7M493 797h7M425 843h7M322 832h7M561 786h7M598 856h7M473 875h7M519 805h7M713 838h7M560 813h7M685 805h7M424 911h7M629 827h7M389 772h7M593 849h7M436 781h7M631 786h7M426 882h7M465 876h7M492 839h7M504 828h7M646 805h7M609 898h7M493 812h7M599 834h7M615 852h7M525 742h7M585 832h7M581 852h7M575 869h7M623 798h7M691 865h7M534 704h7M712 817h7M609 856h7M492 890h7M640 879h7M637 836h7M735 880h7M505 859h7M407 892h7M433 905h7M463 782h7M602 822h7M468 846h7M601 781h7M479 828h7M663 854h7M611 837h7M514 823h7M669 864h7M435 837h7M559 786h7M416 865h7M636 766h7M595 791h7M506 907h7M501 841h7M664 878h7M548 833h7M460 766h7M382 842h7M666 746h7M647 763h7M610 870h7M555 831h7M517 773h7M454 889h7M605 828h7M526 790h7M598 708h7M543 824h7M555 760h7M811 907h7M674 854h7M512 867h7M551 904h7M672 775h7M768 805h7M532 822h7M367 825h7M572 770h7M518 837h7M562 887h7M421 884h7M479 842h7M564 828h7M487 893h7M488 841h7M409 827h7M344 737h7M527 800h7M703 831h7M707 830h7M795 837h7M639 904h7M520 722h7M378 863h7M575 836h7M481 747h7M496 860h7M404 839h7M420 745h7M619 846h7M483 865h7M516 825h7M582 874h7M658 806h7M426 849h7M726 842h7M531 872h7M500 781h7M358 763h7M545 851h7M497 847h7M465 904h7M583 803h7M543 767h7M486 904h7M469 880h7M658 707h7M601 873h7M428 894h7M495 865h7M419 886h7M589 900h7M588 883h7M522 837h7M541 772h7M580 810h7M553 883h7M671 913h7M636 872h7M726 793h7M416 880h7M456 786h7M402 880h7M484 792h7M530 889h7M575 884h7M370 815h7M531 873h7M501 878h7M645 828h7M435 857h7M569 844h7M679 754h7M587 822h7M411 875h7M436 749h7M369 870h7M687 879h7M549 859h7M578 887h7M580 908h7M588 860h7M437 753h7M678 755h7M499 890h7M413 864h7M483 846h7M430 785h7M513 781h7M485 805h7M521 856h7M496 788h7M435 849h7M631 829h7M393 838h7M446 833h7M468 762h7M586 882h7M548 897h7M472 748h7M481 816h7M639 870h7M674 857h7M527 759h7M454 846h7M563 805h7M475 885h7M431 804h7M526 880h7M613 808h7M566 882h7M451 838h7M501 789h7M495 808h7M586 835h7M421 889h7M520 770h7M652 868h7M569 855h7M660 864h7M584 824h7M601 842h7M454 768h7M615 866h7M352 899h7M539 758h7M542 866h7M675 748h7M553 817h7M705 853h7M465 849h7M537 830h7M481 879h7M320 895h7M493 858h7M547 803h7M472 825h7M462 867h7M465 883h7M437 854h7M481 777h7M381 818h7M549 857h7M278 770h7M344 830h7M500 820h7M571 892h7M497 905h7M383 790h7M566 820h7M691 836h7M562 813h7M429 805h7M586 763h7M658 697h7M425 853h7M490 780h7M570 877h7M598 808h7M438 852h7M396 833h7M768 871h7M694 874h7M677 879h7M577 889h7M593 787h7M502 814h7M527 907h7M584 795h7M588 901h7M514 853h7M488 910h7M688 859h7M505 842h7M461 850h7M544 756h7M485 873h7M357 852h7M402 902h7M267 875h7M360 793h7M638 847h7M503 874h7M214 850h7M458 899h7M657 851h7M375 856h7M622 767h7M411 888h7M472 913h7M480 814h7M599 795h7M450 831h7M614 856h7M543 794h7M385 810h7M433 780h7M475 796h7M492 877h7M501 862h7M550 821h7M516 869h7M630 873h7M555 806h7M594 912h7M591 812h7M500 882h7M422 823h7M455 873h7M447 826h7M658 914h7M412 865h7M575 804h7M544 847h7M715 907h7M427 865h7M664 821h7M387 840h7M589 890h7M470 822h7M561 883h7M628 894h7M447 909h7M377 795h7M523 851h7M423 866h7M700 886h7M528 905h7M640 896h7M533 806h7M745 788h7M663 850h7M503 881h7M533 770h7M320 832h7M559 864h7M427 854h7M611 903h7M607 795h7M449 868h7M626 839h7M438 757h7M334 911h7M462 763h7M454 874h7M583 857h7M612 780h7M494 803h7M629 859h7M653 896h7M305 865h7M489 780h7M502 821h7M602 835h7M557 729h7M463 803h7M578 769h7M659 774h7M515 908h7M423 813h7M626 815h7M372 851h7M495 826h7M622 814h7M434 756h7M510 800h7M392 874h7M694 870h7M522 814h7M583 777h7M471 794h7M721 869h7M669 816h7M539 836h7M580 891h7M359 773h7M554 796h7M657 798h7M500 823h7M491 825h7M574 758h7M549 885h7M359 853h7M601 850h7M486 833h7M523 744h7M486 864h7M467 904h7M546 819h7M405 848h7M388 879h7M507 804h7M642 849h7M501 776h7M533 898h7M483 763h7M677 770h7M558 868h7M534 854h7M566 804h7M644 902h7M515 896h7M543 753h7M558 824h7M467 765h7M514 860h7M568 876h7M523 889h7M287 821h7M410 754h7M543 819h7M484 904h7M526 892h7M477 817h7M632 877h7M572 893h7M604 805h7M408 803h7M638 838h7M461 856h7M487 867h7M512 834h7M551 815h7M438 791h7M462 845h7M608 784h7M750 715h7M472 863h7M403 785h7M310 791h7M463 850h7M563 911h7M391 849h7M428 826h7M666 765h7M640 816h7M646 846h7M423 897h7M450 898h7M419 892h7M494 826h7M499 796h7M573 792h7M596 863h7M584 775h7M610 830h7M625 881h7M497 863h7M499 846h7M459 785h7M739 865h7M516 866h7M442 880h7M447 829h7M492 822h7M528 781h7M518 766h7M535 850h7M695 842h7M461 830h7M540 796h7M396 771h7M426 873h7M641 819h7M421 848h7M573 846h7M441 802h7M606 887h7M712 846h7M462 849h7M436 842h7M534 798h7M407 822h7M449 814h7M690 784h7M612 880h7M625 866h7M503 866h7M418 864h7M600 759h7M443 888h7M665 907h7M498 849h7M456 797h7M579 876h7M584 858h7M481 802h7M564 858h7M390 802h7M576 751h7M380 875h7M559 801h7M567 746h7M638 861h7M579 840h7M435 851h7M502 886h7M613 822h7M614 856h7M477 868h7M579 886h7M677 795h7M460 803h7M583 898h7M521 858h7M565 856h7M681 750h7M579 912h7M554 860h7M523 807h7M499 876h7M413 818h7M429 832h7M385 845h7M507 876h7M366 851h7M644 798h7M510 862h7M627 808h7M667 788h7M684 786h7M527 813h7M294 724h7M579 849h7M526 804h7M381 897h7M281 772h7M639 826h7M640 773h7M662 834h7M678 819h7M654 885h7M585 856h7M572 864h7M635 799h7M589 831h7M550 797h7M599 800h7M486 789h7M455 809h7M734 827h7M760 748h7M662 854h7M458 820h7M498 832h7M522 732h7M714 804h7M545 824h7M539 788h7M539 855h7M473 835h7M634 855h7M369 865h7M542 882h7M610 862h7M698 853h7M603 815h7M420 857h7M620 887h7M616 827h7M548 844h7M480 850h7M413 856h7M504 762h7M559 842h7M816 852h7M590 762h7M554 841h7M366 851h7M418 745h7M523 860h7M524 908h7M644 828h7M691 852h7M664 790h7M470 826h7M492 832h7M453 872h7M405 747h7M577 829h7M455 905h7M600 829h7M509 768h7M546 890h7M825 857h7M468 846h7M568 827h7M399 883h7M497 896h7M683 777h7M597 912h7M726 822h7M366 858h7M450 836h7M551 864h7M430 850h7M399 817h7M605 865h7M496 899h7M527 914h7M405 755h7M706 905h7M611 888h7M537 812h7M449 742h7M507 848h7M543 863h7M730 750h7M556 829h7M512 828h7M517 838h7M427 913h7M559 747h7M431 828h7M461 803h7M492 885h7M514 831h7M555 859h7M529 780h7M613 791h7M709 834h7M532 818h7M667 733h7M539 848h7M625 720h7M431 803h7M599 861h7M456 769h7M465 837h7M549 816h7M768 808h7M574 876h7M659 784h7M600 898h7M511 764h7M418 867h7M437 817h7M357 845h7M580 785h7M532 816h7M551 821h7M587 837h7M739 833h7M568 850h7M592 769h7M615 901h7M516 886h7M672 751h7M545 842h7M359 855h7M557 820h7M522 826h7M500 839h7M466 860h7M620 885h7M796 870h7M479 838h7M602 786h7M599 810h7M676 892h7M486 865h7M475 804h7M539 840h7M543 877h7M467 868h7M650 851h7M548 776h7M584 835h7M619 827h7M622 880h7M578 830h7M378 828h7M425 840h7M685 805h7M461 791h7M523 759h7M644 873h7M448 845h7M327 829h7M448 868h7M618 862h7M635 721h7M599 823h7M767 733h7M343 781h7M350 912h7M518 802h7M348 814h7M630 786h7M329 736h7M536 914h7M428 750h7M592 819h7M738 812h7M541 836h7M278 907h7M462 742h7M450 845h7M536 804h7M684 853h7M486 831h7M459 801h7M386 910h7M368 847h7M399 826h7M513 834h7M593 818h7M550 867h7M474 849h7M566 822h7M459 809h7M635 733h7M398 783h7M362 848h7M541 848h7M465 801h7M469 897h7M566 804h7M565 886h7M656 776h7M664 864h7M398 833h7M330 744h7M454 906h7M593 743h7M617 859h7M470 833h7M726 894h7M521 891h7M673 854h7M526 673h7M392 779h7M625 881h7M642 790h7M550 906h7M751 914h7M566 835h7M607 867h7M598 891h7M424 798h7M554 858h7M532 761h7M500 885h7M576 821h7M515 715h7M653 887h7M635 895h7M696 858h7M543 749h7M391 761h7M418 914h7M501 846h7M606 776h7M488 828h7M663 812h7M768 910h7M455 888h7M563 782h7M462 862h7M679 901h7M368 812h7M635 834h7M507 783h7M561 876h7M575 758h7M485 822h7M461 837h7M734 822h7M607 869h7M588 847h7M699 876h7M478 902h7M640 903h7M385 813h7M476 910h7M563 800h7M458 807h7M448 805h7M616 873h7M560 808h7M496 816h7M386 829h7M607 835h7M559 840h7M611 822h7M529 844h7M666 797h7M653 794h7M578 845h7M646 874h7M540 817h7M701 811h7M661 893h7M535 750h7M673 770h7M578 841h7M572 819h7M609 834h7M541 723h7M752 887h7M303 807h7M509 815h7M682 913h7M469 844h7M419 900h7M682 886h7M720 826h7M509 826h7M576 889h7M456 854h7M606 766h7M615 857h7M553 770h7M443 841h7M564 862h7M488 818h7M117 390h7M118 670h7M177 466h7M186 454h7M147 554h7M129 191h7M53 598h7M26 466h7M133 435h7M196 323h7M42 527h7M163 364h7M165 329h7M197 239h7M206 566h7M153 329h7M248 360h7M163 466h7M73 488h7M135 606h7M154 352h7M212 274h7M162 372h7M166 315h7M82 325h7M131 296h7M182 463h7M44 529h7M193 487h7M188 167h7M117 189h7M179 545h7M202 244h7M199 523h7M214 306h7M109 375h7M125 718h7M89 491h7M37 369h7M192 651h7M170 367h7M70 339h7M191 479h7M180 588h7M128 501h7M138 577h7M125 577h7M203 455h7M144 383h7M112 337h7M191 409h7M200 348h7M228 389h7M204 213h7M61 196h7M137 736h7M181 610h7M61 433h7M97 534h7M91 513h7M176 412h7M84 278h7M216 557h7M183 484h7M224 286h7M147 501h7M190 396h7M88 682h7M108 136h7M171 478h7M157 309h7M193 421h7M181 202h7M170 445h7M16 398h7M248 222h7M103 463h7M212 438h7M90 291h7M199 549h7M207 392h7M125 424h7M125 556h7M76 256h7M121 430h7M139 507h7M105 250h7M80 618h7M15 499h7M117 316h7M153 599h7M245 383h7M91 348h7M65 301h7M144 491h7M145 403h7M238 449h7M210 455h7M165 389h7M168 417h7M150 391h7M187 491h7M225 463h7M127 356h7M201 297h7M80 437h7M52 583h7M187 415h7M83 607h7M110 225h7M167 439h7M230 548h7M74 298h7M198 391h7M147 402h7M100 387h7M173 345h7M120 870h7M320 750h7M556 264h7M411 463h7M543 428h7M522 331h7M554 645h7M469 349h7M527 357h7M467 467h7M515 505h7M475 295h7M515 213h7M689 300h7M637 445h7M248 403h7M470 371h7M316 390h7M707 130h7M459 402h7M789 56h7M508 394h7M404 573h7M648 305h7M169 712h7M665 387h7M641 253h7M508 300h7M329 517h7M359 440h7M494 320h7M242 362h7M504 613h7M601 445h7M355 836h7M361 498h7M691 359h7M495 484h7M463 83h7M552 308h7M314 707h7M509 428h7M568 483h7M711 304h7M588 406h7M309 463h7M653 239h7M400 232h7M492 157h7M642 470h7M622 219h7M431 350h7M320 570h7M659 413h7M530 411h7M555 455h7M583 404h7M525 261h7M752 535h7M525 524h7M668 157h7M620 240h7M423 267h7M557 408h7M488 336h7M503 82h7M599 600h7M518 474h7M400 455h7M699 430h7M485 391h7M723 365h7M565 262h7M635 449h7M521 206h7M348 770h7M511 442h7M511 494h7M482 529h7M270 535h7M559 355h7M461 348h7M442 405h7M618 349h7M634 375h7M406 390h7M410 357h7M591 465h7M601 104h7M592 584h7M503 320h7M739 295h7M532 512h7M461 735h7M381 378h7M620 109h7M463 353h7M577 86h7M634 130h7M473 131h7M641 387h7M669 267h7M516 366h7M385 554h7M326 561h7M381 270h7M387 554h7M458 334h7M595 150h7M555 298h7M471 230h7M645 183h7M501 146h7M772 113h7M487 364h7M577 267h7M393 571h7M597 267h7M591 267h7M574 458h7M593 426h7M715 287h7M694 252h7M481 290h7M397 247h7M476 444h7M492 540h7M677 441h7M388 781h7M401 459h7M572 379h7M439 453h7M486 456h7M429 257h7M715 152h7M548 370h7M415 365h7M604 443h7M585 164h7M654 521h7M498 198h7M543 347h7M399 181h7M589 375h7M358 561h7M553 379h7M670 143h7M642 436h7M320 457h7M534 214h7M536 413h7M524 453h7M598 476h7M727 238h7M597 230h7M698 225h7M381 311h7M675 342h7M683 203h7M396 415h7M450 434h7M296 603h7M509 566h7M554 428h7M763 66h7M435 602h7M452 721h7M488 416h7M660 269h7M508 215h7M521 330h7M392 297h7M595 489h7M474 158h7M430 346h7M493 470h7M486 235h7M534 250h7M632 532h7M830 95h7M554 646h7M606 443h7M696 46h7M431 319h7M545 136h7M541 439h7M785 113h7M632 229h7M390 279h7M230 676h7M349 237h7M398 505h7M363 272h7M491 544h7M438 400h7M747 355h7M500 387h7M624 332h7M275 495h7M672 332h7M386 214h7M514 162h7M494 483h7M645 448h7M473 414h7M614 162h7M503 323h7M559 474h7M712 325h7" stroke="#000" stroke-width="7" fill="none" opacity="0.6"/>
<rect x="0" y="0" width="92" height="91.75" fill="none" stroke="#555" stroke-width="0.75"/>
<line x1="29.18" y1="0.00" x2="29.18" y2="57.80" stroke="#1e1e1e" stroke-width="0.85"/>
<line x1="29.18" y1="52.39" x2="48.72" y2="52.39" stroke="#1e1e1e" stroke-width="0.85"/>
<line x1="48.72" y1="52.39" x2="40.81" y2="68.87" stroke="#1e1e1e" stroke-width="0.85"/>
<line x1="29.18" y1="57.80" x2="0.00" y2="74.53" stroke="#1e1e1e" stroke-width="0.85"/>
<line x1="40.81" y1="68.87" x2="92.00" y2="68.87" stroke="#1e1e1e" stroke-width="0.85"/>
<line x1="40.81" y1="68.87" x2="26.71" y2="91.75" stroke="#1e1e1e" stroke-width="0.85"/>
<text x="2.00" y="5.00" font-size="4.00" font-weight="normal" fill="#222">0.39</text>
<text x="90.40" y="5.00" font-size="4.00" font-weight="normal" fill="#222" text-anchor="end">1.30</text>
<text x="90.40" y="80.88" font-size="4.20" font-weight="normal" fill="#222" text-anchor="end">24.21</text>
<text x="-2.3" y="24.08" font-size="4.0" font-weight="normal" fill="#333" text-anchor="end">10<tspan font-size="2.6" dy="-1.6">2</tspan></text>
<line x1="-1.6" y1="22.88" x2="0" y2="22.88" stroke="#777" stroke-width="0.5"/>
<text x="-2.3" y="47.44" font-size="4.0" font-weight="normal" fill="#333" text-anchor="end">10<tspan font-size="2.6" dy="-1.6">1</tspan></text>
<line x1="-1.6" y1="46.24" x2="0" y2="46.24" stroke="#777" stroke-width="0.5"/>
<text x="-2.3" y="70.32" font-size="4.0" font-weight="normal" fill="#333" text-anchor="end">10<tspan font-size="2.6" dy="-1.6">0</tspan></text>
<line x1="-1.6" y1="69.12" x2="0" y2="69.12" stroke="#777" stroke-width="0.5"/>
<text x="-2.3" y="92.95" font-size="3.8" font-weight="normal" fill="#333" text-anchor="end">0.19</text>
<text x="0.00" y="97.95" font-size="4.0" font-weight="normal" fill="#333" text-anchor="middle">0</text>
<line x1="0.00" y1="91.75" x2="0.00" y2="93.35" stroke="#777" stroke-width="0.5"/>
<text x="23.00" y="97.95" font-size="4.0" font-weight="normal" fill="#333" text-anchor="middle">10<tspan font-size="2.6" dy="-1.6">0</tspan></text>
<line x1="23.00" y1="91.75" x2="23.00" y2="93.35" stroke="#777" stroke-width="0.5"/>
<text x="45.75" y="97.95" font-size="4.0" font-weight="normal" fill="#333" text-anchor="middle">10<tspan font-size="2.6" dy="-1.6">1</tspan></text>
<line x1="45.75" y1="91.75" x2="45.75" y2="93.35" stroke="#777" stroke-width="0.5"/>
<text x="68.75" y="97.95" font-size="4.0" font-weight="normal" fill="#333" text-anchor="middle">10<tspan font-size="2.6" dy="-1.6">2</tspan></text>
<line x1="68.75" y1="91.75" x2="68.75" y2="93.35" stroke="#777" stroke-width="0.5"/>
</g>
<text x="83.75" y="252.30" font-size="8.90" textLength="47.50" lengthAdjust="spacingAndGlyphs" stroke="#000" stroke-width="0.22">Syngeneic</text>
<text x="150.20" y="248.30" font-size="10.40" textLength="21.30" lengthAdjust="spacingAndGlyphs" stroke="#000" stroke-width="0.22">CD4</text>
<text x="188.75" y="253.30" font-size="8.90" textLength="47.50" lengthAdjust="spacingAndGlyphs" stroke="#000" stroke-width="0.22">Allogeneic</text>
<text x="300.00" y="252.30" font-size="8.90" textLength="47.00" lengthAdjust="spacingAndGlyphs" stroke="#000" stroke-width="0.22">Syngeneic</text>
<text x="368.60" y="248.30" font-size="10.40" textLength="21.20" lengthAdjust="spacingAndGlyphs" stroke="#000" stroke-width="0.22">CD8</text>
<text x="408.25" y="253.30" font-size="8.90" textLength="48.00" lengthAdjust="spacingAndGlyphs" stroke="#000" stroke-width="0.22">Allogeneic</text>
<text transform="translate(47.3,312.9) rotate(-90)" font-size="11" textLength="23.5" lengthAdjust="spacingAndGlyphs">IL-17</text>
<line x1="42.70" y1="284.00" x2="42.70" y2="264.00" stroke="#111" stroke-width="1.3"/>
<polygon points="42.7,259.7 40.4,265.5 45,265.5" fill="#111"/>
<line x1="42.70" y1="317.70" x2="42.70" y2="346.70" stroke="#111" stroke-width="1.3"/>
<line x1="58.75" y1="362.30" x2="251.70" y2="362.30" stroke="#111" stroke-width="1.4"/>
<line x1="285.40" y1="362.30" x2="466.00" y2="362.30" stroke="#111" stroke-width="1.4"/>
<polygon points="478,362.4 464.8,360 464.8,364.8" fill="#111"/>
<text x="256.50" y="365.60" font-size="10.20" textLength="27.00" lengthAdjust="spacingAndGlyphs" stroke="#000" stroke-width="0.22">IFN-&#947;</text>
<text x="2.30" y="385.60" font-size="13.70" textLength="9.00" lengthAdjust="spacingAndGlyphs" stroke="#000" stroke-width="0.01">D</text>
<text x="2.90" y="495.20" font-size="13.90" textLength="8.10" lengthAdjust="spacingAndGlyphs" stroke="#000" stroke-width="0.01">E</text>
<line x1="35.00" y1="398.80" x2="35.00" y2="475.00" stroke="#8a8a8a" stroke-width="0.9"/>
<line x1="35.00" y1="475.00" x2="86.30" y2="475.00" stroke="#8a8a8a" stroke-width="0.9"/>
<line x1="32.80" y1="475.00" x2="35.00" y2="475.00" stroke="#8a8a8a" stroke-width="0.7"/>
<text x="27.50" y="476.73" font-size="4.80" fill="#333" textLength="3.20" lengthAdjust="spacingAndGlyphs">0</text>
<line x1="32.80" y1="449.77" x2="35.00" y2="449.77" stroke="#8a8a8a" stroke-width="0.7"/>
<text x="27.50" y="451.49" font-size="4.80" fill="#333" textLength="3.20" lengthAdjust="spacingAndGlyphs">5</text>
<line x1="32.80" y1="424.53" x2="35.00" y2="424.53" stroke="#8a8a8a" stroke-width="0.7"/>
<text x="24.30" y="426.26" font-size="4.80" fill="#333" textLength="6.40" lengthAdjust="spacingAndGlyphs">10</text>
<line x1="32.80" y1="399.30" x2="35.00" y2="399.30" stroke="#8a8a8a" stroke-width="0.7"/>
<text x="24.30" y="401.03" font-size="4.80" fill="#333" textLength="6.40" lengthAdjust="spacingAndGlyphs">15</text>
<line x1="53.75" y1="470.96" x2="53.75" y2="471.47" stroke="#999" stroke-width="0.75"/>
<line x1="52.55" y1="470.96" x2="54.95" y2="470.96" stroke="#999" stroke-width="0.75"/>
<rect x="46.65" y="471.47" width="14.20" height="3.53" fill="#fff" stroke="#666" stroke-width="0.7"/>
<line x1="68.75" y1="417.97" x2="68.75" y2="428.07" stroke="#999" stroke-width="0.75"/>
<line x1="67.55" y1="417.97" x2="69.95" y2="417.97" stroke="#999" stroke-width="0.75"/>
<rect x="61.25" y="428.07" width="15.00" height="46.93" fill="#000"/>
<polyline points="53.75,469.46 53.75,403.00 68.75,403.00 68.75,416.97" fill="none" stroke="#999" stroke-width="0.75"/>
<text x="61.25" y="404.00" font-size="9.40" text-anchor="middle" stroke="#000" stroke-width="0.35">*</text>
<text x="36.25" y="391.20" font-size="7.90" textLength="51.25" lengthAdjust="spacingAndGlyphs" stroke="#000" stroke-width="0.22">IL-17+ CD4</text>
<line x1="112.20" y1="398.70" x2="112.20" y2="475.20" stroke="#8a8a8a" stroke-width="0.9"/>
<line x1="112.20" y1="475.20" x2="164.00" y2="475.20" stroke="#8a8a8a" stroke-width="0.9"/>
<line x1="110.00" y1="475.20" x2="112.20" y2="475.20" stroke="#8a8a8a" stroke-width="0.7"/>
<text x="104.70" y="476.93" font-size="4.80" fill="#333" textLength="3.20" lengthAdjust="spacingAndGlyphs">0</text>
<line x1="110.00" y1="462.53" x2="112.20" y2="462.53" stroke="#8a8a8a" stroke-width="0.7"/>
<text x="104.70" y="464.26" font-size="4.80" fill="#333" textLength="3.20" lengthAdjust="spacingAndGlyphs">5</text>
<line x1="110.00" y1="449.87" x2="112.20" y2="449.87" stroke="#8a8a8a" stroke-width="0.7"/>
<text x="101.50" y="451.59" font-size="4.80" fill="#333" textLength="6.40" lengthAdjust="spacingAndGlyphs">10</text>
<line x1="110.00" y1="437.20" x2="112.20" y2="437.20" stroke="#8a8a8a" stroke-width="0.7"/>
<text x="101.50" y="438.93" font-size="4.80" fill="#333" textLength="6.40" lengthAdjust="spacingAndGlyphs">15</text>
<line x1="110.00" y1="424.53" x2="112.20" y2="424.53" stroke="#8a8a8a" stroke-width="0.7"/>
<text x="101.50" y="426.26" font-size="4.80" fill="#333" textLength="6.40" lengthAdjust="spacingAndGlyphs">20</text>
<line x1="110.00" y1="411.87" x2="112.20" y2="411.87" stroke="#8a8a8a" stroke-width="0.7"/>
<text x="101.50" y="413.59" font-size="4.80" fill="#333" textLength="6.40" lengthAdjust="spacingAndGlyphs">25</text>
<line x1="110.00" y1="399.20" x2="112.20" y2="399.20" stroke="#8a8a8a" stroke-width="0.7"/>
<text x="101.50" y="400.93" font-size="4.80" fill="#333" textLength="6.40" lengthAdjust="spacingAndGlyphs">30</text>
<line x1="130.50" y1="471.15" x2="130.50" y2="471.40" stroke="#999" stroke-width="0.75"/>
<line x1="129.30" y1="471.15" x2="131.70" y2="471.15" stroke="#999" stroke-width="0.75"/>
<rect x="123.40" y="471.40" width="14.20" height="3.80" fill="#fff" stroke="#666" stroke-width="0.7"/>
<line x1="145.50" y1="409.33" x2="145.50" y2="420.73" stroke="#999" stroke-width="0.75"/>
<line x1="144.30" y1="409.33" x2="146.70" y2="409.33" stroke="#999" stroke-width="0.75"/>
<rect x="138.00" y="420.73" width="15.00" height="54.47" fill="#000"/>
<polyline points="130.50,469.65 130.50,403.30 145.50,403.30 145.50,408.33" fill="none" stroke="#999" stroke-width="0.75"/>
<text x="138.00" y="404.30" font-size="9.40" text-anchor="middle" stroke="#000" stroke-width="0.35">*</text>
<text x="110.80" y="391.20" font-size="7.90" textLength="49.40" lengthAdjust="spacingAndGlyphs" stroke="#000" stroke-width="0.22">IFN-&#947;+ CD4</text>
<line x1="188.60" y1="398.70" x2="188.60" y2="474.70" stroke="#8a8a8a" stroke-width="0.9"/>
<line x1="188.60" y1="474.70" x2="239.50" y2="474.70" stroke="#8a8a8a" stroke-width="0.9"/>
<line x1="186.40" y1="474.70" x2="188.60" y2="474.70" stroke="#8a8a8a" stroke-width="0.7"/>
<text x="181.10" y="476.43" font-size="4.80" fill="#333" textLength="3.20" lengthAdjust="spacingAndGlyphs">0</text>
<line x1="186.40" y1="455.82" x2="188.60" y2="455.82" stroke="#8a8a8a" stroke-width="0.7"/>
<text x="181.10" y="457.55" font-size="4.80" fill="#333" textLength="3.20" lengthAdjust="spacingAndGlyphs">1</text>
<line x1="186.40" y1="436.95" x2="188.60" y2="436.95" stroke="#8a8a8a" stroke-width="0.7"/>
<text x="181.10" y="438.68" font-size="4.80" fill="#333" textLength="3.20" lengthAdjust="spacingAndGlyphs">2</text>
<line x1="186.40" y1="418.07" x2="188.60" y2="418.07" stroke="#8a8a8a" stroke-width="0.7"/>
<text x="181.10" y="419.80" font-size="4.80" fill="#333" textLength="3.20" lengthAdjust="spacingAndGlyphs">3</text>
<line x1="186.40" y1="399.20" x2="188.60" y2="399.20" stroke="#8a8a8a" stroke-width="0.7"/>
<text x="181.10" y="400.93" font-size="4.80" fill="#333" textLength="3.20" lengthAdjust="spacingAndGlyphs">4</text>
<line x1="206.50" y1="473.19" x2="206.50" y2="473.38" stroke="#999" stroke-width="0.75"/>
<line x1="205.30" y1="473.19" x2="207.70" y2="473.19" stroke="#999" stroke-width="0.75"/>
<rect x="199.40" y="473.38" width="14.20" height="1.32" fill="#fff" stroke="#666" stroke-width="0.7"/>
<line x1="221.70" y1="407.69" x2="221.70" y2="413.54" stroke="#999" stroke-width="0.75"/>
<line x1="220.50" y1="407.69" x2="222.90" y2="407.69" stroke="#999" stroke-width="0.75"/>
<rect x="214.00" y="413.54" width="15.40" height="61.16" fill="#000"/>
<polyline points="206.50,471.69 206.50,400.20 221.70,400.20 221.70,406.69" fill="none" stroke="#999" stroke-width="0.75"/>
<text x="214.10" y="401.20" font-size="9.40" text-anchor="middle" stroke="#000" stroke-width="0.35">**</text>
<text x="173.00" y="391.20" font-size="7.90" textLength="77.50" lengthAdjust="spacingAndGlyphs" stroke="#000" stroke-width="0.22">IFN-&#947;+IL-17+ CD4</text>
<line x1="287.00" y1="398.75" x2="287.00" y2="474.50" stroke="#8a8a8a" stroke-width="0.9"/>
<line x1="287.00" y1="474.50" x2="341.00" y2="474.50" stroke="#8a8a8a" stroke-width="0.9"/>
<line x1="284.80" y1="474.50" x2="287.00" y2="474.50" stroke="#8a8a8a" stroke-width="0.7"/>
<text x="279.50" y="476.23" font-size="4.80" fill="#333" textLength="3.20" lengthAdjust="spacingAndGlyphs">0</text>
<line x1="284.80" y1="449.42" x2="287.00" y2="449.42" stroke="#8a8a8a" stroke-width="0.7"/>
<text x="279.50" y="451.14" font-size="4.80" fill="#333" textLength="3.20" lengthAdjust="spacingAndGlyphs">5</text>
<line x1="284.80" y1="424.33" x2="287.00" y2="424.33" stroke="#8a8a8a" stroke-width="0.7"/>
<text x="276.30" y="426.06" font-size="4.80" fill="#333" textLength="6.40" lengthAdjust="spacingAndGlyphs">10</text>
<line x1="284.80" y1="399.25" x2="287.00" y2="399.25" stroke="#8a8a8a" stroke-width="0.7"/>
<text x="276.30" y="400.98" font-size="4.80" fill="#333" textLength="6.40" lengthAdjust="spacingAndGlyphs">15</text>
<line x1="298.00" y1="474.10" x2="312.50" y2="474.10" stroke="#999" stroke-width="0.9"/>
<line x1="320.00" y1="470.99" x2="320.00" y2="471.49" stroke="#999" stroke-width="0.75"/>
<line x1="318.80" y1="470.99" x2="321.20" y2="470.99" stroke="#999" stroke-width="0.75"/>
<rect x="312.50" y="471.49" width="15.00" height="3.01" fill="#000"/>
<text x="283.75" y="391.20" font-size="7.90" textLength="49.25" lengthAdjust="spacingAndGlyphs" stroke="#000" stroke-width="0.22">IL-17+ CD8</text>
<line x1="362.40" y1="399.10" x2="362.40" y2="474.70" stroke="#8a8a8a" stroke-width="0.9"/>
<line x1="362.40" y1="474.70" x2="412.50" y2="474.70" stroke="#8a8a8a" stroke-width="0.9"/>
<line x1="360.20" y1="474.70" x2="362.40" y2="474.70" stroke="#8a8a8a" stroke-width="0.7"/>
<text x="354.90" y="476.43" font-size="4.80" fill="#333" textLength="3.20" lengthAdjust="spacingAndGlyphs">0</text>
<line x1="360.20" y1="462.18" x2="362.40" y2="462.18" stroke="#8a8a8a" stroke-width="0.7"/>
<text x="354.90" y="463.91" font-size="4.80" fill="#333" textLength="3.20" lengthAdjust="spacingAndGlyphs">5</text>
<line x1="360.20" y1="449.67" x2="362.40" y2="449.67" stroke="#8a8a8a" stroke-width="0.7"/>
<text x="351.70" y="451.39" font-size="4.80" fill="#333" textLength="6.40" lengthAdjust="spacingAndGlyphs">10</text>
<line x1="360.20" y1="437.15" x2="362.40" y2="437.15" stroke="#8a8a8a" stroke-width="0.7"/>
<text x="351.70" y="438.88" font-size="4.80" fill="#333" textLength="6.40" lengthAdjust="spacingAndGlyphs">15</text>
<line x1="360.20" y1="424.63" x2="362.40" y2="424.63" stroke="#8a8a8a" stroke-width="0.7"/>
<text x="351.70" y="426.36" font-size="4.80" fill="#333" textLength="6.40" lengthAdjust="spacingAndGlyphs">20</text>
<line x1="360.20" y1="412.12" x2="362.40" y2="412.12" stroke="#8a8a8a" stroke-width="0.7"/>
<text x="351.70" y="413.84" font-size="4.80" fill="#333" textLength="6.40" lengthAdjust="spacingAndGlyphs">25</text>
<line x1="360.20" y1="399.60" x2="362.40" y2="399.60" stroke="#8a8a8a" stroke-width="0.7"/>
<text x="351.70" y="401.33" font-size="4.80" fill="#333" textLength="6.40" lengthAdjust="spacingAndGlyphs">30</text>
<line x1="379.70" y1="473.20" x2="379.70" y2="473.45" stroke="#999" stroke-width="0.75"/>
<line x1="378.50" y1="473.20" x2="380.90" y2="473.20" stroke="#999" stroke-width="0.75"/>
<rect x="372.70" y="473.45" width="14.00" height="1.25" fill="#fff" stroke="#666" stroke-width="0.7"/>
<line x1="394.50" y1="425.88" x2="394.50" y2="430.89" stroke="#999" stroke-width="0.75"/>
<line x1="393.30" y1="425.88" x2="395.70" y2="425.88" stroke="#999" stroke-width="0.75"/>
<rect x="387.10" y="430.89" width="14.80" height="43.81" fill="#000"/>
<polyline points="379.70,471.70 379.70,413.40 394.50,413.40 394.50,424.88" fill="none" stroke="#999" stroke-width="0.75"/>
<text x="387.10" y="414.40" font-size="9.40" text-anchor="middle" stroke="#000" stroke-width="0.35">**</text>
<text x="358.60" y="391.20" font-size="7.90" textLength="50.10" lengthAdjust="spacingAndGlyphs" stroke="#000" stroke-width="0.22">IFN-&#947;+ CD8</text>
<line x1="440.40" y1="398.30" x2="440.40" y2="475.00" stroke="#8a8a8a" stroke-width="0.9"/>
<line x1="440.40" y1="475.00" x2="492.30" y2="475.00" stroke="#8a8a8a" stroke-width="0.9"/>
<line x1="438.20" y1="475.00" x2="440.40" y2="475.00" stroke="#8a8a8a" stroke-width="0.7"/>
<text x="432.90" y="476.73" font-size="4.80" fill="#333" textLength="3.20" lengthAdjust="spacingAndGlyphs">0</text>
<line x1="438.20" y1="455.95" x2="440.40" y2="455.95" stroke="#8a8a8a" stroke-width="0.7"/>
<text x="432.90" y="457.68" font-size="4.80" fill="#333" textLength="3.20" lengthAdjust="spacingAndGlyphs">1</text>
<line x1="438.20" y1="436.90" x2="440.40" y2="436.90" stroke="#8a8a8a" stroke-width="0.7"/>
<text x="432.90" y="438.63" font-size="4.80" fill="#333" textLength="3.20" lengthAdjust="spacingAndGlyphs">2</text>
<line x1="438.20" y1="417.85" x2="440.40" y2="417.85" stroke="#8a8a8a" stroke-width="0.7"/>
<text x="432.90" y="419.58" font-size="4.80" fill="#333" textLength="3.20" lengthAdjust="spacingAndGlyphs">3</text>
<line x1="438.20" y1="398.80" x2="440.40" y2="398.80" stroke="#8a8a8a" stroke-width="0.7"/>
<text x="432.90" y="400.53" font-size="4.80" fill="#333" textLength="3.20" lengthAdjust="spacingAndGlyphs">4</text>
<line x1="452.00" y1="474.60" x2="466.20" y2="474.60" stroke="#999" stroke-width="0.9"/>
<line x1="473.70" y1="468.90" x2="473.70" y2="469.29" stroke="#999" stroke-width="0.75"/>
<line x1="472.50" y1="468.90" x2="474.90" y2="468.90" stroke="#999" stroke-width="0.75"/>
<rect x="466.20" y="469.29" width="15.00" height="5.71" fill="#000"/>
<text x="431.20" y="391.20" font-size="7.90" textLength="77.30" lengthAdjust="spacingAndGlyphs" stroke="#000" stroke-width="0.22">IFN-&#947;+IL-17+ CD8</text>
<line x1="35.40" y1="499.50" x2="35.40" y2="575.50" stroke="#8a8a8a" stroke-width="0.9"/>
<line x1="35.40" y1="575.50" x2="86.30" y2="575.50" stroke="#8a8a8a" stroke-width="0.9"/>
<line x1="33.20" y1="575.50" x2="35.40" y2="575.50" stroke="#8a8a8a" stroke-width="0.7"/>
<text x="27.40" y="577.23" font-size="4.80" fill="#333" textLength="2.40" lengthAdjust="spacingAndGlyphs">0</text>
<line x1="33.20" y1="556.62" x2="35.40" y2="556.62" stroke="#8a8a8a" stroke-width="0.7"/>
<text x="23.80" y="558.35" font-size="4.80" fill="#333" textLength="6.00" lengthAdjust="spacingAndGlyphs">0.1</text>
<line x1="33.20" y1="537.75" x2="35.40" y2="537.75" stroke="#8a8a8a" stroke-width="0.7"/>
<text x="23.80" y="539.48" font-size="4.80" fill="#333" textLength="6.00" lengthAdjust="spacingAndGlyphs">0.2</text>
<line x1="33.20" y1="518.88" x2="35.40" y2="518.88" stroke="#8a8a8a" stroke-width="0.7"/>
<text x="23.80" y="520.60" font-size="4.80" fill="#333" textLength="6.00" lengthAdjust="spacingAndGlyphs">0.3</text>
<line x1="33.20" y1="500.00" x2="35.40" y2="500.00" stroke="#8a8a8a" stroke-width="0.7"/>
<text x="23.80" y="501.73" font-size="4.80" fill="#333" textLength="6.00" lengthAdjust="spacingAndGlyphs">0.4</text>
<line x1="53.75" y1="562.29" x2="53.75" y2="566.06" stroke="#999" stroke-width="0.75"/>
<line x1="52.55" y1="562.29" x2="54.95" y2="562.29" stroke="#999" stroke-width="0.75"/>
<rect x="46.65" y="566.06" width="14.20" height="9.44" fill="#fff" stroke="#666" stroke-width="0.7"/>
<line x1="68.38" y1="513.21" x2="68.38" y2="524.54" stroke="#999" stroke-width="0.75"/>
<line x1="67.17" y1="513.21" x2="69.58" y2="513.21" stroke="#999" stroke-width="0.75"/>
<rect x="61.25" y="524.54" width="14.25" height="50.96" fill="#000"/>
<text x="36.25" y="494.80" font-size="7.90" textLength="50.00" lengthAdjust="spacingAndGlyphs" stroke="#000" stroke-width="0.22">IL-17+ CD4</text>
<line x1="111.60" y1="499.40" x2="111.60" y2="575.50" stroke="#8a8a8a" stroke-width="0.9"/>
<line x1="111.60" y1="575.50" x2="161.00" y2="575.50" stroke="#8a8a8a" stroke-width="0.9"/>
<line x1="109.40" y1="575.50" x2="111.60" y2="575.50" stroke="#8a8a8a" stroke-width="0.7"/>
<text x="104.10" y="577.23" font-size="4.80" fill="#333" textLength="3.20" lengthAdjust="spacingAndGlyphs">0</text>
<line x1="109.40" y1="556.60" x2="111.60" y2="556.60" stroke="#8a8a8a" stroke-width="0.7"/>
<text x="99.30" y="558.33" font-size="4.80" fill="#333" textLength="8.00" lengthAdjust="spacingAndGlyphs">0.5</text>
<line x1="109.40" y1="537.70" x2="111.60" y2="537.70" stroke="#8a8a8a" stroke-width="0.7"/>
<text x="104.10" y="539.43" font-size="4.80" fill="#333" textLength="3.20" lengthAdjust="spacingAndGlyphs">1</text>
<line x1="109.40" y1="518.80" x2="111.60" y2="518.80" stroke="#8a8a8a" stroke-width="0.7"/>
<text x="99.30" y="520.53" font-size="4.80" fill="#333" textLength="8.00" lengthAdjust="spacingAndGlyphs">1.5</text>
<line x1="109.40" y1="499.90" x2="111.60" y2="499.90" stroke="#8a8a8a" stroke-width="0.7"/>
<text x="104.10" y="501.63" font-size="4.80" fill="#333" textLength="3.20" lengthAdjust="spacingAndGlyphs">2</text>
<line x1="130.00" y1="568.32" x2="130.00" y2="569.83" stroke="#999" stroke-width="0.75"/>
<line x1="128.80" y1="568.32" x2="131.20" y2="568.32" stroke="#999" stroke-width="0.75"/>
<rect x="123.30" y="569.83" width="13.40" height="5.67" fill="#fff" stroke="#666" stroke-width="0.7"/>
<line x1="144.25" y1="524.09" x2="144.25" y2="525.23" stroke="#999" stroke-width="0.75"/>
<line x1="143.05" y1="524.09" x2="145.45" y2="524.09" stroke="#999" stroke-width="0.75"/>
<rect x="137.10" y="525.23" width="14.30" height="50.27" fill="#000"/>
<polyline points="130.00,566.82 130.00,511.70 144.25,511.70 144.25,523.09" fill="none" stroke="#999" stroke-width="0.75"/>
<text x="137.12" y="512.70" font-size="9.40" text-anchor="middle" stroke="#000" stroke-width="0.35">*</text>
<text x="111.10" y="494.80" font-size="7.90" textLength="49.90" lengthAdjust="spacingAndGlyphs" stroke="#000" stroke-width="0.22">IFN-&#947;+ CD4</text>
<line x1="188.10" y1="499.30" x2="188.10" y2="576.20" stroke="#8a8a8a" stroke-width="0.9"/>
<line x1="188.10" y1="576.20" x2="239.60" y2="576.20" stroke="#8a8a8a" stroke-width="0.9"/>
<line x1="185.90" y1="576.20" x2="188.10" y2="576.20" stroke="#8a8a8a" stroke-width="0.7"/>
<text x="180.60" y="577.93" font-size="4.80" fill="#333" textLength="3.20" lengthAdjust="spacingAndGlyphs">0</text>
<line x1="185.90" y1="550.73" x2="188.10" y2="550.73" stroke="#8a8a8a" stroke-width="0.7"/>
<text x="175.80" y="552.46" font-size="4.80" fill="#333" textLength="8.00" lengthAdjust="spacingAndGlyphs">0.1</text>
<line x1="185.90" y1="525.27" x2="188.10" y2="525.27" stroke="#8a8a8a" stroke-width="0.7"/>
<text x="175.80" y="526.99" font-size="4.80" fill="#333" textLength="8.00" lengthAdjust="spacingAndGlyphs">0.2</text>
<line x1="185.90" y1="499.80" x2="188.10" y2="499.80" stroke="#8a8a8a" stroke-width="0.7"/>
<text x="175.80" y="501.53" font-size="4.80" fill="#333" textLength="8.00" lengthAdjust="spacingAndGlyphs">0.3</text>
<line x1="206.50" y1="572.38" x2="206.50" y2="576.20" stroke="#999" stroke-width="0.75"/>
<line x1="205.30" y1="572.38" x2="207.70" y2="572.38" stroke="#999" stroke-width="0.75"/>
<line x1="199.00" y1="575.80" x2="214.00" y2="575.80" stroke="#999" stroke-width="0.9"/>
<line x1="221.50" y1="517.63" x2="221.50" y2="525.27" stroke="#999" stroke-width="0.75"/>
<line x1="220.30" y1="517.63" x2="222.70" y2="517.63" stroke="#999" stroke-width="0.75"/>
<rect x="214.00" y="525.27" width="15.00" height="50.93" fill="#000"/>
<polyline points="206.50,570.88 206.50,505.00 221.50,505.00 221.50,516.63" fill="none" stroke="#999" stroke-width="0.75"/>
<text x="214.00" y="506.00" font-size="9.40" text-anchor="middle" stroke="#000" stroke-width="0.35">**</text>
<text x="173.10" y="494.80" font-size="7.90" textLength="77.50" lengthAdjust="spacingAndGlyphs" stroke="#000" stroke-width="0.22">IFN-&#947;+IL-17+ CD4</text>
<line x1="287.40" y1="499.50" x2="287.40" y2="576.25" stroke="#8a8a8a" stroke-width="0.9"/>
<line x1="287.40" y1="576.25" x2="342.50" y2="576.25" stroke="#8a8a8a" stroke-width="0.9"/>
<line x1="285.20" y1="576.25" x2="287.40" y2="576.25" stroke="#8a8a8a" stroke-width="0.7"/>
<text x="279.20" y="577.98" font-size="4.80" fill="#333" textLength="3.10" lengthAdjust="spacingAndGlyphs">0</text>
<line x1="285.20" y1="557.19" x2="287.40" y2="557.19" stroke="#8a8a8a" stroke-width="0.7"/>
<text x="274.55" y="558.92" font-size="4.80" fill="#333" textLength="7.75" lengthAdjust="spacingAndGlyphs">0.1</text>
<line x1="285.20" y1="538.12" x2="287.40" y2="538.12" stroke="#8a8a8a" stroke-width="0.7"/>
<text x="274.55" y="539.85" font-size="4.80" fill="#333" textLength="7.75" lengthAdjust="spacingAndGlyphs">0.2</text>
<line x1="285.20" y1="519.06" x2="287.40" y2="519.06" stroke="#8a8a8a" stroke-width="0.7"/>
<text x="274.55" y="520.79" font-size="4.80" fill="#333" textLength="7.75" lengthAdjust="spacingAndGlyphs">0.3</text>
<line x1="285.20" y1="500.00" x2="287.40" y2="500.00" stroke="#8a8a8a" stroke-width="0.7"/>
<text x="274.55" y="501.73" font-size="4.80" fill="#333" textLength="7.75" lengthAdjust="spacingAndGlyphs">0.4</text>
<line x1="298.00" y1="575.85" x2="312.50" y2="575.85" stroke="#999" stroke-width="0.9"/>
<line x1="320.00" y1="567.67" x2="320.00" y2="570.53" stroke="#999" stroke-width="0.75"/>
<line x1="318.80" y1="567.67" x2="321.20" y2="567.67" stroke="#999" stroke-width="0.75"/>
<rect x="312.50" y="570.53" width="15.00" height="5.72" fill="#000"/>
<text x="283.75" y="494.80" font-size="7.90" textLength="50.00" lengthAdjust="spacingAndGlyphs" stroke="#000" stroke-width="0.22">IL-17+ CD8</text>
<line x1="362.20" y1="499.50" x2="362.20" y2="576.80" stroke="#8a8a8a" stroke-width="0.9"/>
<line x1="362.20" y1="576.80" x2="412.00" y2="576.80" stroke="#8a8a8a" stroke-width="0.9"/>
<line x1="360.00" y1="576.80" x2="362.20" y2="576.80" stroke="#8a8a8a" stroke-width="0.7"/>
<text x="354.70" y="578.53" font-size="4.80" fill="#333" textLength="3.20" lengthAdjust="spacingAndGlyphs">0</text>
<line x1="360.00" y1="557.60" x2="362.20" y2="557.60" stroke="#8a8a8a" stroke-width="0.7"/>
<text x="349.90" y="559.33" font-size="4.80" fill="#333" textLength="8.00" lengthAdjust="spacingAndGlyphs">0.5</text>
<line x1="360.00" y1="538.40" x2="362.20" y2="538.40" stroke="#8a8a8a" stroke-width="0.7"/>
<text x="354.70" y="540.13" font-size="4.80" fill="#333" textLength="3.20" lengthAdjust="spacingAndGlyphs">1</text>
<line x1="360.00" y1="519.20" x2="362.20" y2="519.20" stroke="#8a8a8a" stroke-width="0.7"/>
<text x="349.90" y="520.93" font-size="4.80" fill="#333" textLength="8.00" lengthAdjust="spacingAndGlyphs">1.5</text>
<line x1="360.00" y1="500.00" x2="362.20" y2="500.00" stroke="#8a8a8a" stroke-width="0.7"/>
<text x="354.70" y="501.73" font-size="4.80" fill="#333" textLength="3.20" lengthAdjust="spacingAndGlyphs">2</text>
<line x1="379.30" y1="572.58" x2="379.30" y2="572.96" stroke="#999" stroke-width="0.75"/>
<line x1="378.10" y1="572.58" x2="380.50" y2="572.58" stroke="#999" stroke-width="0.75"/>
<rect x="372.40" y="572.96" width="13.80" height="3.84" fill="#fff" stroke="#666" stroke-width="0.7"/>
<line x1="394.45" y1="540.32" x2="394.45" y2="542.24" stroke="#999" stroke-width="0.75"/>
<line x1="393.25" y1="540.32" x2="395.65" y2="540.32" stroke="#999" stroke-width="0.75"/>
<rect x="386.60" y="542.24" width="15.70" height="34.56" fill="#000"/>
<polyline points="379.30,571.08 379.30,527.50 394.45,527.50 394.45,539.32" fill="none" stroke="#999" stroke-width="0.75"/>
<text x="386.88" y="528.50" font-size="9.40" text-anchor="middle" stroke="#000" stroke-width="0.35">***</text>
<text x="357.40" y="494.80" font-size="7.90" textLength="50.10" lengthAdjust="spacingAndGlyphs" stroke="#000" stroke-width="0.22">IFN-&#947;+ CD8</text>
<line x1="441.30" y1="499.60" x2="441.30" y2="576.30" stroke="#8a8a8a" stroke-width="0.9"/>
<line x1="441.30" y1="576.30" x2="493.60" y2="576.30" stroke="#8a8a8a" stroke-width="0.9"/>
<line x1="439.10" y1="576.30" x2="441.30" y2="576.30" stroke="#8a8a8a" stroke-width="0.7"/>
<text x="433.80" y="578.03" font-size="4.80" fill="#333" textLength="3.20" lengthAdjust="spacingAndGlyphs">0</text>
<line x1="439.10" y1="550.90" x2="441.30" y2="550.90" stroke="#8a8a8a" stroke-width="0.7"/>
<text x="429.00" y="552.63" font-size="4.80" fill="#333" textLength="8.00" lengthAdjust="spacingAndGlyphs">0.1</text>
<line x1="439.10" y1="525.50" x2="441.30" y2="525.50" stroke="#8a8a8a" stroke-width="0.7"/>
<text x="429.00" y="527.23" font-size="4.80" fill="#333" textLength="8.00" lengthAdjust="spacingAndGlyphs">0.2</text>
<line x1="439.10" y1="500.10" x2="441.30" y2="500.10" stroke="#8a8a8a" stroke-width="0.7"/>
<text x="429.00" y="501.83" font-size="4.80" fill="#333" textLength="8.00" lengthAdjust="spacingAndGlyphs">0.3</text>
<line x1="452.00" y1="575.90" x2="466.00" y2="575.90" stroke="#999" stroke-width="0.9"/>
<line x1="473.45" y1="564.36" x2="473.45" y2="568.68" stroke="#999" stroke-width="0.75"/>
<line x1="472.25" y1="564.36" x2="474.65" y2="564.36" stroke="#999" stroke-width="0.75"/>
<rect x="466.00" y="568.68" width="14.90" height="7.62" fill="#000"/>
<text x="431.20" y="494.80" font-size="7.90" textLength="77.20" lengthAdjust="spacingAndGlyphs" stroke="#000" stroke-width="0.22">IFN-&#947;+IL-17+ CD8</text>
<text transform="translate(22.57,469.70) rotate(-90)" x="0" y="0" font-size="10.20" stroke="#000" stroke-width="0.15" textLength="46.40" lengthAdjust="spacingAndGlyphs">Lung cells</text>
<text transform="translate(21.47,421.10) rotate(-90)" font-size="5.20" stroke="#000" stroke-width="0.12" textLength="21.30" lengthAdjust="spacingAndGlyphs">(&#215;10<tspan font-size="3.64" dy="-2.34">4</tspan><tspan dy="2.34">)</tspan></text>
<text transform="translate(274.07,469.70) rotate(-90)" x="0" y="0" font-size="10.20" stroke="#000" stroke-width="0.15" textLength="46.40" lengthAdjust="spacingAndGlyphs">Lung cells</text>
<text transform="translate(272.97,421.10) rotate(-90)" font-size="5.20" stroke="#000" stroke-width="0.12" textLength="21.30" lengthAdjust="spacingAndGlyphs">(&#215;10<tspan font-size="3.64" dy="-2.34">4</tspan><tspan dy="2.34">)</tspan></text>
<text transform="translate(98.66,444.20) rotate(-90)" font-size="6.00" stroke="#000" stroke-width="0.12" textLength="20.50" lengthAdjust="spacingAndGlyphs">(&#215;10<tspan font-size="4.20" dy="-2.70">4</tspan><tspan dy="2.70">)</tspan></text>
<text transform="translate(172.96,444.20) rotate(-90)" font-size="6.00" stroke="#000" stroke-width="0.12" textLength="20.50" lengthAdjust="spacingAndGlyphs">(&#215;10<tspan font-size="4.20" dy="-2.70">4</tspan><tspan dy="2.70">)</tspan></text>
<text transform="translate(346.96,444.20) rotate(-90)" font-size="6.00" stroke="#000" stroke-width="0.12" textLength="20.50" lengthAdjust="spacingAndGlyphs">(&#215;10<tspan font-size="4.20" dy="-2.70">4</tspan><tspan dy="2.70">)</tspan></text>
<text transform="translate(426.36,444.20) rotate(-90)" font-size="6.00" stroke="#000" stroke-width="0.12" textLength="20.50" lengthAdjust="spacingAndGlyphs">(&#215;10<tspan font-size="4.20" dy="-2.70">4</tspan><tspan dy="2.70">)</tspan></text>
<text transform="translate(23.27,569.70) rotate(-90)" x="0" y="0" font-size="10.20" stroke="#000" stroke-width="0.15" textLength="46.40" lengthAdjust="spacingAndGlyphs">Liver cells</text>
<text transform="translate(21.47,520.60) rotate(-90)" font-size="5.20" stroke="#000" stroke-width="0.12" textLength="21.90" lengthAdjust="spacingAndGlyphs">(&#215;10<tspan font-size="3.64" dy="-2.34">4</tspan><tspan dy="2.34">)</tspan></text>
<text transform="translate(273.37,569.70) rotate(-90)" x="0" y="0" font-size="10.20" stroke="#000" stroke-width="0.15" textLength="46.40" lengthAdjust="spacingAndGlyphs">Liver cells</text>
<text transform="translate(272.87,520.00) rotate(-90)" font-size="5.20" stroke="#000" stroke-width="0.12" textLength="21.25" lengthAdjust="spacingAndGlyphs">(&#215;10<tspan font-size="3.64" dy="-2.34">4</tspan><tspan dy="2.34">)</tspan></text>
<text transform="translate(99.56,545.00) rotate(-90)" font-size="6.00" stroke="#000" stroke-width="0.12" textLength="21.00" lengthAdjust="spacingAndGlyphs">(&#215;10<tspan font-size="4.20" dy="-2.70">4</tspan><tspan dy="2.70">)</tspan></text>
<text transform="translate(173.36,545.00) rotate(-90)" font-size="6.00" stroke="#000" stroke-width="0.12" textLength="21.00" lengthAdjust="spacingAndGlyphs">(&#215;10<tspan font-size="4.20" dy="-2.70">4</tspan><tspan dy="2.70">)</tspan></text>
<text transform="translate(347.36,545.00) rotate(-90)" font-size="6.00" stroke="#000" stroke-width="0.12" textLength="21.00" lengthAdjust="spacingAndGlyphs">(&#215;10<tspan font-size="4.20" dy="-2.70">4</tspan><tspan dy="2.70">)</tspan></text>
<text transform="translate(426.76,545.00) rotate(-90)" font-size="6.00" stroke="#000" stroke-width="0.12" textLength="21.00" lengthAdjust="spacingAndGlyphs">(&#215;10<tspan font-size="4.20" dy="-2.70">4</tspan><tspan dy="2.70">)</tspan></text>
<rect x="468.60" y="402.90" width="6.00" height="4.40" fill="#fff" stroke="#333" stroke-width="0.8"/>
<rect x="468.20" y="412.30" width="6.80" height="5.20" fill="#000"/>
<text x="478.50" y="407.60" font-size="7.20" textLength="38.00" lengthAdjust="spacingAndGlyphs" stroke="#000" stroke-width="0.22">Syngeneic</text>
<text x="478.50" y="417.40" font-size="7.20" textLength="38.60" lengthAdjust="spacingAndGlyphs" stroke="#000" stroke-width="0.22">Allogeneic</text>
<rect x="468.60" y="505.70" width="6.00" height="4.20" fill="#fff" stroke="#333" stroke-width="0.8"/>
<rect x="468.20" y="514.90" width="6.80" height="5.00" fill="#000"/>
<text x="478.50" y="510.20" font-size="7.20" textLength="38.30" lengthAdjust="spacingAndGlyphs" stroke="#000" stroke-width="0.22">Syngeneic</text>
<text x="478.50" y="519.80" font-size="7.20" textLength="38.90" lengthAdjust="spacingAndGlyphs" stroke="#000" stroke-width="0.22">Allogeneic</text>
<text x="20.10" y="595.60" font-size="14.30" textLength="6.90" lengthAdjust="spacingAndGlyphs" stroke="#000" stroke-width="0.01">F</text>
<line x1="72.50" y1="596.90" x2="72.50" y2="674.20" stroke="#8a8a8a" stroke-width="0.9"/>
<line x1="72.50" y1="674.20" x2="145.00" y2="674.20" stroke="#8a8a8a" stroke-width="0.9"/>
<line x1="70.30" y1="674.20" x2="72.50" y2="674.20" stroke="#8a8a8a" stroke-width="0.7"/>
<text x="67.15" y="676.11" font-size="5.30" font-weight="normal" fill="#555" textLength="1.95" lengthAdjust="spacingAndGlyphs">0</text>
<line x1="70.30" y1="648.60" x2="72.50" y2="648.60" stroke="#8a8a8a" stroke-width="0.7"/>
<text x="63.25" y="650.51" font-size="5.30" font-weight="normal" fill="#555" textLength="5.85" lengthAdjust="spacingAndGlyphs">500</text>
<line x1="70.30" y1="623.00" x2="72.50" y2="623.00" stroke="#8a8a8a" stroke-width="0.7"/>
<text x="61.30" y="624.91" font-size="5.30" font-weight="normal" fill="#555" textLength="7.80" lengthAdjust="spacingAndGlyphs">1000</text>
<line x1="70.30" y1="597.40" x2="72.50" y2="597.40" stroke="#8a8a8a" stroke-width="0.7"/>
<text x="61.30" y="599.31" font-size="5.30" font-weight="normal" fill="#555" textLength="7.80" lengthAdjust="spacingAndGlyphs">1500</text>
<line x1="85.50" y1="651.67" x2="85.50" y2="657.82" stroke="#999" stroke-width="0.75"/>
<line x1="84.30" y1="651.67" x2="86.70" y2="651.67" stroke="#999" stroke-width="0.75"/>
<rect x="80.70" y="657.82" width="9.60" height="16.38" fill="#fff" stroke="#666" stroke-width="0.7"/>
<line x1="96.35" y1="656.79" x2="96.35" y2="660.89" stroke="#999" stroke-width="0.75"/>
<line x1="95.15" y1="656.79" x2="97.55" y2="656.79" stroke="#999" stroke-width="0.75"/>
<rect x="90.70" y="660.89" width="11.30" height="13.31" fill="#000"/>
<line x1="123.10" y1="648.09" x2="123.10" y2="652.18" stroke="#999" stroke-width="0.75"/>
<line x1="121.90" y1="648.09" x2="124.30" y2="648.09" stroke="#999" stroke-width="0.75"/>
<rect x="118.10" y="652.18" width="10.00" height="22.02" fill="#fff" stroke="#666" stroke-width="0.7"/>
<line x1="134.05" y1="620.44" x2="134.05" y2="634.26" stroke="#999" stroke-width="0.75"/>
<line x1="132.85" y1="620.44" x2="135.25" y2="620.44" stroke="#999" stroke-width="0.75"/>
<rect x="128.50" y="634.26" width="11.10" height="39.94" fill="#000"/>
<polyline points="123.10,646.59 123.10,611.20 134.05,611.20 134.05,619.44" fill="none" stroke="#999" stroke-width="0.75"/>
<text x="128.57" y="612.20" font-size="9.40" text-anchor="middle" stroke="#000" stroke-width="0.35">*</text>
<text x="92.40" y="597.70" font-size="9.00" textLength="28.80" lengthAdjust="spacingAndGlyphs" stroke="#000" stroke-width="0.22">IL-17A</text>
<text x="51.30" y="592.60" font-size="5.40" textLength="21.60" lengthAdjust="spacingAndGlyphs">(pg/ml)</text>
<text x="76.20" y="683.90" font-size="8.40" textLength="29.50" lengthAdjust="spacingAndGlyphs" stroke="#000" stroke-width="0.35">Day 14</text>
<text x="113.50" y="683.90" font-size="8.40" textLength="29.60" lengthAdjust="spacingAndGlyphs" stroke="#000" stroke-width="0.35">Day 28</text>
<line x1="171.60" y1="596.80" x2="171.60" y2="674.20" stroke="#8a8a8a" stroke-width="0.9"/>
<line x1="171.60" y1="674.20" x2="247.30" y2="674.20" stroke="#8a8a8a" stroke-width="0.9"/>
<line x1="169.40" y1="674.20" x2="171.60" y2="674.20" stroke="#8a8a8a" stroke-width="0.7"/>
<text x="166.40" y="676.36" font-size="6.00" font-weight="normal" fill="#444" textLength="2.20" lengthAdjust="spacingAndGlyphs">0</text>
<line x1="169.40" y1="654.98" x2="171.60" y2="654.98" stroke="#8a8a8a" stroke-width="0.7"/>
<text x="159.80" y="657.13" font-size="6.00" font-weight="normal" fill="#444" textLength="8.80" lengthAdjust="spacingAndGlyphs">1000</text>
<line x1="169.40" y1="635.75" x2="171.60" y2="635.75" stroke="#8a8a8a" stroke-width="0.7"/>
<text x="159.80" y="637.91" font-size="6.00" font-weight="normal" fill="#444" textLength="8.80" lengthAdjust="spacingAndGlyphs">2000</text>
<line x1="169.40" y1="616.52" x2="171.60" y2="616.52" stroke="#8a8a8a" stroke-width="0.7"/>
<text x="159.80" y="618.68" font-size="6.00" font-weight="normal" fill="#444" textLength="8.80" lengthAdjust="spacingAndGlyphs">3000</text>
<line x1="169.40" y1="597.30" x2="171.60" y2="597.30" stroke="#8a8a8a" stroke-width="0.7"/>
<text x="159.80" y="599.46" font-size="6.00" font-weight="normal" fill="#444" textLength="8.80" lengthAdjust="spacingAndGlyphs">4000</text>
<line x1="185.80" y1="661.70" x2="185.80" y2="663.24" stroke="#999" stroke-width="0.75"/>
<line x1="184.60" y1="661.70" x2="187.00" y2="661.70" stroke="#999" stroke-width="0.75"/>
<rect x="180.80" y="663.24" width="10.00" height="10.96" fill="#fff" stroke="#666" stroke-width="0.7"/>
<line x1="196.50" y1="615.56" x2="196.50" y2="623.25" stroke="#999" stroke-width="0.75"/>
<line x1="195.30" y1="615.56" x2="197.70" y2="615.56" stroke="#999" stroke-width="0.75"/>
<rect x="191.20" y="623.25" width="10.60" height="50.95" fill="#000"/>
<line x1="223.70" y1="662.67" x2="223.70" y2="663.24" stroke="#999" stroke-width="0.75"/>
<line x1="222.50" y1="662.67" x2="224.90" y2="662.67" stroke="#999" stroke-width="0.75"/>
<rect x="218.90" y="663.24" width="9.60" height="10.96" fill="#fff" stroke="#666" stroke-width="0.7"/>
<line x1="234.40" y1="636.71" x2="234.40" y2="644.40" stroke="#999" stroke-width="0.75"/>
<line x1="233.20" y1="636.71" x2="235.60" y2="636.71" stroke="#999" stroke-width="0.75"/>
<rect x="228.90" y="644.40" width="11.00" height="29.80" fill="#000"/>
<polyline points="185.80,660.20 185.80,605.40 196.50,605.40 196.50,614.56" fill="none" stroke="#999" stroke-width="0.75"/>
<text x="191.15" y="606.40" font-size="9.40" text-anchor="middle" stroke="#000" stroke-width="0.35">*</text>
<text x="197.70" y="597.70" font-size="9.00" textLength="24.20" lengthAdjust="spacingAndGlyphs" stroke="#000" stroke-width="0.22">IFN-&#947;</text>
<text x="150.40" y="592.60" font-size="5.40" textLength="20.80" lengthAdjust="spacingAndGlyphs">(pg/ml)</text>
<text x="175.80" y="683.90" font-size="8.40" textLength="30.00" lengthAdjust="spacingAndGlyphs" stroke="#000" stroke-width="0.35">Day 14</text>
<text x="213.90" y="683.90" font-size="8.40" textLength="30.00" lengthAdjust="spacingAndGlyphs" stroke="#000" stroke-width="0.35">Day 28</text>
<line x1="275.80" y1="595.20" x2="275.80" y2="673.90" stroke="#8a8a8a" stroke-width="0.9"/>
<line x1="275.80" y1="673.90" x2="350.80" y2="673.90" stroke="#8a8a8a" stroke-width="0.9"/>
<line x1="273.60" y1="673.90" x2="275.80" y2="673.90" stroke="#8a8a8a" stroke-width="0.7"/>
<text x="270.60" y="675.77" font-size="5.20" font-weight="normal" fill="#666" textLength="2.80" lengthAdjust="spacingAndGlyphs">0</text>
<line x1="273.60" y1="654.35" x2="275.80" y2="654.35" stroke="#8a8a8a" stroke-width="0.7"/>
<text x="267.80" y="656.22" font-size="5.20" font-weight="normal" fill="#666" textLength="5.60" lengthAdjust="spacingAndGlyphs">20</text>
<line x1="273.60" y1="634.80" x2="275.80" y2="634.80" stroke="#8a8a8a" stroke-width="0.7"/>
<text x="267.80" y="636.67" font-size="5.20" font-weight="normal" fill="#666" textLength="5.60" lengthAdjust="spacingAndGlyphs">40</text>
<line x1="273.60" y1="615.25" x2="275.80" y2="615.25" stroke="#8a8a8a" stroke-width="0.7"/>
<text x="267.80" y="617.12" font-size="5.20" font-weight="normal" fill="#666" textLength="5.60" lengthAdjust="spacingAndGlyphs">60</text>
<line x1="273.60" y1="595.70" x2="275.80" y2="595.70" stroke="#8a8a8a" stroke-width="0.7"/>
<text x="267.80" y="597.57" font-size="5.20" font-weight="normal" fill="#666" textLength="5.60" lengthAdjust="spacingAndGlyphs">80</text>
<line x1="289.60" y1="672.73" x2="289.60" y2="672.92" stroke="#999" stroke-width="0.75"/>
<line x1="288.40" y1="672.73" x2="290.80" y2="672.73" stroke="#999" stroke-width="0.75"/>
<rect x="284.70" y="672.92" width="9.80" height="0.98" fill="#fff" stroke="#666" stroke-width="0.7"/>
<line x1="300.35" y1="609.38" x2="300.35" y2="624.05" stroke="#999" stroke-width="0.75"/>
<line x1="299.15" y1="609.38" x2="301.55" y2="609.38" stroke="#999" stroke-width="0.75"/>
<rect x="294.90" y="624.05" width="10.90" height="49.85" fill="#000"/>
<line x1="327.10" y1="671.46" x2="327.10" y2="671.94" stroke="#999" stroke-width="0.75"/>
<line x1="325.90" y1="671.46" x2="328.30" y2="671.46" stroke="#999" stroke-width="0.75"/>
<rect x="322.30" y="671.94" width="9.60" height="1.96" fill="#fff" stroke="#666" stroke-width="0.7"/>
<line x1="337.75" y1="632.85" x2="337.75" y2="642.13" stroke="#999" stroke-width="0.75"/>
<line x1="336.55" y1="632.85" x2="338.95" y2="632.85" stroke="#999" stroke-width="0.75"/>
<rect x="332.30" y="642.13" width="10.90" height="31.77" fill="#000"/>
<polyline points="289.60,671.23 289.60,603.50 300.35,603.50 300.35,608.38" fill="none" stroke="#999" stroke-width="0.75"/>
<text x="294.98" y="604.50" font-size="9.40" text-anchor="middle" stroke="#000" stroke-width="0.35">**</text>
<polyline points="327.10,669.96 327.10,627.30 337.75,627.30 337.75,631.85" fill="none" stroke="#999" stroke-width="0.75"/>
<text x="332.43" y="628.30" font-size="9.40" text-anchor="middle" stroke="#000" stroke-width="0.35">*</text>
<text x="300.10" y="597.70" font-size="9.00" textLength="22.20" lengthAdjust="spacingAndGlyphs" stroke="#000" stroke-width="0.22">IL-13</text>
<text x="255.00" y="592.60" font-size="5.40" textLength="21.50" lengthAdjust="spacingAndGlyphs">(pg/ml)</text>
<text x="279.70" y="683.90" font-size="8.40" textLength="29.50" lengthAdjust="spacingAndGlyphs" stroke="#000" stroke-width="0.35">Day 14</text>
<text x="318.00" y="683.90" font-size="8.40" textLength="30.00" lengthAdjust="spacingAndGlyphs" stroke="#000" stroke-width="0.35">Day 28</text>
<line x1="382.30" y1="596.80" x2="382.30" y2="674.20" stroke="#8a8a8a" stroke-width="0.9"/>
<line x1="382.30" y1="674.20" x2="458.50" y2="674.20" stroke="#8a8a8a" stroke-width="0.9"/>
<line x1="380.10" y1="674.20" x2="382.30" y2="674.20" stroke="#8a8a8a" stroke-width="0.7"/>
<text x="375.20" y="675.86" font-size="4.60" fill="#222" textLength="3.40" lengthAdjust="spacingAndGlyphs">0</text>
<line x1="380.10" y1="654.98" x2="382.30" y2="654.98" stroke="#8a8a8a" stroke-width="0.7"/>
<text x="371.80" y="656.63" font-size="4.60" fill="#222" textLength="6.80" lengthAdjust="spacingAndGlyphs">10</text>
<line x1="380.10" y1="635.75" x2="382.30" y2="635.75" stroke="#8a8a8a" stroke-width="0.7"/>
<text x="371.80" y="637.41" font-size="4.60" fill="#222" textLength="6.80" lengthAdjust="spacingAndGlyphs">20</text>
<line x1="380.10" y1="616.52" x2="382.30" y2="616.52" stroke="#8a8a8a" stroke-width="0.7"/>
<text x="371.80" y="618.18" font-size="4.60" fill="#222" textLength="6.80" lengthAdjust="spacingAndGlyphs">30</text>
<line x1="380.10" y1="597.30" x2="382.30" y2="597.30" stroke="#8a8a8a" stroke-width="0.7"/>
<text x="371.80" y="598.96" font-size="4.60" fill="#222" textLength="6.80" lengthAdjust="spacingAndGlyphs">40</text>
<line x1="390.00" y1="673.80" x2="401.20" y2="673.80" stroke="#999" stroke-width="0.9"/>
<line x1="406.75" y1="619.41" x2="406.75" y2="624.22" stroke="#999" stroke-width="0.75"/>
<line x1="405.55" y1="619.41" x2="407.95" y2="619.41" stroke="#999" stroke-width="0.75"/>
<rect x="401.20" y="624.22" width="11.10" height="49.99" fill="#000"/>
<line x1="428.00" y1="673.80" x2="439.30" y2="673.80" stroke="#999" stroke-width="0.9"/>
<line x1="444.85" y1="612.68" x2="444.85" y2="634.79" stroke="#999" stroke-width="0.75"/>
<line x1="443.65" y1="612.68" x2="446.05" y2="612.68" stroke="#999" stroke-width="0.75"/>
<rect x="439.30" y="634.79" width="11.10" height="39.41" fill="#000"/>
<text x="407.20" y="597.70" font-size="9.00" textLength="20.80" lengthAdjust="spacingAndGlyphs" stroke="#000" stroke-width="0.22">IL-21</text>
<text x="361.00" y="592.60" font-size="5.40" textLength="21.30" lengthAdjust="spacingAndGlyphs">(pg/ml)</text>
<text x="385.80" y="683.90" font-size="8.40" textLength="30.70" lengthAdjust="spacingAndGlyphs" stroke="#000" stroke-width="0.35">Day 14</text>
<text x="425.00" y="683.90" font-size="8.40" textLength="30.00" lengthAdjust="spacingAndGlyphs" stroke="#000" stroke-width="0.35">Day 28</text>
<line x1="71.60" y1="705.00" x2="71.60" y2="781.60" stroke="#8a8a8a" stroke-width="0.9"/>
<line x1="71.60" y1="781.60" x2="146.20" y2="781.60" stroke="#8a8a8a" stroke-width="0.9"/>
<line x1="69.40" y1="781.60" x2="71.60" y2="781.60" stroke="#8a8a8a" stroke-width="0.7"/>
<text x="65.50" y="783.15" font-size="4.30" fill="#333" textLength="3.10" lengthAdjust="spacingAndGlyphs">0</text>
<line x1="69.40" y1="766.38" x2="71.60" y2="766.38" stroke="#8a8a8a" stroke-width="0.7"/>
<text x="59.30" y="767.93" font-size="4.30" fill="#333" textLength="9.30" lengthAdjust="spacingAndGlyphs">500</text>
<line x1="69.40" y1="751.16" x2="71.60" y2="751.16" stroke="#8a8a8a" stroke-width="0.7"/>
<text x="53.10" y="752.71" font-size="4.30" fill="#333" textLength="15.50" lengthAdjust="spacingAndGlyphs">1 000</text>
<line x1="69.40" y1="735.94" x2="71.60" y2="735.94" stroke="#8a8a8a" stroke-width="0.7"/>
<text x="53.10" y="737.49" font-size="4.30" fill="#333" textLength="15.50" lengthAdjust="spacingAndGlyphs">1 500</text>
<line x1="69.40" y1="720.72" x2="71.60" y2="720.72" stroke="#8a8a8a" stroke-width="0.7"/>
<text x="56.20" y="722.27" font-size="4.30" fill="#333" textLength="12.40" lengthAdjust="spacingAndGlyphs">2000</text>
<line x1="69.40" y1="705.50" x2="71.60" y2="705.50" stroke="#8a8a8a" stroke-width="0.7"/>
<text x="56.20" y="707.05" font-size="4.30" fill="#333" textLength="12.40" lengthAdjust="spacingAndGlyphs">2500</text>
<line x1="85.80" y1="758.16" x2="85.80" y2="761.21" stroke="#999" stroke-width="0.75"/>
<line x1="84.60" y1="758.16" x2="87.00" y2="758.16" stroke="#999" stroke-width="0.75"/>
<rect x="80.80" y="761.21" width="10.00" height="20.39" fill="#fff" stroke="#666" stroke-width="0.7"/>
<line x1="96.50" y1="710.07" x2="96.50" y2="719.20" stroke="#999" stroke-width="0.75"/>
<line x1="95.30" y1="710.07" x2="97.70" y2="710.07" stroke="#999" stroke-width="0.75"/>
<rect x="91.20" y="719.20" width="10.60" height="62.40" fill="#000"/>
<line x1="123.70" y1="745.07" x2="123.70" y2="750.25" stroke="#999" stroke-width="0.75"/>
<line x1="122.50" y1="745.07" x2="124.90" y2="745.07" stroke="#999" stroke-width="0.75"/>
<rect x="118.90" y="750.25" width="9.60" height="31.35" fill="#fff" stroke="#666" stroke-width="0.7"/>
<line x1="134.30" y1="723.76" x2="134.30" y2="738.98" stroke="#999" stroke-width="0.75"/>
<line x1="133.10" y1="723.76" x2="135.50" y2="723.76" stroke="#999" stroke-width="0.75"/>
<rect x="128.90" y="738.98" width="10.80" height="42.62" fill="#000"/>
<text x="91.90" y="704.30" font-size="9.00" textLength="27.70" lengthAdjust="spacingAndGlyphs" stroke="#000" stroke-width="0.22">TNF-&#945;</text>
<text x="50.40" y="700.40" font-size="5.40" textLength="21.90" lengthAdjust="spacingAndGlyphs">(pg/ml)</text>
<text x="75.80" y="790.90" font-size="8.40" textLength="30.00" lengthAdjust="spacingAndGlyphs" stroke="#000" stroke-width="0.35">Day 14</text>
<text x="113.40" y="790.90" font-size="8.40" textLength="30.50" lengthAdjust="spacingAndGlyphs" stroke="#000" stroke-width="0.35">Day 28</text>
<line x1="171.20" y1="704.00" x2="171.20" y2="781.90" stroke="#8a8a8a" stroke-width="0.9"/>
<line x1="171.20" y1="781.90" x2="246.20" y2="781.90" stroke="#8a8a8a" stroke-width="0.9"/>
<line x1="169.00" y1="781.90" x2="171.20" y2="781.90" stroke="#8a8a8a" stroke-width="0.7"/>
<text x="166.20" y="783.66" font-size="4.90" font-weight="normal" fill="#555" textLength="2.40" lengthAdjust="spacingAndGlyphs">0</text>
<line x1="169.00" y1="743.20" x2="171.20" y2="743.20" stroke="#8a8a8a" stroke-width="0.7"/>
<text x="163.80" y="744.96" font-size="4.90" font-weight="normal" fill="#555" textLength="4.80" lengthAdjust="spacingAndGlyphs">50</text>
<line x1="169.00" y1="704.50" x2="171.20" y2="704.50" stroke="#8a8a8a" stroke-width="0.7"/>
<text x="161.40" y="706.26" font-size="4.90" font-weight="normal" fill="#555" textLength="7.20" lengthAdjust="spacingAndGlyphs">100</text>
<line x1="185.25" y1="756.36" x2="185.25" y2="764.87" stroke="#999" stroke-width="0.75"/>
<line x1="184.05" y1="756.36" x2="186.45" y2="756.36" stroke="#999" stroke-width="0.75"/>
<rect x="180.10" y="764.87" width="10.30" height="17.03" fill="#fff" stroke="#666" stroke-width="0.7"/>
<line x1="196.20" y1="764.10" x2="196.20" y2="772.61" stroke="#999" stroke-width="0.75"/>
<line x1="195.00" y1="764.10" x2="197.40" y2="764.10" stroke="#999" stroke-width="0.75"/>
<rect x="190.80" y="772.61" width="10.80" height="9.29" fill="#000"/>
<line x1="222.85" y1="778.03" x2="222.85" y2="778.80" stroke="#999" stroke-width="0.75"/>
<line x1="221.65" y1="778.03" x2="224.05" y2="778.03" stroke="#999" stroke-width="0.75"/>
<rect x="217.70" y="778.80" width="10.30" height="3.10" fill="#fff" stroke="#666" stroke-width="0.7"/>
<line x1="233.80" y1="722.30" x2="233.80" y2="738.56" stroke="#999" stroke-width="0.75"/>
<line x1="232.60" y1="722.30" x2="235.00" y2="722.30" stroke="#999" stroke-width="0.75"/>
<rect x="228.40" y="738.56" width="10.80" height="43.34" fill="#000"/>
<text x="195.40" y="704.30" font-size="9.00" textLength="20.80" lengthAdjust="spacingAndGlyphs" stroke="#000" stroke-width="0.22">IL-22</text>
<text x="150.40" y="700.40" font-size="5.40" textLength="20.80" lengthAdjust="spacingAndGlyphs">(pg/ml)</text>
<text x="174.60" y="790.90" font-size="8.40" textLength="30.40" lengthAdjust="spacingAndGlyphs" stroke="#000" stroke-width="0.35">Day 14</text>
<text x="213.40" y="790.90" font-size="8.40" textLength="30.00" lengthAdjust="spacingAndGlyphs" stroke="#000" stroke-width="0.35">Day 28</text>
<line x1="276.20" y1="705.70" x2="276.20" y2="781.90" stroke="#8a8a8a" stroke-width="0.9"/>
<line x1="276.20" y1="781.90" x2="348.50" y2="781.90" stroke="#8a8a8a" stroke-width="0.9"/>
<line x1="274.00" y1="781.90" x2="276.20" y2="781.90" stroke="#8a8a8a" stroke-width="0.7"/>
<text x="270.80" y="783.74" font-size="5.10" font-weight="normal" fill="#555" textLength="2.40" lengthAdjust="spacingAndGlyphs">0</text>
<line x1="274.00" y1="756.67" x2="276.20" y2="756.67" stroke="#8a8a8a" stroke-width="0.7"/>
<text x="266.00" y="758.50" font-size="5.10" font-weight="normal" fill="#555" textLength="7.20" lengthAdjust="spacingAndGlyphs">100</text>
<line x1="274.00" y1="731.43" x2="276.20" y2="731.43" stroke="#8a8a8a" stroke-width="0.7"/>
<text x="266.00" y="733.27" font-size="5.10" font-weight="normal" fill="#555" textLength="7.20" lengthAdjust="spacingAndGlyphs">200</text>
<line x1="274.00" y1="706.20" x2="276.20" y2="706.20" stroke="#8a8a8a" stroke-width="0.7"/>
<text x="266.00" y="708.04" font-size="5.10" font-weight="normal" fill="#555" textLength="7.20" lengthAdjust="spacingAndGlyphs">300</text>
<line x1="290.05" y1="715.03" x2="290.05" y2="737.74" stroke="#999" stroke-width="0.75"/>
<line x1="288.85" y1="715.03" x2="291.25" y2="715.03" stroke="#999" stroke-width="0.75"/>
<rect x="284.70" y="737.74" width="10.70" height="44.16" fill="#fff" stroke="#666" stroke-width="0.7"/>
<rect x="295.80" y="781.90" width="10.20" height="0.00" fill="#000"/>
<line x1="327.95" y1="724.37" x2="327.95" y2="737.74" stroke="#999" stroke-width="0.75"/>
<line x1="326.75" y1="724.37" x2="329.15" y2="724.37" stroke="#999" stroke-width="0.75"/>
<rect x="322.80" y="737.74" width="10.30" height="44.16" fill="#fff" stroke="#666" stroke-width="0.7"/>
<line x1="339.00" y1="712.51" x2="339.00" y2="728.91" stroke="#999" stroke-width="0.75"/>
<line x1="337.80" y1="712.51" x2="340.20" y2="712.51" stroke="#999" stroke-width="0.75"/>
<rect x="333.50" y="728.91" width="11.00" height="52.99" fill="#000"/>
<text x="296.50" y="704.30" font-size="9.00" textLength="26.50" lengthAdjust="spacingAndGlyphs" stroke="#000" stroke-width="0.22">IL-17F</text>
<text x="255.00" y="700.40" font-size="5.40" textLength="20.80" lengthAdjust="spacingAndGlyphs">(pg/ml)</text>
<text x="279.70" y="790.90" font-size="8.40" textLength="30.00" lengthAdjust="spacingAndGlyphs" stroke="#000" stroke-width="0.35">Day 14</text>
<text x="318.50" y="790.90" font-size="8.40" textLength="30.00" lengthAdjust="spacingAndGlyphs" stroke="#000" stroke-width="0.35">Day 28</text>
<rect x="359.60" y="709.10" width="6.40" height="4.40" fill="#fff" stroke="#333" stroke-width="0.8"/>
<rect x="359.20" y="718.50" width="7.20" height="5.20" fill="#000"/>
<text x="369.60" y="713.80" font-size="7.30" textLength="37.70" lengthAdjust="spacingAndGlyphs" stroke="#000" stroke-width="0.22">Syngeneic</text>
<text x="369.60" y="723.60" font-size="7.30" textLength="38.30" lengthAdjust="spacingAndGlyphs" stroke="#000" stroke-width="0.22">Allogeneic</text>
</g></svg></body></html>
